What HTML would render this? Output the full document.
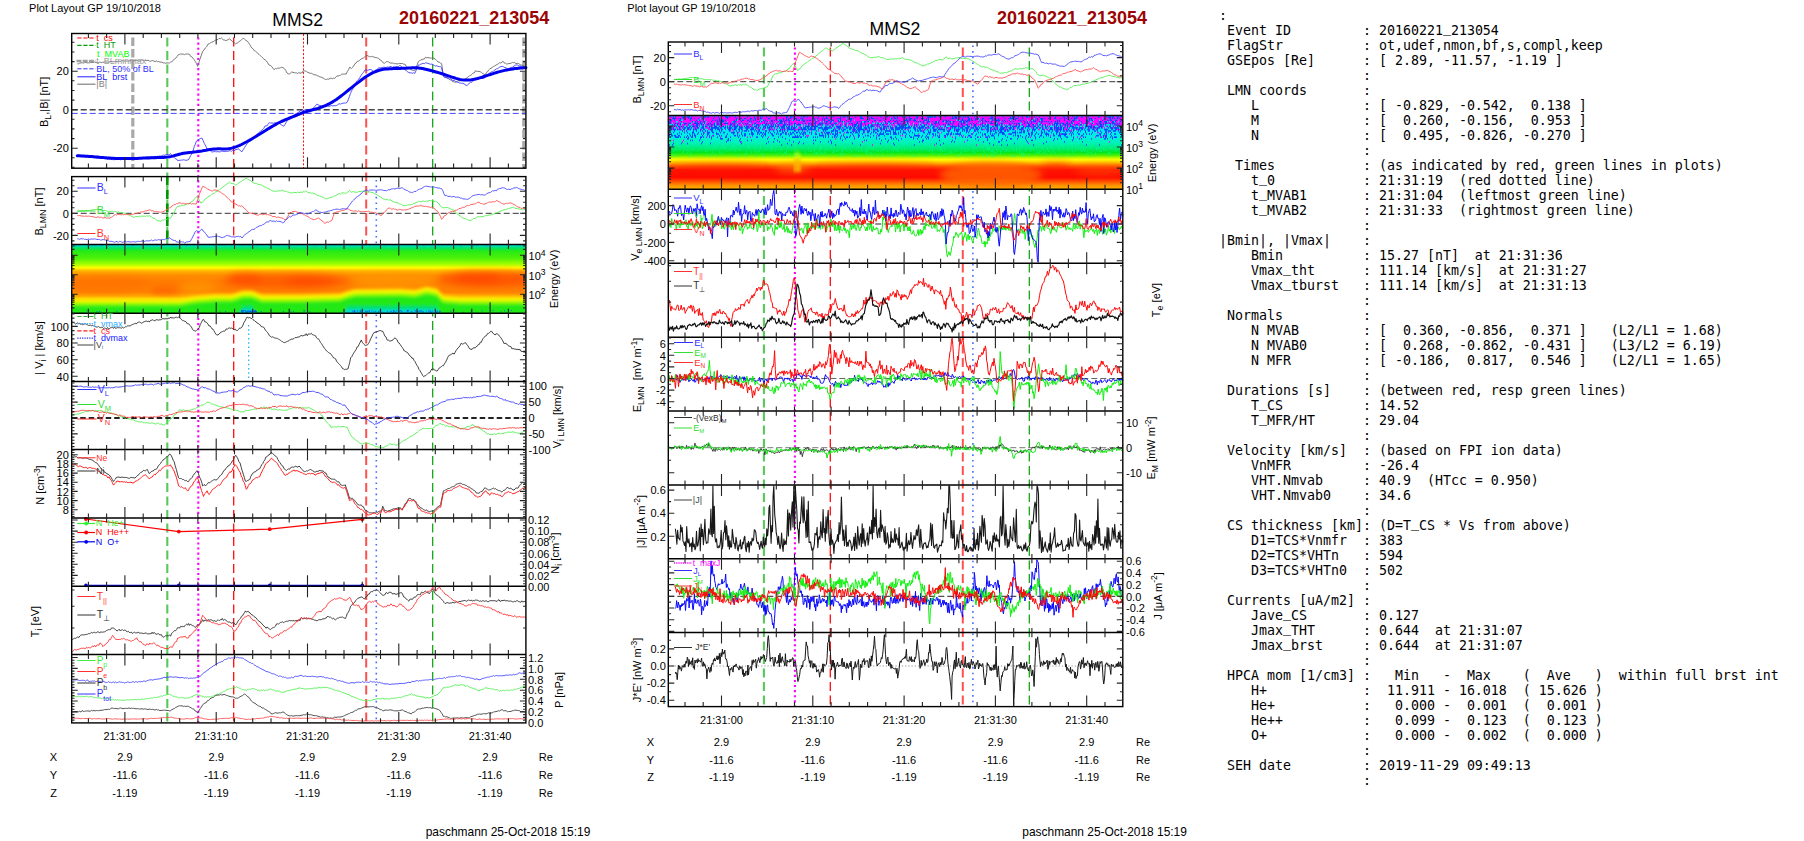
<!DOCTYPE html><html><head><meta charset="utf-8"><title>MMS2 20160221_213054</title>
<style>html,body{margin:0;padding:0;background:#fff;}body{width:1804px;height:841px;position:relative;overflow:hidden;}svg{position:absolute;left:0;top:0;font-family:"Liberation Sans",Arial,Helvetica,sans-serif;}pre{position:absolute;left:1219px;top:8px;margin:0;font-family:"DejaVu Sans Mono","Liberation Mono",monospace;font-size:13.29px;line-height:15px;color:#000;white-space:pre;}.u{position:relative;top:-3px;}</style></head><body>
<svg width="1804" height="841" viewBox="0 0 1804 841">
<defs>
<linearGradient id="gion" x1="0" y1="0" x2="0" y2="1"><stop offset="0.000" stop-color="#00dce0"/><stop offset="0.020" stop-color="#00e0c0"/><stop offset="0.050" stop-color="#00e464"/><stop offset="0.100" stop-color="#28ea14"/><stop offset="0.205" stop-color="#50f208"/><stop offset="0.285" stop-color="#a0ff00"/><stop offset="0.340" stop-color="#ffff00"/><stop offset="0.385" stop-color="#ffb400"/><stop offset="0.450" stop-color="#ff8c00"/><stop offset="0.540" stop-color="#ff7d00"/><stop offset="0.690" stop-color="#ff8200"/><stop offset="0.760" stop-color="#ffaa00"/><stop offset="0.805" stop-color="#fafa00"/><stop offset="0.850" stop-color="#82fa00"/><stop offset="0.905" stop-color="#1ee614"/><stop offset="0.955" stop-color="#0ae632"/><stop offset="0.985" stop-color="#00e65a"/><stop offset="1.000" stop-color="#00dcb4"/></linearGradient>
<linearGradient id="gele" x1="0" y1="0" x2="0" y2="1"><stop offset="0.000" stop-color="#00dcf5"/><stop offset="0.130" stop-color="#00e4f0"/><stop offset="0.220" stop-color="#00ecec"/><stop offset="0.300" stop-color="#00f0dc"/><stop offset="0.380" stop-color="#00f0b4"/><stop offset="0.450" stop-color="#00ec6e"/><stop offset="0.500" stop-color="#00e61e"/><stop offset="0.540" stop-color="#50f000"/><stop offset="0.575" stop-color="#c8fa00"/><stop offset="0.600" stop-color="#ffff00"/><stop offset="0.645" stop-color="#ffb400"/><stop offset="0.690" stop-color="#ff5000"/><stop offset="0.735" stop-color="#ff1400"/><stop offset="0.840" stop-color="#ff0a00"/><stop offset="0.895" stop-color="#ff5000"/><stop offset="0.940" stop-color="#ff8c00"/><stop offset="1.000" stop-color="#ffb400"/></linearGradient>
<radialGradient id="rb"><stop offset="0" stop-color="#ff3c00" stop-opacity="0.85"/><stop offset="0.6" stop-color="#ff4600" stop-opacity="0.45"/><stop offset="1" stop-color="#ff5000" stop-opacity="0"/></radialGradient>
<radialGradient id="ob"><stop offset="0" stop-color="#ffa000" stop-opacity="0.8"/><stop offset="1" stop-color="#ffa000" stop-opacity="0"/></radialGradient>
<radialGradient id="yb"><stop offset="0" stop-color="#c8ff00" stop-opacity="0.9"/><stop offset="1" stop-color="#c8ff00" stop-opacity="0"/></radialGradient>
<radialGradient id="gb"><stop offset="0" stop-color="#28e628" stop-opacity="0.9"/><stop offset="1" stop-color="#28e628" stop-opacity="0"/></radialGradient>
<radialGradient id="cb"><stop offset="0" stop-color="#00dcff" stop-opacity="0.9"/><stop offset="1" stop-color="#00dcff" stop-opacity="0"/></radialGradient>
<clipPath id="cpi"><rect x="71.7" y="244.4" width="454.2" height="68.9"/></clipPath>
<clipPath id="cpe"><rect x="668.3" y="115.5" width="454.5" height="73.8"/></clipPath>
<filter id="bl1" x="-5%" y="-50%" width="110%" height="200%"><feGaussianBlur stdDeviation="1.4"/></filter>
<filter id="bl3" x="-10%" y="-50%" width="120%" height="200%"><feGaussianBlur stdDeviation="3.5"/></filter>
</defs>
<line x1="167.3" y1="37.5" x2="167.3" y2="722.9" stroke="#58c858" stroke-width="2.1" stroke-dasharray="9 4.5" />
<line x1="198.3" y1="37.5" x2="198.3" y2="722.9" stroke="#ff00ff" stroke-width="2.1" stroke-dasharray="2.1 3.0" />
<line x1="233.7" y1="37.5" x2="233.7" y2="722.9" stroke="#ff0a0a" stroke-width="1.3" stroke-dasharray="9 4.5" />
<line x1="366.2" y1="37.5" x2="366.2" y2="722.9" stroke="#ff5050" stroke-width="2.0" stroke-dasharray="9 4.5" />
<line x1="432.7" y1="37.5" x2="432.7" y2="722.9" stroke="#00a000" stroke-width="1.2" stroke-dasharray="9 4.5" />
<line x1="376.3" y1="180.0" x2="376.3" y2="722.9" stroke="#4a6aff" stroke-width="1.6" stroke-dasharray="1.6 4" />
<line x1="167.3" y1="176.6" x2="167.3" y2="244.4" stroke="#009600" stroke-width="2.6" stroke-dasharray="9 4.5" />
<line x1="132.8" y1="37.5" x2="132.8" y2="168.2" stroke="#a8a8a8" stroke-width="3.2" stroke-dasharray="8.5 3" />
<line x1="523.8" y1="37.5" x2="523.8" y2="168.2" stroke="#a8a8a8" stroke-width="3.2" stroke-dasharray="8.5 3" />
<line x1="303.5" y1="34.0" x2="303.5" y2="168.2" stroke="#ff0000" stroke-width="0.9" stroke-dasharray="2.2 1.6" />
<line x1="248.7" y1="325.0" x2="248.7" y2="381.5" stroke="#00a8ff" stroke-width="1.1" stroke-dasharray="1.5 2.8" />
<rect x="71.7" y="244.4" width="454.2" height="68.9" fill="url(#gion)"/>
<g clip-path="url(#cpi)">
<g filter="url(#bl3)">
<ellipse cx="286.0" cy="281.0" rx="64.0" ry="7.5" fill="#ff4a00" opacity="0.60"/>
<ellipse cx="245.0" cy="278.5" rx="17.0" ry="6.0" fill="#ff3c00" opacity="0.50"/>
<ellipse cx="310.0" cy="281.5" rx="25.0" ry="6.0" fill="#ff3c00" opacity="0.50"/>
<ellipse cx="489.0" cy="279.0" rx="51.0" ry="8.0" fill="#ff4600" opacity="0.70"/>
<ellipse cx="477.5" cy="278.0" rx="22.5" ry="6.0" fill="#ff3c00" opacity="0.50"/>
<ellipse cx="165.0" cy="290.5" rx="15.0" ry="4.0" fill="#ff5000" opacity="0.60"/>
<ellipse cx="105.0" cy="284.0" rx="45.0" ry="9.0" fill="#ff6400" opacity="0.35"/>
<ellipse cx="394.0" cy="281.0" rx="42.0" ry="8.0" fill="#ffa000" opacity="0.55"/>
<ellipse cx="198.5" cy="287.0" rx="16.5" ry="7.0" fill="#ffa000" opacity="0.50"/>
</g>
<g filter="url(#bl1)">
<polygon points="60.0,297.8 180.0,297.8 195.0,295.3 215.0,293.8 232.0,293.8 243.0,290.3 252.0,290.3 262.0,294.3 300.0,294.3 340.0,293.3 347.0,290.8 355.0,288.8 400.0,288.3 415.0,289.3 427.0,286.3 437.0,288.3 443.0,294.8 460.0,296.3 540.0,296.3 540,330 60,330" fill="#ffc800"/>
<polygon points="60.0,299.8 180.0,299.8 195.0,297.3 215.0,295.8 232.0,295.8 243.0,292.3 252.0,292.3 262.0,296.3 300.0,296.3 340.0,295.3 347.0,292.8 355.0,290.8 400.0,290.3 415.0,291.3 427.0,288.3 437.0,290.3 443.0,296.8 460.0,298.3 540.0,298.3 540,330 60,330" fill="#f8f800"/>
<polygon points="60.0,302.6 180.0,302.6 195.0,300.1 215.0,298.6 232.0,298.6 243.0,295.1 252.0,295.1 262.0,299.1 300.0,299.1 340.0,298.1 347.0,295.6 355.0,293.6 400.0,293.1 415.0,294.1 427.0,291.1 437.0,293.1 443.0,299.6 460.0,301.1 540.0,301.1 540,330 60,330" fill="#8cfa00"/>
<polygon points="60.0,305.6 180.0,305.6 195.0,303.1 215.0,301.6 232.0,301.6 243.0,298.1 252.0,298.1 262.0,302.1 300.0,302.1 340.0,301.1 347.0,298.6 355.0,296.6 400.0,296.1 415.0,297.1 427.0,294.1 437.0,296.1 443.0,302.6 460.0,304.1 540.0,304.1 540,330 60,330" fill="#22e818"/>
<polygon points="60.0,325.0 180.0,325.0 195.0,325.0 215.0,325.0 232.0,325.0 243.0,305.8 252.0,305.8 262.0,325.0 300.0,325.0 340.0,325.0 347.0,305.8 355.0,305.8 400.0,305.8 415.0,305.8 427.0,305.8 437.0,305.8 443.0,325.0 460.0,325.0 540.0,325.0 540,330 60,330" fill="#00de6e"/>
<polygon points="60.0,325.0 180.0,325.0 195.0,325.0 215.0,325.0 232.0,325.0 243.0,309.6 252.0,309.6 262.0,325.0 300.0,325.0 340.0,325.0 347.0,309.6 355.0,309.6 400.0,309.6 415.0,309.6 427.0,309.6 437.0,309.6 443.0,325.0 460.0,325.0 540.0,325.0 540,330 60,330" fill="#00dcd8"/>
</g>
<path d="M245.2 311.6h1M240.9 311.9h1M248.8 311.3h1M354.2 311.5h1M248.7 311.3h1M250.2 311.2h1M282.9 311.6h1M420.2 311.4h1M254.0 311.4h1M242.6 310.9h1M387.0 311.3h1M247.3 312.2h1M439.4 311.0h1M254.2 311.4h1M252.2 312.2h1M429.5 311.0h1M255.8 312.0h1M393.6 311.8h1M398.1 311.1h1M96.5 311.6h1M393.3 311.5h1M241.8 310.6h1M368.7 310.6h1M293.1 311.4h1M407.4 310.8h1M352.1 311.1h1M254.6 311.0h1M365.0 311.2h1M421.0 310.8h1M251.8 310.5h1M367.4 311.5h1M438.9 312.1h1M247.5 311.4h1M371.2 310.9h1M366.1 312.1h1M255.1 311.0h1M361.4 311.2h1M392.7 312.3h1M415.4 311.5h1M369.0 311.4h1M252.2 310.7h1M481.6 310.8h1M303.3 310.9h1M249.7 311.3h1M245.2 310.7h1M116.3 311.3h1M432.1 311.1h1M393.0 310.6h1M260.7 311.5h1M241.2 310.7h1M414.5 310.6h1M435.7 312.0h1M380.5 312.1h1M390.5 311.7h1M396.1 310.6h1M353.6 310.9h1M500.5 312.0h1M254.7 310.9h1M242.9 310.9h1M462.8 312.3h1M255.9 311.4h1M359.9 310.6h1M397.8 311.8h1M439.5 311.4h1M366.5 311.3h1M437.3 311.7h1M407.2 310.5h1M470.6 312.0h1M428.3 311.2h1M251.1 311.8h1M399.2 311.9h1M380.2 311.9h1M252.4 311.6h1M406.7 311.1h1M219.7 312.0h1M450.4 311.0h1M253.0 310.8h1M430.4 312.1h1M242.6 311.3h1M250.0 311.5h1M241.1 311.0h1M422.8 311.9h1M426.1 310.9h1M357.0 311.1h1M290.5 311.8h1M410.8 311.5h1M247.5 310.6h1M510.6 310.5h1M246.2 312.0h1M361.9 310.7h1M251.3 312.0h1M401.4 311.7h1M412.1 312.1h1M431.1 312.2h1M356.9 310.8h1M354.6 311.9h1M241.1 310.7h1M406.8 311.0h1M390.6 311.4h1M365.4 311.8h1M373.4 311.4h1M106.1 311.3h1M380.0 311.9h1M400.0 310.7h1M309.4 311.8h1M394.8 312.1h1M408.1 310.8h1M393.4 310.6h1M492.5 310.5h1M244.0 310.6h1M251.5 312.3h1M401.2 311.2h1M418.7 311.4h1M249.3 311.3h1M375.1 311.4h1M436.5 312.2h1M429.6 311.1h1M225.1 311.6h1M246.3 311.9h1M378.1 311.8h1M359.8 311.4h1M254.6 311.9h1M99.2 311.5h1M378.3 311.7h1M86.4 310.8h1M255.8 311.7h1M436.8 310.9h1M422.4 311.6h1M254.7 311.2h1M242.1 312.2h1M417.3 311.6h1M353.9 310.6h1M244.8 312.3h1M504.1 310.9h1M254.6 310.9h1M419.6 310.7h1M303.9 310.9h1M353.0 312.0h1M359.5 312.1h1M178.1 311.5h1" stroke="#0050f0" stroke-width="1" fill="none" opacity="0.8"/>
<path d="M475.7 245.4h1M316.0 245.8h1M416.1 245.8h1M205.1 245.4h1M193.3 245.4h1M189.9 245.6h1M156.1 245.4h1M199.5 245.9h1M157.3 245.3h1M186.0 245.4h1M310.4 245.7h1M117.5 245.6h1M88.8 245.2h1M471.9 245.4h1M275.1 245.5h1M469.2 245.4h1M94.8 245.7h1M447.1 245.4h1M106.0 245.6h1M152.5 245.7h1M423.1 245.7h1M74.9 245.7h1M393.5 245.5h1M89.0 245.5h1M92.0 246.0h1M89.3 245.8h1M486.0 245.9h1M442.9 245.5h1M240.4 245.7h1M107.3 245.2h1M296.5 245.6h1M256.9 245.8h1M372.8 245.3h1M313.9 245.7h1M252.2 245.4h1M519.7 245.7h1M261.3 245.2h1M409.6 245.9h1M259.6 245.2h1M419.3 245.8h1M363.9 245.5h1M255.5 246.0h1M268.7 245.3h1M123.4 245.3h1M333.7 245.5h1M422.2 245.3h1M95.4 245.3h1M437.3 245.5h1M331.5 245.9h1M406.0 245.3h1M229.6 245.3h1M149.8 245.3h1M245.8 245.8h1M430.8 245.8h1M208.6 245.9h1M91.7 245.9h1M214.5 245.7h1M360.3 245.3h1M394.7 245.8h1M475.7 245.7h1M460.0 245.7h1M350.5 245.4h1M286.2 245.7h1M90.9 246.0h1M142.9 245.5h1M139.7 246.0h1M441.5 245.4h1M472.4 245.9h1M376.5 245.7h1M218.9 245.5h1M278.4 245.9h1M424.5 245.7h1M211.6 245.4h1M248.3 245.5h1M300.1 245.3h1M73.6 246.0h1M282.8 245.6h1M352.2 245.9h1M451.0 245.8h1M253.4 245.3h1M234.4 245.5h1M435.4 245.6h1M369.7 245.2h1M131.0 245.9h1M214.1 245.8h1M108.2 245.8h1M477.4 245.7h1M427.3 245.2h1M102.1 245.7h1M385.7 245.3h1M131.6 245.9h1M202.4 245.8h1M432.1 245.7h1M398.6 245.4h1M449.4 245.7h1M186.3 245.5h1M349.9 245.9h1M278.8 245.4h1M508.8 245.6h1M340.1 245.7h1M179.5 245.5h1M162.1 245.5h1M360.4 245.4h1M220.5 245.5h1M430.8 245.4h1M420.0 245.2h1M460.8 246.0h1M277.2 245.6h1M384.0 245.9h1M186.2 245.6h1M460.0 245.8h1M240.3 245.5h1M239.1 245.3h1M221.9 245.3h1M176.2 245.7h1M506.0 245.4h1M305.8 245.4h1M509.6 245.9h1M492.6 245.9h1M404.1 245.8h1M172.4 245.4h1M355.4 245.5h1M236.9 245.2h1M293.2 245.7h1M92.6 245.2h1M328.9 245.4h1M309.0 245.6h1M259.2 245.4h1M132.6 245.5h1M447.3 245.3h1M78.4 245.8h1M392.5 245.6h1M100.8 245.3h1M373.5 245.4h1M439.6 246.0h1M97.4 245.9h1M476.4 245.7h1M334.0 245.7h1M306.5 245.6h1M146.8 245.2h1M99.9 245.2h1M156.1 245.3h1M485.0 245.3h1M349.5 245.7h1M161.4 245.5h1M306.8 245.7h1M365.4 245.5h1M349.8 245.6h1M100.9 245.7h1M522.3 245.8h1M288.5 245.6h1M241.9 245.5h1M485.3 245.3h1M369.0 245.3h1M523.5 245.4h1M363.7 245.3h1M475.7 245.9h1M499.1 245.4h1M95.8 245.7h1M379.7 245.7h1M487.5 246.0h1M205.9 245.9h1M477.1 245.3h1M301.9 245.3h1M481.8 245.9h1M163.9 245.3h1M486.5 245.4h1M248.1 245.7h1M243.9 245.9h1M489.5 246.0h1M453.2 245.6h1M285.9 245.6h1M74.9 245.2h1M504.9 245.4h1M472.8 245.8h1M249.4 245.7h1M328.0 245.3h1M86.9 245.3h1M353.8 245.3h1M514.8 245.8h1M86.0 245.3h1M363.5 245.2h1M102.7 245.2h1M460.0 245.8h1M162.3 246.0h1M313.9 245.7h1M470.5 245.8h1M394.2 245.5h1M183.7 245.4h1M87.3 246.0h1M484.7 245.8h1M111.6 245.8h1M358.4 245.6h1M132.1 245.8h1M364.8 245.4h1M224.4 245.4h1M231.0 245.9h1M93.9 245.8h1M484.4 245.8h1M344.7 245.6h1" stroke="#00a0e8" stroke-width="1" fill="none" opacity="0.5"/>
</g>
<line x1="71.7" y1="109.7" x2="525.9" y2="109.7" stroke="#444" stroke-width="1.6" stroke-dasharray="6 3" />
<line x1="71.7" y1="113.4" x2="525.9" y2="113.4" stroke="#4848ff" stroke-width="1.0" stroke-dasharray="6 3" />
<line x1="71.7" y1="213.3" x2="525.9" y2="213.3" stroke="#333" stroke-width="1.0" stroke-dasharray="6 3" />
<line x1="71.7" y1="418.0" x2="525.9" y2="418.0" stroke="#222" stroke-width="1.8" stroke-dasharray="5.5 3" />
<path d="M77.3 63.8L78.5 63.8L79.7 63.2L81.0 62.9L82.2 62.7L83.4 63.1L84.6 62.6L85.9 62.4L87.1 62.9L88.3 62.8L89.5 62.9L90.8 62.4L92.0 62.6L93.2 62.5L94.4 62.0L95.7 62.6L96.9 62.5L98.0 63.2L99.2 62.3L100.4 62.2L101.6 62.6L102.8 62.2L104.0 62.3L105.2 61.8L106.4 62.0L107.6 62.2L108.7 62.0L109.9 61.8L111.1 61.3L112.3 61.8L113.5 61.6L114.7 61.7L115.9 61.5L117.1 61.8L118.3 61.3L119.4 61.3L120.6 61.4L121.8 60.8L123.0 60.9L124.2 60.8L125.4 61.7L126.6 60.9L127.8 61.1L128.9 61.0L130.1 60.6L131.3 60.1L132.5 61.0L133.7 60.5L134.9 60.8L136.1 60.1L137.3 60.4L138.5 60.9L139.6 61.0L140.8 60.0L142.0 59.9L143.2 60.4L144.4 60.6L145.6 60.4L146.8 60.6L148.0 60.2L149.2 60.9L150.3 61.3L151.5 60.8L152.7 60.6L153.9 61.0L155.1 61.7L156.3 60.9L157.5 61.7L158.7 61.5L159.9 62.0L161.0 62.1L162.2 62.4L163.4 63.0L164.6 62.8L165.8 63.3L167.0 62.9L168.2 62.8L169.4 63.1L170.6 62.0L171.8 61.7L173.1 60.6L174.4 58.9L175.7 58.3L176.9 56.7L178.2 54.8L179.5 54.3L180.7 54.0L182.0 54.1L183.3 54.1L184.6 54.6L185.8 54.1L187.1 54.0L188.4 54.0L189.5 54.3L190.6 56.4L191.7 56.6L192.8 58.1L194.0 59.5L195.3 61.5L196.5 63.6L197.7 66.3L198.9 62.4L200.2 58.5L201.4 55.1L202.7 51.3L204.0 50.0L205.3 48.0L206.7 46.7L208.0 44.1L209.3 43.7L210.6 42.8L211.8 42.1L213.1 41.8L214.4 40.8L215.6 40.2L216.9 39.7L218.0 39.4L219.1 38.3L220.3 38.8L221.4 37.8L222.5 38.9L223.6 40.2L224.7 40.0L225.8 40.6L227.0 40.2L228.2 39.5L229.4 38.9L230.6 39.6L231.9 41.2L233.1 42.1L234.4 42.7L235.6 43.8L236.8 43.2L237.9 42.6L239.1 41.6L240.2 40.9L241.4 39.8L242.5 38.8L243.7 38.2L244.9 39.6L246.0 40.5L247.2 41.1L248.4 42.5L249.6 44.4L250.8 46.5L252.0 48.1L253.2 49.0L254.4 50.8L255.6 51.2L256.7 52.2L257.9 53.6L259.1 54.4L260.3 55.7L261.5 56.6L262.7 57.8L264.0 59.3L265.2 59.9L266.5 61.0L267.7 62.9L269.0 65.0L270.2 65.4L271.5 66.2L272.7 68.0L274.0 69.7L275.3 68.5L276.5 68.8L277.8 68.0L279.1 68.3L280.3 67.8L281.6 67.3L282.9 67.6L284.2 68.5L285.6 70.2L286.9 72.9L288.2 73.7L289.4 74.2L290.6 72.8L291.8 71.9L293.0 72.4L294.2 72.7L295.3 72.9L296.5 72.9L297.7 73.5L298.8 72.5L300.0 73.3L301.1 72.8L302.1 72.9L303.2 70.9L304.3 70.9L305.5 71.0L306.6 71.6L307.8 72.4L309.0 72.7L310.2 73.5L311.4 73.2L312.6 73.9L313.8 74.6L315.0 74.9L316.1 74.9L317.3 75.9L318.4 75.7L319.6 77.1L320.8 77.0L321.9 77.4L323.1 78.0L324.2 78.7L325.4 79.5L326.6 79.3L327.7 79.1L328.8 79.2L330.0 78.5L331.1 78.1L332.3 78.8L333.4 78.2L334.6 78.5L335.8 77.1L337.0 75.8L338.1 76.2L339.3 75.5L340.5 75.3L341.7 74.2L342.8 74.1L343.9 74.2L345.1 73.9L346.2 74.1L347.4 71.4L348.5 69.8L349.7 67.2L351.5 68.5L352.6 67.4L353.7 65.9L354.9 63.7L356.0 63.1L357.2 61.4L358.4 61.1L359.7 60.3L360.9 59.2L362.1 58.4L363.3 58.1L364.6 57.0L365.8 56.0L366.9 55.4L368.1 55.9L369.3 56.8L370.4 56.6L371.6 56.4L372.7 56.7L373.9 57.0L375.1 57.5L376.2 57.6L377.4 58.0L378.6 58.3L379.8 59.9L380.9 60.3L382.1 61.3L383.3 63.0L384.5 63.4L386.3 61.5L387.5 61.7L388.7 61.9L389.9 62.9L391.0 63.1L392.2 63.1L393.4 63.2L394.6 63.7L395.8 63.6L397.0 64.0L398.3 63.7L399.7 63.4L401.0 63.6L402.3 63.4L403.6 64.2L404.9 64.1L406.2 66.3L407.4 66.9L408.7 67.5L410.0 68.6L411.3 70.0L412.4 70.3L413.6 70.5L414.8 70.5L416.0 67.5L417.2 64.8L418.4 61.5L419.6 60.6L420.8 60.0L422.0 59.5L423.1 59.1L424.3 59.1L425.5 57.2L426.7 57.8L427.9 57.6L429.1 57.7L430.3 58.1L431.5 58.1L432.7 57.6L434.0 58.4L435.3 59.1L436.7 60.5L438.0 62.0L439.2 62.1L440.4 63.0L441.6 63.6L443.4 76.0L444.5 76.9L445.7 77.2L446.9 77.6L448.1 78.2L449.3 79.6L450.5 79.9L451.7 80.6L452.9 81.7L454.1 81.8L455.2 82.4L456.4 81.7L457.6 81.0L458.8 80.7L460.0 81.0L461.2 79.9L462.4 79.8L463.6 79.7L464.8 79.5L465.9 78.5L467.1 77.7L468.3 76.6L469.5 75.8L470.7 75.4L471.9 74.3L473.1 73.0L474.3 72.9L475.4 70.7L476.6 71.3L477.8 71.4L479.0 71.3L480.3 71.8L481.5 72.4L482.8 73.6L484.0 74.1L485.3 75.1L486.4 72.4L487.5 71.9L488.6 70.0L489.7 69.0L491.0 68.2L492.2 67.5L493.5 66.4L494.7 66.0L496.0 65.0L497.2 64.5L498.5 63.6L499.7 62.7L500.9 63.0L502.2 61.8L503.3 61.5L504.4 63.2L505.5 63.1L506.7 64.1L507.8 63.8L508.9 63.5L510.1 63.5L511.2 63.1L512.4 62.4L513.5 62.7L514.7 62.6L515.9 63.6L517.2 63.3L518.4 63.5L519.7 64.3L520.9 65.2L522.2 65.1L523.4 65.7L524.7 66.6L525.9 66.9" fill="none" stroke="#6a6a6a" stroke-width="0.9" stroke-linejoin="round" />
<path d="M77.3 156.8L78.5 156.0L79.7 156.4L80.9 156.5L82.1 156.8L83.3 156.2L84.5 156.7L85.7 156.7L86.9 156.7L88.2 156.9L89.4 157.1L90.6 157.3L91.8 157.2L93.0 157.7L94.2 157.6L95.4 156.9L96.6 158.3L97.8 158.0L99.0 158.0L100.2 158.4L101.4 158.5L102.6 158.6L103.8 158.4L105.0 158.9L106.3 158.5L107.5 159.5L108.7 158.8L109.9 159.2L111.1 159.4L112.3 159.6L113.5 159.6L114.7 159.7L115.9 158.5L117.1 159.5L118.3 159.4L119.4 159.3L120.6 159.8L121.8 159.0L123.0 159.3L124.2 158.7L125.4 159.3L126.6 158.7L127.8 158.7L128.9 159.8L130.1 159.3L131.3 159.1L132.5 159.0L133.7 158.4L134.9 158.4L136.1 158.7L137.3 157.8L138.5 158.4L139.6 157.6L140.8 158.1L142.0 157.6L143.2 158.3L144.4 158.0L145.6 157.4L146.8 156.8L148.0 157.0L149.2 157.1L150.3 156.7L151.5 157.0L152.7 157.1L153.9 156.6L155.1 156.4L156.3 156.6L157.5 156.2L158.7 156.4L159.9 155.9L161.0 156.3L162.2 155.5L163.4 155.1L164.6 155.3L165.8 154.8L167.0 154.5L168.2 154.6L169.4 154.7L170.6 153.6L171.7 155.3L172.9 156.3L174.1 157.3L175.3 158.6L176.5 159.0L177.7 160.7L178.9 160.3L180.1 160.3L181.3 160.1L182.4 160.0L183.6 159.8L184.8 160.0L186.0 160.4L187.2 160.0L188.4 159.9L189.6 157.7L190.8 155.3L192.0 153.5L193.1 150.9L194.2 146.7L195.3 144.2L196.4 141.2L197.7 140.1L199.1 139.3L200.4 138.6L201.8 138.0L203.1 140.6L204.4 143.6L205.8 146.1L207.1 149.2L208.2 149.6L209.3 150.3L210.5 150.8L211.6 151.8L212.8 152.0L214.1 151.5L215.4 151.7L216.7 151.8L217.9 151.6L219.2 151.9L220.5 151.7L221.7 151.2L222.9 151.1L224.1 151.6L225.3 151.5L226.6 151.5L227.8 151.2L229.0 151.1L230.2 150.5L231.4 151.3L232.6 150.5L233.9 151.0L235.0 149.9L236.1 149.6L237.2 149.4L238.3 148.8L239.5 149.6L240.7 151.0L241.9 151.8L243.2 149.7L244.6 147.5L245.9 145.3L247.2 143.4L248.4 142.3L249.6 141.3L250.8 140.5L252.0 139.1L253.2 137.8L254.4 136.7L255.6 136.2L256.7 134.7L257.9 133.6L259.1 132.5L260.3 131.5L261.5 130.2L262.6 129.5L263.8 128.3L264.9 126.1L266.1 125.9L267.2 125.7L268.4 123.4L269.5 122.8L270.7 123.1L272.0 122.9L273.2 123.4L274.4 122.7L275.7 122.8L276.9 123.2L278.1 123.1L279.3 123.1L280.4 124.3L281.6 124.9L282.7 125.6L283.8 126.2L285.0 124.4L286.2 122.3L287.4 120.2L288.5 119.7L289.7 118.7L290.8 117.7L292.0 117.0L293.1 115.6L294.3 115.0L295.4 114.0L296.6 113.7L297.7 112.5L298.9 112.1L300.0 111.1L301.1 110.4L302.3 110.0L303.4 110.4L304.6 110.0L305.8 109.8L307.1 109.4L308.3 109.7L309.5 109.4L310.7 109.3L312.0 109.1L313.2 108.5L314.4 106.7L315.6 105.8L316.7 104.2L317.9 104.6L319.1 105.4L320.3 105.5L321.5 106.3L322.7 106.3L323.9 106.9L325.1 106.7L326.4 106.6L327.6 105.9L328.9 106.4L330.1 106.0L331.4 105.5L332.6 105.9L333.9 105.6L335.1 105.8L336.4 105.5L337.7 104.8L339.0 103.7L340.4 104.1L341.7 103.5L343.0 103.2L344.4 103.0L345.7 103.1L347.1 102.3L348.2 99.9L349.3 96.8L350.4 93.6L351.5 91.1L352.6 89.1L353.7 87.5L354.9 85.2L356.0 82.5L357.3 80.6L358.5 79.4L359.8 77.5L361.1 75.5L362.3 73.6L363.6 72.2L364.9 70.1L366.2 70.0L367.6 70.3L368.9 69.9L370.2 69.4L371.4 69.8L372.6 70.7L373.8 71.9L375.1 70.3L376.5 70.1L377.8 68.5L379.2 67.7L380.3 67.9L381.5 67.4L382.7 67.5L383.9 67.0L385.1 67.5L386.3 67.5L387.5 66.9L388.7 67.1L389.9 66.8L391.0 66.2L392.2 67.5L393.4 66.8L394.6 66.8L395.8 66.5L397.0 66.4L398.2 66.9L399.4 65.6L400.6 65.9L401.7 66.9L402.9 68.0L404.1 69.3L405.3 70.0L406.5 70.8L407.7 71.9L408.9 72.5L410.1 72.8L411.3 72.9L412.4 73.3L413.6 72.8L414.8 73.4L416.0 70.7L417.2 67.7L418.4 64.9L419.6 65.0L420.8 64.1L422.0 63.9L423.1 63.3L424.3 63.7L425.5 62.8L426.8 63.0L428.0 63.4L429.3 63.8L430.5 64.3L431.8 64.1L433.0 64.6L434.3 65.5L435.5 66.0L436.8 65.7L438.0 66.4L439.2 66.7L440.4 66.6L441.6 67.7L443.4 76.4L444.6 77.4L445.8 77.5L447.0 78.1L448.2 78.1L449.5 79.0L450.7 78.8L451.9 79.9L453.1 80.7L454.3 80.4L455.6 81.5L456.8 82.1L458.0 82.1L459.2 82.9L460.4 83.0L461.7 83.3L462.9 83.3L464.1 84.0L465.3 84.4L466.5 86.0L467.8 84.5L469.1 83.5L470.4 82.3L471.6 82.4L472.9 80.7L474.2 80.7L475.4 79.7L476.7 79.2L478.0 78.7L479.3 78.6L480.5 78.0L481.8 78.3L483.1 78.4L484.4 77.9L485.6 76.9L486.7 75.4L487.9 74.8L489.1 73.4L490.3 72.6L491.5 71.9L492.7 71.9L493.9 70.6L495.1 69.9L496.3 68.8L497.4 68.8L498.6 67.9L499.8 67.1L501.0 66.5L502.2 66.4L503.5 66.8L504.9 67.7L506.2 68.0L507.5 68.7L508.8 68.6L510.1 67.9L511.4 67.4L512.6 67.1L513.9 66.2L515.2 65.3L516.5 64.9L517.6 65.0L518.8 65.9L520.0 66.0L521.2 66.6L522.4 67.0L523.6 66.9L524.7 67.5L525.9 68.2" fill="none" stroke="#2a2aff" stroke-width="0.8" stroke-linejoin="round" />
<path d="M77.3 155.8L79.3 155.8L81.4 155.9L83.4 156.0L85.5 156.2L87.5 156.3L89.5 156.5L91.6 156.6L93.6 156.8L95.7 157.0L97.6 157.1L99.6 157.3L101.6 157.4L103.6 157.6L105.6 157.7L107.6 157.9L109.5 158.0L111.5 158.2L113.5 158.3L115.5 158.4L117.5 158.4L119.4 158.5L121.4 158.5L123.4 158.6L125.4 158.6L127.4 158.6L129.3 158.6L131.3 158.6L133.3 158.6L135.3 158.5L137.3 158.4L139.3 158.3L141.2 158.2L143.2 158.1L145.2 158.1L147.2 158.0L149.2 157.9L151.2 157.8L153.3 157.7L155.3 157.7L157.4 157.6L159.4 157.6L161.5 157.5L163.5 157.5L165.6 157.3L167.6 157.1L169.7 156.8L171.6 156.4L173.5 155.9L175.5 155.3L177.4 154.8L179.3 154.2L181.3 153.8L183.4 153.3L185.5 153.0L187.6 152.7L189.7 152.5L191.8 152.3L194.0 152.0L196.1 151.8L198.2 151.5L200.2 151.2L202.2 150.9L204.1 150.5L206.1 150.2L208.1 149.8L210.1 149.5L212.1 149.2L214.0 149.0L216.0 148.9L218.0 148.8L220.0 148.8L221.9 148.9L223.9 148.9L225.8 148.9L227.8 148.8L229.8 148.5L231.9 148.1L233.9 147.5L235.8 146.9L237.7 146.2L239.6 145.4L241.5 144.5L243.4 143.5L245.3 142.5L247.2 141.5L249.3 140.4L251.3 139.2L253.3 138.0L255.4 136.7L257.4 135.4L259.5 134.2L261.5 133.0L263.5 131.7L265.5 130.5L267.4 129.3L269.4 128.1L271.4 126.9L273.4 125.7L275.4 124.6L277.3 123.5L279.3 122.5L281.4 121.5L283.5 120.6L285.5 119.7L287.6 118.8L289.7 118.0L291.7 117.2L293.8 116.3L295.9 115.5L297.9 114.7L300.0 113.9L301.7 113.2L303.4 112.5L305.4 111.9L307.5 111.3L309.5 110.7L311.6 110.1L313.6 109.5L315.7 109.0L317.7 108.4L319.8 107.7L321.8 107.0L323.9 106.2L326.0 105.3L328.0 104.3L330.1 103.3L332.2 102.1L334.3 100.8L336.4 99.4L338.4 98.0L340.4 96.5L342.5 94.9L344.5 93.3L346.6 91.6L348.6 90.0L350.6 88.4L352.6 86.8L354.6 85.2L356.6 83.6L358.7 82.1L360.7 80.5L362.7 79.0L364.7 77.6L366.7 76.3L368.8 75.0L370.8 73.8L372.9 72.7L375.0 71.8L377.1 71.0L379.2 70.3L381.3 69.8L383.4 69.3L385.6 69.1L387.7 68.9L389.9 68.8L391.9 68.7L393.9 68.6L396.0 68.5L398.0 68.5L400.0 68.4L402.1 68.3L404.1 68.3L406.2 68.2L408.2 68.1L410.2 67.9L412.3 67.8L414.3 67.8L416.4 67.8L418.4 68.0L420.5 68.2L422.5 68.5L424.6 69.0L426.7 69.5L428.8 70.0L430.9 70.5L433.0 71.1L435.0 71.7L437.1 72.3L439.2 72.9L441.3 73.5L443.4 74.2L445.5 75.0L447.6 75.7L449.8 76.4L451.9 77.1L454.1 77.8L456.0 78.4L457.9 78.9L459.8 79.4L461.8 79.7L463.7 79.9L465.6 80.1L467.6 80.1L469.6 80.0L471.5 79.8L473.5 79.4L475.4 79.0L477.6 78.5L479.7 77.9L481.9 77.3L484.0 76.5L486.1 75.8L488.2 75.1L490.3 74.5L492.4 73.8L494.5 73.1L496.6 72.5L498.6 71.9L500.7 71.4L502.7 70.9L504.7 70.4L506.8 70.0L508.8 69.6L510.9 69.2L512.9 68.9L514.8 68.6L516.6 68.4L518.5 68.2L520.3 68.0L522.2 67.9L524.1 67.8L525.9 67.7" fill="none" stroke="#0000ee" stroke-width="3.0" stroke-linejoin="round" stroke-linecap="round"/>
<path d="M77.3 211.4L78.5 211.6L79.7 210.9L81.0 211.3L82.2 210.8L83.4 210.7L84.6 211.2L85.9 210.6L87.1 210.4L88.3 210.5L89.5 210.5L90.8 210.1L92.0 210.1L93.2 209.5L94.4 209.6L95.7 209.5L96.9 209.3L98.0 209.4L99.2 209.6L100.4 210.1L101.6 210.3L102.8 210.4L104.0 210.7L105.2 210.4L106.4 211.0L107.6 211.2L108.7 211.5L109.9 211.2L111.1 211.5L112.3 211.1L113.5 211.8L114.7 211.3L115.9 211.7L117.1 212.5L118.3 211.6L119.4 212.6L120.6 212.6L121.8 212.5L123.0 212.8L124.2 213.0L125.5 213.7L126.7 214.0L128.0 214.5L129.3 215.2L130.6 215.7L131.8 216.6L133.1 217.0L134.3 217.5L135.6 216.5L136.8 216.6L138.0 216.5L139.3 216.1L140.5 217.2L141.8 215.8L143.0 216.3L144.2 216.1L145.5 216.7L146.7 215.5L147.9 216.3L149.2 215.6L150.4 216.4L151.6 217.0L152.8 218.0L154.1 218.2L155.3 219.1L156.5 219.9L157.7 221.1L159.0 220.5L160.1 221.3L161.3 220.8L162.4 220.1L163.6 220.0L164.7 219.5L165.8 219.8L167.0 219.1L168.2 218.7L169.4 218.4L170.6 218.1L171.7 216.2L172.9 214.0L174.1 213.0L175.3 209.8L176.5 207.4L177.7 206.5L178.9 206.2L180.1 206.1L181.3 205.6L182.4 205.3L183.6 205.2L184.8 205.1L186.2 204.2L187.5 203.8L188.8 204.0L190.2 203.1L191.4 201.6L192.5 201.5L193.7 199.9L194.9 198.4L196.1 197.1L197.3 196.5L198.5 198.5L199.7 200.8L200.9 203.1L202.1 202.2L203.2 201.6L204.4 200.0L205.6 198.6L206.8 198.1L208.0 196.8L209.3 196.2L210.6 195.6L211.8 194.4L213.1 193.6L214.4 192.9L215.6 191.8L216.9 191.6L218.2 190.9L219.4 189.7L220.7 188.7L221.9 187.8L223.2 186.7L224.4 185.8L225.7 185.0L226.9 184.0L228.2 183.2L229.4 182.0L230.6 183.1L231.9 183.6L233.1 183.7L234.4 183.9L235.6 185.2L236.8 184.7L238.0 183.4L239.2 182.6L240.4 181.8L241.6 181.4L242.8 180.1L244.0 179.9L245.2 178.7L246.3 178.3L247.6 178.9L248.8 179.7L250.1 180.3L251.3 181.4L252.6 182.4L253.9 183.1L255.1 183.3L256.4 183.4L257.7 184.1L259.0 184.7L260.2 184.7L261.5 185.0L262.7 185.7L264.0 186.6L265.2 187.2L266.5 187.4L267.7 188.4L269.0 188.8L270.2 189.3L271.5 190.5L272.7 191.0L274.0 191.2L275.3 191.3L276.5 191.3L277.8 190.8L279.1 190.9L280.3 191.0L281.6 190.1L282.9 190.6L284.1 191.1L285.3 191.4L286.5 191.3L287.7 192.1L288.8 192.2L290.0 193.0L291.3 192.9L292.5 192.8L293.8 192.4L295.0 192.4L296.3 192.7L297.5 192.2L298.8 192.5L300.0 192.4L301.1 192.0L302.1 192.6L303.2 191.6L304.3 192.0L305.5 191.1L306.6 191.3L307.8 192.6L309.0 192.8L310.2 192.8L311.4 193.2L312.6 192.9L313.8 193.6L315.0 193.8L316.1 194.5L317.3 195.3L318.4 195.5L319.6 196.1L320.8 196.3L321.9 196.8L323.1 197.5L324.2 197.8L325.4 198.8L326.6 198.6L327.7 199.0L328.8 197.7L330.0 197.9L331.1 196.9L332.3 197.2L333.4 196.3L334.6 196.0L335.8 195.6L337.0 194.8L338.1 194.2L339.3 193.5L340.5 194.0L341.7 193.0L343.0 192.9L344.4 193.0L345.7 193.5L347.1 192.3L348.4 191.7L349.7 190.4L351.5 192.4L352.7 191.6L354.0 191.9L355.2 192.2L356.4 192.3L357.6 192.2L358.9 191.4L360.1 191.5L361.3 191.4L362.5 191.1L363.7 191.2L364.9 191.9L366.1 191.9L367.3 191.9L368.5 192.4L369.6 191.8L370.8 192.3L372.0 192.3L373.4 192.9L374.7 193.8L376.0 194.3L377.4 195.0L378.6 195.8L379.8 197.0L380.9 197.1L382.1 198.2L383.3 198.9L384.5 199.3L385.8 199.8L387.2 199.4L388.5 200.2L389.9 199.7L391.0 200.3L392.2 201.0L393.4 201.6L394.6 202.1L395.8 202.6L397.0 202.7L398.2 203.0L399.4 203.9L400.6 204.3L401.7 204.4L402.9 205.5L404.1 205.7L405.3 205.2L406.5 205.5L407.7 204.8L408.9 204.8L410.1 205.0L411.3 204.3L412.4 204.3L413.6 203.4L414.8 203.5L416.0 202.5L417.2 202.3L418.4 201.3L419.6 201.5L420.8 201.8L422.0 201.6L423.1 200.8L424.3 201.6L425.5 201.5L426.7 200.9L427.9 201.3L429.1 200.4L430.3 200.6L431.5 200.8L432.7 200.7L434.0 201.4L435.3 201.3L436.7 201.8L438.0 203.1L439.2 204.0L440.4 205.9L441.6 207.1L442.9 207.8L444.2 207.7L445.6 207.6L446.9 207.5L448.1 207.9L449.3 208.2L450.5 208.9L451.7 209.3L452.9 209.8L454.1 210.0L455.2 211.9L456.4 212.6L457.6 214.1L458.8 215.3L460.0 215.8L461.2 216.7L462.5 218.1L463.7 218.2L465.0 218.8L466.3 219.2L467.6 219.8L468.8 220.0L470.1 220.8L471.3 220.1L472.5 219.6L473.7 218.3L474.9 218.7L476.0 217.9L477.2 216.7L478.4 216.8L479.6 216.9L480.8 216.8L482.0 216.5L483.2 216.7L484.4 216.1L485.6 215.6L486.7 215.5L487.9 215.7L489.2 214.9L490.5 215.0L491.8 214.6L493.0 214.1L494.3 213.9L495.6 213.1L496.8 212.8L498.0 212.2L499.2 211.7L500.4 211.0L501.6 210.8L502.8 210.2L504.0 209.7L505.2 209.7L506.4 209.4L507.5 208.7L508.7 208.7L509.9 208.2L511.1 207.8L512.4 207.5L513.7 207.4L514.9 208.2L516.2 208.4L517.5 208.7L518.8 208.8L520.0 209.3L521.2 209.1L522.4 209.8L523.6 209.7L524.7 209.6L525.9 210.5" fill="none" stroke="#50f050" stroke-width="0.9" stroke-linejoin="round" />
<path d="M77.3 215.5L78.5 215.7L79.7 215.5L81.0 215.9L82.2 216.1L83.4 216.1L84.6 216.5L85.9 215.9L87.1 216.3L88.3 216.1L89.5 216.2L90.8 216.5L92.0 216.7L93.2 216.8L94.4 217.0L95.7 217.6L96.9 217.3L98.0 216.7L99.2 217.4L100.4 217.2L101.6 217.4L102.8 218.1L104.0 217.8L105.2 217.4L106.4 218.2L107.6 218.1L108.7 218.0L109.9 218.2L111.3 217.3L112.6 216.5L113.9 215.4L115.3 214.6L116.5 215.1L117.7 214.3L119.0 214.3L120.2 214.5L121.5 214.9L122.7 214.4L123.9 215.0L125.2 214.2L126.4 214.3L127.6 214.6L128.9 214.3L130.1 214.4L131.3 214.7L132.5 214.5L133.7 214.0L134.9 213.6L136.1 213.8L137.3 213.2L138.5 212.7L139.6 212.9L140.8 211.9L142.0 212.0L143.2 211.8L144.4 211.3L145.6 210.8L146.8 210.8L148.0 210.3L149.2 209.9L150.4 210.0L151.7 211.0L152.9 210.7L154.2 211.4L155.4 211.4L156.6 211.4L157.9 211.9L159.1 212.1L160.4 212.2L161.6 212.0L163.0 211.7L164.3 211.1L165.7 210.2L167.0 209.5L168.2 209.0L169.4 208.0L170.6 207.7L171.7 206.0L172.9 205.7L174.1 204.3L175.3 204.6L176.5 203.7L177.7 203.5L178.9 203.0L180.1 202.7L181.3 203.8L182.4 203.2L183.6 203.4L184.8 203.8L186.2 204.0L187.5 203.5L188.8 203.7L190.2 203.0L191.4 204.1L192.7 203.6L193.9 203.8L195.2 204.0L196.4 203.9L197.7 199.5L199.1 194.7L200.3 192.0L201.5 189.2L202.7 186.4L203.9 186.7L205.2 187.5L206.5 188.3L207.7 189.1L209.0 189.7L210.3 190.3L211.6 190.9L212.7 190.9L213.8 190.2L214.9 189.7L216.0 190.3L217.3 190.3L218.5 191.2L219.7 191.8L220.9 192.3L222.2 193.7L223.4 194.2L224.6 195.0L225.8 196.2L227.2 197.5L228.5 198.6L229.8 199.9L231.2 201.8L232.4 202.1L233.6 202.4L234.8 203.7L235.9 204.2L237.1 204.9L238.3 205.9L239.5 205.7L240.7 206.3L241.9 205.7L243.1 206.9L244.3 208.4L245.4 209.1L246.6 210.7L247.8 211.6L249.0 213.2L250.2 212.8L251.4 213.5L252.6 213.2L253.8 213.9L255.0 214.3L256.1 214.7L257.4 215.1L258.7 215.0L260.0 214.0L261.2 214.1L262.5 214.7L263.8 214.4L265.1 213.8L266.3 214.7L267.6 214.5L268.9 214.9L270.2 215.1L271.4 215.7L272.7 216.7L274.0 216.5L275.3 216.6L276.5 217.6L277.8 217.0L279.1 217.3L280.3 217.6L281.6 218.0L282.9 218.1L284.2 219.5L285.6 219.8L286.7 218.3L287.8 216.4L288.9 214.3L290.0 212.5L291.4 212.4L292.7 211.4L294.0 211.7L295.4 211.4L296.5 211.8L297.7 212.1L298.9 212.5L300.0 212.7L301.1 213.5L302.2 213.4L303.4 214.8L304.5 214.8L305.6 215.7L306.7 216.0L307.8 216.6L309.2 217.3L310.5 218.7L311.8 218.8L313.2 219.6L314.5 219.5L315.9 219.1L317.2 218.6L318.5 217.9L319.8 218.9L321.0 220.4L322.3 220.8L323.5 222.3L324.8 223.4L326.0 222.7L327.1 221.9L328.3 222.4L329.5 221.4L330.7 221.0L331.9 220.4L333.2 216.3L334.6 212.7L335.8 212.5L337.0 211.8L338.1 211.8L339.3 211.7L340.5 211.1L341.7 210.6L343.0 210.5L344.4 210.0L345.7 209.6L347.1 208.6L348.4 208.9L349.7 210.2L351.1 210.5L352.4 210.9L353.7 211.2L354.9 210.9L356.2 210.9L357.4 211.7L358.7 210.7L359.9 211.5L361.1 211.6L362.4 211.8L363.6 211.4L364.9 211.5L366.1 211.3L367.3 211.7L368.5 211.2L369.6 211.8L370.8 212.2L372.0 212.3L373.2 212.3L374.4 213.0L375.6 212.3L376.9 213.5L378.3 214.0L379.6 214.8L380.9 215.5L382.1 214.9L383.3 212.8L384.5 212.3L385.7 211.1L386.9 209.5L388.1 208.2L389.3 208.1L390.6 208.4L391.9 209.5L393.2 208.4L394.4 209.4L395.7 209.2L397.0 210.2L398.3 209.8L399.5 209.3L400.8 209.7L402.1 210.0L403.4 210.0L404.6 209.8L405.9 210.0L407.2 209.5L408.5 209.2L409.7 208.7L411.0 208.2L412.3 207.4L413.5 207.3L414.8 206.4L416.0 206.2L417.2 206.1L418.4 206.0L419.6 205.9L420.8 205.2L422.0 206.1L423.1 206.0L424.3 206.5L425.5 206.1L426.7 206.7L427.9 206.7L429.1 206.9L430.3 207.6L431.5 207.1L432.7 207.6L434.0 208.0L435.3 209.8L436.7 210.7L438.0 211.6L439.2 214.3L440.4 216.4L441.6 219.3L442.9 218.2L444.2 215.8L445.6 215.5L446.9 214.0L448.1 213.0L449.3 212.4L450.5 211.9L451.7 211.5L452.9 211.2L454.1 211.7L455.2 210.2L456.4 210.2L457.6 209.9L458.8 208.7L460.0 208.5L461.2 208.2L462.4 207.4L463.6 207.4L464.8 207.2L465.9 206.2L467.1 205.6L468.3 205.7L469.5 205.3L470.7 204.6L471.9 204.5L473.1 204.2L474.3 204.0L475.4 203.8L476.6 203.0L477.8 202.4L479.0 202.0L480.2 203.5L481.4 203.3L482.6 203.8L483.8 204.4L485.0 203.7L486.1 203.7L487.3 202.8L488.5 202.3L489.7 202.1L490.9 202.2L492.1 201.9L493.3 201.6L494.5 201.9L495.7 201.3L496.8 200.3L498.0 201.3L499.2 201.9L500.4 202.1L501.6 203.5L502.8 203.6L504.0 204.3L505.2 203.6L506.4 203.2L507.5 203.7L508.7 203.2L509.9 203.0L511.1 203.0L512.4 203.7L513.7 204.3L514.9 204.8L516.2 205.7L517.5 207.0L518.8 207.2L520.0 207.3L521.2 208.5L522.4 208.2L523.6 208.3L524.7 208.7L525.9 209.0" fill="none" stroke="#ff5050" stroke-width="0.9" stroke-linejoin="round" />
<path d="M77.3 238.8L78.5 238.8L79.7 239.4L81.0 238.5L82.2 239.1L83.4 238.5L84.6 239.5L85.9 239.2L87.1 239.6L88.3 239.0L89.5 239.3L90.8 239.1L92.0 239.0L93.2 239.2L94.4 238.8L95.7 239.1L96.9 239.5L98.2 239.4L99.5 239.4L100.8 240.3L102.0 239.7L103.3 239.6L104.6 239.9L105.9 240.0L107.1 240.3L108.4 240.6L109.7 241.5L110.9 241.2L112.2 241.5L113.5 241.9L114.7 242.3L115.9 241.6L117.1 241.5L118.3 242.5L119.4 241.3L120.6 241.6L121.8 242.0L123.0 242.5L124.2 241.5L125.4 241.1L126.6 242.0L127.8 241.7L128.9 241.7L130.1 242.0L131.3 241.9L132.5 241.9L133.7 241.6L134.9 242.0L136.1 242.0L137.3 241.5L138.5 241.3L139.6 241.6L140.8 241.4L142.0 240.9L143.2 241.0L144.4 241.4L145.6 241.0L146.8 240.8L148.0 240.9L149.2 240.8L150.3 240.7L151.5 239.9L152.7 240.9L153.9 240.3L155.1 239.8L156.3 240.3L157.5 239.9L158.7 239.7L159.9 239.9L161.1 240.1L162.3 239.4L163.5 239.6L164.8 239.6L166.0 238.5L167.2 238.5L168.4 238.7L169.7 237.8L170.8 238.7L172.0 239.7L173.1 240.1L174.3 240.5L175.4 240.3L176.5 242.1L177.7 242.0L178.9 242.2L180.1 242.2L181.3 241.7L182.4 241.9L183.6 242.1L184.8 243.2L186.2 242.0L187.5 241.9L188.8 241.6L190.2 241.5L191.4 239.3L192.7 237.1L193.9 234.5L195.2 231.8L196.4 230.7L197.7 231.2L199.1 231.9L200.4 230.3L201.8 229.0L203.0 230.9L204.3 231.8L205.5 233.5L206.8 235.0L208.0 237.0L209.2 237.4L210.4 237.0L211.6 237.0L212.8 236.7L213.9 236.7L215.1 236.4L216.3 236.6L217.5 236.1L218.7 236.6L219.9 236.7L221.1 237.5L222.3 237.6L223.6 237.2L224.9 236.7L226.3 235.6L227.6 235.4L228.9 236.1L230.1 236.0L231.4 236.8L232.6 236.9L233.9 236.9L235.0 237.2L236.1 236.6L237.2 236.6L238.3 236.2L239.5 236.8L240.7 236.4L241.9 238.0L243.1 236.8L244.3 235.3L245.4 234.2L246.6 233.5L247.8 232.7L249.0 231.6L250.3 231.0L251.5 229.7L252.8 229.3L254.0 229.4L255.3 228.5L256.5 227.3L257.8 226.9L259.0 226.1L260.2 225.6L261.5 225.6L262.6 224.6L263.8 224.3L264.9 223.4L266.1 222.3L267.2 221.9L268.4 222.2L269.5 220.6L270.7 220.6L271.8 221.3L273.0 221.1L274.1 221.1L275.3 221.7L276.4 220.7L277.5 221.5L278.8 221.3L280.0 221.4L281.3 221.9L282.5 222.7L283.8 222.6L284.9 220.7L286.0 219.6L287.1 219.1L288.2 217.6L289.4 216.5L290.6 217.1L291.8 215.8L293.0 215.1L294.1 215.0L295.3 214.9L296.5 214.6L297.7 214.0L298.8 213.1L300.0 212.6L301.1 212.6L302.2 213.2L303.4 213.2L304.5 213.7L305.6 213.4L306.7 213.9L307.8 214.0L309.0 213.3L310.1 212.7L311.3 212.2L312.4 211.5L313.6 211.5L314.7 210.7L315.9 209.7L317.1 210.8L318.4 211.3L319.6 212.2L320.8 212.2L322.1 212.7L323.3 212.3L324.6 212.2L325.8 212.0L327.1 211.6L328.3 211.1L329.6 211.0L330.8 210.6L332.1 210.3L333.3 209.6L334.6 209.6L335.8 209.2L337.1 209.1L338.3 209.3L339.6 209.7L340.8 209.3L342.1 208.8L343.3 208.7L344.6 208.9L345.8 208.9L347.1 208.7L348.4 206.5L349.7 204.8L351.1 202.9L352.4 201.1L353.7 199.9L354.9 199.0L356.2 197.3L357.4 196.6L358.7 196.0L359.9 194.5L361.1 193.9L362.4 192.2L363.6 191.5L364.9 190.6L366.1 190.1L367.3 190.2L368.5 191.1L369.6 190.1L370.8 190.0L372.0 190.0L373.2 190.1L374.4 190.0L375.6 190.3L376.8 190.3L378.0 190.0L379.2 190.0L380.3 189.8L381.5 189.8L382.7 190.1L383.9 190.6L385.1 190.5L386.3 190.8L387.5 190.4L388.7 189.6L389.9 189.9L391.1 189.0L392.4 188.8L393.6 188.7L394.9 189.0L396.1 188.5L397.3 188.2L398.6 188.4L399.8 188.5L401.1 187.9L402.3 187.8L403.6 188.9L404.9 189.6L406.2 190.3L407.4 190.5L408.7 191.5L410.0 192.2L411.3 192.3L412.4 192.7L413.6 191.9L414.8 191.3L416.0 191.5L417.2 190.3L418.4 189.5L419.6 189.2L420.8 188.8L422.0 188.3L423.1 187.5L424.3 186.7L425.5 186.2L426.8 186.3L428.0 186.4L429.3 186.8L430.5 186.8L431.8 187.1L433.0 187.0L434.3 187.1L435.5 187.5L436.8 187.6L438.0 188.2L439.2 187.9L440.4 188.5L441.6 188.7L442.8 190.7L443.9 193.7L445.1 195.9L446.4 195.3L447.7 196.3L449.0 196.5L450.2 196.1L451.5 197.0L452.8 196.7L454.1 196.4L455.3 197.2L456.5 197.2L457.8 197.1L459.0 197.2L460.3 198.2L461.5 198.1L462.8 198.8L464.0 199.0L465.3 199.0L466.5 199.3L467.8 199.3L469.1 198.6L470.4 197.6L471.6 196.6L472.9 195.7L474.2 195.2L475.4 195.1L476.7 194.8L478.0 194.6L479.3 194.4L480.5 194.9L481.8 194.6L483.1 194.9L484.4 195.2L485.6 194.7L486.7 193.8L487.9 193.1L489.1 192.7L490.3 192.5L491.5 191.5L492.7 190.6L493.9 191.1L495.1 190.3L496.3 190.9L497.4 189.3L498.6 189.0L499.8 188.5L501.0 188.3L502.2 187.7L503.5 187.8L504.9 188.1L506.2 189.1L507.5 189.5L508.8 189.1L510.1 189.7L511.4 188.9L512.6 188.7L513.9 187.9L515.2 187.9L516.5 187.4L517.6 187.9L518.8 188.6L520.0 189.0L521.2 189.4L522.4 189.7L523.6 189.7L524.7 190.4L525.9 191.2" fill="none" stroke="#4a4aff" stroke-width="0.9" stroke-linejoin="round" />
<path d="M71.6 323.1L72.6 322.1L73.6 322.7L74.6 323.2L75.6 324.0L76.6 323.4L77.7 322.8L78.7 323.8L79.7 323.2L80.7 324.5L81.7 323.9L82.7 324.9L83.7 324.2L84.7 323.9L85.7 323.8L86.7 324.5L87.7 325.0L88.7 325.5L89.7 325.3L90.7 325.1L91.7 325.8L92.7 325.2L93.7 326.2L94.7 325.9L95.7 327.1L96.7 327.0L97.6 327.0L98.6 326.5L99.6 327.4L100.6 327.6L101.6 327.3L102.6 327.5L103.6 328.6L104.6 328.0L105.6 328.4L106.6 328.8L107.6 327.5L108.5 328.9L109.5 328.5L110.5 327.8L111.5 327.6L112.5 327.5L113.5 328.4L114.5 326.8L115.5 328.4L116.5 328.0L117.5 327.6L118.4 327.7L119.4 327.7L120.4 327.8L121.4 328.2L122.4 327.4L123.4 328.0L124.4 327.6L125.4 326.7L126.4 326.8L127.4 325.9L128.4 325.9L129.3 325.8L130.3 326.1L131.3 324.9L132.3 324.5L133.3 324.2L134.3 323.8L135.3 323.1L136.3 324.1L137.3 322.6L138.3 322.3L139.3 321.9L140.2 322.3L141.2 323.2L142.2 323.1L143.2 322.1L144.2 321.7L145.2 321.4L146.2 320.9L147.2 321.6L148.2 321.1L149.2 322.0L150.1 320.8L151.1 320.4L152.1 319.9L153.1 319.8L154.1 320.8L155.1 320.6L156.1 319.8L157.1 319.6L158.1 320.3L159.1 319.8L160.1 319.9L161.0 319.6L162.0 319.0L163.0 318.4L164.0 319.0L165.0 318.8L166.0 318.7L167.0 318.8L168.0 318.7L168.9 317.9L169.9 318.3L170.9 317.0L171.8 318.2L172.8 317.7L173.8 318.1L174.7 318.0L175.7 317.0L176.6 317.3L177.6 317.7L178.6 316.9L179.6 318.0L180.7 318.5L181.7 319.8L182.7 320.5L183.8 320.8L184.8 321.3L185.9 321.6L187.1 323.7L188.2 323.7L189.3 324.3L190.3 325.8L191.4 327.0L192.5 329.2L193.6 330.6L194.6 330.7L195.5 331.1L196.4 330.5L197.3 329.6L198.2 329.1L199.3 327.4L200.4 324.3L201.5 322.3L202.7 319.7L203.7 319.5L204.8 321.9L205.9 322.0L206.9 322.7L208.0 324.1L209.0 326.0L210.0 325.9L211.0 327.2L212.0 328.9L213.0 329.2L213.9 330.7L214.9 332.5L215.9 334.1L216.9 335.2L218.0 334.7L219.1 334.2L220.1 332.8L221.2 332.2L222.3 331.6L223.3 331.1L224.2 331.3L225.2 330.7L226.2 328.8L227.2 329.5L228.2 328.3L229.2 327.8L230.2 328.4L231.2 327.9L232.2 328.4L233.3 328.8L234.3 329.9L235.3 329.1L236.4 330.6L237.4 330.5L238.5 329.5L239.7 327.9L240.8 328.2L241.9 327.2L243.0 325.0L244.0 322.4L245.1 320.9L246.2 318.5L247.2 317.0L248.1 317.8L249.0 317.9L249.9 317.4L250.9 318.3L252.0 318.7L253.0 319.7L254.1 320.3L255.1 321.4L256.1 321.7L257.2 323.2L258.2 323.4L259.2 324.3L260.2 324.9L261.2 326.5L262.3 326.9L263.3 326.9L264.3 328.1L265.3 330.1L266.3 331.2L267.4 332.3L268.4 333.8L269.4 335.7L270.4 336.2L271.4 337.3L272.5 336.8L273.5 337.3L274.5 337.9L275.5 338.1L276.5 338.3L277.5 338.4L278.6 339.2L279.6 339.7L280.6 340.4L281.6 341.4L282.6 341.7L283.7 342.5L284.7 342.6L285.7 342.2L286.7 341.7L287.7 341.3L288.8 340.9L289.8 339.7L290.8 339.6L291.8 339.0L292.8 339.1L293.9 338.6L294.9 337.6L295.9 337.7L296.9 337.5L298.0 336.9L299.0 337.1L300.0 336.3L301.0 335.4L302.1 335.9L303.1 335.9L304.2 335.0L305.2 335.5L306.2 333.7L307.3 335.7L308.3 333.9L309.3 334.1L310.4 334.0L311.4 333.3L312.4 334.7L313.4 334.9L314.5 335.4L315.5 335.7L316.5 337.8L317.5 338.7L318.5 338.8L319.5 340.5L320.6 342.7L321.6 343.7L322.6 345.5L323.6 347.0L324.6 348.4L325.7 349.8L326.7 351.1L327.6 351.7L328.6 352.6L329.6 353.2L330.6 353.6L331.6 355.1L332.6 356.4L333.6 358.0L334.6 358.3L335.6 358.8L336.5 361.1L337.5 362.5L338.5 363.3L339.5 364.4L340.5 365.6L341.4 366.6L342.4 368.4L343.4 368.6L344.4 369.8L345.3 369.2L346.2 369.4L347.1 369.1L348.0 368.9L348.8 365.7L349.7 362.6L350.6 357.9L351.7 356.8L352.8 354.6L353.8 352.9L354.9 351.2L356.0 349.8L357.0 347.1L358.1 346.7L359.2 344.2L360.3 342.1L361.3 340.0L362.2 342.3L363.1 343.2L364.0 344.4L364.9 345.2L365.8 345.5L366.7 345.0L367.6 344.8L368.5 343.5L369.5 341.7L370.6 338.9L371.7 337.0L372.7 334.7L373.8 332.7L374.9 332.3L375.9 332.0L377.0 331.6L378.1 331.3L379.2 330.7L380.0 330.6L380.9 330.7L381.8 331.2L382.7 331.2L383.8 333.6L385.0 336.4L386.1 337.1L387.2 340.2L388.1 339.8L389.0 340.7L389.9 341.2L390.9 340.8L392.0 340.5L393.1 339.8L394.1 338.4L395.2 337.9L396.2 339.1L397.2 339.8L398.2 342.6L399.2 343.0L400.2 344.5L401.2 346.1L402.1 347.2L403.1 348.7L404.1 350.8L405.1 350.9L406.1 352.0L407.1 352.4L408.1 353.2L409.1 355.1L410.1 356.0L411.1 356.6L412.0 358.4L413.0 358.1L414.0 360.4L415.0 361.6L416.0 363.6L416.9 365.5L417.9 366.4L418.9 369.3L419.8 370.4L420.8 372.1L421.8 373.8L422.8 375.7L423.7 376.7L424.8 375.8L425.8 375.6L426.8 374.5L427.8 373.5L428.8 372.9L429.9 372.6L430.9 370.5L431.8 369.0L432.7 369.1L433.5 368.9L434.4 370.0L435.3 370.1L436.2 371.0L437.2 371.1L438.3 369.4L439.3 367.9L440.3 367.4L441.3 366.7L442.3 365.7L443.4 365.8L444.4 363.8L445.5 362.2L446.6 360.1L447.6 357.7L448.7 355.6L449.8 355.1L450.8 354.7L451.9 353.9L453.0 353.0L454.1 354.2L455.1 352.5L456.1 350.5L457.1 349.1L458.1 347.9L459.1 347.0L460.2 345.4L461.2 343.2L462.3 344.1L463.4 344.0L464.5 342.9L465.6 342.7L466.7 344.6L467.8 345.5L468.9 347.8L469.9 349.0L471.0 349.2L472.0 349.5L473.1 348.0L474.1 347.7L475.2 347.9L476.2 346.6L477.2 346.3L478.3 344.5L479.3 344.4L480.3 342.2L481.3 342.3L482.3 339.9L483.3 338.2L484.4 337.1L485.4 335.9L486.4 335.7L487.5 333.5L488.5 333.4L489.6 332.6L490.6 331.4L491.7 331.2L492.8 333.2L493.9 333.9L495.1 335.0L496.0 333.7L496.8 333.9L497.7 334.1L498.8 335.1L499.8 336.6L500.9 337.8L501.9 339.4L502.9 341.0L504.0 343.6L505.0 343.1L506.0 343.6L507.0 344.1L507.9 345.4L508.9 346.0L509.9 346.4L510.9 346.5L511.9 348.9L512.9 348.6L513.9 348.6L514.9 349.3L516.0 349.1L517.0 349.6L518.0 349.1L519.0 350.0L520.0 349.3L521.0 351.3L522.0 351.3L523.0 351.7L524.0 352.2L524.9 352.0L525.9 353.1" fill="none" stroke="#303030" stroke-width="0.9" stroke-linejoin="round" />
<path d="M71.6 415.8L72.8 415.7L73.9 415.1L75.1 414.7L76.3 414.2L77.4 414.0L78.6 414.0L79.8 413.4L80.9 413.3L82.1 412.7L83.2 412.3L84.4 411.9L85.6 411.0L86.7 411.4L87.9 411.2L89.1 411.2L90.3 410.5L91.5 410.4L92.7 410.6L93.9 410.7L95.1 410.9L96.3 410.7L97.4 410.9L98.6 410.5L99.8 410.7L101.0 410.7L102.3 410.7L103.5 411.7L104.8 411.7L106.0 412.2L107.3 412.0L108.5 412.3L109.8 412.7L111.0 413.1L112.2 413.6L113.5 413.8L114.7 414.1L115.9 414.4L117.1 414.9L118.3 415.9L119.4 415.7L120.6 416.5L121.8 417.0L123.0 416.8L124.2 417.7L125.4 418.4L126.6 417.7L127.8 418.6L128.9 418.9L130.1 419.0L131.3 419.7L132.5 419.9L133.7 419.8L134.9 420.8L136.1 421.0L137.3 421.4L138.5 421.8L139.6 421.8L140.8 422.0L142.0 421.8L143.2 422.7L144.4 422.6L145.6 422.9L146.8 422.7L148.0 422.9L149.2 423.1L150.3 423.7L151.5 422.7L152.7 423.0L153.9 423.5L155.1 424.0L156.3 423.8L157.4 423.2L158.6 423.2L159.7 424.2L160.9 424.1L162.0 424.1L163.2 424.9L164.3 425.2L165.6 423.7L166.8 422.6L168.1 421.5L169.3 420.7L170.6 419.3L171.8 418.0L173.1 416.7L174.4 414.8L175.7 414.4L176.9 413.0L178.2 411.6L179.5 409.6L180.7 410.1L182.0 410.6L183.3 409.8L184.6 410.4L185.8 410.8L187.1 410.1L188.4 411.0L189.6 410.4L190.8 409.8L192.0 409.6L193.1 409.3L194.3 408.8L195.5 408.8L196.8 407.6L198.0 407.1L199.3 406.9L200.5 405.9L201.8 405.0L203.0 405.0L204.3 404.5L205.5 403.3L206.8 402.4L208.0 402.1L209.3 402.6L210.6 403.1L211.8 404.1L213.1 403.9L214.4 405.1L215.6 404.9L216.9 405.5L218.2 406.2L219.4 406.6L220.7 406.8L221.9 406.9L223.2 407.1L224.4 407.4L225.7 407.8L226.9 407.8L228.2 408.2L229.4 408.6L230.6 408.8L231.9 409.4L233.1 409.7L234.4 410.5L235.6 410.3L236.9 410.4L238.1 410.8L239.4 411.3L240.6 411.9L241.9 411.9L243.1 411.8L244.3 411.9L245.4 410.3L246.6 410.5L247.8 410.6L249.0 410.3L250.2 410.0L251.4 409.5L252.6 409.5L253.8 409.2L255.1 408.8L256.3 409.5L257.6 408.7L258.8 408.3L260.1 408.2L261.3 408.0L262.6 407.9L263.8 406.9L265.1 407.4L266.3 408.1L267.6 407.7L268.9 408.3L270.2 408.8L271.4 409.1L272.7 409.5L274.0 408.8L275.2 409.3L276.4 409.5L277.5 409.9L278.7 410.2L279.9 409.2L281.1 410.5L282.3 409.9L283.5 410.6L284.7 410.1L286.0 410.2L287.2 410.1L288.5 409.2L289.8 408.9L291.0 408.6L292.3 408.0L293.6 407.5L294.9 408.0L296.2 407.8L297.4 407.4L298.7 408.4L300.0 407.2L301.2 407.9L302.4 407.6L303.6 407.8L304.8 408.0L306.0 407.9L307.2 408.1L308.4 407.5L309.6 407.6L310.8 408.9L312.0 409.0L313.2 409.7L314.4 410.2L315.6 411.6L316.7 412.1L317.9 412.9L319.1 412.9L320.3 413.8L321.5 414.9L322.7 417.0L323.9 418.7L325.1 419.5L326.3 421.7L327.4 423.0L328.6 424.1L329.8 425.1L331.0 427.6L332.2 427.0L333.4 426.8L334.6 427.0L335.8 426.9L337.0 427.1L338.1 426.2L339.3 426.8L340.5 426.8L341.7 426.7L343.0 426.4L344.4 426.5L345.7 427.2L347.1 427.2L348.2 429.6L349.3 432.5L350.4 434.4L351.5 436.3L352.7 437.7L354.0 438.2L355.2 439.9L356.4 440.6L357.6 441.2L358.9 442.3L360.1 443.4L361.3 444.1L362.7 444.0L364.0 443.2L365.3 443.1L366.7 442.8L367.9 443.4L369.2 443.4L370.5 444.5L371.8 444.3L373.0 445.2L374.3 445.5L375.6 447.1L376.8 446.5L378.0 447.1L379.2 447.1L380.3 447.3L381.5 447.3L382.7 447.7L383.9 447.6L385.1 446.5L386.3 446.0L387.5 445.6L388.7 444.6L389.9 443.7L391.0 444.1L392.2 444.7L393.4 444.0L394.6 444.5L395.8 445.1L397.0 445.2L398.3 444.2L399.5 443.7L400.8 442.7L402.1 441.6L403.4 440.7L404.6 440.2L405.9 439.9L407.2 438.7L408.5 437.8L409.7 437.1L411.0 436.1L412.3 435.8L413.5 434.7L414.8 434.4L416.0 432.7L417.2 432.6L418.4 431.4L419.6 430.1L420.8 430.0L422.0 428.8L423.1 428.2L424.3 428.5L425.5 428.7L426.7 428.4L427.9 428.7L429.1 428.6L430.3 428.4L431.5 428.2L432.7 428.4L433.8 427.5L435.0 426.7L436.2 425.2L437.4 425.3L438.6 424.7L439.8 423.5L441.0 423.8L442.2 424.9L443.4 424.2L444.5 425.3L445.7 426.2L446.9 425.6L448.2 426.3L449.5 426.8L450.7 426.4L452.0 426.8L453.3 427.1L454.6 426.7L455.8 427.1L457.1 427.6L458.3 428.1L459.6 428.2L460.8 428.5L462.1 428.6L463.3 428.3L464.5 428.2L465.8 427.4L467.0 426.6L468.2 426.1L469.4 426.7L470.7 425.7L471.9 425.0L473.1 424.6L474.3 426.1L475.4 426.6L476.6 427.5L477.8 427.6L479.0 428.0L480.2 428.9L481.4 429.0L482.6 430.6L483.8 431.1L485.0 431.6L486.1 433.0L487.3 433.9L488.5 433.6L489.7 434.6L490.9 434.7L492.1 434.6L493.3 434.2L494.5 433.9L495.7 434.7L496.8 434.2L498.0 433.3L499.2 433.1L500.4 433.9L501.7 433.5L502.9 433.6L504.2 433.2L505.4 432.6L506.7 432.8L507.9 431.9L509.2 432.2L510.4 432.2L511.6 432.3L512.9 431.7L514.1 432.2L515.3 432.6L516.5 432.8L517.7 433.1L518.8 433.2L520.0 433.3L521.2 433.1L522.4 432.3L523.6 431.5L524.7 431.1L525.9 430.7" fill="none" stroke="#50f050" stroke-width="0.9" stroke-linejoin="round" />
<path d="M71.6 411.8L72.8 412.4L73.9 411.8L75.1 411.7L76.3 411.4L77.4 411.2L78.6 411.2L79.8 410.9L80.9 410.5L82.1 410.3L83.2 410.1L84.4 410.5L85.6 410.6L86.7 410.8L88.0 410.6L89.2 410.6L90.5 410.9L91.7 410.8L93.0 410.3L94.2 411.5L95.5 411.1L96.7 411.5L98.0 411.4L99.2 412.7L100.4 412.3L101.6 412.2L102.8 411.8L104.0 412.7L105.2 412.2L106.4 413.2L107.6 412.4L108.7 413.1L109.9 413.6L111.1 413.1L112.3 413.7L113.5 413.9L114.7 414.5L116.0 414.3L117.2 415.0L118.5 415.9L119.7 414.9L121.0 415.4L122.2 416.2L123.5 416.1L124.7 416.2L126.0 417.5L127.2 417.4L128.4 417.4L129.5 417.4L130.7 417.3L131.9 416.7L133.1 416.2L134.3 417.2L135.5 416.6L136.7 417.0L137.9 417.2L139.1 416.6L140.2 416.9L141.5 417.7L142.7 417.3L144.0 416.4L145.2 417.0L146.5 417.0L147.7 417.2L149.0 417.3L150.2 417.0L151.5 416.9L152.7 417.3L153.9 416.4L155.1 417.2L156.3 416.8L157.5 416.4L158.7 416.2L159.9 416.4L161.0 415.7L162.2 415.2L163.4 416.1L164.6 416.4L165.8 415.7L167.0 415.6L168.3 415.2L169.5 414.5L170.8 414.6L172.1 414.4L173.4 413.7L174.6 413.6L175.9 412.5L177.2 412.7L178.5 412.1L179.7 412.0L181.0 412.0L182.3 411.7L183.5 411.7L184.8 411.4L186.1 410.8L187.4 411.8L188.6 410.9L189.9 411.6L191.2 411.9L192.5 411.8L193.7 412.2L195.1 412.0L196.4 411.6L197.7 412.3L199.1 412.0L200.4 411.7L201.6 412.0L202.9 412.0L204.2 412.1L205.5 411.8L206.7 412.1L208.0 411.9L209.3 412.3L210.6 411.4L211.8 411.7L213.1 410.9L214.4 411.1L215.6 411.3L216.9 410.1L218.2 409.7L219.5 408.9L220.7 408.4L222.0 408.0L223.3 407.7L224.6 407.5L225.8 407.0L227.1 406.2L228.4 406.1L229.7 405.2L230.9 405.6L232.2 405.0L233.5 404.4L234.8 404.2L235.9 404.7L237.1 404.5L238.3 404.7L239.5 404.3L240.7 404.6L241.9 404.4L243.2 404.1L244.4 404.6L245.7 404.8L247.0 404.7L248.3 405.3L249.5 405.9L250.8 405.7L252.1 406.0L253.5 406.4L254.8 407.6L256.1 408.2L257.4 408.4L258.7 408.7L260.0 408.3L261.2 407.7L262.5 408.7L263.8 408.1L265.1 408.6L266.3 407.6L267.6 408.7L268.9 407.2L270.2 407.5L271.4 407.6L272.7 406.2L274.0 406.7L275.2 406.3L276.4 407.4L277.5 407.0L278.7 406.3L279.9 406.0L281.1 405.9L282.3 406.5L283.5 406.1L284.7 406.4L285.9 406.2L287.1 405.8L288.2 407.1L289.4 406.7L290.6 406.3L291.8 406.5L293.0 407.3L294.2 407.3L295.3 406.8L296.5 408.0L297.7 407.4L298.8 408.1L300.0 407.6L301.1 408.3L302.2 409.2L303.4 408.9L304.5 409.8L305.6 410.4L306.7 410.4L307.8 411.6L309.1 411.5L310.4 411.5L311.7 412.1L312.9 412.4L314.2 412.6L315.5 412.3L316.7 412.8L318.0 412.6L319.2 412.0L320.5 412.2L321.7 413.0L323.0 412.0L324.2 412.4L325.5 412.8L326.7 412.0L328.0 412.0L329.2 411.7L330.5 412.4L331.7 412.1L333.0 413.0L334.2 412.8L335.5 413.4L336.7 413.0L338.0 413.5L339.2 414.5L340.5 414.6L341.7 413.6L343.0 415.0L344.3 414.0L345.5 414.4L346.8 414.3L348.1 413.7L349.4 413.5L350.6 412.7L351.8 414.0L353.0 414.9L354.2 414.3L355.4 415.6L356.6 415.9L357.8 416.4L358.9 416.1L360.1 416.9L361.3 417.4L362.6 417.7L363.9 416.6L365.1 416.5L366.4 416.2L367.7 416.6L369.0 415.6L370.2 415.8L371.5 415.6L372.7 416.1L374.0 416.6L375.2 416.3L376.5 416.9L377.7 416.6L379.0 416.9L380.2 417.0L381.5 416.9L382.7 417.5L383.9 418.1L385.1 418.1L386.3 419.2L387.5 419.5L388.7 419.9L389.9 420.6L391.0 421.0L392.2 421.2L393.4 421.7L394.6 421.5L395.8 421.7L397.0 421.3L398.2 421.4L399.4 421.6L400.6 420.8L401.7 420.6L402.9 421.4L404.1 420.5L405.3 420.4L406.5 420.3L407.7 420.9L408.9 422.3L410.1 421.7L411.3 422.2L412.4 422.4L413.6 422.3L414.8 422.8L416.0 422.4L417.2 422.0L418.4 422.2L419.6 421.2L420.8 420.9L422.0 420.7L423.1 421.0L424.3 420.1L425.5 420.6L426.7 419.4L427.9 419.4L429.1 418.6L430.3 419.1L431.5 419.3L432.7 419.4L433.8 418.8L435.0 418.9L436.2 419.6L437.4 418.9L438.6 419.2L439.8 419.3L441.0 419.4L442.2 420.7L443.4 420.8L444.5 421.8L445.7 422.0L446.9 422.8L448.1 423.7L449.3 423.9L450.5 423.8L451.7 424.9L452.9 425.3L454.1 425.9L455.2 426.5L456.4 426.4L457.6 428.1L458.8 427.6L460.0 428.9L461.2 428.8L462.4 428.8L463.6 428.9L464.8 428.8L465.9 429.1L467.1 429.4L468.3 429.6L469.5 429.2L470.7 427.7L471.9 428.0L473.1 427.5L474.3 427.0L475.4 426.7L476.6 426.9L477.8 426.7L479.0 427.1L480.2 428.0L481.4 427.9L482.6 428.6L483.8 428.2L485.0 428.5L486.1 429.0L487.3 429.0L488.5 429.3L489.7 428.7L490.9 429.2L492.1 429.1L493.3 428.6L494.5 428.9L495.7 428.9L496.8 429.3L498.0 429.3L499.2 429.0L500.4 428.5L501.6 428.9L502.8 428.6L504.0 428.3L505.2 428.7L506.4 428.1L507.5 428.1L508.7 427.8L509.9 427.6L511.1 428.2L512.3 427.5L513.6 427.8L514.8 427.9L516.0 428.2L517.3 427.8L518.5 428.3L519.7 427.7L521.0 427.8L522.2 427.7L523.4 427.9L524.7 427.8L525.9 427.5" fill="none" stroke="#ff4040" stroke-width="0.9" stroke-linejoin="round" />
<path d="M71.6 385.3L72.8 385.8L73.9 386.2L75.1 386.4L76.3 386.4L77.4 386.2L78.6 386.4L79.8 386.3L80.9 386.1L82.1 386.4L83.2 387.0L84.4 386.9L85.6 386.8L86.7 386.7L87.9 387.1L89.1 387.0L90.3 387.2L91.5 387.4L92.7 386.6L93.9 387.4L95.1 387.0L96.3 387.2L97.4 387.2L98.6 388.0L99.8 387.9L101.0 387.9L102.2 387.6L103.4 387.4L104.6 387.8L105.8 387.9L107.0 387.7L108.1 387.9L109.3 387.5L110.5 388.0L111.7 387.6L112.9 387.9L114.1 387.3L115.3 387.1L116.5 386.8L117.7 387.2L118.8 387.2L120.0 386.9L121.2 386.9L122.4 386.6L123.6 386.4L124.8 386.3L126.0 385.8L127.2 385.9L128.4 386.1L129.5 386.0L130.7 386.2L131.9 385.9L133.1 385.7L134.3 385.5L135.5 384.7L136.7 385.3L137.9 384.9L139.1 385.2L140.2 384.8L141.4 384.7L142.6 384.6L143.8 384.6L145.0 384.1L146.2 384.1L147.4 384.9L148.6 384.6L149.8 384.3L150.9 384.2L152.1 384.2L153.3 385.2L154.5 384.3L155.7 384.1L156.9 383.9L158.1 383.3L159.3 383.9L160.6 384.2L161.8 384.0L163.1 383.7L164.3 383.4L165.6 383.1L166.8 383.4L168.1 383.2L169.3 382.8L170.6 383.6L171.8 382.9L173.1 383.0L174.4 382.5L175.7 383.8L176.9 383.3L178.2 383.4L179.5 383.5L180.7 383.7L182.0 384.3L183.3 385.1L184.6 385.2L185.8 386.1L187.1 386.9L188.4 387.2L189.7 387.9L190.9 388.3L192.2 388.9L193.5 388.9L194.8 389.4L196.0 389.4L197.3 390.2L198.6 389.1L200.0 388.4L201.3 387.2L202.7 386.8L204.0 388.0L205.3 387.5L206.7 388.4L208.0 389.0L209.3 389.1L210.6 389.8L211.8 390.3L213.1 391.2L214.4 391.4L215.6 392.9L216.9 393.0L218.2 392.9L219.5 393.1L220.7 392.8L222.0 392.2L223.3 392.2L224.6 392.0L225.8 391.9L227.0 391.9L228.2 390.8L229.4 390.7L230.6 390.9L231.8 390.9L233.0 390.4L234.1 390.9L235.2 391.6L236.3 391.9L237.4 392.0L238.7 391.1L240.0 389.9L241.2 389.6L242.5 388.7L243.8 387.5L245.1 387.1L246.3 386.0L247.6 386.0L248.8 385.6L250.1 386.4L251.3 385.9L252.6 386.2L253.8 386.5L255.0 386.5L256.1 387.0L257.3 387.2L258.5 387.5L259.7 388.0L260.9 388.0L262.1 388.7L263.3 388.8L264.5 389.0L265.7 390.1L266.8 390.5L268.0 391.3L269.2 391.1L270.4 392.5L271.6 392.3L272.8 393.4L274.0 395.1L275.2 394.6L276.4 394.9L277.5 394.6L278.7 394.7L279.9 395.3L281.1 395.7L282.3 395.8L283.5 395.8L284.7 396.0L285.9 395.9L287.1 396.2L288.2 395.5L289.4 395.1L290.6 394.9L291.8 394.4L293.0 394.2L294.2 394.6L295.3 394.8L296.5 394.5L297.7 393.9L298.8 394.7L300.0 394.2L300.7 393.8L301.9 393.0L303.0 392.4L304.2 392.7L305.3 392.4L306.5 391.9L307.7 391.7L308.8 391.6L310.0 391.3L311.1 391.5L312.3 391.2L313.4 391.3L314.6 391.6L315.7 392.3L316.9 392.5L318.0 392.3L319.2 393.0L320.3 393.8L321.6 394.1L322.8 394.4L324.1 395.9L325.3 396.9L326.6 396.9L327.8 396.9L329.1 397.8L330.3 399.5L331.5 399.6L332.8 400.6L334.0 401.1L335.3 401.5L336.5 402.5L337.8 402.6L339.0 403.3L340.3 403.7L341.5 404.2L342.8 405.4L344.0 404.9L345.3 405.4L346.6 407.9L348.0 409.0L349.3 411.2L350.6 412.6L351.8 413.8L353.0 414.1L354.2 414.9L355.4 415.1L356.6 415.8L357.8 415.8L358.9 417.0L360.1 417.2L361.3 417.4L362.5 417.7L363.7 417.8L364.9 418.2L366.1 419.6L367.3 419.5L368.6 420.3L369.8 421.4L371.0 422.0L372.2 422.5L373.5 423.9L374.7 424.6L375.8 423.7L376.9 424.0L378.0 422.6L379.2 423.2L380.3 421.5L381.5 421.3L382.7 420.4L383.9 419.6L385.1 419.2L386.3 418.0L387.5 417.8L388.7 417.5L389.9 418.1L391.0 417.3L392.2 417.4L393.4 417.0L394.6 417.2L395.8 416.3L397.0 416.2L398.3 416.5L399.5 417.0L400.8 417.0L402.1 417.6L403.4 417.9L404.6 418.3L405.9 418.4L407.2 417.9L408.5 416.6L409.7 415.8L411.0 415.0L412.3 414.2L413.5 413.3L414.8 413.0L416.0 412.6L417.2 411.7L418.4 412.0L419.6 411.5L420.8 411.1L422.0 411.0L423.1 411.2L424.3 410.5L425.5 409.6L426.7 409.8L427.9 408.9L429.1 409.1L430.3 407.9L431.5 407.5L432.7 406.9L433.9 406.1L435.2 405.5L436.5 404.9L437.7 404.9L439.0 403.6L440.3 403.0L441.6 402.2L442.8 401.9L444.1 401.5L445.4 401.5L446.7 399.8L447.9 400.1L449.2 399.6L450.5 399.8L451.7 399.1L452.9 399.5L454.1 399.3L455.2 398.6L456.4 398.8L457.6 398.3L458.8 398.5L460.0 398.3L461.2 398.3L462.4 398.0L463.6 397.3L464.8 397.8L465.9 397.5L467.1 397.8L468.3 397.6L469.5 397.9L470.7 397.3L471.9 398.1L473.1 397.2L474.4 397.2L475.6 397.2L476.9 396.4L478.1 396.7L479.4 396.4L480.6 396.4L481.9 395.9L483.1 395.4L484.4 395.1L485.6 395.3L486.9 395.8L488.1 395.8L489.4 396.2L490.6 396.6L491.9 396.2L493.1 396.3L494.4 396.7L495.6 396.8L496.8 396.2L498.0 397.2L499.2 397.9L500.4 398.5L501.6 398.7L502.8 399.1L504.0 400.5L505.2 399.3L506.4 401.0L507.5 400.7L508.7 401.1L509.9 401.6L511.1 402.0L512.3 402.0L513.5 402.2L514.7 403.0L515.9 403.7L517.1 403.5L518.2 404.6L519.5 403.7L520.8 404.4L522.1 404.4L523.4 404.7L524.6 404.1L525.9 404.7" fill="none" stroke="#4040ff" stroke-width="0.9" stroke-linejoin="round" />
<path d="M71.6 453.7L72.6 454.6L73.7 455.2L74.7 456.0L75.8 457.0L76.8 456.7L77.8 457.9L78.9 457.8L79.9 457.6L80.9 457.8L81.9 457.8L82.9 458.8L83.9 457.9L85.0 457.7L85.9 458.4L86.9 458.0L87.9 458.5L88.9 459.3L89.8 459.3L90.8 459.4L91.8 460.0L92.7 460.0L93.7 461.4L94.7 461.8L95.7 462.7L96.7 462.8L97.7 464.1L98.7 465.4L99.7 466.9L100.8 468.0L101.8 469.6L102.8 470.4L103.8 470.7L104.9 472.7L105.9 472.6L107.0 474.0L108.0 474.1L109.0 475.0L110.2 475.9L111.3 477.7L112.4 479.8L113.5 481.5L114.4 480.2L115.3 479.3L116.2 477.5L117.1 477.3L118.0 477.1L119.0 477.0L120.0 477.5L121.0 477.3L121.9 477.1L122.9 477.3L123.9 477.4L124.8 477.4L125.8 477.6L126.8 477.5L127.8 478.0L128.8 478.3L129.8 478.1L130.8 477.5L131.8 477.4L132.9 477.8L133.9 477.6L134.9 478.2L135.9 477.0L136.9 476.3L137.9 475.1L138.9 474.6L139.8 473.3L140.8 472.3L141.8 472.2L142.8 470.9L143.8 470.3L144.7 470.7L145.6 470.7L146.5 469.9L147.4 469.5L148.3 471.7L149.2 473.6L150.2 472.8L151.2 471.6L152.2 471.1L153.2 471.1L154.3 469.6L155.3 469.4L156.3 469.2L157.3 467.9L158.3 465.9L159.3 464.8L160.4 463.6L161.4 461.9L162.4 461.1L163.4 459.5L164.4 459.3L165.5 457.8L166.5 457.1L167.5 456.3L168.5 455.8L169.5 454.0L170.6 454.5L171.4 455.9L172.3 457.9L173.2 460.2L174.1 461.6L175.2 465.8L176.4 469.7L177.5 474.0L178.6 477.9L179.6 478.6L180.5 478.5L181.5 478.6L182.5 479.6L183.5 479.5L184.5 480.3L185.4 480.7L186.4 480.4L187.4 481.5L188.4 481.7L189.4 480.3L190.4 478.8L191.4 478.4L192.4 477.2L193.3 475.2L194.3 474.0L195.3 472.8L196.3 471.4L197.3 470.7L198.4 473.2L199.4 477.0L200.5 478.7L201.6 481.9L202.7 486.0L203.5 485.3L204.4 484.4L205.3 485.9L206.2 485.0L207.3 484.2L208.4 482.4L209.4 483.0L210.5 481.9L211.6 481.1L212.6 480.7L213.7 479.8L214.8 479.7L215.8 479.9L216.9 479.8L217.9 478.5L218.9 477.2L219.9 475.9L220.9 474.9L221.9 474.3L222.9 472.3L223.9 470.5L224.8 470.1L225.8 468.6L226.9 467.2L228.0 466.1L229.0 465.8L230.1 464.2L231.2 463.3L232.3 461.0L233.4 459.8L234.5 457.2L235.6 455.2L236.8 456.8L237.9 458.9L239.0 461.8L240.1 463.0L241.2 467.3L242.2 470.7L243.3 474.2L244.4 477.7L245.4 481.2L246.3 481.4L247.2 480.8L248.1 480.0L249.0 480.2L249.9 479.2L250.8 476.3L251.7 475.0L252.6 473.2L253.6 473.0L254.6 471.6L255.6 471.8L256.7 470.2L257.7 470.1L258.7 468.9L259.7 468.8L260.7 466.7L261.8 464.6L262.8 463.5L263.8 461.2L264.8 460.1L265.8 457.1L266.8 456.9L268.0 455.3L269.1 455.0L270.2 453.6L271.3 452.4L272.4 453.3L273.5 454.1L274.6 455.6L275.8 456.2L276.8 457.2L277.8 459.3L278.8 461.1L279.8 462.5L280.9 464.1L281.9 465.7L282.9 466.1L283.8 468.0L284.7 469.4L285.6 469.9L286.5 470.5L287.5 469.4L288.6 468.9L289.7 469.2L290.7 467.6L291.8 467.2L292.8 467.0L293.9 467.3L294.9 466.5L295.9 466.2L296.9 466.9L298.0 467.1L299.0 466.0L300.0 466.9L301.1 468.4L302.1 469.6L303.2 470.9L304.3 471.6L305.3 471.5L306.4 470.8L307.5 471.0L308.5 470.3L309.6 469.8L310.7 469.5L311.8 470.1L312.8 471.1L313.9 471.5L315.0 472.4L316.0 471.5L317.0 471.2L318.0 471.5L319.0 470.6L320.1 470.5L321.1 470.9L322.1 470.8L323.1 471.1L324.1 471.7L325.1 473.1L326.1 473.1L327.1 475.7L328.0 477.0L329.0 477.5L330.0 478.1L331.0 479.0L331.9 479.1L332.8 479.1L333.7 479.2L334.6 479.1L335.6 480.3L336.6 480.8L337.6 482.1L338.7 481.6L339.7 483.2L340.7 484.8L341.7 485.3L342.6 485.4L343.5 485.3L344.4 485.3L345.3 484.9L346.4 488.3L347.5 491.4L348.6 495.1L349.7 498.7L350.6 498.0L351.5 498.4L352.4 498.3L353.5 499.4L354.6 500.3L355.6 501.7L356.7 503.0L357.8 504.6L358.7 504.8L359.5 505.2L360.4 505.1L361.3 504.9L362.3 506.5L363.4 506.7L364.4 509.0L365.4 510.4L366.4 510.4L367.4 511.7L368.5 512.1L369.5 512.8L370.5 512.7L371.5 512.9L372.5 512.9L373.6 512.5L374.6 513.0L375.6 512.8L376.7 512.1L377.7 512.4L378.8 511.4L379.9 511.0L380.9 511.1L381.8 509.8L382.7 506.2L383.6 508.2L384.5 510.6L385.6 510.6L386.6 511.0L387.7 511.2L388.8 510.6L389.9 510.5L390.9 510.0L391.9 509.5L392.9 509.1L393.9 508.9L395.0 508.8L396.0 508.7L397.0 508.2L398.1 508.0L399.1 508.4L400.2 507.8L401.3 508.9L402.3 508.7L403.4 507.5L404.4 505.3L405.5 503.2L406.5 502.9L407.5 500.6L408.6 498.7L409.6 498.4L410.7 498.5L411.7 499.6L412.7 499.9L413.8 499.6L414.8 500.7L415.7 501.5L416.6 503.4L417.5 504.2L418.4 505.8L419.4 506.4L420.4 507.7L421.4 508.1L422.5 508.7L423.5 509.5L424.5 510.0L425.5 510.8L426.5 509.7L427.6 511.2L428.6 511.3L429.6 511.6L430.6 511.3L431.6 511.1L432.7 511.1L433.7 511.1L434.7 509.5L435.7 509.2L436.7 508.1L437.7 506.7L438.7 506.3L439.7 505.9L440.7 504.5L441.6 499.3L442.5 495.5L443.4 490.9L444.4 490.6L445.4 490.0L446.4 489.8L447.4 488.8L448.4 488.5L449.5 488.4L450.5 487.7L451.5 487.1L452.5 486.7L453.5 486.6L454.4 486.1L455.4 485.4L456.4 484.1L457.4 483.8L458.4 483.6L459.4 483.4L460.4 483.3L461.4 483.5L462.4 484.4L463.4 484.4L464.4 484.7L465.3 485.2L466.3 485.5L467.3 486.3L468.3 486.9L469.3 487.1L470.3 487.6L471.3 488.9L472.3 489.1L473.3 490.0L474.3 490.6L475.3 491.2L476.2 492.9L477.2 493.1L478.1 493.2L479.0 493.1L479.9 492.5L480.8 491.5L481.9 491.5L483.0 490.5L484.1 488.5L485.3 487.7L486.4 489.0L487.5 489.3L488.6 490.0L489.7 489.8L490.6 489.8L491.5 488.9L492.4 488.6L493.4 488.1L494.4 489.0L495.3 488.5L496.3 489.4L497.3 489.9L498.3 490.4L499.3 490.6L500.2 490.9L501.2 491.8L502.2 491.8L503.3 490.5L504.3 490.3L505.4 489.7L506.5 488.3L507.5 487.0L508.6 488.4L509.7 488.6L510.8 488.0L511.8 489.3L512.9 489.6L514.0 490.2L515.0 488.8L516.1 487.9L517.2 488.2L518.2 487.9L519.4 485.4L520.5 484.8L521.6 483.3L522.7 482.5L523.8 483.2L524.8 483.6L525.9 484.9" fill="none" stroke="#303030" stroke-width="0.9" stroke-linejoin="round" />
<path d="M71.6 463.2L72.6 464.3L73.7 465.0L74.7 464.7L75.8 464.7L76.8 465.7L77.8 466.3L78.8 466.7L79.8 465.8L80.8 466.0L81.8 467.0L82.8 467.1L83.8 467.7L84.8 467.6L85.8 467.3L86.7 467.4L87.7 468.8L88.7 467.6L89.7 467.6L90.7 467.5L91.7 468.2L92.7 468.4L93.7 468.3L94.7 468.6L95.7 468.9L96.7 470.0L97.7 471.0L98.7 471.5L99.7 471.5L100.8 473.5L101.8 473.5L102.8 474.9L103.8 474.6L104.9 475.6L105.9 475.5L107.0 476.3L108.0 478.0L109.0 476.7L110.2 479.2L111.3 480.2L112.4 482.7L113.5 485.1L114.4 483.9L115.3 483.2L116.2 482.2L117.1 480.8L118.0 481.6L119.0 481.0L120.0 482.3L121.0 481.3L121.9 481.9L122.9 481.7L123.9 482.2L124.8 481.6L125.8 482.4L126.8 482.0L127.8 482.7L128.8 482.5L129.9 482.4L131.0 482.1L132.0 482.9L133.1 482.9L134.1 482.8L135.1 481.3L136.2 481.1L137.2 480.5L138.2 479.9L139.2 479.2L140.2 478.6L141.3 477.4L142.4 476.3L143.5 475.7L144.5 475.3L145.6 474.8L146.5 475.7L147.4 476.8L148.3 477.8L149.2 478.9L150.2 477.9L151.2 477.4L152.2 477.1L153.2 475.4L154.3 474.4L155.3 474.9L156.3 473.3L157.3 472.8L158.3 471.8L159.3 470.0L160.4 470.7L161.4 469.5L162.4 467.9L163.4 467.3L164.4 466.7L165.5 466.0L166.5 466.0L167.5 465.9L168.5 465.9L169.5 465.4L170.6 464.9L171.4 466.9L172.3 467.3L173.2 469.5L174.1 471.0L175.2 474.2L176.4 477.3L177.5 481.5L178.6 485.8L179.6 486.4L180.5 487.3L181.5 486.6L182.5 487.5L183.5 488.2L184.5 488.3L185.4 487.7L186.4 489.6L187.4 490.7L188.4 490.6L189.4 488.2L190.4 487.0L191.4 485.8L192.4 485.3L193.3 483.0L194.3 481.3L195.3 480.4L196.3 478.2L197.3 477.6L198.3 479.7L199.4 483.1L200.4 486.9L201.5 490.5L202.5 493.4L203.5 496.5L204.4 494.2L205.3 493.4L206.2 492.1L207.1 490.8L208.0 493.1L208.9 494.5L210.0 493.5L211.1 491.7L212.2 490.0L213.4 488.8L214.4 488.2L215.4 487.7L216.4 486.4L217.4 485.9L218.4 484.7L219.5 485.3L220.5 484.6L221.5 482.6L222.5 481.1L223.5 479.5L224.6 478.9L225.6 477.6L226.6 477.2L227.6 475.1L228.7 473.5L229.8 471.7L231.0 472.3L232.1 470.6L233.0 468.0L233.9 467.0L234.8 464.5L235.6 465.0L236.8 466.4L237.9 468.6L239.0 470.7L240.1 472.2L241.1 475.7L242.2 477.7L243.2 481.2L244.3 482.6L245.3 485.7L246.3 489.3L247.4 488.1L248.4 485.4L249.5 483.8L250.5 483.5L251.5 482.1L252.6 479.9L253.6 479.4L254.6 478.8L255.6 477.9L256.7 477.5L257.7 477.7L258.7 476.8L259.7 476.8L260.7 473.9L261.8 472.0L262.8 469.7L263.8 468.2L264.8 465.7L265.8 463.6L266.8 462.8L268.0 462.0L269.1 460.7L270.2 459.8L271.3 458.2L272.3 458.8L273.4 460.2L274.4 461.0L275.5 461.7L276.5 462.5L277.5 463.6L278.5 465.7L279.6 467.3L280.6 468.4L281.6 470.7L282.6 471.6L283.6 473.2L284.6 475.0L285.6 475.5L286.6 474.1L287.7 474.4L288.7 472.9L289.7 472.9L290.8 471.6L291.8 471.0L292.8 471.0L293.9 469.8L294.9 471.2L295.9 470.7L296.9 470.7L298.0 471.0L299.0 471.7L300.0 471.8L301.1 472.8L302.1 472.5L303.2 473.8L304.3 473.9L305.3 474.6L306.4 474.5L307.5 473.6L308.5 473.7L309.6 473.3L310.7 473.9L311.8 473.3L312.8 473.6L313.9 473.9L315.0 475.2L316.0 474.6L317.0 473.8L318.0 473.6L319.0 473.3L320.1 473.0L321.1 472.5L322.1 472.2L323.1 472.8L324.1 474.2L325.1 476.3L326.1 476.9L327.1 477.8L328.0 478.8L329.0 480.0L330.0 481.2L331.0 481.8L331.9 482.3L332.8 482.5L333.7 482.2L334.6 482.3L335.6 483.0L336.6 483.7L337.6 485.3L338.7 484.7L339.7 486.4L340.7 487.0L341.7 487.7L342.6 487.9L343.5 488.2L344.4 487.6L345.3 487.4L346.4 490.5L347.5 494.1L348.6 497.9L349.7 500.7L350.6 500.0L351.5 499.7L352.4 499.5L353.5 500.8L354.6 503.3L355.6 504.4L356.7 505.6L357.8 507.7L358.7 507.5L359.7 508.9L360.7 509.6L361.7 509.3L362.6 510.0L363.6 511.0L364.6 512.6L365.5 513.5L366.5 513.1L367.5 514.9L368.5 514.9L369.5 514.7L370.5 514.4L371.5 514.2L372.5 513.3L373.6 513.4L374.6 513.0L375.6 513.5L376.7 514.3L377.7 514.6L378.8 513.2L379.9 512.6L380.9 513.1L381.8 510.2L382.7 508.9L383.6 510.5L384.5 512.1L385.6 512.7L386.6 512.5L387.7 511.4L388.8 511.8L389.9 511.8L390.9 511.5L391.9 511.1L392.9 510.4L393.9 510.3L395.0 509.5L396.0 508.9L397.0 509.6L398.1 509.2L399.1 509.4L400.2 508.7L401.3 509.5L402.3 510.1L403.4 507.5L404.4 507.0L405.5 504.7L406.5 503.4L407.5 501.5L408.6 500.1L409.6 500.7L410.7 500.2L411.7 501.3L412.7 500.4L413.8 500.6L414.8 501.5L415.7 502.4L416.6 504.4L417.5 506.7L418.4 508.5L419.4 507.9L420.4 509.6L421.4 511.0L422.5 511.4L423.5 511.4L424.5 512.0L425.5 512.8L426.5 512.6L427.6 513.1L428.6 513.2L429.6 513.3L430.6 514.0L431.6 513.5L432.7 513.0L433.7 513.2L434.7 511.3L435.7 510.7L436.7 509.9L437.7 508.8L438.7 507.6L439.7 507.0L440.7 507.2L441.6 501.5L442.5 497.2L443.4 493.3L444.4 492.8L445.4 492.4L446.4 492.1L447.4 490.4L448.4 490.5L449.5 490.6L450.5 490.4L451.5 490.2L452.5 489.4L453.5 488.6L454.4 488.2L455.4 487.6L456.4 487.3L457.4 487.0L458.4 486.0L459.4 485.3L460.4 485.7L461.4 487.0L462.4 487.5L463.4 487.7L464.4 488.1L465.3 488.4L466.3 488.5L467.3 489.2L468.3 488.8L469.3 490.1L470.3 490.7L471.3 492.3L472.3 492.6L473.3 493.7L474.3 494.8L475.3 496.1L476.2 496.0L477.2 496.9L478.1 497.4L479.0 496.3L479.9 496.8L480.8 496.1L481.9 495.0L483.0 492.9L484.1 492.7L485.3 490.8L486.4 491.3L487.5 493.3L488.6 493.4L489.7 495.3L490.6 493.6L491.5 493.0L492.4 492.9L493.4 493.9L494.4 493.5L495.3 494.1L496.3 494.5L497.3 494.2L498.3 495.0L499.3 495.1L500.2 495.1L501.2 496.4L502.2 496.7L503.3 495.5L504.3 494.2L505.4 492.8L506.5 493.0L507.5 491.9L508.6 491.5L509.7 492.6L510.8 492.3L511.8 493.3L512.9 493.8L514.0 493.5L515.0 493.1L516.1 492.7L517.2 491.8L518.2 491.8L519.4 490.7L520.5 489.9L521.6 489.1L522.7 488.3L523.8 488.7L524.8 486.8L525.9 488.2" fill="none" stroke="#ff2020" stroke-width="1.0" stroke-linejoin="round" />
<path d="M71.6 639.0L72.6 639.4L73.7 638.7L74.7 638.2L75.8 638.4L76.8 637.5L77.8 636.9L78.8 637.6L79.8 636.0L80.8 635.2L81.8 634.8L82.8 634.8L83.8 635.0L84.8 634.7L85.8 634.5L86.7 634.4L87.7 634.2L88.7 633.5L89.7 633.7L90.7 633.2L91.7 632.4L92.7 633.0L93.7 632.4L94.7 632.1L95.7 633.1L96.7 632.4L97.6 631.8L98.6 631.9L99.6 633.1L100.6 631.8L101.6 632.2L102.6 632.1L103.6 632.0L104.6 632.0L105.6 631.0L106.6 630.5L107.6 630.2L108.6 629.6L109.6 629.7L110.6 629.6L111.6 627.9L112.6 628.1L113.7 628.1L114.8 629.0L115.9 630.0L117.1 630.9L118.1 630.4L119.2 629.2L120.3 631.0L121.3 630.0L122.4 629.6L123.4 630.6L124.4 630.2L125.4 630.1L126.4 631.4L127.4 631.7L128.4 631.3L129.3 632.5L130.3 632.5L131.3 632.1L132.3 633.5L133.3 632.8L134.3 632.1L135.3 632.9L136.3 632.7L137.3 633.1L138.3 631.9L139.3 633.2L140.2 633.1L141.2 633.1L142.2 633.1L143.2 633.6L144.2 633.4L145.2 633.2L146.2 632.8L147.2 633.9L148.2 633.9L149.2 633.7L150.1 633.6L151.1 633.9L152.1 632.2L153.1 633.7L154.1 632.3L155.1 633.6L156.1 634.1L157.1 634.5L158.1 633.3L159.1 634.5L160.2 634.9L161.3 634.5L162.4 636.7L163.4 637.1L164.4 636.7L165.5 635.8L166.5 635.9L167.5 635.6L168.5 635.8L169.5 634.9L170.6 636.2L171.6 633.3L172.6 632.5L173.6 631.7L174.6 630.4L175.7 630.7L176.7 629.4L177.7 627.5L178.7 627.8L179.7 628.0L180.7 626.3L181.8 626.7L182.8 626.1L183.8 627.1L184.8 625.7L185.7 624.8L186.6 624.3L187.5 625.1L188.4 623.5L189.4 625.4L190.4 623.9L191.4 625.1L192.5 625.6L193.5 625.9L194.5 626.7L195.5 627.6L196.5 626.0L197.6 624.8L198.6 625.3L199.6 624.5L200.6 622.5L201.6 622.1L202.7 619.7L203.7 621.4L204.8 620.0L205.9 620.2L206.9 621.4L208.0 619.5L209.0 620.3L210.0 620.0L211.1 619.7L212.1 620.3L213.1 621.2L214.1 620.6L215.1 621.1L216.2 621.4L217.2 620.6L218.2 619.7L219.2 620.7L220.2 619.7L221.2 620.0L222.3 618.4L223.3 620.4L224.4 619.4L225.5 619.8L226.5 621.1L227.6 621.7L228.7 622.2L229.8 622.0L230.8 622.8L231.9 623.3L233.0 622.5L233.9 622.7L234.8 623.8L235.6 625.0L236.6 623.7L237.6 621.8L238.6 620.1L239.6 619.2L240.5 618.4L241.5 616.2L242.5 615.9L243.5 614.0L244.5 612.7L245.4 610.9L246.3 612.1L247.2 611.7L248.1 611.1L249.0 612.5L250.0 612.8L251.1 614.4L252.1 614.9L253.1 615.4L254.1 616.7L255.1 617.2L256.1 617.9L257.1 619.3L258.1 620.6L259.1 621.2L260.1 622.0L261.1 622.7L262.1 624.2L263.1 625.0L264.1 626.3L265.1 626.9L266.1 628.3L267.1 626.9L268.2 628.1L269.2 628.9L270.3 629.6L271.3 628.8L272.3 628.0L273.4 627.6L274.4 627.2L275.5 626.2L276.5 623.9L277.5 623.8L278.6 624.0L279.6 623.2L280.6 622.4L281.6 622.3L282.6 621.8L283.7 622.8L284.7 621.8L285.7 621.5L286.7 621.1L287.7 621.3L288.8 620.8L289.8 620.5L290.8 620.8L291.8 620.6L292.8 620.8L293.9 620.6L294.9 621.1L295.9 620.4L296.9 620.5L298.0 620.4L299.0 619.8L300.0 620.7L300.7 618.1L301.7 617.6L302.7 619.0L303.8 618.7L304.8 618.1L305.8 618.8L306.8 618.8L307.8 618.7L308.8 618.0L309.8 619.0L310.8 618.6L311.8 619.1L312.8 619.4L313.8 619.5L314.8 620.4L315.8 620.0L316.7 621.0L317.8 620.4L318.8 619.7L319.9 619.7L320.9 619.7L321.9 619.5L323.0 618.5L324.0 619.2L325.1 618.2L326.1 618.2L327.1 616.6L328.2 616.4L329.2 617.2L330.3 617.0L331.4 617.9L332.4 618.8L333.5 618.0L334.6 619.5L335.6 619.8L336.6 618.9L337.6 618.1L338.7 618.0L339.7 617.3L340.7 617.3L341.7 617.2L342.6 616.9L343.5 617.8L344.4 618.1L345.3 618.7L346.3 616.5L347.4 613.2L348.5 612.0L349.6 609.5L350.6 606.2L351.6 605.5L352.7 603.7L353.7 603.2L354.7 602.3L355.7 600.5L356.7 599.5L357.8 598.3L358.9 597.9L360.0 597.5L361.1 596.9L362.2 597.2L363.1 598.0L364.0 598.9L365.0 598.6L366.1 596.7L367.1 596.3L368.2 594.1L369.2 594.3L370.2 592.3L371.3 591.6L372.3 591.9L373.3 590.7L374.3 590.4L375.3 590.7L376.4 590.0L377.4 590.0L378.4 591.0L379.5 592.1L380.6 593.1L381.7 594.5L382.7 595.2L383.7 595.3L384.8 594.8L385.8 592.9L386.8 592.6L387.8 593.8L388.8 592.4L389.9 592.2L390.9 592.4L391.9 593.0L392.9 594.3L393.9 593.2L395.0 594.0L396.0 594.3L397.0 594.1L397.9 593.7L398.8 593.4L399.7 593.0L400.6 592.7L401.6 592.7L402.6 594.0L403.6 596.8L404.6 597.0L405.7 598.6L406.7 599.2L407.7 600.2L408.8 601.2L409.8 599.2L410.9 599.0L412.0 599.4L413.0 598.8L414.1 597.1L415.2 597.2L416.2 596.6L417.3 594.7L418.4 594.4L419.4 594.6L420.4 594.7L421.4 592.2L422.5 592.6L423.5 592.5L424.5 591.6L425.5 591.2L426.4 591.8L427.3 592.8L428.2 592.4L429.1 593.8L430.0 592.7L430.9 591.6L431.8 590.8L432.7 588.7L433.5 590.2L434.4 592.1L435.3 593.6L436.2 594.8L437.3 595.1L438.4 596.2L439.4 596.8L440.5 598.3L441.6 599.2L442.5 600.3L443.4 601.2L444.2 602.7L445.1 603.6L446.1 603.1L447.1 602.5L448.1 602.9L449.0 603.1L450.0 603.2L451.0 602.8L451.9 603.0L452.9 602.2L453.9 602.8L454.9 602.8L455.8 602.1L456.9 601.7L457.9 602.5L459.0 601.2L460.0 601.9L461.0 601.2L462.1 601.0L463.1 600.8L464.2 600.5L465.2 600.5L466.2 601.3L467.3 600.9L468.3 599.9L469.3 600.3L470.3 600.6L471.3 600.0L472.3 601.2L473.3 600.4L474.3 600.8L475.3 600.1L476.2 600.1L477.2 600.2L478.2 600.5L479.2 601.4L480.2 600.8L481.2 601.5L482.2 600.9L483.2 600.7L484.2 601.3L485.2 601.1L486.1 600.6L487.1 601.4L488.1 601.9L489.1 601.2L490.1 600.6L491.1 600.8L492.1 600.5L493.1 600.9L494.1 600.5L495.1 600.9L496.1 601.0L497.0 601.5L498.0 600.2L499.0 599.7L500.0 601.5L501.0 600.9L502.0 600.4L503.0 600.8L504.0 600.1L505.0 600.4L505.9 601.0L506.9 600.6L507.9 600.9L508.8 601.1L509.8 601.1L510.8 601.0L511.8 601.4L512.7 601.9L513.7 602.0L514.7 601.0L515.7 601.8L516.7 600.5L517.7 600.8L518.8 601.7L519.8 601.8L520.8 602.3L521.8 600.8L522.8 602.2L523.9 601.4L524.9 601.5L525.9 602.0" fill="none" stroke="#303030" stroke-width="0.9" stroke-linejoin="round" />
<path d="M71.6 651.3L72.6 651.7L73.7 650.2L74.7 649.4L75.8 650.0L76.8 649.9L77.8 649.4L78.8 649.3L79.8 648.8L80.8 648.4L81.8 648.2L82.8 648.3L83.8 648.1L84.8 648.6L85.8 648.3L86.7 647.2L87.7 648.0L88.7 647.4L89.7 647.8L90.7 647.8L91.7 647.1L92.7 645.7L93.7 646.8L94.7 645.4L95.7 646.8L96.7 645.2L97.8 644.9L98.9 645.3L99.9 643.0L101.0 643.4L101.9 644.6L102.8 646.7L103.9 645.5L104.9 645.1L106.0 643.6L107.1 642.8L108.1 641.9L109.3 639.4L110.4 639.6L111.5 637.4L112.6 635.4L113.7 636.8L114.8 638.5L115.9 639.4L117.1 639.4L118.1 639.6L119.2 639.4L120.3 639.6L121.3 638.7L122.4 639.0L123.4 638.3L124.4 638.7L125.4 639.6L126.4 639.9L127.4 639.7L128.4 640.3L129.3 640.3L130.3 640.8L131.3 641.3L132.4 640.6L133.5 640.4L134.5 639.4L135.6 639.0L136.7 637.7L137.7 640.0L138.7 640.7L139.7 641.8L140.8 641.5L141.8 643.1L142.8 644.0L143.8 644.2L144.8 645.3L145.8 645.3L146.8 643.7L147.8 644.3L148.8 644.7L149.8 643.0L150.7 643.8L151.7 643.9L152.7 643.8L153.7 642.7L154.8 643.5L155.8 644.7L156.8 645.8L157.8 645.1L158.8 646.0L159.9 646.4L160.9 647.7L161.9 647.0L162.9 647.8L163.9 648.1L165.0 648.5L166.0 648.4L167.0 648.5L168.1 648.7L169.1 648.0L170.2 646.9L171.3 646.9L172.3 647.4L173.4 645.2L174.5 643.2L175.5 641.7L176.6 641.5L177.7 638.0L178.8 637.9L179.8 637.5L180.9 636.8L182.0 637.2L183.0 636.7L184.1 636.8L185.2 636.2L186.2 637.9L187.3 638.0L188.4 638.0L189.4 635.5L190.4 635.7L191.4 634.0L192.5 633.3L193.5 632.0L194.5 630.7L195.5 630.5L196.4 628.7L197.3 627.9L198.2 625.5L199.1 624.5L200.0 623.1L200.9 620.3L201.8 617.6L202.7 615.3L203.8 616.5L204.9 617.9L206.0 619.4L207.1 620.3L208.2 621.0L209.3 621.5L210.5 621.6L211.6 622.6L212.6 622.8L213.6 622.7L214.6 623.2L215.6 623.7L216.7 623.7L217.7 623.9L218.7 625.0L219.8 624.3L220.8 624.4L221.9 623.4L223.0 623.3L224.1 623.0L225.1 623.2L226.1 624.1L227.1 624.2L228.1 624.9L229.1 626.1L230.2 626.4L231.2 626.8L232.1 627.6L233.0 629.6L233.9 631.5L234.8 630.7L235.7 630.7L236.7 628.7L237.7 627.6L238.7 626.0L239.7 623.3L240.7 623.2L241.7 620.4L242.7 619.0L243.7 617.8L244.7 617.1L245.8 616.9L246.9 616.2L247.9 615.5L249.0 615.7L250.0 616.2L251.1 618.4L252.1 618.9L253.1 620.5L254.1 620.2L255.1 620.8L256.1 621.7L257.1 623.7L258.1 624.4L259.1 626.3L260.1 626.5L261.1 627.6L262.1 629.5L263.1 630.3L264.1 631.9L265.1 633.1L266.1 633.6L267.1 633.6L268.1 634.5L269.1 636.9L270.2 636.4L271.2 637.4L272.2 638.1L273.3 637.5L274.3 636.8L275.4 636.1L276.5 635.6L277.5 634.3L278.6 635.6L279.6 634.0L280.6 632.7L281.6 633.1L282.6 632.5L283.7 630.8L284.7 630.6L285.7 631.0L286.7 629.9L287.7 629.2L288.8 628.8L289.8 627.6L290.8 626.9L291.8 627.2L292.8 625.3L293.9 624.4L294.9 623.7L295.9 622.4L296.9 620.8L298.0 621.4L299.0 619.4L300.0 619.3L300.7 618.1L301.7 617.5L302.6 618.8L303.6 618.1L304.6 617.8L305.6 618.3L306.5 617.3L307.5 618.7L308.5 618.3L309.5 618.6L310.4 618.4L311.4 619.3L312.5 617.8L313.5 616.8L314.6 615.7L315.7 613.7L316.7 612.2L317.8 612.1L318.9 611.4L320.0 611.3L321.0 611.8L322.1 610.8L323.1 609.0L324.1 608.5L325.2 607.6L326.2 606.9L327.2 604.5L328.2 603.1L329.2 602.4L330.3 601.5L331.4 601.0L332.4 599.9L333.5 599.6L334.6 598.5L335.6 599.2L336.6 598.8L337.6 598.8L338.7 598.2L339.7 597.7L340.7 598.3L341.7 598.2L342.8 599.4L343.9 599.9L345.1 600.0L346.2 600.5L347.1 599.3L348.0 599.0L348.8 598.4L349.7 597.3L350.6 598.6L351.5 601.5L352.4 602.0L353.3 605.0L354.4 605.1L355.4 605.6L356.5 604.8L357.6 605.9L358.7 605.2L359.5 607.2L360.4 608.1L361.3 610.0L362.3 609.0L363.4 608.6L364.4 607.5L365.4 605.6L366.4 604.5L367.4 603.0L368.5 601.8L369.5 601.3L370.5 602.0L371.5 602.3L372.5 601.4L373.6 601.9L374.6 601.0L375.6 600.9L376.6 602.1L377.6 603.7L378.6 603.9L379.7 605.4L380.7 605.7L381.7 606.2L382.7 606.7L383.7 607.1L384.8 606.4L385.8 607.0L386.8 606.4L387.8 604.9L388.8 605.8L389.9 605.3L390.9 603.8L391.9 605.0L392.9 605.9L393.9 605.2L395.0 605.9L396.0 606.8L397.0 606.9L397.9 606.1L398.8 605.3L399.7 603.7L400.6 604.4L401.6 604.5L402.6 606.3L403.6 606.1L404.6 607.6L405.7 608.5L406.7 609.3L407.7 610.5L408.6 610.1L409.5 610.1L410.4 609.4L411.3 609.0L412.3 607.7L413.3 606.8L414.3 604.6L415.3 603.4L416.4 601.7L417.4 599.2L418.4 598.3L419.4 597.4L420.4 596.3L421.4 595.8L422.5 594.3L423.5 594.4L424.5 593.1L425.5 593.1L426.6 592.4L427.7 591.2L428.7 591.3L429.8 591.1L430.9 590.4L431.8 588.8L432.7 586.6L433.5 588.1L434.4 589.9L435.3 590.9L436.4 590.8L437.6 588.2L438.7 588.0L439.8 587.3L440.9 589.4L441.9 590.4L443.0 591.4L444.1 592.7L445.1 594.2L446.1 594.6L447.1 595.0L448.1 596.1L449.1 596.5L450.1 597.6L451.1 598.7L452.1 599.1L453.1 600.3L454.1 600.9L455.1 600.8L456.1 601.2L457.2 602.6L458.2 602.7L459.3 603.5L460.3 603.4L461.3 603.9L462.4 604.4L463.4 604.5L464.5 605.8L465.5 606.0L466.5 606.1L467.6 605.0L468.6 604.9L469.6 604.8L470.6 604.9L471.6 604.0L472.6 603.6L473.7 603.5L474.7 603.7L475.6 603.9L476.6 603.8L477.6 605.4L478.6 605.2L479.6 605.3L480.6 605.9L481.6 605.7L482.6 605.9L483.6 606.1L484.6 607.3L485.6 606.7L486.5 607.6L487.5 607.2L488.5 607.1L489.5 607.8L490.5 608.0L491.5 608.2L492.5 609.9L493.6 609.7L494.6 609.8L495.7 611.1L496.7 611.0L497.7 612.3L498.8 611.4L499.8 613.2L500.9 612.7L501.9 613.4L502.9 614.4L504.0 614.2L505.0 614.1L505.9 614.9L506.9 615.1L507.9 614.6L508.8 616.1L509.8 615.3L510.8 615.6L511.8 616.0L512.7 616.3L513.7 616.9L514.7 615.5L515.7 616.6L516.7 617.2L517.7 616.9L518.8 616.8L519.8 616.4L520.8 617.2L521.8 616.9L522.8 617.3L523.9 616.8L524.9 617.2L525.9 617.4" fill="none" stroke="#ff3030" stroke-width="0.9" stroke-linejoin="round" />
<path d="M71.6 697.2L72.6 697.1L73.6 696.3L74.6 696.1L75.6 696.6L76.6 696.8L77.7 696.5L78.7 696.1L79.7 696.4L80.7 696.9L81.7 696.0L82.7 696.7L83.7 696.5L84.7 696.5L85.7 696.5L86.7 696.1L87.7 696.4L88.7 697.1L89.7 696.5L90.7 696.7L91.7 696.5L92.7 696.9L93.7 697.4L94.7 697.7L95.7 697.6L96.7 697.7L97.6 697.9L98.6 697.9L99.6 698.2L100.6 698.0L101.6 698.5L102.6 698.3L103.6 698.0L104.6 698.2L105.6 698.6L106.6 698.6L107.6 698.5L108.5 698.8L109.5 699.1L110.5 699.3L111.5 699.5L112.5 699.1L113.5 699.6L114.5 699.9L115.5 699.8L116.5 700.3L117.5 699.7L118.4 700.0L119.4 700.1L120.4 700.0L121.4 700.3L122.4 700.4L123.4 700.3L124.4 700.1L125.4 700.1L126.4 700.1L127.4 699.7L128.4 700.1L129.3 699.7L130.3 699.9L131.3 699.6L132.3 699.9L133.3 699.7L134.3 699.7L135.3 699.5L136.3 699.7L137.3 700.1L138.3 699.0L139.3 699.7L140.2 699.5L141.3 699.2L142.3 698.8L143.3 699.6L144.3 699.0L145.3 699.1L146.4 698.6L147.4 698.4L148.4 698.8L149.4 698.5L150.4 698.1L151.5 698.0L152.5 698.1L153.5 697.6L154.5 697.4L155.5 697.4L156.5 697.5L157.5 697.2L158.5 696.8L159.5 696.9L160.5 696.2L161.4 695.9L162.4 696.5L163.4 695.4L164.5 695.4L165.6 695.1L166.6 694.7L167.7 694.5L168.8 694.3L169.8 694.7L170.8 694.7L171.7 695.3L172.7 696.1L173.7 696.3L174.7 696.4L175.7 696.9L176.7 697.0L177.7 697.3L178.7 697.6L179.6 698.2L180.6 697.6L181.6 697.2L182.6 697.8L183.5 697.7L184.5 698.1L185.5 698.3L186.4 697.9L187.4 698.1L188.4 697.8L189.4 698.0L190.4 697.0L191.4 696.7L192.4 697.0L193.3 695.6L194.3 695.5L195.3 695.0L196.3 694.7L197.3 694.3L198.4 695.1L199.4 695.3L200.5 695.9L201.6 695.9L202.7 696.9L203.6 696.4L204.6 697.2L205.6 696.8L206.6 697.1L207.6 696.7L208.6 696.9L209.6 696.8L210.6 697.0L211.6 696.8L212.6 696.2L213.6 695.9L214.5 695.4L215.5 694.9L216.5 694.5L217.5 694.0L218.5 694.6L219.5 693.4L220.5 692.9L221.5 692.9L222.5 692.1L223.5 691.4L224.6 691.2L225.6 690.8L226.6 689.5L227.6 689.5L228.6 689.1L229.6 689.0L230.6 688.3L231.6 688.7L232.6 688.3L233.6 686.9L234.6 687.8L235.5 687.6L236.5 686.6L237.5 687.5L238.5 687.7L239.5 688.2L240.5 688.3L241.5 689.2L242.5 689.6L243.5 689.7L244.5 690.1L245.4 690.1L246.5 690.4L247.5 689.5L248.5 689.6L249.5 689.0L250.5 689.7L251.6 688.6L252.6 688.7L253.6 688.6L254.6 688.9L255.6 689.5L256.7 689.6L257.7 690.6L258.7 690.2L259.7 691.0L260.7 690.1L261.7 690.1L262.6 690.5L263.6 689.8L264.6 690.7L265.6 690.2L266.5 690.0L267.5 690.4L268.5 689.7L269.4 689.5L270.4 688.9L271.5 689.3L272.5 690.0L273.5 689.7L274.6 690.8L275.6 691.1L276.7 691.1L277.7 690.8L278.7 691.2L279.8 691.3L280.8 692.1L281.9 692.4L282.9 692.3L283.9 692.1L284.9 691.8L285.9 691.7L286.9 690.9L287.8 690.6L288.8 690.8L289.8 690.4L290.8 690.1L291.8 689.7L292.8 689.7L293.9 689.4L294.9 688.8L295.9 689.3L296.9 688.9L298.0 688.3L299.0 688.1L300.0 687.7L300.7 688.4L301.7 688.5L302.7 688.5L303.8 688.7L304.8 689.1L305.8 689.0L306.8 688.7L307.8 689.1L308.8 688.8L309.8 688.5L310.8 689.1L311.8 688.3L312.8 688.7L313.8 687.8L314.9 688.3L315.9 687.9L316.9 688.2L317.9 687.9L318.9 687.4L319.9 687.7L320.9 687.8L321.9 687.7L322.9 687.6L323.9 686.9L324.9 687.9L325.8 687.3L326.8 687.7L327.8 687.5L328.7 688.1L329.7 688.0L330.7 688.7L331.7 688.4L332.6 689.7L333.6 689.7L334.6 690.1L335.6 690.4L336.7 690.5L337.7 690.9L338.7 691.2L339.8 691.0L340.8 691.6L341.9 692.2L342.9 692.9L343.9 692.6L345.0 693.4L346.0 693.6L347.1 694.3L348.0 694.8L349.0 694.6L350.0 695.0L351.0 696.2L351.9 696.5L352.9 696.6L353.9 697.2L354.8 697.4L355.8 697.9L356.8 698.1L357.8 698.7L358.8 699.4L359.7 699.6L360.7 699.9L361.7 699.8L362.7 700.4L363.7 700.2L364.7 700.6L365.7 701.0L366.7 700.9L367.7 701.1L368.8 700.3L369.8 701.1L370.8 700.6L371.9 700.2L372.9 699.7L374.0 699.5L375.0 699.4L376.0 698.8L377.1 698.9L378.1 698.5L379.2 698.8L380.1 699.0L381.1 699.0L382.1 698.2L383.0 698.2L384.0 699.0L385.0 698.8L386.0 698.9L386.9 698.8L387.9 698.7L388.9 699.2L389.9 698.8L390.8 698.7L391.8 698.1L392.8 698.3L393.7 698.5L394.7 698.2L395.7 698.2L396.7 697.7L397.6 697.9L398.6 697.4L399.6 697.4L400.6 697.7L401.5 697.6L402.5 696.7L403.5 696.4L404.4 696.1L405.4 695.8L406.4 695.6L407.4 695.6L408.3 695.1L409.3 694.7L410.3 694.6L411.3 693.6L412.2 694.4L413.2 695.3L414.2 694.7L415.1 695.1L416.1 695.7L417.1 696.2L418.1 696.1L419.0 696.1L420.0 697.2L421.0 696.3L422.0 697.1L423.0 697.2L424.0 696.8L425.0 698.0L426.0 698.3L427.0 697.4L428.1 697.8L429.1 698.0L430.1 697.8L431.1 697.1L432.1 696.9L433.0 696.4L434.0 695.8L435.0 695.4L436.0 695.4L437.0 694.6L438.0 694.3L439.1 692.9L440.1 691.8L441.2 690.9L442.3 689.2L443.4 687.7L444.3 687.5L445.3 687.8L446.3 687.0L447.2 687.2L448.2 687.6L449.2 686.7L450.2 686.9L451.1 686.2L452.1 686.0L453.1 686.0L454.1 685.3L455.1 684.7L456.1 685.3L457.1 685.0L458.1 685.2L459.1 685.6L460.2 685.1L461.2 684.4L462.2 685.2L463.2 684.8L464.2 685.0L465.3 686.5L466.3 685.8L467.3 685.7L468.3 686.6L469.3 686.9L470.3 687.5L471.2 687.7L472.2 688.0L473.2 688.7L474.2 688.7L475.1 688.9L476.1 689.6L477.1 689.7L478.0 690.5L479.0 690.6L480.0 690.1L481.1 689.7L482.1 689.6L483.1 689.3L484.1 688.6L485.1 687.6L486.1 688.1L487.2 687.9L488.2 688.5L489.2 688.4L490.2 688.9L491.2 688.9L492.3 688.9L493.3 689.0L494.3 689.6L495.3 689.9L496.3 689.6L497.4 689.5L498.4 690.6L499.4 691.4L500.4 690.7L501.4 690.8L502.5 690.4L503.5 690.3L504.5 691.0L505.5 690.0L506.5 690.5L507.5 690.1L508.6 690.4L509.6 690.6L510.6 690.1L511.6 689.8L512.6 690.2L513.7 689.7L514.7 689.1L515.7 689.7L516.7 688.7L517.7 688.6L518.8 688.8L519.8 688.0L520.8 687.5L521.8 687.5L522.8 686.6L523.9 686.3L524.9 686.4L525.9 686.7" fill="none" stroke="#50f050" stroke-width="0.9" stroke-linejoin="round" />
<path d="M71.6 712.0L72.8 711.9L73.9 711.8L75.1 711.6L76.3 711.7L77.4 711.6L78.6 711.8L79.8 711.2L80.9 712.1L82.1 710.5L83.2 711.3L84.4 711.4L85.6 711.1L86.7 710.9L87.9 711.0L89.1 711.1L90.3 711.2L91.5 710.4L92.7 710.8L93.9 710.5L95.1 710.9L96.3 710.5L97.4 710.6L98.6 710.7L99.8 710.3L101.0 710.4L102.2 710.1L103.4 710.1L104.6 709.6L105.9 709.7L107.1 709.5L108.4 709.2L109.7 709.7L110.9 708.3L112.2 708.0L113.5 708.4L114.7 708.5L115.9 708.4L117.1 708.7L118.3 708.9L119.4 708.2L120.6 708.0L121.8 708.3L123.0 708.7L124.2 708.5L125.4 708.3L126.6 708.4L127.8 708.4L128.9 707.9L130.1 708.5L131.3 708.1L132.5 708.4L133.7 708.3L134.9 708.6L136.1 708.8L137.3 708.6L138.5 708.8L139.6 709.0L140.8 709.0L142.0 708.7L143.2 709.2L144.4 708.9L145.6 709.0L146.8 709.2L148.0 709.6L149.2 709.0L150.3 709.3L151.5 709.5L152.7 709.3L153.9 709.7L155.1 710.1L156.3 709.4L157.5 710.0L158.7 709.9L159.9 710.7L161.0 710.3L162.2 710.4L163.4 710.2L164.6 710.0L165.8 710.4L167.0 710.5L168.2 710.4L169.4 710.9L170.6 710.7L171.8 709.6L173.1 709.0L174.4 708.5L175.7 707.4L176.9 707.0L178.2 706.2L179.5 705.7L180.7 705.9L182.0 705.8L183.3 706.4L184.6 706.1L185.8 706.5L187.1 706.2L188.4 706.3L189.7 707.1L191.1 707.8L192.4 708.8L193.7 708.9L195.0 710.9L196.4 711.3L197.7 713.2L198.9 710.9L200.2 708.7L201.4 707.0L202.7 704.7L203.8 703.9L205.0 702.9L206.2 702.7L207.4 700.7L208.6 700.5L209.8 699.0L211.0 698.2L212.2 697.6L213.4 697.4L214.5 696.3L215.7 695.5L216.9 695.2L218.1 695.0L219.3 695.1L220.5 694.4L221.7 695.0L222.9 694.9L224.1 694.3L225.2 694.8L226.4 695.4L227.6 695.6L228.8 696.2L230.0 696.5L231.2 696.8L232.5 696.9L233.9 697.1L235.2 698.2L236.5 698.2L237.7 698.2L238.8 697.7L240.0 696.7L241.1 696.2L242.3 695.7L243.4 695.0L244.6 693.8L245.7 694.7L246.8 695.8L247.9 696.8L249.0 697.4L250.2 699.2L251.4 701.0L252.6 702.0L253.8 702.8L255.0 703.3L256.1 704.2L257.3 705.1L258.5 705.9L259.7 706.3L260.9 706.8L262.1 708.2L263.3 707.8L264.6 709.0L265.8 709.6L267.1 710.5L268.4 711.4L269.6 711.8L270.9 713.6L272.2 713.9L273.4 713.5L274.6 713.0L275.8 712.6L277.0 713.2L278.1 713.0L279.3 712.8L280.5 712.9L281.7 712.5L282.9 711.9L284.1 712.5L285.4 713.6L286.6 714.5L287.9 715.3L289.1 715.9L290.3 715.8L291.6 715.7L292.8 716.0L294.0 716.1L295.2 715.7L296.4 715.6L297.6 715.8L298.8 715.6L300.0 715.9L301.1 715.2L302.2 715.3L303.4 714.7L304.5 714.8L305.6 715.0L306.7 713.7L307.8 713.7L309.1 714.7L310.4 714.7L311.7 714.9L312.9 715.4L314.2 715.6L315.5 715.6L316.7 715.7L317.9 716.3L319.1 716.5L320.3 717.1L321.5 717.1L322.7 716.7L323.9 717.4L325.1 717.1L326.3 717.9L327.4 717.5L328.6 718.1L329.8 718.1L331.0 718.0L332.3 718.3L333.5 717.8L334.8 717.0L336.0 717.6L337.3 717.0L338.5 717.0L339.8 717.0L341.0 716.9L342.2 716.6L343.5 716.1L344.7 715.6L345.9 714.9L347.1 714.5L348.3 713.8L349.4 713.6L350.6 712.6L351.8 712.5L353.0 712.1L354.2 711.2L355.4 710.4L356.6 710.2L357.8 709.0L359.0 708.8L360.3 708.7L361.6 708.1L362.9 707.5L364.1 707.0L365.4 706.5L366.7 706.6L367.9 706.9L369.1 706.9L370.2 706.6L371.4 706.8L372.6 706.6L373.8 706.7L375.1 707.6L376.4 708.1L377.6 708.1L378.9 708.7L380.2 709.6L381.5 709.6L382.7 710.8L383.9 710.7L385.1 710.0L386.3 710.1L387.5 710.3L388.7 710.2L389.9 709.8L391.0 710.0L392.2 710.1L393.4 710.6L394.6 710.8L395.8 710.8L397.0 710.9L398.3 710.8L399.7 710.5L401.0 710.3L402.3 709.8L403.6 710.7L404.9 711.4L406.2 711.7L407.4 712.5L408.7 712.8L410.0 713.4L411.3 713.9L412.4 712.4L413.6 712.4L414.8 711.8L416.0 710.4L417.2 709.5L418.4 709.0L419.7 708.9L420.9 708.8L422.2 708.1L423.5 708.2L424.8 707.7L426.0 707.8L427.3 707.4L428.5 707.7L429.7 707.6L430.9 707.8L432.1 708.3L433.2 707.9L434.4 708.3L435.8 708.6L437.1 709.2L438.4 709.5L439.8 710.5L441.0 712.3L442.2 713.9L443.4 716.4L444.5 716.3L445.7 717.0L446.9 716.7L448.1 717.3L449.3 717.6L450.5 718.7L451.7 718.4L452.9 718.0L454.1 718.1L455.2 718.0L456.4 718.0L457.6 717.7L458.8 718.2L460.0 718.0L461.2 717.7L462.4 717.9L463.6 718.0L464.8 717.8L465.9 717.6L467.1 717.8L468.3 717.8L469.6 717.7L470.9 716.6L472.1 716.4L473.4 715.9L474.7 715.4L476.0 715.1L477.2 714.2L478.5 714.3L479.7 714.0L481.0 714.3L482.2 714.0L483.5 713.7L484.7 713.7L486.0 713.9L487.2 713.5L488.5 712.8L489.7 713.9L491.0 712.9L492.2 712.9L493.5 712.0L494.7 711.8L496.0 711.6L497.2 711.3L498.5 710.7L499.7 711.0L500.9 710.0L502.2 709.7L503.5 710.8L504.9 710.7L506.2 710.7L507.5 711.8L508.7 711.5L509.9 711.5L511.1 711.4L512.3 710.7L513.5 710.7L514.7 710.2L515.9 710.2L517.2 710.4L518.4 710.6L519.7 710.7L520.9 711.8L522.2 711.4L523.4 711.5L524.7 712.0L525.9 712.0" fill="none" stroke="#404040" stroke-width="0.9" stroke-linejoin="round" />
<path d="M71.6 718.0L72.8 718.4L74.0 718.1L75.2 718.4L76.4 718.1L77.6 718.5L78.8 718.3L80.0 718.7L81.2 718.6L82.4 718.4L83.6 718.4L84.8 718.6L86.0 718.5L87.2 718.4L88.4 718.7L89.6 718.1L90.8 718.6L92.1 719.1L93.3 718.8L94.5 718.4L95.7 718.9L96.9 718.8L98.0 718.6L99.2 718.6L100.4 718.8L101.6 719.0L102.8 718.8L104.0 719.2L105.2 718.7L106.4 719.0L107.6 718.5L108.7 718.5L109.9 718.9L111.1 718.9L112.3 719.3L113.5 718.8L114.7 719.0L115.9 718.7L117.1 719.0L118.3 719.1L119.4 718.9L120.6 719.2L121.8 719.3L123.0 719.1L124.2 719.0L125.4 719.0L126.6 719.2L127.8 718.9L128.9 719.3L130.1 719.0L131.3 719.1L132.5 718.9L133.7 718.9L134.9 718.9L136.1 719.1L137.3 719.0L138.5 719.0L139.6 719.1L140.8 718.7L142.0 719.1L143.2 718.7L144.4 718.7L145.6 718.7L146.8 719.0L148.0 719.1L149.2 718.6L150.3 718.4L151.5 718.3L152.7 718.5L153.9 718.5L155.1 718.4L156.3 718.3L157.5 718.5L158.7 718.1L159.9 718.1L161.0 717.9L162.2 717.7L163.4 717.3L164.6 717.7L165.8 717.5L167.0 717.4L168.2 717.3L169.4 717.4L170.6 717.3L171.7 717.1L172.9 717.6L174.1 718.0L175.3 718.2L176.5 718.3L177.7 718.5L178.9 718.4L180.1 719.0L181.3 719.0L182.4 719.1L183.6 719.1L184.8 719.0L186.0 718.7L187.2 718.5L188.4 718.8L189.6 718.8L190.8 718.8L192.0 718.9L193.2 718.5L194.5 718.2L195.7 717.5L196.9 717.7L198.2 717.3L199.4 718.0L200.6 718.0L201.9 718.0L203.1 718.5L204.3 718.9L205.6 718.9L206.8 719.0L208.0 719.7L209.3 719.4L210.5 719.4L211.7 719.4L213.0 719.2L214.2 719.3L215.5 719.1L216.7 719.1L218.0 719.1L219.2 718.8L220.5 718.5L221.7 718.6L223.0 718.3L224.2 718.5L225.4 718.2L226.7 718.3L227.9 718.5L229.1 718.3L230.4 717.9L231.6 717.7L232.8 717.8L234.1 718.0L235.3 717.9L236.5 717.4L237.7 718.0L238.9 718.1L240.1 718.4L241.3 718.7L242.5 718.5L243.7 719.0L244.9 719.1L246.0 719.5L247.2 719.4L248.4 719.1L249.6 719.3L250.8 719.3L252.0 719.0L253.2 718.9L254.4 718.9L255.6 718.7L256.7 718.5L257.9 718.4L259.1 718.7L260.3 718.2L261.5 718.2L262.7 718.2L263.9 718.0L265.1 717.3L266.3 717.3L267.4 717.0L268.6 717.0L269.8 716.4L271.0 716.3L272.2 716.4L273.4 716.7L274.6 716.6L275.8 717.1L277.0 717.5L278.1 717.2L279.3 717.9L280.5 717.8L281.7 717.6L282.9 718.2L284.1 718.2L285.3 718.5L286.6 718.1L287.8 718.6L289.0 718.2L290.2 718.3L291.5 718.2L292.7 718.3L293.9 718.4L295.1 718.2L296.3 718.1L297.6 718.3L298.8 718.1L300.0 718.3L301.1 718.4L302.2 718.2L303.4 718.3L304.5 718.2L305.6 718.2L306.7 718.4L307.8 718.4L309.0 718.3L310.2 717.9L311.4 717.9L312.6 718.4L313.8 718.5L315.0 718.5L316.2 718.1L317.3 718.3L318.5 718.1L319.7 718.3L320.9 718.2L322.1 718.0L323.3 718.3L324.5 718.2L325.7 718.6L326.9 718.6L328.0 718.1L329.2 718.7L330.4 718.5L331.6 718.7L332.8 718.9L334.0 718.8L335.2 719.8L336.4 719.4L337.6 719.2L338.7 719.7L339.9 719.2L341.1 720.0L342.3 719.9L343.5 720.0L344.7 720.2L345.9 720.2L347.1 720.3L348.3 720.0L349.4 720.4L350.6 720.3L351.8 720.5L353.0 720.4L354.2 720.6L355.4 720.5L356.6 720.4L357.8 720.6L358.9 721.0L360.1 720.8L361.3 720.9L362.5 720.8L363.7 721.1L364.9 720.7L366.1 720.4L367.3 720.7L368.5 720.8L369.6 721.1L370.8 720.7L372.0 720.8L373.2 721.0L374.4 721.0L375.6 720.8L376.8 721.1L378.0 720.8L379.2 720.9L380.3 720.7L381.5 720.4L382.7 720.6L383.9 720.6L385.1 720.5L386.3 721.1L387.5 720.3L388.7 720.7L389.9 720.9L391.0 720.7L392.2 720.6L393.4 720.3L394.6 720.3L395.8 720.6L397.0 720.7L398.2 720.2L399.4 720.4L400.6 720.3L401.7 720.5L402.9 720.2L404.1 720.5L405.3 720.3L406.5 720.4L407.7 720.2L408.9 720.6L410.1 720.3L411.3 720.5L412.4 720.3L413.6 720.5L414.8 720.4L416.0 720.8L417.2 720.2L418.4 720.5L419.6 720.2L420.8 720.4L422.0 720.0L423.1 720.6L424.3 719.9L425.5 720.5L426.7 720.0L427.9 720.3L429.1 720.4L430.3 720.2L431.5 720.4L432.7 720.3L433.8 720.1L435.0 720.2L436.2 720.2L437.4 719.9L438.6 719.7L439.8 719.5L441.0 719.4L442.2 719.5L443.4 719.3L444.5 719.1L445.7 719.1L446.9 718.8L448.1 719.0L449.3 719.1L450.5 719.0L451.7 719.0L452.9 719.2L454.1 719.1L455.2 719.1L456.4 718.4L457.6 718.9L458.8 718.7L460.0 718.7L461.2 718.9L462.4 718.9L463.6 718.4L464.8 719.1L465.9 718.9L467.1 718.7L468.3 718.5L469.5 718.5L470.7 719.1L471.9 718.7L473.1 718.9L474.3 718.9L475.4 719.0L476.6 719.5L477.8 719.5L479.0 718.9L480.2 719.0L481.4 719.6L482.6 719.3L483.8 719.2L485.0 719.3L486.1 719.6L487.3 719.4L488.5 719.3L489.7 720.0L490.9 719.4L492.1 719.0L493.3 719.3L494.5 718.9L495.7 718.9L496.8 718.9L498.0 718.7L499.2 719.0L500.4 718.9L501.6 718.8L502.8 719.0L504.0 719.0L505.2 718.7L506.4 719.0L507.6 719.0L508.9 718.6L510.1 718.9L511.3 718.5L512.5 718.5L513.7 718.7L514.9 718.9L516.2 719.2L517.4 718.8L518.6 719.0L519.8 718.5L521.0 718.8L522.3 719.0L523.5 718.6L524.7 718.8L525.9 718.8" fill="none" stroke="#ff5050" stroke-width="0.9" stroke-linejoin="round" />
<path d="M71.6 679.3L72.6 679.8L73.6 680.2L74.6 680.0L75.6 680.1L76.6 679.7L77.7 680.1L78.7 680.2L79.7 680.6L80.7 680.4L81.7 680.4L82.7 680.3L83.7 680.3L84.7 680.6L85.7 681.1L86.7 680.2L87.7 679.9L88.7 681.5L89.7 681.5L90.7 681.2L91.7 681.2L92.7 681.0L93.7 681.1L94.7 680.9L95.7 681.6L96.7 681.4L97.6 680.9L98.6 681.4L99.6 681.5L100.6 681.5L101.6 682.4L102.6 682.2L103.6 680.9L104.6 682.2L105.6 682.4L106.6 682.5L107.6 682.3L108.5 681.5L109.5 682.4L110.5 682.2L111.5 682.7L112.5 682.4L113.5 681.8L114.5 682.9L115.5 682.0L116.5 682.7L117.5 682.5L118.4 682.2L119.4 681.7L120.4 682.2L121.4 682.2L122.4 682.5L123.4 682.4L124.4 683.0L125.4 682.5L126.4 682.7L127.4 681.9L128.4 682.1L129.3 682.5L130.3 682.5L131.3 682.3L132.3 681.9L133.3 681.7L134.3 682.5L135.3 681.7L136.3 681.7L137.3 682.3L138.3 681.8L139.3 681.5L140.2 681.9L141.2 681.4L142.2 681.8L143.2 681.2L144.2 680.8L145.2 681.7L146.2 681.1L147.2 680.7L148.2 680.4L149.2 679.9L150.1 680.0L151.1 679.6L152.1 680.1L153.1 680.1L154.1 679.5L155.1 679.3L156.1 679.4L157.1 679.1L158.1 679.1L159.1 678.9L160.1 678.7L161.0 678.6L162.0 677.9L163.0 678.2L164.0 677.1L165.0 677.6L166.0 677.3L167.0 677.3L168.0 677.1L169.0 677.3L170.0 676.6L171.0 677.0L171.9 676.9L172.9 677.3L173.9 677.2L174.9 677.0L175.9 677.0L176.9 677.1L178.0 677.3L179.0 677.6L180.1 677.8L181.1 677.6L182.1 677.5L183.2 677.6L184.2 678.2L185.3 677.8L186.3 678.1L187.3 677.6L188.4 678.7L189.4 678.4L190.3 678.1L191.3 678.1L192.3 678.3L193.3 678.0L194.3 678.1L195.3 677.9L196.2 677.5L197.2 677.2L198.2 678.0L199.2 676.7L200.2 676.4L201.2 675.5L202.2 674.2L203.2 673.3L204.2 672.4L205.2 672.3L206.2 670.9L207.2 670.2L208.2 669.9L209.1 668.7L210.1 668.2L211.1 667.5L212.1 667.0L213.0 666.0L214.0 665.5L215.0 665.1L215.9 664.1L216.9 663.5L217.9 663.4L218.9 662.5L219.8 662.3L220.8 662.1L221.8 661.4L222.8 661.5L223.7 660.4L224.7 659.4L225.7 659.5L226.6 659.0L227.6 658.7L228.6 657.8L229.6 658.1L230.6 658.3L231.6 657.8L232.6 657.9L233.6 657.2L234.6 657.3L235.6 657.0L236.7 657.7L237.7 657.1L238.8 657.9L239.8 657.8L240.8 657.9L241.9 657.9L242.9 658.3L243.8 658.7L244.8 659.7L245.8 659.9L246.7 661.0L247.7 661.3L248.7 661.9L249.7 662.6L250.6 662.7L251.6 663.6L252.6 663.3L253.6 664.3L254.7 665.3L255.7 665.5L256.7 666.7L257.8 666.8L258.8 667.1L259.9 668.4L260.9 668.6L261.9 669.1L263.0 669.7L264.0 670.1L265.1 670.8L266.1 671.6L267.1 671.5L268.2 672.0L269.2 672.2L270.3 672.8L271.3 673.3L272.3 673.7L273.4 673.8L274.4 674.1L275.5 674.7L276.5 675.3L277.5 675.6L278.5 676.5L279.5 676.0L280.5 676.1L281.5 676.5L282.5 677.2L283.5 676.9L284.5 677.4L285.5 677.3L286.5 678.0L287.5 678.2L288.5 678.1L289.5 677.9L290.5 677.9L291.6 677.2L292.6 677.8L293.6 677.7L294.7 676.4L295.7 676.2L296.8 676.5L297.9 676.2L298.9 676.1L300.0 675.5L301.1 675.3L302.1 675.6L303.2 676.5L304.3 676.3L305.3 675.8L306.2 676.3L307.2 676.6L308.2 676.4L309.2 676.6L310.2 676.6L311.2 676.4L312.2 676.1L313.2 676.5L314.2 676.7L315.2 676.3L316.2 676.9L317.1 677.2L318.1 676.8L319.1 676.7L320.1 676.6L321.1 676.4L322.1 677.1L323.1 676.8L324.2 676.9L325.2 677.9L326.3 677.9L327.3 677.7L328.3 678.2L329.4 678.4L330.4 678.8L331.5 678.2L332.5 678.7L333.5 678.8L334.6 679.6L335.6 679.5L336.6 680.1L337.6 680.9L338.7 680.7L339.7 680.5L340.7 681.0L341.7 681.4L342.7 681.0L343.7 682.2L344.8 682.1L345.8 682.6L346.8 682.9L347.8 682.9L348.8 683.5L349.9 683.1L350.9 682.6L352.0 682.8L353.0 682.7L354.0 682.9L355.1 683.1L356.1 682.0L357.2 682.4L358.2 682.1L359.2 682.2L360.3 682.4L361.3 682.5L362.3 681.5L363.4 682.1L364.4 682.4L365.4 681.8L366.4 682.2L367.4 682.2L368.5 682.5L369.5 682.1L370.5 681.3L371.5 681.7L372.5 682.0L373.6 681.9L374.6 681.9L375.6 682.4L376.6 681.8L377.7 682.4L378.7 682.9L379.8 682.2L380.8 683.0L381.8 683.1L382.9 683.1L383.9 684.2L385.0 683.5L386.0 684.1L387.0 683.8L388.1 684.0L389.1 684.3L390.1 684.5L391.0 684.1L392.0 684.2L393.0 683.9L394.0 684.2L395.0 683.9L396.0 683.8L397.0 683.9L398.0 683.8L399.0 683.6L400.0 683.4L401.0 683.5L401.9 683.2L402.9 683.7L403.9 683.2L404.9 683.4L405.9 682.9L406.9 683.0L408.0 682.2L409.0 682.3L410.1 682.7L411.1 682.2L412.1 681.3L413.2 681.6L414.2 681.5L415.3 681.1L416.3 680.7L417.3 680.5L418.4 681.2L419.4 680.5L420.4 680.8L421.4 680.7L422.5 680.1L423.5 680.3L424.5 680.2L425.5 679.8L426.5 680.1L427.6 679.9L428.6 679.9L429.6 679.6L430.6 679.5L431.6 679.6L432.7 679.2L433.6 679.6L434.6 679.3L435.6 679.0L436.5 678.7L437.5 678.8L438.5 678.5L439.5 678.2L440.4 678.4L441.4 678.6L442.4 678.5L443.4 677.9L444.4 677.5L445.4 678.5L446.4 677.5L447.4 677.4L448.4 676.9L449.4 677.1L450.4 676.8L451.4 676.6L452.4 676.7L453.4 676.7L454.4 676.5L455.4 676.4L456.4 675.7L457.4 676.3L458.4 675.8L459.4 675.9L460.4 675.6L461.4 676.5L462.4 676.6L463.4 676.6L464.4 676.8L465.3 676.9L466.3 677.8L467.3 677.3L468.3 677.3L469.3 677.6L470.3 678.1L471.2 678.1L472.2 678.3L473.2 678.6L474.2 679.1L475.1 679.4L476.1 678.8L477.1 679.1L478.0 679.3L479.0 679.8L480.1 679.7L481.1 679.2L482.1 678.6L483.2 678.5L484.2 677.9L485.3 677.9L486.3 677.6L487.3 677.1L488.4 677.1L489.4 677.2L490.5 676.4L491.5 676.4L492.5 676.2L493.6 675.5L494.6 676.3L495.7 675.6L496.7 675.4L497.7 675.9L498.8 675.8L499.8 675.8L500.9 675.7L501.9 675.9L502.9 675.6L504.0 675.7L505.0 675.5L505.9 674.9L506.9 675.2L507.9 675.2L508.8 675.1L509.8 674.9L510.8 674.8L511.8 675.2L512.7 674.8L513.7 674.3L514.7 674.9L515.7 674.4L516.7 674.2L517.7 673.9L518.8 673.0L519.8 672.8L520.8 673.2L521.8 673.5L522.8 673.1L523.9 672.3L524.9 672.8L525.9 672.8" fill="none" stroke="#4848ff" stroke-width="0.9" stroke-linejoin="round" />
<path d="M85.9 519.0L178.8 531.6L269.7 529.2L362.3 519.3" fill="none" stroke="#ff0000" stroke-width="1.2" stroke-linejoin="round" />
<circle cx="85.9" cy="519.0" r="1.9" fill="#ff0000"/>
<circle cx="178.8" cy="531.6" r="1.9" fill="#ff0000"/>
<circle cx="269.7" cy="529.2" r="1.9" fill="#ff0000"/>
<circle cx="362.3" cy="519.3" r="1.9" fill="#ff0000"/>
<path d="M85.9 586.0L362.3 586.0" fill="none" stroke="#00d000" stroke-width="1.0" stroke-linejoin="round" />
<path d="M85.9 585.4L178.8 585.4L269.7 585.4L362.3 585.4" fill="none" stroke="#0000e0" stroke-width="1.4" stroke-linejoin="round" />
<circle cx="85.9" cy="585.4" r="1.8" fill="#0000e0"/>
<circle cx="178.8" cy="585.4" r="1.8" fill="#0000e0"/>
<circle cx="269.7" cy="585.4" r="1.8" fill="#0000e0"/>
<circle cx="362.3" cy="585.4" r="1.8" fill="#0000e0"/>
<rect x="71.7" y="33.5" width="454.2" height="134.7" fill="none" stroke="#000" stroke-width="1.4"/>
<rect x="71.7" y="176.6" width="454.2" height="546.3" fill="none" stroke="#000" stroke-width="1.4"/>
<line x1="71.7" y1="244.4" x2="525.9" y2="244.4" stroke="#000" stroke-width="1.5" />
<line x1="71.7" y1="313.3" x2="525.9" y2="313.3" stroke="#000" stroke-width="1.5" />
<line x1="71.7" y1="381.5" x2="525.9" y2="381.5" stroke="#000" stroke-width="1.5" />
<line x1="71.7" y1="449.6" x2="525.9" y2="449.6" stroke="#000" stroke-width="1.5" />
<line x1="71.7" y1="518.0" x2="525.9" y2="518.0" stroke="#000" stroke-width="1.5" />
<line x1="71.7" y1="586.3" x2="525.9" y2="586.3" stroke="#000" stroke-width="1.5" />
<line x1="71.7" y1="654.5" x2="525.9" y2="654.5" stroke="#000" stroke-width="1.5" />
<path d="M88.4 33.5v4.6M88.4 168.2v-4.6M106.6 33.5v4.6M106.6 168.2v-4.6M124.9 33.5v11.0M124.9 168.2v-11.0M143.2 33.5v4.6M143.2 168.2v-4.6M161.4 33.5v4.6M161.4 168.2v-4.6M179.7 33.5v4.6M179.7 168.2v-4.6M197.9 33.5v4.6M197.9 168.2v-4.6M216.2 33.5v11.0M216.2 168.2v-11.0M234.5 33.5v4.6M234.5 168.2v-4.6M252.7 33.5v4.6M252.7 168.2v-4.6M271.0 33.5v4.6M271.0 168.2v-4.6M289.2 33.5v4.6M289.2 168.2v-4.6M307.5 33.5v11.0M307.5 168.2v-11.0M325.8 33.5v4.6M325.8 168.2v-4.6M344.0 33.5v4.6M344.0 168.2v-4.6M362.3 33.5v4.6M362.3 168.2v-4.6M380.5 33.5v4.6M380.5 168.2v-4.6M398.8 33.5v11.0M398.8 168.2v-11.0M417.1 33.5v4.6M417.1 168.2v-4.6M435.3 33.5v4.6M435.3 168.2v-4.6M453.6 33.5v4.6M453.6 168.2v-4.6M471.8 33.5v4.6M471.8 168.2v-4.6M490.1 33.5v11.0M490.1 168.2v-11.0M508.4 33.5v4.6M508.4 168.2v-4.6" stroke="#242424" stroke-width="1.1" fill="none"/>
<path d="M88.4 176.6v4.6M88.4 244.4v-4.6M106.6 176.6v4.6M106.6 244.4v-4.6M124.9 176.6v11.0M124.9 244.4v-11.0M143.2 176.6v4.6M143.2 244.4v-4.6M161.4 176.6v4.6M161.4 244.4v-4.6M179.7 176.6v4.6M179.7 244.4v-4.6M197.9 176.6v4.6M197.9 244.4v-4.6M216.2 176.6v11.0M216.2 244.4v-11.0M234.5 176.6v4.6M234.5 244.4v-4.6M252.7 176.6v4.6M252.7 244.4v-4.6M271.0 176.6v4.6M271.0 244.4v-4.6M289.2 176.6v4.6M289.2 244.4v-4.6M307.5 176.6v11.0M307.5 244.4v-11.0M325.8 176.6v4.6M325.8 244.4v-4.6M344.0 176.6v4.6M344.0 244.4v-4.6M362.3 176.6v4.6M362.3 244.4v-4.6M380.5 176.6v4.6M380.5 244.4v-4.6M398.8 176.6v11.0M398.8 244.4v-11.0M417.1 176.6v4.6M417.1 244.4v-4.6M435.3 176.6v4.6M435.3 244.4v-4.6M453.6 176.6v4.6M453.6 244.4v-4.6M471.8 176.6v4.6M471.8 244.4v-4.6M490.1 176.6v11.0M490.1 244.4v-11.0M508.4 176.6v4.6M508.4 244.4v-4.6" stroke="#242424" stroke-width="1.1" fill="none"/>
<path d="M88.4 244.4v4.6M88.4 313.3v-4.6M106.6 244.4v4.6M106.6 313.3v-4.6M124.9 244.4v11.0M124.9 313.3v-11.0M143.2 244.4v4.6M143.2 313.3v-4.6M161.4 244.4v4.6M161.4 313.3v-4.6M179.7 244.4v4.6M179.7 313.3v-4.6M197.9 244.4v4.6M197.9 313.3v-4.6M216.2 244.4v11.0M216.2 313.3v-11.0M234.5 244.4v4.6M234.5 313.3v-4.6M252.7 244.4v4.6M252.7 313.3v-4.6M271.0 244.4v4.6M271.0 313.3v-4.6M289.2 244.4v4.6M289.2 313.3v-4.6M307.5 244.4v11.0M307.5 313.3v-11.0M325.8 244.4v4.6M325.8 313.3v-4.6M344.0 244.4v4.6M344.0 313.3v-4.6M362.3 244.4v4.6M362.3 313.3v-4.6M380.5 244.4v4.6M380.5 313.3v-4.6M398.8 244.4v11.0M398.8 313.3v-11.0M417.1 244.4v4.6M417.1 313.3v-4.6M435.3 244.4v4.6M435.3 313.3v-4.6M453.6 244.4v4.6M453.6 313.3v-4.6M471.8 244.4v4.6M471.8 313.3v-4.6M490.1 244.4v11.0M490.1 313.3v-11.0M508.4 244.4v4.6M508.4 313.3v-4.6" stroke="#242424" stroke-width="1.1" fill="none"/>
<path d="M88.4 313.3v4.6M88.4 381.5v-4.6M106.6 313.3v4.6M106.6 381.5v-4.6M124.9 313.3v11.0M124.9 381.5v-11.0M143.2 313.3v4.6M143.2 381.5v-4.6M161.4 313.3v4.6M161.4 381.5v-4.6M179.7 313.3v4.6M179.7 381.5v-4.6M197.9 313.3v4.6M197.9 381.5v-4.6M216.2 313.3v11.0M216.2 381.5v-11.0M234.5 313.3v4.6M234.5 381.5v-4.6M252.7 313.3v4.6M252.7 381.5v-4.6M271.0 313.3v4.6M271.0 381.5v-4.6M289.2 313.3v4.6M289.2 381.5v-4.6M307.5 313.3v11.0M307.5 381.5v-11.0M325.8 313.3v4.6M325.8 381.5v-4.6M344.0 313.3v4.6M344.0 381.5v-4.6M362.3 313.3v4.6M362.3 381.5v-4.6M380.5 313.3v4.6M380.5 381.5v-4.6M398.8 313.3v11.0M398.8 381.5v-11.0M417.1 313.3v4.6M417.1 381.5v-4.6M435.3 313.3v4.6M435.3 381.5v-4.6M453.6 313.3v4.6M453.6 381.5v-4.6M471.8 313.3v4.6M471.8 381.5v-4.6M490.1 313.3v11.0M490.1 381.5v-11.0M508.4 313.3v4.6M508.4 381.5v-4.6" stroke="#242424" stroke-width="1.1" fill="none"/>
<path d="M88.4 381.5v4.6M88.4 449.6v-4.6M106.6 381.5v4.6M106.6 449.6v-4.6M124.9 381.5v11.0M124.9 449.6v-11.0M143.2 381.5v4.6M143.2 449.6v-4.6M161.4 381.5v4.6M161.4 449.6v-4.6M179.7 381.5v4.6M179.7 449.6v-4.6M197.9 381.5v4.6M197.9 449.6v-4.6M216.2 381.5v11.0M216.2 449.6v-11.0M234.5 381.5v4.6M234.5 449.6v-4.6M252.7 381.5v4.6M252.7 449.6v-4.6M271.0 381.5v4.6M271.0 449.6v-4.6M289.2 381.5v4.6M289.2 449.6v-4.6M307.5 381.5v11.0M307.5 449.6v-11.0M325.8 381.5v4.6M325.8 449.6v-4.6M344.0 381.5v4.6M344.0 449.6v-4.6M362.3 381.5v4.6M362.3 449.6v-4.6M380.5 381.5v4.6M380.5 449.6v-4.6M398.8 381.5v11.0M398.8 449.6v-11.0M417.1 381.5v4.6M417.1 449.6v-4.6M435.3 381.5v4.6M435.3 449.6v-4.6M453.6 381.5v4.6M453.6 449.6v-4.6M471.8 381.5v4.6M471.8 449.6v-4.6M490.1 381.5v11.0M490.1 449.6v-11.0M508.4 381.5v4.6M508.4 449.6v-4.6" stroke="#242424" stroke-width="1.1" fill="none"/>
<path d="M88.4 449.6v4.6M88.4 518.0v-4.6M106.6 449.6v4.6M106.6 518.0v-4.6M124.9 449.6v11.0M124.9 518.0v-11.0M143.2 449.6v4.6M143.2 518.0v-4.6M161.4 449.6v4.6M161.4 518.0v-4.6M179.7 449.6v4.6M179.7 518.0v-4.6M197.9 449.6v4.6M197.9 518.0v-4.6M216.2 449.6v11.0M216.2 518.0v-11.0M234.5 449.6v4.6M234.5 518.0v-4.6M252.7 449.6v4.6M252.7 518.0v-4.6M271.0 449.6v4.6M271.0 518.0v-4.6M289.2 449.6v4.6M289.2 518.0v-4.6M307.5 449.6v11.0M307.5 518.0v-11.0M325.8 449.6v4.6M325.8 518.0v-4.6M344.0 449.6v4.6M344.0 518.0v-4.6M362.3 449.6v4.6M362.3 518.0v-4.6M380.5 449.6v4.6M380.5 518.0v-4.6M398.8 449.6v11.0M398.8 518.0v-11.0M417.1 449.6v4.6M417.1 518.0v-4.6M435.3 449.6v4.6M435.3 518.0v-4.6M453.6 449.6v4.6M453.6 518.0v-4.6M471.8 449.6v4.6M471.8 518.0v-4.6M490.1 449.6v11.0M490.1 518.0v-11.0M508.4 449.6v4.6M508.4 518.0v-4.6" stroke="#242424" stroke-width="1.1" fill="none"/>
<path d="M88.4 518.0v4.6M88.4 586.3v-4.6M106.6 518.0v4.6M106.6 586.3v-4.6M124.9 518.0v11.0M124.9 586.3v-11.0M143.2 518.0v4.6M143.2 586.3v-4.6M161.4 518.0v4.6M161.4 586.3v-4.6M179.7 518.0v4.6M179.7 586.3v-4.6M197.9 518.0v4.6M197.9 586.3v-4.6M216.2 518.0v11.0M216.2 586.3v-11.0M234.5 518.0v4.6M234.5 586.3v-4.6M252.7 518.0v4.6M252.7 586.3v-4.6M271.0 518.0v4.6M271.0 586.3v-4.6M289.2 518.0v4.6M289.2 586.3v-4.6M307.5 518.0v11.0M307.5 586.3v-11.0M325.8 518.0v4.6M325.8 586.3v-4.6M344.0 518.0v4.6M344.0 586.3v-4.6M362.3 518.0v4.6M362.3 586.3v-4.6M380.5 518.0v4.6M380.5 586.3v-4.6M398.8 518.0v11.0M398.8 586.3v-11.0M417.1 518.0v4.6M417.1 586.3v-4.6M435.3 518.0v4.6M435.3 586.3v-4.6M453.6 518.0v4.6M453.6 586.3v-4.6M471.8 518.0v4.6M471.8 586.3v-4.6M490.1 518.0v11.0M490.1 586.3v-11.0M508.4 518.0v4.6M508.4 586.3v-4.6" stroke="#242424" stroke-width="1.1" fill="none"/>
<path d="M88.4 586.3v4.6M88.4 654.5v-4.6M106.6 586.3v4.6M106.6 654.5v-4.6M124.9 586.3v11.0M124.9 654.5v-11.0M143.2 586.3v4.6M143.2 654.5v-4.6M161.4 586.3v4.6M161.4 654.5v-4.6M179.7 586.3v4.6M179.7 654.5v-4.6M197.9 586.3v4.6M197.9 654.5v-4.6M216.2 586.3v11.0M216.2 654.5v-11.0M234.5 586.3v4.6M234.5 654.5v-4.6M252.7 586.3v4.6M252.7 654.5v-4.6M271.0 586.3v4.6M271.0 654.5v-4.6M289.2 586.3v4.6M289.2 654.5v-4.6M307.5 586.3v11.0M307.5 654.5v-11.0M325.8 586.3v4.6M325.8 654.5v-4.6M344.0 586.3v4.6M344.0 654.5v-4.6M362.3 586.3v4.6M362.3 654.5v-4.6M380.5 586.3v4.6M380.5 654.5v-4.6M398.8 586.3v11.0M398.8 654.5v-11.0M417.1 586.3v4.6M417.1 654.5v-4.6M435.3 586.3v4.6M435.3 654.5v-4.6M453.6 586.3v4.6M453.6 654.5v-4.6M471.8 586.3v4.6M471.8 654.5v-4.6M490.1 586.3v11.0M490.1 654.5v-11.0M508.4 586.3v4.6M508.4 654.5v-4.6" stroke="#242424" stroke-width="1.1" fill="none"/>
<path d="M88.4 654.5v4.6M88.4 722.9v-4.6M106.6 654.5v4.6M106.6 722.9v-4.6M124.9 654.5v11.0M124.9 722.9v-11.0M143.2 654.5v4.6M143.2 722.9v-4.6M161.4 654.5v4.6M161.4 722.9v-4.6M179.7 654.5v4.6M179.7 722.9v-4.6M197.9 654.5v4.6M197.9 722.9v-4.6M216.2 654.5v11.0M216.2 722.9v-11.0M234.5 654.5v4.6M234.5 722.9v-4.6M252.7 654.5v4.6M252.7 722.9v-4.6M271.0 654.5v4.6M271.0 722.9v-4.6M289.2 654.5v4.6M289.2 722.9v-4.6M307.5 654.5v11.0M307.5 722.9v-11.0M325.8 654.5v4.6M325.8 722.9v-4.6M344.0 654.5v4.6M344.0 722.9v-4.6M362.3 654.5v4.6M362.3 722.9v-4.6M380.5 654.5v4.6M380.5 722.9v-4.6M398.8 654.5v11.0M398.8 722.9v-11.0M417.1 654.5v4.6M417.1 722.9v-4.6M435.3 654.5v4.6M435.3 722.9v-4.6M453.6 654.5v4.6M453.6 722.9v-4.6M471.8 654.5v4.6M471.8 722.9v-4.6M490.1 654.5v11.0M490.1 722.9v-11.0M508.4 654.5v4.6M508.4 722.9v-4.6" stroke="#242424" stroke-width="1.1" fill="none"/>
<path d="M71.7 148.2h6.0M525.9 148.2h-6.0M71.7 109.7h6.0M525.9 109.7h-6.0M71.7 71.2h6.0M525.9 71.2h-6.0M71.7 167.4h2.8M525.9 167.4h-2.8M71.7 157.8h2.8M525.9 157.8h-2.8M71.7 138.6h2.8M525.9 138.6h-2.8M71.7 128.9h2.8M525.9 128.9h-2.8M71.7 119.3h2.8M525.9 119.3h-2.8M71.7 100.1h2.8M525.9 100.1h-2.8M71.7 90.5h2.8M525.9 90.5h-2.8M71.7 80.8h2.8M525.9 80.8h-2.8M71.7 61.6h2.8M525.9 61.6h-2.8M71.7 52.0h2.8M525.9 52.0h-2.8M71.7 42.3h2.8M525.9 42.3h-2.8" stroke="#242424" stroke-width="1.1" fill="none"/>
<path d="M71.7 235.4h6.0M525.9 235.4h-6.0M71.7 213.3h6.0M525.9 213.3h-6.0M71.7 191.2h6.0M525.9 191.2h-6.0M71.7 240.9h2.8M525.9 240.9h-2.8M71.7 229.9h2.8M525.9 229.9h-2.8M71.7 224.4h2.8M525.9 224.4h-2.8M71.7 218.8h2.8M525.9 218.8h-2.8M71.7 207.8h2.8M525.9 207.8h-2.8M71.7 202.2h2.8M525.9 202.2h-2.8M71.7 196.7h2.8M525.9 196.7h-2.8M71.7 185.7h2.8M525.9 185.7h-2.8M71.7 180.2h2.8M525.9 180.2h-2.8" stroke="#242424" stroke-width="1.1" fill="none"/>
<path d="M71.7 294.3h6.0M525.9 294.3h-6.0M71.7 274.8h6.0M525.9 274.8h-6.0M71.7 255.3h6.0M525.9 255.3h-6.0M71.7 307.9h2.8M525.9 307.9h-2.8M71.7 304.5h2.8M525.9 304.5h-2.8M71.7 302.1h2.8M525.9 302.1h-2.8M71.7 300.2h2.8M525.9 300.2h-2.8M71.7 298.6h2.8M525.9 298.6h-2.8M71.7 297.3h2.8M525.9 297.3h-2.8M71.7 296.2h2.8M525.9 296.2h-2.8M71.7 295.2h2.8M525.9 295.2h-2.8M71.7 288.4h2.8M525.9 288.4h-2.8M71.7 285.0h2.8M525.9 285.0h-2.8M71.7 282.6h2.8M525.9 282.6h-2.8M71.7 280.7h2.8M525.9 280.7h-2.8M71.7 279.1h2.8M525.9 279.1h-2.8M71.7 277.8h2.8M525.9 277.8h-2.8M71.7 276.7h2.8M525.9 276.7h-2.8M71.7 275.7h2.8M525.9 275.7h-2.8M71.7 268.9h2.8M525.9 268.9h-2.8M71.7 265.5h2.8M525.9 265.5h-2.8M71.7 263.1h2.8M525.9 263.1h-2.8M71.7 261.2h2.8M525.9 261.2h-2.8M71.7 259.6h2.8M525.9 259.6h-2.8M71.7 258.3h2.8M525.9 258.3h-2.8M71.7 257.2h2.8M525.9 257.2h-2.8M71.7 256.2h2.8M525.9 256.2h-2.8M71.7 249.4h2.8M525.9 249.4h-2.8M71.7 246.0h2.8M525.9 246.0h-2.8" stroke="#242424" stroke-width="1.1" fill="none"/>
<path d="M71.7 376.3h6.0M525.9 376.3h-6.0M71.7 359.7h6.0M525.9 359.7h-6.0M71.7 343.0h6.0M525.9 343.0h-6.0M71.7 326.4h6.0M525.9 326.4h-6.0M71.7 380.5h2.8M525.9 380.5h-2.8M71.7 372.2h2.8M525.9 372.2h-2.8M71.7 368.0h2.8M525.9 368.0h-2.8M71.7 363.9h2.8M525.9 363.9h-2.8M71.7 355.5h2.8M525.9 355.5h-2.8M71.7 351.4h2.8M525.9 351.4h-2.8M71.7 347.2h2.8M525.9 347.2h-2.8M71.7 338.9h2.8M525.9 338.9h-2.8M71.7 334.7h2.8M525.9 334.7h-2.8M71.7 330.6h2.8M525.9 330.6h-2.8M71.7 322.2h2.8M525.9 322.2h-2.8M71.7 318.1h2.8M525.9 318.1h-2.8M71.7 313.9h2.8M525.9 313.9h-2.8" stroke="#242424" stroke-width="1.1" fill="none"/>
<path d="M71.7 433.9h6.0M525.9 433.9h-6.0M71.7 418.0h6.0M525.9 418.0h-6.0M71.7 402.1h6.0M525.9 402.1h-6.0M71.7 386.2h6.0M525.9 386.2h-6.0M71.7 446.6h2.8M525.9 446.6h-2.8M71.7 443.4h2.8M525.9 443.4h-2.8M71.7 440.3h2.8M525.9 440.3h-2.8M71.7 437.1h2.8M525.9 437.1h-2.8M71.7 430.7h2.8M525.9 430.7h-2.8M71.7 427.5h2.8M525.9 427.5h-2.8M71.7 424.4h2.8M525.9 424.4h-2.8M71.7 421.2h2.8M525.9 421.2h-2.8M71.7 414.8h2.8M525.9 414.8h-2.8M71.7 411.6h2.8M525.9 411.6h-2.8M71.7 408.5h2.8M525.9 408.5h-2.8M71.7 405.3h2.8M525.9 405.3h-2.8M71.7 398.9h2.8M525.9 398.9h-2.8M71.7 395.7h2.8M525.9 395.7h-2.8M71.7 392.6h2.8M525.9 392.6h-2.8M71.7 389.4h2.8M525.9 389.4h-2.8M71.7 383.0h2.8M525.9 383.0h-2.8" stroke="#242424" stroke-width="1.1" fill="none"/>
<path d="M71.7 509.7h6.0M525.9 509.7h-6.0M71.7 500.6h6.0M525.9 500.6h-6.0M71.7 491.4h6.0M525.9 491.4h-6.0M71.7 482.2h6.0M525.9 482.2h-6.0M71.7 473.1h6.0M525.9 473.1h-6.0M71.7 463.9h6.0M525.9 463.9h-6.0M71.7 454.8h6.0M525.9 454.8h-6.0M71.7 516.6h2.8M525.9 516.6h-2.8M71.7 514.3h2.8M525.9 514.3h-2.8M71.7 512.0h2.8M525.9 512.0h-2.8M71.7 507.4h2.8M525.9 507.4h-2.8M71.7 505.1h2.8M525.9 505.1h-2.8M71.7 502.8h2.8M525.9 502.8h-2.8M71.7 498.3h2.8M525.9 498.3h-2.8M71.7 496.0h2.8M525.9 496.0h-2.8M71.7 493.7h2.8M525.9 493.7h-2.8M71.7 489.1h2.8M525.9 489.1h-2.8M71.7 486.8h2.8M525.9 486.8h-2.8M71.7 484.5h2.8M525.9 484.5h-2.8M71.7 480.0h2.8M525.9 480.0h-2.8M71.7 477.7h2.8M525.9 477.7h-2.8M71.7 475.4h2.8M525.9 475.4h-2.8M71.7 470.8h2.8M525.9 470.8h-2.8M71.7 468.5h2.8M525.9 468.5h-2.8M71.7 466.2h2.8M525.9 466.2h-2.8M71.7 461.7h2.8M525.9 461.7h-2.8M71.7 459.4h2.8M525.9 459.4h-2.8M71.7 457.1h2.8M525.9 457.1h-2.8M71.7 452.5h2.8M525.9 452.5h-2.8M71.7 450.2h2.8M525.9 450.2h-2.8" stroke="#242424" stroke-width="1.1" fill="none"/>
<path d="M71.7 575.4h6.0M525.9 575.4h-6.0M71.7 564.3h6.0M525.9 564.3h-6.0M71.7 553.3h6.0M525.9 553.3h-6.0M71.7 542.2h6.0M525.9 542.2h-6.0M71.7 531.1h6.0M525.9 531.1h-6.0M71.7 520.0h6.0M525.9 520.0h-6.0M71.7 583.7h2.8M525.9 583.7h-2.8M71.7 581.0h2.8M525.9 581.0h-2.8M71.7 578.2h2.8M525.9 578.2h-2.8M71.7 572.6h2.8M525.9 572.6h-2.8M71.7 569.9h2.8M525.9 569.9h-2.8M71.7 567.1h2.8M525.9 567.1h-2.8M71.7 561.6h2.8M525.9 561.6h-2.8M71.7 558.8h2.8M525.9 558.8h-2.8M71.7 556.0h2.8M525.9 556.0h-2.8M71.7 550.5h2.8M525.9 550.5h-2.8M71.7 547.7h2.8M525.9 547.7h-2.8M71.7 545.0h2.8M525.9 545.0h-2.8M71.7 539.4h2.8M525.9 539.4h-2.8M71.7 536.6h2.8M525.9 536.6h-2.8M71.7 533.9h2.8M525.9 533.9h-2.8M71.7 528.3h2.8M525.9 528.3h-2.8M71.7 525.6h2.8M525.9 525.6h-2.8M71.7 522.8h2.8M525.9 522.8h-2.8" stroke="#242424" stroke-width="1.1" fill="none"/>
<path d="M71.7 590.0h2.8M525.9 590.0h-2.8M71.7 606.2h2.8M525.9 606.2h-2.8M71.7 628.0h2.8M525.9 628.0h-2.8" stroke="#242424" stroke-width="1.1" fill="none"/>
<path d="M71.7 711.9h6.0M525.9 711.9h-6.0M71.7 701.0h6.0M525.9 701.0h-6.0M71.7 690.2h6.0M525.9 690.2h-6.0M71.7 679.3h6.0M525.9 679.3h-6.0M71.7 668.4h6.0M525.9 668.4h-6.0M71.7 657.5h6.0M525.9 657.5h-6.0M71.7 720.1h2.8M525.9 720.1h-2.8M71.7 717.4h2.8M525.9 717.4h-2.8M71.7 714.6h2.8M525.9 714.6h-2.8M71.7 709.2h2.8M525.9 709.2h-2.8M71.7 706.5h2.8M525.9 706.5h-2.8M71.7 703.8h2.8M525.9 703.8h-2.8M71.7 698.3h2.8M525.9 698.3h-2.8M71.7 695.6h2.8M525.9 695.6h-2.8M71.7 692.9h2.8M525.9 692.9h-2.8M71.7 687.4h2.8M525.9 687.4h-2.8M71.7 684.7h2.8M525.9 684.7h-2.8M71.7 682.0h2.8M525.9 682.0h-2.8M71.7 676.6h2.8M525.9 676.6h-2.8M71.7 673.8h2.8M525.9 673.8h-2.8M71.7 671.1h2.8M525.9 671.1h-2.8M71.7 665.7h2.8M525.9 665.7h-2.8M71.7 663.0h2.8M525.9 663.0h-2.8M71.7 660.2h2.8M525.9 660.2h-2.8" stroke="#242424" stroke-width="1.1" fill="none"/>
<text x="29.1" y="12.0" font-size="11" text-anchor="start" fill="#000" font-weight="normal" >Plot Layout GP 19/10/2018</text>
<text x="297.7" y="26.0" font-size="17.6" text-anchor="middle" fill="#000" font-weight="normal" >MMS2</text>
<text x="474.2" y="24.0" font-size="18.0" text-anchor="middle" fill="#9c0404" font-weight="bold" >20160221_213054</text>
<text x="68.8" y="75.4" font-size="11.0" text-anchor="end" fill="#000" font-weight="normal" >20</text>
<text x="68.8" y="113.9" font-size="11.0" text-anchor="end" fill="#000" font-weight="normal" >0</text>
<text x="68.8" y="152.4" font-size="11.0" text-anchor="end" fill="#000" font-weight="normal" >-20</text>
<text x="68.8" y="195.4" font-size="11.0" text-anchor="end" fill="#000" font-weight="normal" >20</text>
<text x="68.8" y="217.5" font-size="11.0" text-anchor="end" fill="#000" font-weight="normal" >0</text>
<text x="68.8" y="239.6" font-size="11.0" text-anchor="end" fill="#000" font-weight="normal" >-20</text>
<text x="68.8" y="330.6" font-size="11.0" text-anchor="end" fill="#000" font-weight="normal" >100</text>
<text x="68.8" y="347.2" font-size="11.0" text-anchor="end" fill="#000" font-weight="normal" >80</text>
<text x="68.8" y="363.9" font-size="11.0" text-anchor="end" fill="#000" font-weight="normal" >60</text>
<text x="68.8" y="380.5" font-size="11.0" text-anchor="end" fill="#000" font-weight="normal" >40</text>
<text x="68.8" y="459.0" font-size="11.0" text-anchor="end" fill="#000" font-weight="normal" >20</text>
<text x="68.8" y="468.1" font-size="11.0" text-anchor="end" fill="#000" font-weight="normal" >18</text>
<text x="68.8" y="477.3" font-size="11.0" text-anchor="end" fill="#000" font-weight="normal" >16</text>
<text x="68.8" y="486.4" font-size="11.0" text-anchor="end" fill="#000" font-weight="normal" >14</text>
<text x="68.8" y="495.6" font-size="11.0" text-anchor="end" fill="#000" font-weight="normal" >12</text>
<text x="68.8" y="504.8" font-size="11.0" text-anchor="end" fill="#000" font-weight="normal" >10</text>
<text x="68.8" y="513.9" font-size="11.0" text-anchor="end" fill="#000" font-weight="normal" >8</text>
<text x="528.6" y="260.1" font-size="11.0" text-anchor="start" fill="#000" font-weight="normal" >10<tspan dy="-4.6" font-size="8.6">4</tspan><tspan dy="4.6" font-size="1">&#8203;</tspan></text>
<text x="528.6" y="279.6" font-size="11.0" text-anchor="start" fill="#000" font-weight="normal" >10<tspan dy="-4.6" font-size="8.6">3</tspan><tspan dy="4.6" font-size="1">&#8203;</tspan></text>
<text x="528.6" y="299.0" font-size="11.0" text-anchor="start" fill="#000" font-weight="normal" >10<tspan dy="-4.6" font-size="8.6">2</tspan><tspan dy="4.6" font-size="1">&#8203;</tspan></text>
<text x="528.6" y="390.4" font-size="11.0" text-anchor="start" fill="#000" font-weight="normal" >100</text>
<text x="528.6" y="406.3" font-size="11.0" text-anchor="start" fill="#000" font-weight="normal" >50</text>
<text x="528.6" y="422.2" font-size="11.0" text-anchor="start" fill="#000" font-weight="normal" >0</text>
<text x="528.6" y="438.1" font-size="11.0" text-anchor="start" fill="#000" font-weight="normal" >-50</text>
<text x="528.6" y="454.0" font-size="11.0" text-anchor="start" fill="#000" font-weight="normal" >-100</text>
<text x="528.0" y="524.2" font-size="11.0" text-anchor="start" fill="#000" font-weight="normal" >0.12</text>
<text x="528.0" y="535.3" font-size="11.0" text-anchor="start" fill="#000" font-weight="normal" >0.10</text>
<text x="528.0" y="546.4" font-size="11.0" text-anchor="start" fill="#000" font-weight="normal" >0.08</text>
<text x="528.0" y="557.5" font-size="11.0" text-anchor="start" fill="#000" font-weight="normal" >0.06</text>
<text x="528.0" y="568.5" font-size="11.0" text-anchor="start" fill="#000" font-weight="normal" >0.04</text>
<text x="528.0" y="579.6" font-size="11.0" text-anchor="start" fill="#000" font-weight="normal" >0.02</text>
<text x="528.0" y="590.7" font-size="11.0" text-anchor="start" fill="#000" font-weight="normal" >0.00</text>
<text x="528.0" y="661.7" font-size="11.0" text-anchor="start" fill="#000" font-weight="normal" >1.2</text>
<text x="528.0" y="672.6" font-size="11.0" text-anchor="start" fill="#000" font-weight="normal" >1.0</text>
<text x="528.0" y="683.5" font-size="11.0" text-anchor="start" fill="#000" font-weight="normal" >0.8</text>
<text x="528.0" y="694.4" font-size="11.0" text-anchor="start" fill="#000" font-weight="normal" >0.6</text>
<text x="528.0" y="705.2" font-size="11.0" text-anchor="start" fill="#000" font-weight="normal" >0.4</text>
<text x="528.0" y="716.1" font-size="11.0" text-anchor="start" fill="#000" font-weight="normal" >0.2</text>
<text x="528.0" y="727.0" font-size="11.0" text-anchor="start" fill="#000" font-weight="normal" >0.0</text>
<text x="0.0" y="0.0" font-size="11" text-anchor="middle" fill="#000" font-weight="normal" transform="translate(47.5 101.8) rotate(-90)" >B<tspan dy="3.2" font-size="8.8">L</tspan><tspan dy="-3.2" font-size="1">&#8203;</tspan>,|B| [nT]</text>
<text x="0.0" y="0.0" font-size="11" text-anchor="middle" fill="#000" font-weight="normal" transform="translate(43.0 211.5) rotate(-90)" >B<tspan dy="3.2" font-size="8.8">LMN</tspan><tspan dy="-3.2" font-size="1">&#8203;</tspan> [nT]</text>
<text x="0.0" y="0.0" font-size="11" text-anchor="middle" fill="#000" font-weight="normal" transform="translate(43.0 348.0) rotate(-90)" >| V<tspan dy="3.2" font-size="8.8">i</tspan><tspan dy="-3.2" font-size="1">&#8203;</tspan> | [km/s]</text>
<text x="0.0" y="0.0" font-size="11" text-anchor="middle" fill="#000" font-weight="normal" transform="translate(44.0 485.0) rotate(-90)" >N [cm<tspan dy="-4.5" font-size="8.5">-3</tspan><tspan dy="4.5" font-size="1">&#8203;</tspan>]</text>
<text x="0.0" y="0.0" font-size="11" text-anchor="middle" fill="#000" font-weight="normal" transform="translate(38.5 621.5) rotate(-90)" >T<tspan dy="3.2" font-size="8.8">i</tspan><tspan dy="-3.2" font-size="1">&#8203;</tspan> [eV]</text>
<text x="0.0" y="0.0" font-size="11" text-anchor="middle" fill="#000" font-weight="normal" transform="translate(558.0 279.0) rotate(-90)" >Energy (eV)</text>
<text x="0.0" y="0.0" font-size="11" text-anchor="middle" fill="#000" font-weight="normal" transform="translate(561.0 417.0) rotate(-90)" >V<tspan dy="3.2" font-size="8.8">i LMN</tspan><tspan dy="-3.2" font-size="1">&#8203;</tspan> [km/s]</text>
<text x="0.0" y="0.0" font-size="11" text-anchor="middle" fill="#000" font-weight="normal" transform="translate(559.0 553.0) rotate(-90)" >N<tspan dy="3.2" font-size="8.8">i</tspan><tspan dy="-3.2" font-size="1">&#8203;</tspan> [cm<tspan dy="-4.5" font-size="8.5">-3</tspan><tspan dy="4.5" font-size="1">&#8203;</tspan>]</text>
<text x="0.0" y="0.0" font-size="11" text-anchor="middle" fill="#000" font-weight="normal" transform="translate(562.5 690.0) rotate(-90)" >P [nPa]</text>
<text x="124.9" y="739.8" font-size="11.0" text-anchor="middle" fill="#000" font-weight="normal" >21:31:00</text>
<text x="124.9" y="760.9" font-size="11.0" text-anchor="middle" fill="#000" font-weight="normal" >2.9</text>
<text x="124.9" y="778.7" font-size="11.0" text-anchor="middle" fill="#000" font-weight="normal" >-11.6</text>
<text x="124.9" y="796.9" font-size="11.0" text-anchor="middle" fill="#000" font-weight="normal" >-1.19</text>
<text x="216.2" y="739.8" font-size="11.0" text-anchor="middle" fill="#000" font-weight="normal" >21:31:10</text>
<text x="216.2" y="760.9" font-size="11.0" text-anchor="middle" fill="#000" font-weight="normal" >2.9</text>
<text x="216.2" y="778.7" font-size="11.0" text-anchor="middle" fill="#000" font-weight="normal" >-11.6</text>
<text x="216.2" y="796.9" font-size="11.0" text-anchor="middle" fill="#000" font-weight="normal" >-1.19</text>
<text x="307.5" y="739.8" font-size="11.0" text-anchor="middle" fill="#000" font-weight="normal" >21:31:20</text>
<text x="307.5" y="760.9" font-size="11.0" text-anchor="middle" fill="#000" font-weight="normal" >2.9</text>
<text x="307.5" y="778.7" font-size="11.0" text-anchor="middle" fill="#000" font-weight="normal" >-11.6</text>
<text x="307.5" y="796.9" font-size="11.0" text-anchor="middle" fill="#000" font-weight="normal" >-1.19</text>
<text x="398.8" y="739.8" font-size="11.0" text-anchor="middle" fill="#000" font-weight="normal" >21:31:30</text>
<text x="398.8" y="760.9" font-size="11.0" text-anchor="middle" fill="#000" font-weight="normal" >2.9</text>
<text x="398.8" y="778.7" font-size="11.0" text-anchor="middle" fill="#000" font-weight="normal" >-11.6</text>
<text x="398.8" y="796.9" font-size="11.0" text-anchor="middle" fill="#000" font-weight="normal" >-1.19</text>
<text x="490.1" y="739.8" font-size="11.0" text-anchor="middle" fill="#000" font-weight="normal" >21:31:40</text>
<text x="490.1" y="760.9" font-size="11.0" text-anchor="middle" fill="#000" font-weight="normal" >2.9</text>
<text x="490.1" y="778.7" font-size="11.0" text-anchor="middle" fill="#000" font-weight="normal" >-11.6</text>
<text x="490.1" y="796.9" font-size="11.0" text-anchor="middle" fill="#000" font-weight="normal" >-1.19</text>
<text x="53.5" y="760.9" font-size="11.0" text-anchor="middle" fill="#000" font-weight="normal" >X</text>
<text x="538.7" y="760.9" font-size="11.0" text-anchor="start" fill="#000" font-weight="normal" >Re</text>
<text x="53.5" y="778.8" font-size="11.0" text-anchor="middle" fill="#000" font-weight="normal" >Y</text>
<text x="538.7" y="778.8" font-size="11.0" text-anchor="start" fill="#000" font-weight="normal" >Re</text>
<text x="53.5" y="796.9" font-size="11.0" text-anchor="middle" fill="#000" font-weight="normal" >Z</text>
<text x="538.7" y="796.9" font-size="11.0" text-anchor="start" fill="#000" font-weight="normal" >Re</text>
<text x="425.7" y="836.2" font-size="11.95" text-anchor="start" fill="#000" font-weight="normal" >paschmann 25-Oct-2018 15:19</text>
<line x1="77.3" y1="38.0" x2="95.5" y2="38.0" stroke="#ff0000" stroke-width="1.2" stroke-dasharray="4.2 1.8" />
<text x="96.3" y="40.9" font-size="9.0" text-anchor="start" fill="#ff0000" font-weight="normal" >t&#160;&#160;cs</text>
<line x1="77.3" y1="45.4" x2="95.5" y2="45.4" stroke="#00a000" stroke-width="1.2" stroke-dasharray="4.2 1.8" />
<text x="96.3" y="48.3" font-size="9.0" text-anchor="start" fill="#00a000" font-weight="normal" >t&#160;&#160;HT</text>
<text x="97.1" y="56.5" font-size="9.0" text-anchor="start" fill="#00ff00" font-weight="normal" >t&#160;&#160;MVAB</text>
<line x1="76.5" y1="61.0" x2="95.5" y2="61.0" stroke="#a0a0a0" stroke-width="2.6" stroke-dasharray="5 1.2" />
<text x="96.3" y="63.9" font-size="9.0" text-anchor="start" fill="#a0a0a0" font-weight="normal" >t&#160;&#160;BLminmax</text>
<line x1="77.3" y1="68.8" x2="95.5" y2="68.8" stroke="#3030ff" stroke-width="1.0" stroke-dasharray="4.2 1.8" />
<text x="96.3" y="71.7" font-size="9.0" text-anchor="start" fill="#3030ff" font-weight="normal" >BL, 50% of BL</text>
<line x1="77.3" y1="76.8" x2="95.5" y2="76.8" stroke="#2020ff" stroke-width="1.0" />
<text x="96.3" y="79.7" font-size="9.0" text-anchor="start" fill="#2020ff" font-weight="normal" >BL&#160;&#160;brst</text>
<line x1="77.3" y1="84.2" x2="95.5" y2="84.2" stroke="#808080" stroke-width="1.2" />
<text x="96.3" y="87.1" font-size="9.0" text-anchor="start" fill="#808080" font-weight="normal" >|B|</text>
<line x1="77.3" y1="188.0" x2="95.5" y2="188.0" stroke="#3030ff" stroke-width="1.0" />
<text x="96.7" y="191.2" font-size="10.5" text-anchor="start" fill="#3030ff" font-weight="normal" >B<tspan dy="3" font-size="7.5">L</tspan><tspan dy="-3" font-size="1">&#8203;</tspan></text>
<line x1="77.3" y1="211.0" x2="95.5" y2="211.0" stroke="#30e030" stroke-width="1.0" />
<text x="96.7" y="214.2" font-size="10.5" text-anchor="start" fill="#30e030" font-weight="normal" >B<tspan dy="3" font-size="7.5">M</tspan><tspan dy="-3" font-size="1">&#8203;</tspan></text>
<line x1="77.3" y1="233.5" x2="95.5" y2="233.5" stroke="#ff3030" stroke-width="1.0" />
<text x="96.7" y="236.7" font-size="10.5" text-anchor="start" fill="#ff3030" font-weight="normal" >B<tspan dy="3" font-size="7.5">N</tspan><tspan dy="-3" font-size="1">&#8203;</tspan></text>
<line x1="77.3" y1="316.5" x2="93.5" y2="316.5" stroke="#30b030" stroke-width="1.2" stroke-dasharray="4.2 1.8" />
<text x="93.6" y="319.4" font-size="9.0" text-anchor="start" fill="#30b030" font-weight="normal" >t&#160;&#160;HT</text>
<line x1="77.3" y1="323.6" x2="93.5" y2="323.6" stroke="#30a8ff" stroke-width="1.2" stroke-dasharray="1.2 1.2" />
<text x="93.6" y="326.5" font-size="9.0" text-anchor="start" fill="#30a8ff" font-weight="normal" >t&#160;&#160;vmax</text>
<line x1="77.3" y1="330.9" x2="93.5" y2="330.9" stroke="#ff2020" stroke-width="1.2" stroke-dasharray="4.2 1.8" />
<text x="93.6" y="333.8" font-size="9.0" text-anchor="start" fill="#ff2020" font-weight="normal" >t&#160;&#160;cs</text>
<line x1="77.3" y1="338.2" x2="93.5" y2="338.2" stroke="#2020ff" stroke-width="1.2" stroke-dasharray="1.2 1.2" />
<text x="93.6" y="341.1" font-size="9.0" text-anchor="start" fill="#2020ff" font-weight="normal" >t&#160;&#160;dvmax</text>
<line x1="77.3" y1="345.0" x2="93.5" y2="345.0" stroke="#404040" stroke-width="1.0" />
<text x="93.6" y="347.9" font-size="9.0" text-anchor="start" fill="#404040" font-weight="normal" >|V<tspan dy="1.5" font-size="5">i</tspan><tspan dy="-1.5" font-size="1">&#8203;</tspan></text>
<line x1="77.3" y1="389.5" x2="96.5" y2="389.5" stroke="#3030ff" stroke-width="1.0" />
<text x="97.7" y="392.7" font-size="10.5" text-anchor="start" fill="#3030ff" font-weight="normal" >V<tspan dy="3" font-size="7.5">L</tspan><tspan dy="-3" font-size="1">&#8203;</tspan></text>
<line x1="77.3" y1="404.5" x2="96.5" y2="404.5" stroke="#30e030" stroke-width="1.0" />
<text x="97.7" y="407.7" font-size="10.5" text-anchor="start" fill="#30e030" font-weight="normal" >V<tspan dy="3" font-size="7.5">M</tspan><tspan dy="-3" font-size="1">&#8203;</tspan></text>
<line x1="77.3" y1="419.0" x2="96.5" y2="419.0" stroke="#ff3030" stroke-width="1.0" />
<text x="97.7" y="422.2" font-size="10.5" text-anchor="start" fill="#ff3030" font-weight="normal" >V<tspan dy="3" font-size="7.5">N</tspan><tspan dy="-3" font-size="1">&#8203;</tspan></text>
<line x1="77.3" y1="457.8" x2="95.5" y2="457.8" stroke="#ff3030" stroke-width="1.0" />
<text x="96.3" y="460.7" font-size="8.5" text-anchor="start" fill="#ff3030" font-weight="normal" >Ne</text>
<line x1="77.3" y1="471.0" x2="95.5" y2="471.0" stroke="#303030" stroke-width="1.0" />
<text x="96.3" y="473.9" font-size="8.5" text-anchor="start" fill="#303030" font-weight="normal" >Ni</text>
<line x1="77.3" y1="523.5" x2="95.0" y2="523.5" stroke="#30f030" stroke-width="1.2" />
<circle cx="86.2" cy="523.5" r="1.9" fill="#30f030"/>
<text x="95.8" y="526.4" font-size="9" text-anchor="start" fill="#30f030" font-weight="normal" >N&#160;&#160;He+</text>
<line x1="77.3" y1="532.5" x2="95.0" y2="532.5" stroke="#ff0000" stroke-width="1.2" />
<circle cx="86.2" cy="532.5" r="1.9" fill="#ff0000"/>
<text x="95.8" y="535.4" font-size="9" text-anchor="start" fill="#ff0000" font-weight="normal" >N&#160;&#160;He++</text>
<line x1="77.3" y1="541.8" x2="95.0" y2="541.8" stroke="#0000f0" stroke-width="1.2" />
<circle cx="86.2" cy="541.8" r="1.9" fill="#0000f0"/>
<text x="95.8" y="544.7" font-size="9" text-anchor="start" fill="#0000f0" font-weight="normal" >N&#160;&#160;O+</text>
<line x1="77.3" y1="596.5" x2="95.5" y2="596.5" stroke="#ff3030" stroke-width="1.0" />
<text x="96.7" y="599.7" font-size="10.5" text-anchor="start" fill="#ff3030" font-weight="normal" >T<tspan dy="3" font-size="7.5">||</tspan><tspan dy="-3" font-size="1">&#8203;</tspan></text>
<line x1="77.3" y1="615.0" x2="95.5" y2="615.0" stroke="#303030" stroke-width="1.0" />
<text x="96.7" y="618.2" font-size="10.5" text-anchor="start" fill="#303030" font-weight="normal" >T<tspan dy="3" font-size="7.5">&#8869;</tspan><tspan dy="-3" font-size="1">&#8203;</tspan></text>
<line x1="77.3" y1="660.5" x2="95.5" y2="660.5" stroke="#40f040" stroke-width="1.0" />
<text x="96.7" y="663.7" font-size="10" text-anchor="start" fill="#40f040" font-weight="normal" >P<tspan dy="3.5" font-size="7">p</tspan><tspan dy="-3.5" font-size="1">&#8203;</tspan></text>
<line x1="77.3" y1="671.5" x2="95.5" y2="671.5" stroke="#ff3030" stroke-width="1.0" />
<text x="96.7" y="674.7" font-size="10" text-anchor="start" fill="#ff3030" font-weight="normal" >P<tspan dy="3.5" font-size="7">e</tspan><tspan dy="-3.5" font-size="1">&#8203;</tspan></text>
<line x1="77.3" y1="683.0" x2="95.5" y2="683.0" stroke="#303030" stroke-width="1.0" />
<text x="96.7" y="686.2" font-size="10" text-anchor="start" fill="#303030" font-weight="normal" >P<tspan dy="3.5" font-size="7">b</tspan><tspan dy="-3.5" font-size="1">&#8203;</tspan></text>
<line x1="77.3" y1="694.0" x2="95.5" y2="694.0" stroke="#3030ff" stroke-width="1.0" />
<text x="96.7" y="697.2" font-size="10" text-anchor="start" fill="#3030ff" font-weight="normal" >P<tspan dy="3.5" font-size="7">tot</tspan><tspan dy="-3.5" font-size="1">&#8203;</tspan></text>
<line x1="763.9" y1="47.5" x2="763.9" y2="706.6" stroke="#58c858" stroke-width="2.1" stroke-dasharray="9 4.5" />
<line x1="794.9" y1="47.5" x2="794.9" y2="706.6" stroke="#ff00ff" stroke-width="2.1" stroke-dasharray="2.1 3.0" />
<line x1="830.3" y1="47.5" x2="830.3" y2="706.6" stroke="#ff0a0a" stroke-width="1.3" stroke-dasharray="9 4.5" />
<line x1="962.8" y1="47.5" x2="962.8" y2="706.6" stroke="#ff5050" stroke-width="2.0" stroke-dasharray="9 4.5" />
<line x1="1029.3" y1="47.5" x2="1029.3" y2="706.6" stroke="#00a000" stroke-width="1.2" stroke-dasharray="9 4.5" />
<line x1="972.9" y1="45.5" x2="972.9" y2="706.6" stroke="#4a6aff" stroke-width="1.6" stroke-dasharray="1.6 4" />
<rect x="668.3" y="115.5" width="454.5" height="73.8" fill="url(#gele)"/>
<g clip-path="url(#cpe)">
<g filter="url(#bl3)">
<ellipse cx="991.0" cy="175.0" rx="51.0" ry="13.0" fill="#ff6e00" opacity="0.75"/>
<ellipse cx="792.5" cy="168.0" rx="17.5" ry="5.0" fill="#ff9600" opacity="0.45"/>
<ellipse cx="1100.0" cy="170.0" rx="25.0" ry="6.0" fill="#ff6400" opacity="0.35"/>
<ellipse cx="720.0" cy="166.0" rx="50.0" ry="3.0" fill="#ff1e00" opacity="0.50"/>
<ellipse cx="875.0" cy="166.0" rx="60.0" ry="3.0" fill="#ff1e00" opacity="0.50"/>
<ellipse cx="1056.0" cy="165.5" rx="16.0" ry="3.0" fill="#ff1e00" opacity="0.60"/>
</g>
<g filter="url(#bl1)">
<rect x="793.5" y="159" width="7.5" height="13" fill="#ffb400" opacity="0.85"/>
<rect x="794" y="153.5" width="6.5" height="6" fill="#d2fa00" opacity="0.9"/>
<rect x="795" y="149.5" width="4" height="4" fill="#46ee14" opacity="0.7"/>
</g>
</g>
<path d="M669.5 139.6v1.6M669.5 150.4v1.6M669.5 155.1v1.6M670.5 138.0v7.8M670.5 151.9v1.6M671.5 138.0v3.1M672.5 153.5v1.6M673.5 150.4v1.6M673.5 155.1v1.6M674.5 144.2v1.6M674.5 153.5v1.6M675.5 147.3v1.6M675.5 155.1v1.6M676.5 139.6v1.6M676.5 142.7v1.6M677.5 138.0v1.6M677.5 142.7v3.1M678.5 138.0v1.6M678.5 145.8v1.6M678.5 155.1v1.6M679.5 141.1v1.6M679.5 145.8v1.6M680.5 138.0v3.1M680.5 147.3v1.6M681.5 138.0v1.6M681.5 141.1v1.6M681.5 144.2v1.6M682.5 138.0v1.6M682.5 151.9v1.6M683.5 141.1v1.6M683.5 150.4v1.6M684.5 141.1v1.6M684.5 148.8v1.6M684.5 153.5v1.6M686.5 148.8v1.6M687.5 145.8v1.6M687.5 148.8v1.6M687.5 151.9v1.6M688.5 139.6v3.1M688.5 145.8v1.6M688.5 150.4v1.6M688.5 155.1v1.6M689.5 139.6v1.6M689.5 155.1v1.6M690.5 142.7v1.6M690.5 148.8v1.6M690.5 151.9v3.1M691.5 138.0v1.6M692.5 138.0v1.6M692.5 148.8v1.6M693.5 138.0v1.6M693.5 144.2v1.6M695.5 141.1v3.1M695.5 155.1v1.6M696.5 138.0v1.6M697.5 138.0v3.1M697.5 144.2v1.6M697.5 150.4v1.6M698.5 141.1v1.6M698.5 148.8v1.6M700.5 147.3v1.6M701.5 139.6v3.1M701.5 148.8v1.6M703.5 138.0v1.6M704.5 144.2v1.6M704.5 147.3v1.6M704.5 155.1v1.6M705.5 141.1v1.6M705.5 144.2v1.6M705.5 150.4v1.6M706.5 139.6v3.1M706.5 144.2v1.6M706.5 147.3v3.1M706.5 153.5v1.6M707.5 145.8v1.6M707.5 150.4v1.6M708.5 138.0v1.6M708.5 145.8v1.6M708.5 155.1v1.6M709.5 147.3v1.6M710.5 148.8v1.6M710.5 155.1v1.6M711.5 139.6v1.6M711.5 153.5v1.6M712.5 138.0v1.6M712.5 147.3v1.6M712.5 150.4v3.1M713.5 145.8v1.6M713.5 148.8v1.6M714.5 145.8v3.1M714.5 153.5v1.6M715.5 142.7v4.7M715.5 153.5v1.6M716.5 147.3v1.6M717.5 138.0v1.6M717.5 142.7v4.7M717.5 148.8v1.6M717.5 155.1v1.6M719.5 138.0v1.6M719.5 141.1v1.6M719.5 150.4v3.1M720.5 139.6v1.6M720.5 147.3v1.6M720.5 151.9v1.6M721.5 153.5v1.6M722.5 144.2v4.7M723.5 144.2v1.6M723.5 151.9v1.6M724.5 141.1v1.6M724.5 145.8v3.1M725.5 138.0v1.6M725.5 147.3v1.6M725.5 155.1v1.6M726.5 138.0v1.6M726.5 150.4v1.6M727.5 141.1v4.7M729.5 138.0v1.6M729.5 148.8v1.6M731.5 142.7v1.6M731.5 147.3v3.1M732.5 145.8v1.6M733.5 144.2v4.7M733.5 155.1v1.6M734.5 138.0v1.6M734.5 148.8v1.6M735.5 139.6v1.6M735.5 145.8v1.6M735.5 150.4v1.6M735.5 153.5v1.6M736.5 139.6v1.6M736.5 142.7v1.6M737.5 138.0v3.1M737.5 147.3v1.6M737.5 155.1v1.6M738.5 138.0v3.1M738.5 148.8v1.6M738.5 155.1v1.6M739.5 142.7v1.6M739.5 148.8v1.6M739.5 153.5v3.1M740.5 145.8v1.6M740.5 148.8v1.6M741.5 139.6v1.6M742.5 139.6v3.1M742.5 144.2v1.6M743.5 144.2v1.6M744.5 141.1v1.6M744.5 153.5v1.6M745.5 139.6v1.6M745.5 153.5v1.6M746.5 138.0v1.6M746.5 141.1v1.6M746.5 150.4v3.1M747.5 145.8v1.6M747.5 153.5v3.1M748.5 139.6v1.6M748.5 144.2v4.7M749.5 145.8v3.1M750.5 138.0v1.6M750.5 150.4v1.6M751.5 142.7v1.6M751.5 151.9v1.6M752.5 139.6v3.1M753.5 139.6v1.6M754.5 150.4v1.6M755.5 145.8v3.1M755.5 151.9v1.6M755.5 155.1v1.6M756.5 139.6v4.7M756.5 150.4v1.6M756.5 155.1v1.6M758.5 142.7v1.6M758.5 147.3v1.6M758.5 150.4v3.1M759.5 141.1v3.1M759.5 150.4v1.6M760.5 141.1v7.8M761.5 153.5v1.6M762.5 139.6v3.1M762.5 153.5v3.1M763.5 138.0v1.6M763.5 142.7v1.6M763.5 153.5v1.6M764.5 138.0v1.6M764.5 142.7v1.6M764.5 145.8v1.6M764.5 148.8v1.6M765.5 155.1v1.6M766.5 144.2v1.6M766.5 147.3v3.1M767.5 144.2v3.1M768.5 139.6v1.6M768.5 145.8v1.6M769.5 147.3v1.6M769.5 153.5v1.6M770.5 141.1v1.6M770.5 147.3v1.6M771.5 144.2v4.7M771.5 150.4v1.6M772.5 142.7v1.6M772.5 147.3v3.1M772.5 155.1v1.6M773.5 139.6v1.6M773.5 145.8v1.6M774.5 141.1v4.7M774.5 148.8v1.6M775.5 142.7v1.6M775.5 145.8v1.6M775.5 150.4v1.6M776.5 138.0v1.6M776.5 145.8v1.6M776.5 153.5v1.6M777.5 138.0v1.6M777.5 155.1v1.6M778.5 138.0v1.6M778.5 141.1v1.6M778.5 151.9v1.6M779.5 138.0v3.1M779.5 142.7v4.7M780.5 142.7v1.6M780.5 148.8v1.6M780.5 151.9v1.6M780.5 155.1v1.6M781.5 138.0v1.6M781.5 142.7v1.6M781.5 145.8v1.6M781.5 148.8v1.6M783.5 138.0v1.6M783.5 153.5v1.6M784.5 139.6v3.1M784.5 151.9v1.6M784.5 155.1v1.6M785.5 141.1v1.6M785.5 151.9v3.1M786.5 138.0v1.6M786.5 150.4v3.1M787.5 139.6v1.6M787.5 147.3v1.6M787.5 153.5v1.6M788.5 145.8v3.1M789.5 144.2v1.6M790.5 138.0v1.6M790.5 142.7v1.6M790.5 153.5v1.6M791.5 141.1v1.6M791.5 148.8v1.6M791.5 155.1v1.6M792.5 141.1v1.6M792.5 145.8v1.6M793.5 147.3v1.6M793.5 153.5v1.6M794.5 139.6v7.8M794.5 150.4v1.6M794.5 155.1v1.6M795.5 138.0v1.6M795.5 144.2v4.7M795.5 155.1v1.6M796.5 145.8v1.6M796.5 148.8v1.6M796.5 151.9v1.6M797.5 138.0v1.6M797.5 155.1v1.6M798.5 139.6v1.6M798.5 144.2v1.6M799.5 142.7v1.6M799.5 153.5v1.6M800.5 145.8v1.6M802.5 147.3v1.6M803.5 139.6v1.6M803.5 145.8v1.6M804.5 153.5v1.6M805.5 150.4v4.7M807.5 144.2v1.6M808.5 147.3v1.6M808.5 150.4v1.6M808.5 155.1v1.6M809.5 145.8v3.1M810.5 141.1v4.7M810.5 150.4v1.6M810.5 153.5v1.6M811.5 139.6v1.6M811.5 150.4v1.6M812.5 144.2v1.6M813.5 144.2v1.6M813.5 151.9v1.6M814.5 147.3v4.7M814.5 153.5v3.1M815.5 142.7v1.6M815.5 145.8v1.6M815.5 151.9v1.6M816.5 141.1v1.6M816.5 144.2v3.1M816.5 151.9v3.1M817.5 139.6v1.6M817.5 151.9v3.1M818.5 138.0v1.6M818.5 141.1v1.6M819.5 144.2v1.6M819.5 147.3v4.7M819.5 155.1v1.6M820.5 139.6v1.6M820.5 147.3v3.1M820.5 151.9v3.1M821.5 138.0v1.6M821.5 142.7v1.6M821.5 145.8v3.1M822.5 141.1v1.6M822.5 147.3v1.6M822.5 151.9v1.6M823.5 138.0v1.6M823.5 141.1v3.1M823.5 153.5v1.6M824.5 142.7v1.6M824.5 150.4v3.1M825.5 139.6v6.2M825.5 148.8v1.6M825.5 151.9v1.6M825.5 155.1v1.6M826.5 147.3v3.1M826.5 153.5v1.6M827.5 142.7v3.1M828.5 145.8v1.6M828.5 148.8v1.6M829.5 138.0v1.6M830.5 138.0v1.6M830.5 147.3v1.6M831.5 139.6v1.6M831.5 145.8v3.1M831.5 155.1v1.6M832.5 142.7v1.6M832.5 151.9v1.6M833.5 138.0v3.1M833.5 144.2v1.6M833.5 147.3v1.6M833.5 150.4v3.1M834.5 145.8v1.6M834.5 150.4v1.6M835.5 142.7v1.6M836.5 150.4v1.6M836.5 153.5v1.6M837.5 139.6v1.6M837.5 144.2v1.6M837.5 150.4v1.6M837.5 155.1v1.6M838.5 138.0v1.6M838.5 148.8v1.6M839.5 142.7v3.1M839.5 147.3v1.6M839.5 155.1v1.6M840.5 153.5v1.6M841.5 139.6v3.1M841.5 144.2v1.6M841.5 147.3v1.6M841.5 151.9v3.1M842.5 148.8v3.1M842.5 153.5v1.6M843.5 138.0v1.6M843.5 141.1v1.6M843.5 145.8v1.6M843.5 148.8v1.6M843.5 153.5v3.1M844.5 141.1v1.6M844.5 147.3v1.6M844.5 153.5v1.6M845.5 141.1v3.1M845.5 147.3v1.6M846.5 141.1v1.6M846.5 150.4v1.6M847.5 139.6v3.1M848.5 142.7v1.6M848.5 145.8v1.6M849.5 138.0v1.6M849.5 148.8v1.6M849.5 151.9v1.6M850.5 142.7v3.1M851.5 138.0v4.7M851.5 144.2v1.6M851.5 150.4v1.6M852.5 139.6v1.6M852.5 145.8v1.6M852.5 155.1v1.6M853.5 142.7v1.6M854.5 141.1v1.6M854.5 153.5v3.1M856.5 148.8v1.6M857.5 139.6v1.6M857.5 147.3v1.6M857.5 155.1v1.6M858.5 138.0v1.6M858.5 141.1v3.1M858.5 145.8v1.6M858.5 150.4v1.6M858.5 155.1v1.6M860.5 150.4v1.6M860.5 155.1v1.6M861.5 148.8v1.6M862.5 142.7v3.1M862.5 150.4v1.6M864.5 150.4v1.6M865.5 139.6v1.6M865.5 148.8v1.6M865.5 151.9v1.6M866.5 138.0v1.6M866.5 147.3v1.6M866.5 150.4v3.1M867.5 139.6v1.6M867.5 148.8v3.1M867.5 153.5v1.6M868.5 145.8v1.6M868.5 148.8v1.6M869.5 141.1v1.6M869.5 145.8v1.6M869.5 151.9v4.7M871.5 139.6v1.6M871.5 142.7v1.6M871.5 145.8v1.6M871.5 151.9v3.1M873.5 142.7v1.6M873.5 147.3v3.1M873.5 155.1v1.6M874.5 139.6v1.6M874.5 144.2v3.1M874.5 151.9v1.6M874.5 155.1v1.6M875.5 145.8v1.6M875.5 155.1v1.6M876.5 148.8v1.6M877.5 139.6v1.6M877.5 145.8v1.6M877.5 153.5v1.6M878.5 142.7v1.6M878.5 150.4v1.6M879.5 139.6v1.6M879.5 144.2v1.6M879.5 155.1v1.6M880.5 139.6v1.6M880.5 145.8v1.6M880.5 150.4v1.6M881.5 155.1v1.6M882.5 139.6v1.6M882.5 145.8v1.6M882.5 148.8v1.6M882.5 151.9v1.6M883.5 139.6v1.6M883.5 155.1v1.6M884.5 139.6v1.6M884.5 147.3v1.6M885.5 142.7v1.6M885.5 155.1v1.6M886.5 141.1v1.6M886.5 145.8v1.6M887.5 139.6v1.6M887.5 150.4v1.6M888.5 155.1v1.6M889.5 139.6v3.1M889.5 145.8v1.6M889.5 155.1v1.6M890.5 148.8v1.6M890.5 155.1v1.6M891.5 151.9v1.6M892.5 141.1v1.6M892.5 144.2v1.6M893.5 144.2v1.6M893.5 148.8v3.1M893.5 153.5v1.6M894.5 138.0v1.6M894.5 141.1v1.6M894.5 145.8v3.1M894.5 155.1v1.6M895.5 138.0v3.1M895.5 145.8v1.6M895.5 148.8v1.6M896.5 139.6v1.6M896.5 144.2v1.6M896.5 148.8v1.6M897.5 139.6v3.1M897.5 145.8v6.2M898.5 150.4v1.6M899.5 145.8v3.1M899.5 153.5v1.6M901.5 142.7v1.6M901.5 145.8v1.6M901.5 148.8v1.6M901.5 151.9v1.6M902.5 141.1v1.6M903.5 138.0v1.6M903.5 142.7v3.1M903.5 155.1v1.6M904.5 142.7v1.6M904.5 147.3v3.1M905.5 141.1v1.6M906.5 142.7v1.6M906.5 155.1v1.6M908.5 153.5v1.6M909.5 139.6v3.1M909.5 145.8v1.6M909.5 155.1v1.6M910.5 138.0v3.1M910.5 148.8v3.1M911.5 138.0v1.6M912.5 138.0v1.6M912.5 147.3v1.6M912.5 153.5v3.1M913.5 141.1v3.1M915.5 138.0v1.6M915.5 141.1v1.6M915.5 145.8v1.6M915.5 155.1v1.6M916.5 139.6v1.6M916.5 142.7v1.6M916.5 155.1v1.6M917.5 141.1v1.6M917.5 144.2v3.1M917.5 148.8v1.6M919.5 142.7v3.1M919.5 153.5v1.6M920.5 148.8v1.6M921.5 138.0v1.6M922.5 145.8v1.6M922.5 153.5v1.6M923.5 141.1v1.6M923.5 147.3v1.6M923.5 155.1v1.6M924.5 139.6v1.6M924.5 144.2v1.6M925.5 155.1v1.6M926.5 144.2v1.6M926.5 148.8v1.6M926.5 155.1v1.6M927.5 138.0v1.6M929.5 145.8v1.6M929.5 148.8v3.1M931.5 141.1v1.6M931.5 144.2v1.6M931.5 148.8v1.6M931.5 151.9v1.6M932.5 145.8v6.2M932.5 153.5v1.6M933.5 144.2v3.1M934.5 151.9v1.6M935.5 138.0v1.6M936.5 141.1v1.6M936.5 155.1v1.6M937.5 138.0v1.6M937.5 147.3v3.1M938.5 144.2v1.6M938.5 153.5v1.6M939.5 145.8v1.6M939.5 148.8v1.6M939.5 153.5v1.6M940.5 141.1v3.1M940.5 148.8v3.1M941.5 147.3v3.1M941.5 151.9v1.6M941.5 155.1v1.6M942.5 139.6v1.6M942.5 145.8v1.6M942.5 150.4v1.6M943.5 138.0v1.6M943.5 144.2v3.1M944.5 138.0v3.1M944.5 147.3v3.1M944.5 153.5v1.6M945.5 141.1v1.6M945.5 150.4v1.6M945.5 153.5v1.6M947.5 153.5v1.6M948.5 141.1v1.6M948.5 151.9v1.6M949.5 145.8v1.6M949.5 150.4v1.6M950.5 139.6v1.6M950.5 151.9v1.6M951.5 138.0v1.6M951.5 142.7v1.6M951.5 145.8v1.6M951.5 150.4v3.1M952.5 138.0v1.6M953.5 139.6v1.6M953.5 151.9v1.6M954.5 142.7v1.6M954.5 150.4v1.6M955.5 141.1v1.6M955.5 155.1v1.6M956.5 139.6v3.1M956.5 144.2v1.6M956.5 148.8v3.1M956.5 155.1v1.6M957.5 139.6v1.6M957.5 145.8v1.6M958.5 138.0v1.6M958.5 148.8v1.6M958.5 153.5v3.1M959.5 139.6v1.6M960.5 139.6v4.7M960.5 151.9v1.6M961.5 138.0v1.6M961.5 145.8v3.1M961.5 150.4v4.7M962.5 139.6v1.6M963.5 147.3v1.6M964.5 142.7v1.6M964.5 150.4v1.6M964.5 155.1v1.6M965.5 138.0v1.6M965.5 141.1v1.6M965.5 148.8v3.1M965.5 153.5v1.6M966.5 142.7v1.6M966.5 147.3v1.6M966.5 155.1v1.6M967.5 150.4v1.6M968.5 141.1v1.6M968.5 144.2v1.6M968.5 148.8v1.6M968.5 153.5v1.6M971.5 153.5v1.6M972.5 145.8v1.6M972.5 150.4v1.6M973.5 139.6v1.6M973.5 147.3v1.6M973.5 150.4v3.1M974.5 141.1v1.6M974.5 145.8v3.1M974.5 153.5v1.6M975.5 151.9v1.6M977.5 139.6v1.6M977.5 142.7v1.6M977.5 150.4v1.6M978.5 141.1v3.1M978.5 145.8v1.6M979.5 141.1v1.6M982.5 145.8v1.6M982.5 153.5v1.6M983.5 138.0v1.6M983.5 144.2v1.6M983.5 147.3v1.6M983.5 150.4v1.6M983.5 153.5v3.1M984.5 141.1v4.7M984.5 150.4v3.1M985.5 138.0v1.6M985.5 142.7v1.6M986.5 142.7v4.7M986.5 153.5v3.1M987.5 142.7v1.6M987.5 147.3v3.1M987.5 155.1v1.6M988.5 138.0v1.6M988.5 144.2v1.6M988.5 148.8v1.6M989.5 147.3v3.1M990.5 150.4v3.1M990.5 155.1v1.6M991.5 145.8v1.6M991.5 150.4v1.6M991.5 153.5v1.6M992.5 141.1v3.1M992.5 148.8v4.7M992.5 155.1v1.6M993.5 150.4v1.6M993.5 153.5v3.1M994.5 142.7v1.6M994.5 145.8v1.6M994.5 151.9v1.6M994.5 155.1v1.6M995.5 138.0v1.6M995.5 145.8v1.6M995.5 151.9v1.6M996.5 142.7v1.6M996.5 148.8v1.6M996.5 151.9v1.6M997.5 147.3v1.6M997.5 150.4v1.6M998.5 148.8v1.6M998.5 153.5v1.6M999.5 138.0v1.6M999.5 145.8v1.6M1000.5 145.8v1.6M1000.5 150.4v4.7M1001.5 150.4v1.6M1002.5 147.3v1.6M1003.5 139.6v1.6M1003.5 147.3v3.1M1003.5 153.5v1.6M1004.5 141.1v1.6M1005.5 142.7v1.6M1005.5 150.4v1.6M1006.5 148.8v3.1M1007.5 148.8v1.6M1008.5 138.0v1.6M1008.5 142.7v3.1M1008.5 150.4v1.6M1009.5 139.6v3.1M1009.5 144.2v1.6M1010.5 139.6v1.6M1010.5 142.7v1.6M1010.5 147.3v1.6M1010.5 150.4v1.6M1011.5 139.6v1.6M1011.5 155.1v1.6M1012.5 142.7v1.6M1012.5 147.3v3.1M1012.5 155.1v1.6M1013.5 150.4v1.6M1013.5 155.1v1.6M1014.5 141.1v1.6M1014.5 144.2v1.6M1014.5 148.8v1.6M1015.5 139.6v1.6M1015.5 155.1v1.6M1016.5 147.3v4.7M1017.5 151.9v1.6M1018.5 138.0v1.6M1019.5 142.7v1.6M1019.5 147.3v6.2M1020.5 141.1v4.7M1020.5 147.3v1.6M1021.5 139.6v3.1M1021.5 144.2v4.7M1021.5 150.4v4.7M1022.5 138.0v3.1M1022.5 145.8v1.6M1022.5 153.5v3.1M1023.5 138.0v1.6M1023.5 151.9v4.7M1024.5 141.1v1.6M1024.5 153.5v3.1M1025.5 147.3v4.7M1026.5 145.8v1.6M1027.5 139.6v1.6M1028.5 138.0v1.6M1028.5 144.2v1.6M1028.5 153.5v3.1M1029.5 138.0v1.6M1029.5 147.3v3.1M1029.5 153.5v1.6M1030.5 150.4v1.6M1031.5 145.8v4.7M1032.5 141.1v1.6M1033.5 139.6v1.6M1033.5 148.8v1.6M1035.5 139.6v1.6M1035.5 153.5v1.6M1036.5 139.6v3.1M1036.5 145.8v3.1M1036.5 151.9v1.6M1037.5 144.2v3.1M1037.5 150.4v3.1M1038.5 142.7v1.6M1038.5 145.8v1.6M1038.5 151.9v1.6M1039.5 144.2v1.6M1039.5 150.4v3.1M1040.5 142.7v1.6M1040.5 150.4v1.6M1040.5 153.5v1.6M1041.5 139.6v1.6M1041.5 145.8v3.1M1042.5 138.0v4.7M1042.5 144.2v1.6M1042.5 147.3v1.6M1042.5 151.9v1.6M1043.5 138.0v3.1M1043.5 148.8v1.6M1044.5 145.8v1.6M1044.5 151.9v3.1M1045.5 138.0v3.1M1045.5 150.4v3.1M1046.5 144.2v1.6M1047.5 147.3v3.1M1047.5 153.5v1.6M1048.5 138.0v1.6M1048.5 150.4v1.6M1049.5 150.4v1.6M1050.5 138.0v1.6M1050.5 144.2v3.1M1050.5 151.9v1.6M1051.5 145.8v3.1M1051.5 153.5v1.6M1052.5 142.7v3.1M1052.5 150.4v1.6M1053.5 147.3v1.6M1053.5 150.4v3.1M1055.5 138.0v1.6M1055.5 144.2v1.6M1055.5 151.9v3.1M1056.5 142.7v3.1M1056.5 155.1v1.6M1057.5 141.1v1.6M1058.5 147.3v3.1M1059.5 138.0v4.7M1059.5 145.8v1.6M1059.5 150.4v3.1M1060.5 138.0v1.6M1060.5 144.2v1.6M1060.5 155.1v1.6M1061.5 139.6v1.6M1061.5 144.2v3.1M1062.5 144.2v3.1M1062.5 151.9v1.6M1062.5 155.1v1.6M1063.5 144.2v1.6M1063.5 147.3v1.6M1064.5 144.2v1.6M1065.5 153.5v1.6M1067.5 144.2v1.6M1067.5 147.3v1.6M1067.5 151.9v1.6M1067.5 155.1v1.6M1068.5 148.8v3.1M1068.5 153.5v1.6M1069.5 138.0v1.6M1069.5 153.5v1.6M1070.5 142.7v3.1M1070.5 147.3v1.6M1070.5 155.1v1.6M1071.5 138.0v3.1M1071.5 142.7v1.6M1072.5 142.7v1.6M1072.5 145.8v3.1M1072.5 150.4v3.1M1074.5 138.0v1.6M1074.5 142.7v1.6M1074.5 155.1v1.6M1075.5 148.8v3.1M1075.5 153.5v1.6M1076.5 144.2v4.7M1077.5 138.0v1.6M1078.5 139.6v1.6M1078.5 145.8v1.6M1078.5 148.8v1.6M1079.5 139.6v1.6M1080.5 139.6v1.6M1080.5 147.3v3.1M1081.5 141.1v3.1M1081.5 150.4v1.6M1081.5 153.5v1.6M1082.5 139.6v1.6M1082.5 150.4v1.6M1083.5 141.1v3.1M1083.5 147.3v3.1M1084.5 142.7v1.6M1084.5 150.4v1.6M1085.5 148.8v1.6M1085.5 153.5v1.6M1086.5 139.6v1.6M1086.5 145.8v1.6M1086.5 153.5v1.6M1087.5 142.7v3.1M1087.5 150.4v3.1M1088.5 141.1v1.6M1088.5 144.2v1.6M1088.5 151.9v1.6M1089.5 142.7v1.6M1089.5 145.8v1.6M1089.5 155.1v1.6M1090.5 147.3v1.6M1090.5 151.9v1.6M1090.5 155.1v1.6M1091.5 142.7v3.1M1091.5 147.3v1.6M1091.5 151.9v1.6M1092.5 139.6v1.6M1092.5 144.2v1.6M1092.5 150.4v1.6M1093.5 141.1v3.1M1093.5 153.5v1.6M1094.5 138.0v1.6M1094.5 155.1v1.6M1095.5 139.6v1.6M1095.5 151.9v3.1M1096.5 139.6v1.6M1096.5 147.3v3.1M1097.5 147.3v1.6M1099.5 147.3v1.6M1099.5 150.4v1.6M1100.5 150.4v1.6M1101.5 141.1v3.1M1101.5 147.3v1.6M1101.5 150.4v1.6M1102.5 144.2v1.6M1103.5 144.2v1.6M1103.5 147.3v3.1M1104.5 141.1v1.6M1104.5 148.8v1.6M1105.5 142.7v4.7M1106.5 139.6v1.6M1106.5 153.5v1.6M1107.5 144.2v1.6M1107.5 148.8v1.6M1108.5 138.0v1.6M1108.5 151.9v3.1M1109.5 138.0v1.6M1109.5 142.7v1.6M1109.5 151.9v1.6M1109.5 155.1v1.6M1110.5 141.1v1.6M1110.5 147.3v3.1M1110.5 151.9v1.6M1111.5 147.3v1.6M1112.5 141.1v1.6M1112.5 147.3v1.6M1113.5 155.1v1.6M1114.5 141.1v1.6M1114.5 144.2v1.6M1115.5 148.8v1.6M1116.5 145.8v1.6M1116.5 150.4v1.6M1118.5 138.0v1.6M1118.5 153.5v1.6M1119.5 147.3v1.6M1120.5 139.6v1.6M1120.5 144.2v3.1M1120.5 150.4v3.1M1121.5 148.8v1.6M1121.5 151.9v1.6M1122.5 144.2v3.1M1122.5 148.8v3.1" stroke="#00ffa0" stroke-width="1.00" fill="none" opacity="0.45"/>
<path d="M669.5 121.0v3.1M669.5 127.1v1.6M669.5 130.2v1.6M669.5 134.9v1.6M669.5 144.2v1.6M670.5 116.3v1.6M670.5 119.4v4.7M670.5 125.6v3.1M670.5 136.4v1.6M671.5 119.4v1.6M671.5 125.6v4.7M671.5 133.3v3.1M672.5 117.8v1.6M672.5 124.0v1.6M672.5 134.9v1.6M672.5 144.2v1.6M673.5 116.3v3.1M673.5 127.1v3.1M673.5 131.8v1.6M673.5 142.7v1.6M674.5 117.8v3.1M674.5 124.0v3.1M674.5 128.7v3.1M674.5 134.9v1.6M675.5 116.3v3.1M675.5 122.5v1.6M675.5 128.7v1.6M675.5 134.9v3.1M676.5 125.6v1.6M676.5 136.4v1.6M677.5 122.5v3.1M677.5 128.7v1.6M677.5 133.3v1.6M677.5 136.4v1.6M678.5 117.8v1.6M678.5 122.5v1.6M678.5 125.6v1.6M678.5 134.9v3.1M679.5 119.4v1.6M679.5 125.6v4.7M679.5 131.8v1.6M679.5 134.9v1.6M680.5 117.8v3.1M680.5 122.5v3.1M680.5 128.7v1.6M680.5 136.4v1.6M681.5 121.0v1.6M681.5 125.6v1.6M681.5 133.3v1.6M681.5 142.7v1.6M682.5 116.3v1.6M682.5 127.1v1.6M682.5 130.2v1.6M683.5 116.3v3.1M683.5 125.6v1.6M683.5 128.7v1.6M684.5 122.5v3.1M684.5 127.1v3.1M684.5 131.8v1.6M684.5 136.4v1.6M685.5 116.3v1.6M685.5 122.5v1.6M685.5 127.1v1.6M686.5 122.5v1.6M686.5 125.6v1.6M686.5 130.2v1.6M686.5 136.4v1.6M687.5 116.3v1.6M687.5 127.1v3.1M687.5 131.8v1.6M687.5 134.9v1.6M687.5 138.0v1.6M687.5 142.7v1.6M688.5 116.3v3.1M688.5 124.0v1.6M688.5 127.1v3.1M688.5 136.4v3.1M689.5 116.3v1.6M689.5 122.5v1.6M689.5 125.6v3.1M689.5 133.3v1.6M690.5 117.8v3.1M690.5 122.5v1.6M690.5 125.6v1.6M690.5 128.7v1.6M690.5 134.9v1.6M690.5 139.6v1.6M691.5 116.3v3.1M691.5 127.1v1.6M691.5 136.4v1.6M692.5 121.0v1.6M692.5 125.6v1.6M692.5 131.8v6.2M692.5 139.6v1.6M693.5 124.0v3.1M693.5 128.7v4.7M694.5 117.8v1.6M694.5 122.5v1.6M694.5 125.6v1.6M694.5 133.3v3.1M695.5 121.0v3.1M695.5 127.1v3.1M695.5 134.9v3.1M696.5 119.4v1.6M696.5 122.5v4.7M696.5 128.7v3.1M697.5 121.0v7.8M697.5 133.3v1.6M698.5 117.8v1.6M698.5 122.5v1.6M698.5 127.1v1.6M698.5 131.8v1.6M699.5 119.4v1.6M699.5 124.0v1.6M699.5 139.6v1.6M700.5 121.0v3.1M700.5 128.7v3.1M700.5 136.4v3.1M701.5 116.3v1.6M701.5 122.5v3.1M701.5 127.1v1.6M701.5 133.3v1.6M701.5 136.4v1.6M701.5 142.7v1.6M702.5 117.8v1.6M702.5 125.6v3.1M702.5 130.2v1.6M702.5 134.9v1.6M702.5 141.1v1.6M703.5 119.4v3.1M703.5 124.0v6.2M703.5 131.8v3.1M703.5 136.4v1.6M704.5 116.3v1.6M704.5 121.0v3.1M704.5 128.7v1.6M705.5 116.3v1.6M705.5 125.6v1.6M705.5 130.2v1.6M706.5 125.6v1.6M707.5 116.3v1.6M707.5 124.0v1.6M707.5 130.2v6.2M708.5 116.3v1.6M708.5 122.5v3.1M708.5 131.8v3.1M709.5 125.6v3.1M709.5 131.8v1.6M709.5 134.9v3.1M710.5 122.5v1.6M710.5 128.7v1.6M710.5 142.7v1.6M711.5 121.0v1.6M711.5 124.0v7.8M711.5 136.4v3.1M712.5 119.4v1.6M712.5 124.0v1.6M712.5 127.1v6.2M713.5 117.8v1.6M713.5 127.1v1.6M713.5 131.8v1.6M713.5 134.9v1.6M714.5 116.3v1.6M714.5 122.5v6.2M715.5 119.4v1.6M715.5 125.6v4.7M716.5 125.6v3.1M716.5 131.8v3.1M717.5 119.4v6.2M717.5 127.1v3.1M717.5 133.3v1.6M717.5 136.4v1.6M718.5 116.3v1.6M718.5 122.5v3.1M718.5 127.1v3.1M718.5 133.3v1.6M719.5 117.8v4.7M719.5 125.6v1.6M719.5 128.7v3.1M719.5 134.9v1.6M720.5 119.4v6.2M720.5 127.1v1.6M720.5 131.8v1.6M720.5 138.0v1.6M721.5 117.8v1.6M721.5 127.1v4.7M721.5 134.9v1.6M721.5 138.0v1.6M722.5 119.4v3.1M722.5 125.6v1.6M722.5 128.7v1.6M722.5 138.0v1.6M723.5 119.4v3.1M723.5 125.6v1.6M723.5 131.8v1.6M724.5 122.5v1.6M724.5 127.1v1.6M724.5 131.8v1.6M725.5 116.3v1.6M725.5 119.4v1.6M725.5 122.5v1.6M725.5 125.6v3.1M725.5 136.4v1.6M726.5 116.3v1.6M726.5 122.5v1.6M726.5 134.9v3.1M726.5 141.1v1.6M727.5 116.3v3.1M727.5 122.5v1.6M727.5 125.6v3.1M727.5 133.3v1.6M727.5 139.6v1.6M728.5 128.7v1.6M728.5 138.0v3.1M729.5 116.3v1.6M729.5 125.6v6.2M730.5 122.5v7.8M730.5 136.4v1.6M730.5 139.6v1.6M731.5 124.0v1.6M731.5 127.1v1.6M731.5 131.8v1.6M732.5 122.5v1.6M732.5 125.6v1.6M732.5 128.7v1.6M732.5 131.8v1.6M733.5 121.0v1.6M733.5 124.0v1.6M733.5 131.8v3.1M734.5 119.4v10.8M734.5 131.8v1.6M734.5 134.9v1.6M735.5 116.3v1.6M735.5 121.0v1.6M735.5 125.6v4.7M735.5 134.9v1.6M736.5 117.8v3.1M736.5 125.6v3.1M736.5 130.2v1.6M737.5 124.0v3.1M737.5 131.8v4.7M738.5 128.7v1.6M738.5 136.4v1.6M739.5 117.8v1.6M739.5 122.5v1.6M739.5 125.6v6.2M739.5 134.9v1.6M739.5 139.6v1.6M740.5 119.4v1.6M740.5 127.1v1.6M740.5 138.0v1.6M740.5 141.1v1.6M741.5 117.8v1.6M741.5 121.0v1.6M741.5 125.6v4.7M741.5 131.8v3.1M741.5 142.7v1.6M742.5 119.4v1.6M742.5 122.5v1.6M742.5 127.1v1.6M742.5 130.2v1.6M742.5 134.9v1.6M743.5 119.4v1.6M744.5 117.8v1.6M744.5 125.6v1.6M744.5 130.2v1.6M744.5 133.3v3.1M745.5 117.8v1.6M745.5 122.5v1.6M745.5 127.1v1.6M745.5 130.2v1.6M745.5 133.3v3.1M746.5 124.0v7.8M747.5 116.3v1.6M747.5 119.4v1.6M747.5 122.5v1.6M747.5 125.6v4.7M747.5 139.6v1.6M748.5 119.4v1.6M748.5 125.6v3.1M748.5 130.2v1.6M749.5 121.0v1.6M749.5 124.0v1.6M749.5 133.3v1.6M750.5 117.8v3.1M750.5 125.6v1.6M750.5 128.7v1.6M751.5 117.8v1.6M751.5 121.0v1.6M751.5 127.1v7.8M751.5 139.6v1.6M752.5 124.0v1.6M752.5 127.1v3.1M752.5 131.8v4.7M753.5 119.4v1.6M753.5 127.1v3.1M753.5 133.3v1.6M754.5 116.3v3.1M754.5 122.5v1.6M754.5 125.6v1.6M754.5 130.2v1.6M755.5 117.8v3.1M755.5 122.5v1.6M755.5 125.6v1.6M755.5 128.7v1.6M756.5 124.0v4.7M756.5 130.2v1.6M756.5 136.4v1.6M757.5 121.0v1.6M757.5 124.0v1.6M757.5 131.8v3.1M757.5 136.4v1.6M758.5 124.0v4.7M758.5 130.2v3.1M759.5 121.0v1.6M759.5 128.7v3.1M759.5 133.3v1.6M760.5 116.3v3.1M760.5 127.1v1.6M760.5 131.8v1.6M761.5 117.8v1.6M761.5 121.0v1.6M761.5 131.8v1.6M761.5 134.9v1.6M762.5 116.3v1.6M762.5 124.0v1.6M762.5 128.7v1.6M762.5 133.3v1.6M762.5 136.4v1.6M763.5 119.4v1.6M763.5 125.6v3.1M763.5 131.8v1.6M763.5 134.9v1.6M764.5 121.0v3.1M764.5 125.6v1.6M764.5 133.3v1.6M765.5 119.4v1.6M765.5 124.0v4.7M765.5 130.2v6.2M766.5 116.3v1.6M766.5 122.5v3.1M766.5 130.2v1.6M766.5 142.7v1.6M767.5 121.0v1.6M767.5 125.6v3.1M767.5 138.0v1.6M768.5 117.8v1.6M768.5 124.0v1.6M768.5 127.1v1.6M768.5 131.8v1.6M768.5 141.1v1.6M769.5 117.8v1.6M769.5 125.6v6.2M770.5 116.3v1.6M770.5 122.5v1.6M770.5 125.6v1.6M770.5 128.7v1.6M770.5 131.8v1.6M771.5 119.4v3.1M771.5 124.0v4.7M771.5 133.3v1.6M772.5 119.4v4.7M772.5 125.6v1.6M772.5 128.7v1.6M772.5 133.3v3.1M773.5 124.0v3.1M773.5 130.2v1.6M773.5 134.9v1.6M773.5 141.1v1.6M774.5 119.4v1.6M774.5 127.1v1.6M774.5 131.8v1.6M774.5 138.0v1.6M775.5 124.0v3.1M776.5 116.3v1.6M776.5 119.4v1.6M776.5 122.5v1.6M776.5 128.7v1.6M776.5 133.3v1.6M777.5 125.6v1.6M777.5 130.2v3.1M777.5 139.6v1.6M778.5 121.0v1.6M778.5 124.0v3.1M778.5 133.3v1.6M778.5 136.4v1.6M779.5 119.4v1.6M779.5 122.5v1.6M779.5 127.1v1.6M779.5 130.2v1.6M779.5 141.1v1.6M780.5 119.4v4.7M780.5 128.7v3.1M780.5 133.3v3.1M781.5 119.4v4.7M781.5 125.6v3.1M781.5 133.3v1.6M781.5 144.2v1.6M782.5 121.0v1.6M782.5 125.6v7.8M782.5 136.4v1.6M783.5 117.8v3.1M783.5 124.0v4.7M783.5 131.8v1.6M784.5 121.0v10.8M785.5 119.4v1.6M785.5 124.0v1.6M785.5 131.8v3.1M785.5 138.0v1.6M786.5 116.3v4.7M786.5 125.6v1.6M786.5 133.3v1.6M787.5 116.3v1.6M787.5 124.0v1.6M787.5 127.1v4.7M787.5 142.7v1.6M788.5 117.8v3.1M788.5 125.6v4.7M788.5 133.3v1.6M789.5 119.4v10.8M789.5 134.9v1.6M789.5 139.6v1.6M790.5 116.3v3.1M790.5 128.7v1.6M790.5 131.8v3.1M791.5 116.3v1.6M791.5 122.5v1.6M791.5 125.6v4.7M791.5 133.3v1.6M791.5 144.2v1.6M792.5 125.6v1.6M792.5 128.7v1.6M792.5 131.8v1.6M792.5 136.4v1.6M793.5 116.3v1.6M793.5 119.4v1.6M793.5 127.1v3.1M793.5 131.8v1.6M793.5 136.4v1.6M793.5 141.1v1.6M794.5 122.5v9.3M794.5 133.3v1.6M794.5 136.4v1.6M795.5 117.8v1.6M795.5 122.5v1.6M795.5 127.1v1.6M795.5 130.2v1.6M795.5 134.9v3.1M796.5 117.8v3.1M796.5 125.6v1.6M796.5 131.8v1.6M796.5 136.4v1.6M797.5 124.0v1.6M797.5 131.8v1.6M797.5 134.9v3.1M798.5 119.4v1.6M798.5 122.5v3.1M798.5 128.7v3.1M798.5 136.4v1.6M798.5 142.7v1.6M799.5 119.4v1.6M799.5 124.0v1.6M799.5 128.7v1.6M799.5 131.8v1.6M799.5 134.9v1.6M799.5 141.1v1.6M800.5 117.8v1.6M800.5 124.0v1.6M800.5 127.1v1.6M800.5 133.3v1.6M800.5 136.4v1.6M801.5 116.3v1.6M801.5 127.1v3.1M801.5 131.8v1.6M801.5 136.4v1.6M802.5 117.8v3.1M802.5 122.5v1.6M802.5 128.7v3.1M802.5 133.3v1.6M803.5 116.3v1.6M803.5 119.4v3.1M803.5 127.1v3.1M803.5 131.8v4.7M803.5 142.7v1.6M804.5 116.3v1.6M804.5 119.4v3.1M804.5 127.1v3.1M804.5 131.8v1.6M805.5 122.5v1.6M805.5 125.6v4.7M805.5 131.8v3.1M805.5 136.4v1.6M806.5 125.6v1.6M806.5 128.7v1.6M807.5 116.3v1.6M807.5 119.4v1.6M807.5 125.6v3.1M807.5 130.2v1.6M807.5 136.4v1.6M808.5 122.5v7.8M809.5 119.4v1.6M809.5 122.5v1.6M809.5 125.6v1.6M809.5 128.7v1.6M809.5 131.8v1.6M810.5 119.4v1.6M810.5 127.1v3.1M811.5 122.5v7.8M811.5 131.8v3.1M812.5 119.4v1.6M812.5 125.6v1.6M812.5 128.7v1.6M813.5 116.3v3.1M813.5 125.6v1.6M813.5 128.7v1.6M813.5 136.4v1.6M813.5 139.6v1.6M813.5 142.7v1.6M814.5 117.8v3.1M814.5 122.5v1.6M814.5 125.6v4.7M815.5 121.0v9.3M815.5 133.3v1.6M815.5 136.4v1.6M815.5 139.6v1.6M816.5 121.0v1.6M816.5 125.6v1.6M816.5 130.2v1.6M816.5 133.3v1.6M817.5 117.8v1.6M817.5 125.6v1.6M817.5 136.4v1.6M818.5 116.3v1.6M818.5 119.4v1.6M818.5 124.0v1.6M818.5 127.1v1.6M819.5 122.5v3.1M819.5 127.1v1.6M819.5 133.3v3.1M820.5 122.5v3.1M820.5 127.1v1.6M820.5 134.9v1.6M820.5 141.1v1.6M821.5 122.5v1.6M821.5 127.1v1.6M821.5 131.8v1.6M821.5 134.9v1.6M822.5 117.8v3.1M822.5 122.5v3.1M822.5 127.1v3.1M822.5 133.3v3.1M823.5 116.3v1.6M823.5 128.7v3.1M823.5 134.9v3.1M824.5 117.8v4.7M824.5 127.1v3.1M824.5 131.8v1.6M825.5 122.5v1.6M825.5 125.6v6.2M825.5 133.3v4.7M826.5 116.3v3.1M826.5 121.0v3.1M826.5 125.6v4.7M826.5 131.8v1.6M827.5 117.8v1.6M827.5 121.0v1.6M827.5 124.0v1.6M827.5 127.1v3.1M827.5 131.8v3.1M828.5 119.4v1.6M828.5 127.1v1.6M828.5 131.8v6.2M828.5 141.1v1.6M829.5 119.4v1.6M829.5 122.5v1.6M829.5 125.6v3.1M829.5 131.8v1.6M830.5 121.0v3.1M830.5 125.6v1.6M830.5 139.6v1.6M831.5 116.3v6.2M831.5 124.0v1.6M831.5 127.1v1.6M831.5 130.2v3.1M831.5 141.1v3.1M832.5 119.4v1.6M832.5 124.0v3.1M832.5 130.2v1.6M832.5 133.3v1.6M832.5 136.4v1.6M833.5 116.3v1.6M833.5 119.4v1.6M833.5 124.0v1.6M833.5 128.7v3.1M833.5 133.3v1.6M834.5 122.5v1.6M834.5 127.1v1.6M834.5 134.9v3.1M835.5 122.5v1.6M835.5 128.7v7.8M835.5 144.2v1.6M836.5 122.5v1.6M836.5 125.6v1.6M836.5 130.2v1.6M836.5 133.3v1.6M836.5 136.4v1.6M837.5 117.8v1.6M837.5 125.6v3.1M837.5 130.2v6.2M838.5 119.4v3.1M838.5 125.6v3.1M839.5 117.8v1.6M839.5 121.0v1.6M839.5 125.6v4.7M840.5 116.3v6.2M840.5 124.0v4.7M840.5 131.8v1.6M840.5 136.4v3.1M841.5 128.7v1.6M841.5 134.9v1.6M842.5 121.0v1.6M842.5 127.1v1.6M842.5 130.2v1.6M842.5 139.6v1.6M843.5 116.3v1.6M843.5 128.7v3.1M843.5 134.9v1.6M844.5 116.3v1.6M844.5 121.0v1.6M844.5 125.6v1.6M844.5 128.7v1.6M844.5 136.4v1.6M845.5 124.0v3.1M845.5 128.7v1.6M845.5 138.0v1.6M846.5 119.4v1.6M846.5 122.5v1.6M846.5 127.1v1.6M846.5 131.8v1.6M846.5 136.4v1.6M847.5 116.3v1.6M847.5 127.1v1.6M847.5 130.2v3.1M847.5 136.4v1.6M848.5 121.0v1.6M848.5 125.6v1.6M848.5 131.8v1.6M849.5 116.3v3.1M849.5 122.5v1.6M849.5 127.1v3.1M849.5 136.4v1.6M850.5 117.8v4.7M850.5 125.6v4.7M850.5 131.8v1.6M850.5 134.9v1.6M851.5 117.8v3.1M851.5 122.5v1.6M851.5 127.1v1.6M851.5 131.8v1.6M852.5 122.5v4.7M852.5 130.2v1.6M852.5 133.3v1.6M852.5 142.7v1.6M853.5 117.8v1.6M853.5 127.1v6.2M853.5 134.9v1.6M854.5 124.0v7.8M854.5 138.0v1.6M855.5 116.3v1.6M855.5 124.0v3.1M855.5 128.7v1.6M855.5 131.8v1.6M856.5 122.5v3.1M856.5 127.1v1.6M856.5 130.2v3.1M857.5 121.0v3.1M857.5 125.6v1.6M857.5 128.7v1.6M857.5 131.8v1.6M858.5 124.0v7.8M858.5 133.3v4.7M859.5 121.0v1.6M859.5 127.1v6.2M859.5 134.9v1.6M860.5 116.3v3.1M860.5 122.5v7.8M860.5 144.2v1.6M861.5 116.3v3.1M861.5 121.0v9.3M862.5 117.8v1.6M862.5 128.7v1.6M862.5 133.3v1.6M863.5 117.8v1.6M863.5 128.7v4.7M863.5 136.4v1.6M864.5 121.0v3.1M864.5 127.1v1.6M864.5 130.2v1.6M864.5 139.6v1.6M865.5 121.0v1.6M865.5 124.0v6.2M865.5 134.9v1.6M866.5 119.4v1.6M866.5 127.1v3.1M866.5 139.6v1.6M867.5 121.0v1.6M867.5 125.6v1.6M867.5 130.2v3.1M867.5 134.9v1.6M868.5 116.3v1.6M868.5 121.0v1.6M868.5 124.0v4.7M868.5 130.2v3.1M868.5 134.9v1.6M869.5 117.8v3.1M869.5 127.1v4.7M870.5 125.6v1.6M870.5 133.3v1.6M870.5 136.4v1.6M871.5 116.3v3.1M871.5 124.0v4.7M871.5 131.8v1.6M872.5 117.8v1.6M872.5 121.0v1.6M872.5 124.0v3.1M873.5 117.8v1.6M873.5 125.6v1.6M873.5 128.7v4.7M873.5 134.9v1.6M874.5 119.4v1.6M874.5 130.2v1.6M875.5 119.4v1.6M875.5 124.0v1.6M875.5 128.7v1.6M875.5 131.8v1.6M876.5 117.8v1.6M876.5 128.7v1.6M876.5 136.4v3.1M877.5 122.5v4.7M877.5 128.7v3.1M877.5 133.3v1.6M878.5 122.5v3.1M878.5 130.2v1.6M878.5 134.9v1.6M879.5 119.4v1.6M879.5 125.6v1.6M879.5 133.3v3.1M879.5 138.0v1.6M880.5 116.3v1.6M880.5 119.4v1.6M880.5 124.0v1.6M880.5 127.1v3.1M880.5 131.8v3.1M880.5 142.7v1.6M881.5 122.5v1.6M881.5 127.1v4.7M881.5 133.3v1.6M881.5 139.6v1.6M882.5 124.0v1.6M882.5 133.3v1.6M883.5 117.8v1.6M883.5 124.0v6.2M883.5 131.8v3.1M884.5 119.4v1.6M884.5 125.6v4.7M884.5 134.9v1.6M885.5 121.0v3.1M885.5 125.6v1.6M885.5 130.2v3.1M885.5 138.0v1.6M886.5 124.0v1.6M886.5 127.1v4.7M886.5 133.3v1.6M887.5 116.3v1.6M887.5 122.5v1.6M887.5 125.6v1.6M887.5 130.2v1.6M887.5 133.3v1.6M887.5 141.1v1.6M888.5 121.0v1.6M888.5 125.6v1.6M888.5 130.2v1.6M888.5 133.3v1.6M888.5 139.6v1.6M889.5 121.0v1.6M889.5 130.2v1.6M890.5 119.4v1.6M890.5 122.5v1.6M890.5 125.6v3.1M890.5 130.2v4.7M890.5 136.4v1.6M891.5 117.8v1.6M891.5 127.1v3.1M891.5 136.4v3.1M892.5 127.1v3.1M893.5 116.3v1.6M893.5 119.4v1.6M893.5 122.5v1.6M893.5 128.7v6.2M893.5 138.0v1.6M893.5 142.7v1.6M894.5 116.3v3.1M894.5 121.0v1.6M894.5 131.8v3.1M894.5 144.2v1.6M895.5 117.8v1.6M895.5 121.0v1.6M895.5 125.6v9.3M895.5 136.4v1.6M896.5 119.4v1.6M896.5 125.6v4.7M896.5 133.3v1.6M896.5 138.0v1.6M897.5 116.3v3.1M897.5 121.0v3.1M897.5 127.1v3.1M898.5 122.5v3.1M898.5 127.1v3.1M898.5 131.8v3.1M898.5 139.6v1.6M899.5 119.4v1.6M899.5 124.0v6.2M900.5 122.5v1.6M900.5 125.6v3.1M900.5 130.2v3.1M901.5 121.0v1.6M901.5 124.0v6.2M901.5 138.0v1.6M902.5 116.3v1.6M902.5 121.0v1.6M902.5 124.0v6.2M902.5 133.3v1.6M903.5 122.5v1.6M903.5 125.6v3.1M903.5 130.2v3.1M904.5 119.4v3.1M904.5 127.1v1.6M904.5 131.8v1.6M905.5 116.3v1.6M905.5 119.4v1.6M905.5 124.0v6.2M905.5 131.8v1.6M905.5 134.9v3.1M906.5 117.8v3.1M906.5 124.0v1.6M906.5 127.1v1.6M906.5 133.3v1.6M907.5 119.4v4.7M907.5 127.1v1.6M908.5 121.0v1.6M908.5 125.6v3.1M908.5 130.2v1.6M909.5 116.3v4.7M909.5 125.6v3.1M909.5 131.8v1.6M909.5 134.9v1.6M910.5 117.8v3.1M910.5 127.1v1.6M910.5 130.2v1.6M910.5 136.4v1.6M911.5 117.8v1.6M911.5 125.6v1.6M911.5 136.4v1.6M912.5 131.8v1.6M913.5 119.4v1.6M913.5 127.1v1.6M913.5 136.4v3.1M914.5 117.8v4.7M914.5 124.0v6.2M914.5 133.3v3.1M914.5 144.2v1.6M915.5 119.4v1.6M915.5 127.1v4.7M915.5 134.9v1.6M916.5 116.3v1.6M916.5 121.0v1.6M916.5 124.0v3.1M916.5 134.9v1.6M917.5 116.3v3.1M917.5 128.7v3.1M917.5 134.9v1.6M917.5 138.0v1.6M918.5 121.0v1.6M918.5 127.1v1.6M918.5 130.2v1.6M918.5 134.9v3.1M919.5 125.6v4.7M919.5 134.9v1.6M919.5 141.1v1.6M920.5 121.0v1.6M920.5 124.0v1.6M920.5 127.1v4.7M921.5 117.8v1.6M921.5 125.6v3.1M921.5 130.2v1.6M921.5 136.4v1.6M922.5 125.6v3.1M922.5 134.9v1.6M922.5 139.6v3.1M923.5 117.8v1.6M923.5 121.0v3.1M923.5 125.6v3.1M923.5 130.2v3.1M923.5 139.6v1.6M924.5 119.4v1.6M924.5 124.0v3.1M924.5 128.7v1.6M924.5 131.8v1.6M925.5 119.4v1.6M925.5 127.1v1.6M925.5 136.4v1.6M926.5 117.8v3.1M926.5 124.0v1.6M926.5 127.1v1.6M926.5 134.9v1.6M926.5 138.0v1.6M927.5 116.3v1.6M927.5 121.0v3.1M927.5 128.7v1.6M927.5 133.3v1.6M927.5 136.4v1.6M928.5 116.3v6.2M928.5 125.6v3.1M928.5 130.2v3.1M928.5 136.4v3.1M929.5 116.3v1.6M929.5 121.0v1.6M929.5 131.8v3.1M930.5 116.3v1.6M930.5 125.6v1.6M930.5 128.7v4.7M931.5 116.3v1.6M931.5 124.0v1.6M932.5 116.3v1.6M932.5 121.0v1.6M932.5 124.0v1.6M932.5 127.1v1.6M932.5 133.3v1.6M933.5 125.6v6.2M933.5 133.3v3.1M934.5 116.3v1.6M934.5 122.5v1.6M934.5 125.6v1.6M934.5 128.7v3.1M935.5 116.3v1.6M935.5 121.0v4.7M935.5 128.7v3.1M935.5 133.3v3.1M936.5 121.0v3.1M936.5 125.6v1.6M936.5 128.7v1.6M936.5 142.7v1.6M937.5 127.1v1.6M937.5 130.2v3.1M937.5 134.9v1.6M938.5 121.0v3.1M938.5 128.7v1.6M938.5 131.8v1.6M938.5 136.4v1.6M939.5 116.3v1.6M939.5 119.4v1.6M939.5 124.0v1.6M939.5 127.1v3.1M939.5 134.9v3.1M939.5 139.6v1.6M940.5 125.6v1.6M940.5 128.7v1.6M940.5 144.2v1.6M941.5 127.1v3.1M942.5 121.0v1.6M942.5 128.7v1.6M943.5 119.4v3.1M943.5 124.0v1.6M943.5 128.7v3.1M943.5 142.7v1.6M944.5 128.7v3.1M944.5 134.9v1.6M945.5 116.3v1.6M945.5 119.4v1.6M945.5 124.0v3.1M945.5 134.9v3.1M946.5 119.4v4.7M946.5 127.1v1.6M946.5 133.3v1.6M947.5 121.0v1.6M947.5 127.1v1.6M947.5 130.2v1.6M947.5 133.3v3.1M948.5 119.4v1.6M948.5 122.5v3.1M948.5 130.2v4.7M949.5 121.0v1.6M949.5 124.0v1.6M949.5 128.7v3.1M950.5 117.8v1.6M950.5 121.0v3.1M950.5 125.6v4.7M950.5 133.3v1.6M951.5 125.6v1.6M951.5 131.8v3.1M951.5 141.1v1.6M952.5 116.3v3.1M952.5 124.0v4.7M952.5 139.6v1.6M953.5 117.8v1.6M953.5 121.0v3.1M953.5 125.6v1.6M953.5 133.3v1.6M954.5 116.3v1.6M954.5 121.0v1.6M954.5 125.6v6.2M954.5 141.1v1.6M955.5 116.3v3.1M955.5 125.6v3.1M955.5 133.3v1.6M955.5 136.4v3.1M956.5 116.3v3.1M956.5 125.6v1.6M956.5 128.7v3.1M956.5 133.3v1.6M957.5 128.7v6.2M958.5 119.4v1.6M958.5 122.5v9.3M958.5 133.3v1.6M959.5 116.3v1.6M959.5 121.0v1.6M959.5 125.6v1.6M959.5 128.7v1.6M959.5 133.3v1.6M960.5 116.3v1.6M960.5 121.0v1.6M960.5 127.1v1.6M960.5 131.8v3.1M961.5 119.4v6.2M961.5 127.1v1.6M961.5 134.9v1.6M962.5 117.8v3.1M962.5 124.0v7.8M962.5 136.4v1.6M963.5 116.3v1.6M963.5 119.4v4.7M963.5 125.6v1.6M963.5 128.7v1.6M964.5 121.0v3.1M964.5 125.6v1.6M964.5 128.7v3.1M965.5 116.3v1.6M965.5 119.4v1.6M965.5 127.1v1.6M965.5 136.4v1.6M966.5 121.0v1.6M966.5 124.0v1.6M966.5 127.1v6.2M967.5 116.3v1.6M967.5 119.4v3.1M967.5 124.0v7.8M967.5 139.6v1.6M968.5 116.3v4.7M968.5 125.6v3.1M968.5 131.8v1.6M968.5 134.9v1.6M969.5 117.8v4.7M969.5 125.6v1.6M969.5 130.2v1.6M969.5 134.9v1.6M970.5 122.5v1.6M970.5 128.7v1.6M970.5 136.4v1.6M971.5 117.8v3.1M971.5 124.0v1.6M971.5 127.1v1.6M971.5 133.3v1.6M971.5 136.4v1.6M972.5 119.4v1.6M972.5 127.1v1.6M972.5 133.3v1.6M973.5 122.5v1.6M973.5 127.1v1.6M974.5 116.3v1.6M974.5 124.0v3.1M974.5 128.7v3.1M975.5 117.8v3.1M975.5 124.0v4.7M975.5 130.2v1.6M975.5 134.9v1.6M975.5 138.0v1.6M976.5 122.5v1.6M976.5 127.1v3.1M976.5 133.3v1.6M977.5 117.8v1.6M977.5 127.1v4.7M977.5 136.4v1.6M978.5 117.8v1.6M978.5 121.0v1.6M978.5 125.6v1.6M978.5 128.7v1.6M978.5 131.8v1.6M978.5 139.6v1.6M979.5 127.1v1.6M980.5 124.0v1.6M980.5 131.8v1.6M980.5 136.4v1.6M981.5 119.4v1.6M981.5 127.1v3.1M982.5 117.8v9.3M982.5 128.7v1.6M982.5 133.3v3.1M983.5 117.8v1.6M983.5 125.6v1.6M983.5 141.1v1.6M984.5 125.6v1.6M984.5 133.3v1.6M985.5 119.4v3.1M985.5 124.0v1.6M985.5 127.1v1.6M985.5 133.3v3.1M986.5 121.0v1.6M986.5 125.6v1.6M986.5 128.7v1.6M986.5 136.4v1.6M987.5 124.0v9.3M987.5 136.4v4.7M988.5 117.8v1.6M988.5 121.0v1.6M988.5 124.0v7.8M988.5 134.9v1.6M989.5 136.4v1.6M989.5 142.7v1.6M990.5 117.8v1.6M990.5 122.5v1.6M990.5 127.1v7.8M991.5 116.3v3.1M991.5 121.0v3.1M991.5 127.1v1.6M991.5 130.2v1.6M991.5 134.9v1.6M992.5 116.3v4.7M992.5 122.5v1.6M992.5 125.6v1.6M992.5 128.7v1.6M992.5 133.3v3.1M993.5 125.6v1.6M993.5 130.2v1.6M993.5 134.9v1.6M993.5 144.2v1.6M994.5 117.8v3.1M994.5 122.5v1.6M994.5 127.1v3.1M994.5 133.3v1.6M994.5 136.4v3.1M995.5 121.0v1.6M995.5 128.7v4.7M996.5 119.4v3.1M996.5 124.0v3.1M996.5 131.8v1.6M997.5 119.4v1.6M997.5 122.5v7.8M998.5 117.8v4.7M998.5 130.2v1.6M998.5 133.3v3.1M998.5 141.1v1.6M999.5 119.4v1.6M999.5 124.0v1.6M999.5 128.7v1.6M999.5 131.8v1.6M999.5 141.1v1.6M1000.5 127.1v6.2M1001.5 122.5v10.8M1001.5 139.6v1.6M1001.5 144.2v1.6M1002.5 119.4v1.6M1002.5 122.5v1.6M1002.5 125.6v4.7M1002.5 131.8v3.1M1002.5 138.0v1.6M1003.5 116.3v1.6M1003.5 121.0v1.6M1003.5 127.1v3.1M1003.5 131.8v3.1M1004.5 119.4v1.6M1004.5 127.1v1.6M1004.5 130.2v1.6M1004.5 133.3v1.6M1005.5 117.8v1.6M1005.5 121.0v1.6M1005.5 125.6v1.6M1005.5 128.7v3.1M1005.5 134.9v1.6M1006.5 125.6v3.1M1006.5 139.6v1.6M1007.5 121.0v1.6M1007.5 125.6v1.6M1007.5 128.7v3.1M1007.5 136.4v1.6M1007.5 144.2v1.6M1008.5 117.8v1.6M1008.5 130.2v1.6M1009.5 119.4v1.6M1009.5 122.5v3.1M1009.5 127.1v3.1M1009.5 133.3v1.6M1010.5 116.3v3.1M1010.5 121.0v1.6M1010.5 124.0v6.2M1010.5 133.3v1.6M1010.5 138.0v1.6M1011.5 117.8v1.6M1011.5 127.1v1.6M1011.5 133.3v1.6M1011.5 138.0v1.6M1012.5 116.3v3.1M1012.5 122.5v1.6M1012.5 125.6v1.6M1012.5 128.7v1.6M1012.5 131.8v1.6M1013.5 116.3v1.6M1013.5 121.0v1.6M1013.5 125.6v4.7M1013.5 131.8v1.6M1013.5 134.9v1.6M1014.5 116.3v1.6M1014.5 122.5v1.6M1014.5 125.6v1.6M1014.5 131.8v1.6M1014.5 142.7v1.6M1015.5 117.8v3.1M1015.5 125.6v1.6M1015.5 130.2v6.2M1016.5 117.8v1.6M1016.5 122.5v4.7M1017.5 117.8v1.6M1017.5 127.1v1.6M1017.5 131.8v1.6M1017.5 134.9v1.6M1017.5 138.0v1.6M1018.5 116.3v1.6M1018.5 119.4v1.6M1018.5 122.5v1.6M1018.5 125.6v3.1M1018.5 134.9v3.1M1019.5 122.5v4.7M1019.5 128.7v1.6M1019.5 131.8v1.6M1020.5 119.4v1.6M1020.5 128.7v1.6M1020.5 131.8v1.6M1020.5 134.9v1.6M1021.5 121.0v1.6M1021.5 127.1v6.2M1022.5 116.3v3.1M1022.5 124.0v1.6M1022.5 127.1v3.1M1022.5 136.4v1.6M1023.5 119.4v1.6M1023.5 125.6v3.1M1023.5 130.2v3.1M1024.5 121.0v3.1M1024.5 130.2v3.1M1025.5 127.1v1.6M1025.5 136.4v3.1M1026.5 116.3v1.6M1026.5 125.6v1.6M1026.5 134.9v1.6M1026.5 139.6v1.6M1027.5 116.3v1.6M1027.5 121.0v3.1M1027.5 125.6v1.6M1027.5 128.7v3.1M1027.5 141.1v1.6M1028.5 122.5v6.2M1028.5 131.8v3.1M1028.5 136.4v1.6M1029.5 116.3v1.6M1029.5 124.0v3.1M1029.5 128.7v1.6M1029.5 133.3v3.1M1030.5 119.4v1.6M1030.5 125.6v1.6M1031.5 121.0v3.1M1031.5 131.8v4.7M1031.5 139.6v1.6M1032.5 124.0v1.6M1032.5 128.7v6.2M1032.5 139.6v1.6M1033.5 119.4v3.1M1033.5 124.0v6.2M1033.5 144.2v1.6M1034.5 116.3v1.6M1034.5 121.0v1.6M1034.5 125.6v1.6M1034.5 128.7v3.1M1034.5 134.9v1.6M1035.5 119.4v3.1M1035.5 125.6v1.6M1035.5 128.7v1.6M1035.5 133.3v1.6M1035.5 136.4v3.1M1036.5 122.5v1.6M1036.5 127.1v1.6M1036.5 131.8v1.6M1037.5 117.8v3.1M1037.5 124.0v1.6M1037.5 127.1v1.6M1038.5 125.6v1.6M1038.5 133.3v1.6M1039.5 116.3v1.6M1039.5 121.0v1.6M1039.5 124.0v1.6M1039.5 127.1v1.6M1039.5 136.4v1.6M1040.5 117.8v1.6M1040.5 124.0v1.6M1040.5 127.1v1.6M1040.5 134.9v1.6M1041.5 117.8v6.2M1041.5 130.2v6.2M1042.5 117.8v4.7M1042.5 124.0v6.2M1042.5 131.8v1.6M1043.5 128.7v1.6M1043.5 136.4v1.6M1043.5 142.7v1.6M1044.5 117.8v1.6M1044.5 121.0v1.6M1044.5 130.2v3.1M1045.5 124.0v4.7M1045.5 133.3v1.6M1046.5 121.0v1.6M1046.5 127.1v1.6M1046.5 131.8v4.7M1046.5 141.1v1.6M1047.5 125.6v1.6M1047.5 128.7v1.6M1047.5 133.3v1.6M1048.5 117.8v1.6M1048.5 121.0v1.6M1048.5 130.2v1.6M1048.5 133.3v3.1M1049.5 116.3v1.6M1049.5 122.5v1.6M1049.5 125.6v1.6M1049.5 130.2v1.6M1050.5 127.1v3.1M1050.5 136.4v1.6M1051.5 121.0v1.6M1051.5 127.1v3.1M1051.5 131.8v1.6M1052.5 124.0v1.6M1052.5 128.7v3.1M1053.5 133.3v3.1M1053.5 139.6v1.6M1054.5 117.8v1.6M1054.5 122.5v7.8M1054.5 134.9v1.6M1054.5 138.0v1.6M1055.5 116.3v3.1M1055.5 121.0v3.1M1055.5 127.1v1.6M1055.5 130.2v1.6M1056.5 122.5v12.4M1057.5 119.4v6.2M1057.5 127.1v6.2M1057.5 138.0v1.6M1058.5 122.5v1.6M1058.5 125.6v4.7M1058.5 134.9v1.6M1059.5 119.4v3.1M1059.5 128.7v1.6M1059.5 131.8v4.7M1060.5 117.8v1.6M1060.5 122.5v9.3M1060.5 134.9v3.1M1061.5 125.6v4.7M1061.5 133.3v1.6M1061.5 138.0v1.6M1062.5 122.5v1.6M1062.5 133.3v1.6M1063.5 116.3v1.6M1063.5 122.5v3.1M1063.5 127.1v4.7M1063.5 133.3v1.6M1064.5 116.3v4.7M1064.5 124.0v1.6M1064.5 127.1v1.6M1064.5 130.2v1.6M1064.5 133.3v3.1M1064.5 141.1v1.6M1065.5 124.0v3.1M1065.5 131.8v4.7M1066.5 117.8v1.6M1066.5 122.5v1.6M1066.5 128.7v3.1M1066.5 133.3v1.6M1066.5 136.4v1.6M1067.5 116.3v1.6M1067.5 121.0v7.8M1067.5 130.2v1.6M1067.5 136.4v1.6M1068.5 117.8v1.6M1068.5 124.0v1.6M1068.5 128.7v1.6M1069.5 119.4v1.6M1069.5 122.5v1.6M1069.5 127.1v1.6M1069.5 130.2v1.6M1070.5 124.0v3.1M1070.5 131.8v1.6M1071.5 117.8v1.6M1071.5 121.0v3.1M1071.5 125.6v1.6M1071.5 130.2v1.6M1071.5 133.3v3.1M1072.5 116.3v1.6M1072.5 119.4v1.6M1072.5 122.5v1.6M1072.5 125.6v3.1M1072.5 131.8v1.6M1072.5 139.6v1.6M1073.5 119.4v3.1M1073.5 125.6v6.2M1073.5 133.3v1.6M1073.5 136.4v3.1M1074.5 116.3v4.7M1074.5 124.0v1.6M1074.5 127.1v1.6M1075.5 117.8v1.6M1075.5 127.1v1.6M1076.5 116.3v3.1M1076.5 124.0v1.6M1076.5 127.1v3.1M1077.5 116.3v1.6M1077.5 124.0v1.6M1077.5 127.1v1.6M1077.5 131.8v1.6M1078.5 122.5v1.6M1078.5 128.7v3.1M1078.5 133.3v1.6M1079.5 119.4v1.6M1079.5 127.1v3.1M1079.5 133.3v1.6M1079.5 138.0v1.6M1080.5 124.0v1.6M1080.5 127.1v1.6M1080.5 130.2v1.6M1081.5 116.3v1.6M1081.5 121.0v1.6M1081.5 124.0v1.6M1081.5 127.1v3.1M1081.5 134.9v1.6M1081.5 138.0v1.6M1082.5 116.3v1.6M1082.5 127.1v3.1M1082.5 134.9v1.6M1082.5 141.1v1.6M1083.5 133.3v1.6M1083.5 136.4v1.6M1084.5 128.7v1.6M1085.5 122.5v1.6M1085.5 125.6v3.1M1085.5 130.2v3.1M1085.5 136.4v1.6M1086.5 119.4v1.6M1086.5 125.6v1.6M1086.5 133.3v1.6M1086.5 144.2v1.6M1087.5 119.4v4.7M1087.5 125.6v1.6M1087.5 128.7v1.6M1088.5 116.3v1.6M1088.5 121.0v1.6M1088.5 125.6v6.2M1089.5 117.8v3.1M1089.5 125.6v1.6M1089.5 128.7v3.1M1089.5 133.3v1.6M1090.5 117.8v1.6M1090.5 125.6v3.1M1091.5 117.8v3.1M1091.5 124.0v4.7M1091.5 133.3v1.6M1091.5 138.0v1.6M1092.5 119.4v1.6M1092.5 122.5v1.6M1092.5 128.7v1.6M1092.5 131.8v1.6M1093.5 125.6v4.7M1094.5 125.6v3.1M1094.5 130.2v1.6M1095.5 117.8v1.6M1095.5 127.1v1.6M1095.5 130.2v1.6M1096.5 122.5v1.6M1096.5 128.7v1.6M1096.5 134.9v1.6M1097.5 124.0v1.6M1097.5 127.1v4.7M1097.5 134.9v1.6M1098.5 116.3v1.6M1098.5 124.0v1.6M1098.5 127.1v1.6M1098.5 134.9v1.6M1099.5 116.3v1.6M1099.5 121.0v3.1M1099.5 125.6v3.1M1099.5 133.3v1.6M1099.5 144.2v1.6M1100.5 121.0v6.2M1100.5 130.2v1.6M1100.5 133.3v3.1M1101.5 121.0v1.6M1101.5 124.0v4.7M1101.5 131.8v1.6M1101.5 136.4v1.6M1102.5 119.4v1.6M1102.5 125.6v1.6M1103.5 122.5v3.1M1103.5 134.9v3.1M1104.5 117.8v1.6M1104.5 121.0v1.6M1104.5 128.7v1.6M1104.5 133.3v1.6M1104.5 138.0v1.6M1105.5 121.0v4.7M1105.5 128.7v4.7M1105.5 134.9v4.7M1106.5 116.3v1.6M1106.5 121.0v3.1M1106.5 128.7v9.3M1107.5 119.4v1.6M1107.5 125.6v1.6M1107.5 128.7v1.6M1107.5 138.0v1.6M1108.5 116.3v1.6M1108.5 119.4v1.6M1108.5 127.1v1.6M1108.5 130.2v1.6M1109.5 116.3v3.1M1109.5 122.5v1.6M1109.5 125.6v1.6M1109.5 130.2v1.6M1110.5 116.3v4.7M1110.5 122.5v6.2M1110.5 130.2v1.6M1110.5 133.3v1.6M1110.5 136.4v1.6M1111.5 119.4v1.6M1111.5 127.1v3.1M1111.5 131.8v1.6M1111.5 134.9v1.6M1112.5 116.3v3.1M1112.5 121.0v3.1M1112.5 127.1v3.1M1112.5 136.4v3.1M1113.5 116.3v1.6M1113.5 121.0v3.1M1113.5 125.6v1.6M1113.5 130.2v1.6M1114.5 117.8v1.6M1114.5 122.5v3.1M1114.5 127.1v1.6M1114.5 130.2v1.6M1114.5 133.3v1.6M1114.5 136.4v1.6M1115.5 119.4v3.1M1115.5 124.0v1.6M1115.5 127.1v4.7M1115.5 133.3v1.6M1115.5 136.4v1.6M1116.5 119.4v1.6M1116.5 124.0v1.6M1116.5 127.1v3.1M1116.5 136.4v1.6M1117.5 116.3v3.1M1117.5 122.5v1.6M1117.5 127.1v1.6M1118.5 116.3v1.6M1118.5 124.0v1.6M1118.5 127.1v4.7M1119.5 117.8v1.6M1119.5 122.5v1.6M1119.5 125.6v1.6M1119.5 131.8v1.6M1120.5 116.3v1.6M1120.5 121.0v1.6M1120.5 125.6v6.2M1121.5 119.4v1.6M1121.5 125.6v3.1M1121.5 131.8v1.6M1121.5 134.9v1.6M1121.5 144.2v1.6M1122.5 119.4v1.6M1122.5 125.6v6.2" stroke="#0040ff" stroke-width="1.00" fill="none" opacity="0.95"/>
<path d="M669.5 116.3v4.7M669.5 125.6v1.6M669.5 128.7v1.6M669.5 133.3v1.6M670.5 117.8v1.6M671.5 116.3v3.1M671.5 121.0v3.1M672.5 116.3v1.6M672.5 119.4v3.1M672.5 125.6v4.7M673.5 119.4v4.7M673.5 139.6v1.6M674.5 116.3v1.6M674.5 121.0v3.1M675.5 119.4v3.1M675.5 124.0v3.1M676.5 116.3v4.7M676.5 122.5v1.6M676.5 127.1v1.6M677.5 116.3v4.7M677.5 127.1v1.6M678.5 116.3v1.6M678.5 119.4v3.1M678.5 124.0v1.6M678.5 128.7v1.6M679.5 116.3v3.1M679.5 121.0v4.7M680.5 116.3v1.6M680.5 121.0v1.6M680.5 125.6v3.1M681.5 116.3v3.1M681.5 128.7v1.6M682.5 117.8v1.6M682.5 121.0v1.6M682.5 124.0v3.1M682.5 141.1v1.6M683.5 119.4v6.2M683.5 127.1v1.6M683.5 139.6v1.6M684.5 116.3v6.2M684.5 130.2v1.6M685.5 117.8v4.7M685.5 124.0v1.6M686.5 116.3v6.2M686.5 124.0v1.6M687.5 117.8v9.3M688.5 119.4v4.7M689.5 117.8v4.7M689.5 128.7v1.6M690.5 116.3v1.6M690.5 121.0v1.6M691.5 119.4v3.1M691.5 124.0v1.6M692.5 116.3v4.7M692.5 122.5v3.1M693.5 116.3v4.7M693.5 122.5v1.6M693.5 127.1v1.6M694.5 116.3v1.6M694.5 119.4v3.1M694.5 124.0v1.6M694.5 127.1v3.1M695.5 116.3v4.7M695.5 124.0v3.1M696.5 116.3v3.1M696.5 121.0v1.6M696.5 127.1v1.6M697.5 116.3v4.7M698.5 116.3v1.6M698.5 121.0v1.6M698.5 124.0v1.6M699.5 116.3v3.1M699.5 121.0v3.1M699.5 125.6v1.6M700.5 116.3v1.6M700.5 119.4v1.6M701.5 117.8v4.7M701.5 128.7v1.6M702.5 116.3v1.6M702.5 119.4v6.2M703.5 116.3v3.1M704.5 117.8v1.6M704.5 131.8v1.6M705.5 117.8v4.7M705.5 124.0v1.6M705.5 127.1v1.6M706.5 116.3v4.7M706.5 122.5v3.1M706.5 127.1v1.6M706.5 136.4v1.6M707.5 117.8v6.2M707.5 125.6v3.1M708.5 117.8v4.7M708.5 127.1v3.1M709.5 116.3v9.3M709.5 128.7v1.6M710.5 116.3v6.2M710.5 124.0v3.1M711.5 116.3v4.7M711.5 122.5v1.6M712.5 116.3v3.1M712.5 121.0v3.1M712.5 125.6v1.6M712.5 134.9v1.6M713.5 116.3v1.6M713.5 119.4v6.2M714.5 117.8v4.7M715.5 116.3v3.1M715.5 121.0v1.6M716.5 116.3v9.3M717.5 116.3v3.1M718.5 117.8v4.7M719.5 116.3v1.6M719.5 122.5v3.1M720.5 116.3v3.1M720.5 125.6v1.6M720.5 136.4v1.6M721.5 116.3v1.6M721.5 119.4v7.8M722.5 116.3v3.1M722.5 122.5v3.1M723.5 116.3v3.1M723.5 122.5v3.1M724.5 116.3v6.2M724.5 124.0v1.6M725.5 117.8v1.6M725.5 121.0v1.6M725.5 124.0v1.6M725.5 128.7v1.6M726.5 117.8v4.7M727.5 119.4v1.6M727.5 124.0v1.6M728.5 116.3v9.3M728.5 127.1v1.6M729.5 117.8v7.8M730.5 116.3v6.2M730.5 130.2v1.6M731.5 116.3v7.8M732.5 116.3v4.7M732.5 124.0v1.6M733.5 116.3v4.7M733.5 122.5v1.6M733.5 125.6v1.6M733.5 128.7v3.1M734.5 116.3v3.1M735.5 117.8v3.1M735.5 122.5v3.1M736.5 116.3v1.6M736.5 121.0v3.1M737.5 116.3v3.1M737.5 121.0v1.6M738.5 116.3v9.3M738.5 131.8v1.6M739.5 116.3v1.6M739.5 119.4v3.1M739.5 124.0v1.6M740.5 116.3v3.1M740.5 121.0v6.2M741.5 116.3v1.6M741.5 119.4v1.6M741.5 124.0v1.6M741.5 141.1v1.6M742.5 116.3v3.1M742.5 121.0v1.6M742.5 125.6v1.6M742.5 128.7v1.6M743.5 116.3v3.1M743.5 121.0v4.7M744.5 116.3v1.6M744.5 119.4v6.2M745.5 116.3v1.6M745.5 119.4v3.1M745.5 124.0v1.6M746.5 116.3v7.8M747.5 117.8v1.6M747.5 121.0v1.6M747.5 124.0v1.6M747.5 136.4v1.6M748.5 116.3v3.1M748.5 121.0v4.7M749.5 116.3v4.7M749.5 125.6v3.1M750.5 116.3v1.6M750.5 121.0v1.6M750.5 124.0v1.6M750.5 136.4v1.6M751.5 116.3v1.6M751.5 119.4v1.6M751.5 122.5v4.7M752.5 116.3v7.8M752.5 125.6v1.6M753.5 116.3v3.1M753.5 121.0v3.1M754.5 119.4v3.1M754.5 124.0v1.6M755.5 116.3v1.6M755.5 121.0v1.6M755.5 127.1v1.6M756.5 116.3v7.8M757.5 116.3v4.7M757.5 122.5v1.6M757.5 127.1v3.1M758.5 116.3v7.8M758.5 128.7v1.6M759.5 116.3v4.7M759.5 122.5v4.7M760.5 119.4v1.6M760.5 122.5v3.1M761.5 116.3v1.6M761.5 122.5v1.6M762.5 117.8v1.6M762.5 121.0v3.1M763.5 116.3v3.1M763.5 121.0v3.1M763.5 128.7v1.6M764.5 116.3v4.7M764.5 127.1v3.1M765.5 116.3v3.1M765.5 121.0v3.1M766.5 117.8v4.7M767.5 116.3v4.7M767.5 122.5v3.1M768.5 116.3v1.6M768.5 119.4v1.6M768.5 122.5v1.6M768.5 128.7v1.6M768.5 136.4v1.6M769.5 116.3v1.6M769.5 119.4v4.7M770.5 117.8v4.7M770.5 124.0v1.6M770.5 127.1v1.6M771.5 116.3v3.1M771.5 122.5v1.6M771.5 128.7v1.6M772.5 116.3v3.1M772.5 124.0v1.6M772.5 127.1v1.6M773.5 116.3v7.8M773.5 128.7v1.6M774.5 116.3v3.1M774.5 121.0v3.1M774.5 128.7v1.6M775.5 116.3v6.2M776.5 117.8v1.6M776.5 121.0v1.6M776.5 125.6v1.6M777.5 116.3v9.3M777.5 127.1v1.6M778.5 116.3v3.1M779.5 116.3v3.1M779.5 121.0v1.6M779.5 124.0v1.6M780.5 116.3v3.1M780.5 124.0v3.1M781.5 116.3v3.1M781.5 124.0v1.6M781.5 128.7v1.6M782.5 116.3v4.7M782.5 122.5v3.1M783.5 116.3v1.6M783.5 121.0v1.6M783.5 128.7v1.6M784.5 116.3v4.7M785.5 116.3v3.1M785.5 121.0v3.1M785.5 128.7v1.6M786.5 121.0v4.7M786.5 127.1v1.6M786.5 131.8v1.6M787.5 117.8v4.7M788.5 116.3v1.6M788.5 121.0v4.7M789.5 116.3v3.1M790.5 119.4v6.2M791.5 117.8v4.7M791.5 124.0v1.6M792.5 116.3v3.1M792.5 121.0v4.7M792.5 127.1v1.6M793.5 117.8v1.6M793.5 121.0v3.1M794.5 116.3v6.2M795.5 116.3v1.6M795.5 119.4v3.1M795.5 128.7v1.6M796.5 116.3v1.6M796.5 121.0v4.7M796.5 128.7v1.6M797.5 116.3v7.8M797.5 128.7v1.6M798.5 116.3v3.1M798.5 121.0v1.6M798.5 127.1v1.6M799.5 116.3v3.1M799.5 121.0v3.1M799.5 125.6v3.1M800.5 116.3v1.6M800.5 121.0v3.1M800.5 125.6v1.6M800.5 128.7v1.6M801.5 117.8v6.2M802.5 116.3v1.6M802.5 121.0v1.6M803.5 117.8v1.6M803.5 122.5v4.7M804.5 117.8v1.6M804.5 122.5v1.6M804.5 130.2v1.6M805.5 116.3v6.2M805.5 124.0v1.6M806.5 116.3v9.3M806.5 134.9v1.6M807.5 117.8v1.6M807.5 121.0v3.1M807.5 134.9v1.6M808.5 116.3v6.2M808.5 134.9v1.6M809.5 116.3v3.1M809.5 121.0v1.6M809.5 124.0v1.6M810.5 116.3v3.1M810.5 121.0v4.7M811.5 116.3v6.2M811.5 130.2v1.6M812.5 116.3v3.1M812.5 121.0v4.7M812.5 127.1v1.6M813.5 119.4v6.2M814.5 116.3v1.6M814.5 121.0v1.6M814.5 124.0v1.6M815.5 116.3v4.7M815.5 131.8v1.6M816.5 116.3v3.1M816.5 122.5v1.6M817.5 116.3v1.6M817.5 119.4v6.2M818.5 117.8v1.6M818.5 121.0v3.1M818.5 128.7v3.1M819.5 116.3v6.2M820.5 116.3v4.7M821.5 116.3v6.2M821.5 124.0v3.1M822.5 116.3v1.6M822.5 121.0v1.6M822.5 131.8v1.6M823.5 117.8v3.1M823.5 122.5v1.6M824.5 116.3v1.6M824.5 122.5v1.6M825.5 116.3v6.2M825.5 124.0v1.6M826.5 119.4v1.6M826.5 124.0v1.6M827.5 116.3v1.6M827.5 119.4v1.6M827.5 122.5v1.6M828.5 116.3v3.1M828.5 121.0v4.7M829.5 116.3v3.1M829.5 121.0v1.6M830.5 116.3v4.7M830.5 124.0v1.6M830.5 127.1v1.6M830.5 133.3v1.6M831.5 122.5v1.6M832.5 116.3v3.1M832.5 122.5v1.6M833.5 117.8v1.6M833.5 121.0v3.1M833.5 125.6v1.6M834.5 116.3v6.2M834.5 128.7v1.6M835.5 116.3v6.2M835.5 124.0v1.6M835.5 138.0v1.6M836.5 116.3v6.2M836.5 124.0v1.6M836.5 127.1v1.6M837.5 116.3v1.6M837.5 119.4v3.1M837.5 124.0v1.6M838.5 116.3v3.1M838.5 122.5v3.1M838.5 128.7v1.6M839.5 116.3v1.6M839.5 122.5v1.6M839.5 131.8v1.6M840.5 122.5v1.6M841.5 116.3v10.8M842.5 116.3v4.7M842.5 122.5v3.1M843.5 117.8v3.1M843.5 127.1v1.6M843.5 133.3v1.6M844.5 117.8v3.1M844.5 122.5v3.1M844.5 131.8v1.6M845.5 116.3v7.8M846.5 116.3v1.6M846.5 121.0v1.6M846.5 124.0v3.1M847.5 117.8v4.7M848.5 116.3v4.7M848.5 122.5v3.1M849.5 119.4v3.1M849.5 124.0v1.6M850.5 116.3v1.6M850.5 122.5v3.1M851.5 116.3v1.6M851.5 121.0v1.6M851.5 124.0v1.6M852.5 116.3v6.2M852.5 128.7v1.6M853.5 116.3v1.6M853.5 119.4v7.8M854.5 116.3v3.1M854.5 121.0v3.1M854.5 136.4v1.6M855.5 117.8v6.2M855.5 130.2v1.6M856.5 116.3v6.2M857.5 116.3v4.7M857.5 127.1v1.6M858.5 116.3v7.8M859.5 116.3v4.7M859.5 122.5v4.7M860.5 119.4v3.1M861.5 119.4v1.6M862.5 116.3v1.6M862.5 119.4v1.6M862.5 122.5v3.1M862.5 141.1v1.6M863.5 116.3v1.6M863.5 119.4v1.6M863.5 122.5v4.7M864.5 116.3v4.7M864.5 124.0v1.6M864.5 128.7v1.6M864.5 131.8v1.6M865.5 116.3v4.7M865.5 122.5v1.6M866.5 116.3v3.1M866.5 121.0v4.7M867.5 116.3v4.7M867.5 122.5v3.1M867.5 128.7v1.6M868.5 117.8v3.1M868.5 122.5v1.6M869.5 116.3v1.6M869.5 122.5v1.6M870.5 116.3v7.8M871.5 119.4v4.7M871.5 128.7v1.6M872.5 116.3v1.6M872.5 119.4v1.6M872.5 144.2v1.6M873.5 116.3v1.6M873.5 119.4v3.1M873.5 124.0v1.6M874.5 116.3v3.1M874.5 121.0v1.6M874.5 124.0v3.1M874.5 128.7v1.6M875.5 116.3v3.1M875.5 121.0v3.1M875.5 127.1v1.6M876.5 116.3v1.6M876.5 119.4v3.1M876.5 124.0v3.1M876.5 131.8v1.6M876.5 134.9v1.6M877.5 116.3v4.7M877.5 127.1v1.6M878.5 116.3v6.2M878.5 125.6v1.6M879.5 116.3v3.1M879.5 121.0v1.6M879.5 124.0v1.6M879.5 127.1v1.6M880.5 117.8v1.6M880.5 121.0v1.6M881.5 116.3v6.2M881.5 125.6v1.6M882.5 116.3v6.2M882.5 128.7v1.6M883.5 116.3v1.6M883.5 119.4v1.6M883.5 122.5v1.6M884.5 116.3v3.1M884.5 121.0v1.6M884.5 124.0v1.6M885.5 116.3v4.7M885.5 124.0v1.6M885.5 127.1v1.6M886.5 116.3v7.8M886.5 125.6v1.6M887.5 117.8v4.7M887.5 124.0v1.6M888.5 116.3v4.7M888.5 127.1v1.6M889.5 116.3v4.7M889.5 124.0v1.6M889.5 128.7v1.6M890.5 116.3v1.6M890.5 121.0v1.6M891.5 116.3v1.6M891.5 119.4v6.2M892.5 116.3v6.2M892.5 124.0v3.1M893.5 117.8v1.6M893.5 121.0v1.6M893.5 124.0v1.6M893.5 127.1v1.6M894.5 119.4v1.6M894.5 122.5v4.7M895.5 116.3v1.6M895.5 119.4v1.6M895.5 122.5v1.6M896.5 116.3v3.1M896.5 121.0v3.1M897.5 119.4v1.6M897.5 124.0v1.6M898.5 116.3v6.2M899.5 116.3v3.1M899.5 121.0v3.1M900.5 116.3v6.2M900.5 124.0v1.6M900.5 134.9v1.6M901.5 116.3v4.7M901.5 122.5v1.6M902.5 117.8v3.1M902.5 122.5v1.6M902.5 134.9v1.6M903.5 116.3v6.2M903.5 124.0v1.6M904.5 116.3v3.1M904.5 122.5v1.6M904.5 128.7v1.6M905.5 117.8v1.6M905.5 121.0v3.1M906.5 116.3v1.6M906.5 121.0v1.6M907.5 116.3v3.1M907.5 128.7v1.6M908.5 116.3v4.7M908.5 122.5v3.1M908.5 128.7v1.6M909.5 121.0v1.6M910.5 116.3v1.6M910.5 121.0v4.7M911.5 116.3v1.6M911.5 119.4v6.2M912.5 116.3v9.3M913.5 116.3v3.1M913.5 121.0v1.6M913.5 125.6v1.6M914.5 116.3v1.6M914.5 122.5v1.6M915.5 116.3v3.1M915.5 121.0v4.7M916.5 117.8v3.1M916.5 122.5v1.6M917.5 119.4v9.3M918.5 116.3v3.1M918.5 122.5v3.1M918.5 133.3v1.6M919.5 116.3v6.2M920.5 116.3v4.7M921.5 116.3v1.6M921.5 119.4v6.2M922.5 116.3v7.8M922.5 128.7v3.1M923.5 116.3v1.6M923.5 119.4v1.6M924.5 116.3v3.1M924.5 121.0v3.1M925.5 116.3v3.1M925.5 122.5v3.1M925.5 128.7v1.6M926.5 116.3v1.6M926.5 121.0v3.1M927.5 117.8v3.1M927.5 125.6v3.1M928.5 122.5v3.1M929.5 117.8v1.6M929.5 122.5v3.1M929.5 127.1v1.6M930.5 117.8v4.7M931.5 117.8v6.2M932.5 117.8v3.1M932.5 122.5v1.6M932.5 136.4v1.6M933.5 116.3v9.3M934.5 117.8v4.7M934.5 124.0v1.6M934.5 127.1v1.6M934.5 144.2v1.6M935.5 117.8v3.1M935.5 125.6v1.6M936.5 116.3v4.7M936.5 124.0v1.6M937.5 116.3v4.7M937.5 122.5v4.7M938.5 116.3v4.7M938.5 124.0v4.7M939.5 117.8v1.6M939.5 121.0v3.1M939.5 133.3v1.6M940.5 116.3v9.3M940.5 127.1v1.6M941.5 116.3v9.3M941.5 131.8v1.6M942.5 116.3v4.7M942.5 122.5v3.1M942.5 127.1v1.6M943.5 116.3v3.1M943.5 122.5v1.6M944.5 116.3v4.7M944.5 122.5v6.2M944.5 136.4v1.6M945.5 117.8v1.6M945.5 121.0v3.1M946.5 116.3v3.1M946.5 128.7v1.6M947.5 116.3v4.7M947.5 122.5v3.1M948.5 116.3v3.1M948.5 121.0v1.6M948.5 127.1v3.1M949.5 116.3v4.7M949.5 122.5v1.6M949.5 127.1v1.6M950.5 116.3v1.6M950.5 119.4v1.6M950.5 124.0v1.6M950.5 134.9v1.6M951.5 116.3v4.7M951.5 122.5v3.1M951.5 127.1v1.6M952.5 119.4v4.7M952.5 136.4v1.6M953.5 116.3v1.6M953.5 119.4v1.6M953.5 124.0v1.6M954.5 117.8v3.1M954.5 122.5v3.1M955.5 119.4v6.2M955.5 128.7v1.6M956.5 121.0v4.7M957.5 116.3v10.8M958.5 116.3v3.1M958.5 121.0v1.6M959.5 117.8v1.6M959.5 122.5v3.1M959.5 134.9v1.6M960.5 117.8v3.1M960.5 122.5v4.7M961.5 116.3v3.1M961.5 125.6v1.6M962.5 116.3v1.6M962.5 122.5v1.6M963.5 117.8v1.6M963.5 124.0v1.6M963.5 134.9v1.6M964.5 116.3v4.7M964.5 124.0v1.6M964.5 141.1v1.6M965.5 117.8v1.6M965.5 121.0v4.7M966.5 116.3v4.7M967.5 117.8v1.6M967.5 122.5v1.6M967.5 136.4v1.6M968.5 121.0v4.7M969.5 116.3v1.6M969.5 122.5v3.1M969.5 128.7v1.6M970.5 116.3v6.2M970.5 127.1v1.6M970.5 134.9v1.6M971.5 116.3v1.6M971.5 121.0v3.1M971.5 125.6v1.6M972.5 116.3v3.1M972.5 121.0v4.7M973.5 116.3v6.2M973.5 124.0v3.1M973.5 131.8v1.6M974.5 117.8v6.2M975.5 116.3v1.6M975.5 121.0v3.1M975.5 128.7v1.6M976.5 116.3v6.2M976.5 124.0v3.1M976.5 144.2v1.6M977.5 116.3v1.6M977.5 119.4v6.2M978.5 116.3v1.6M978.5 122.5v3.1M978.5 136.4v1.6M979.5 116.3v1.6M979.5 119.4v3.1M979.5 124.0v1.6M980.5 116.3v7.8M980.5 125.6v1.6M981.5 116.3v3.1M981.5 122.5v3.1M982.5 116.3v1.6M983.5 116.3v1.6M983.5 119.4v4.7M983.5 128.7v1.6M984.5 116.3v9.3M984.5 128.7v1.6M985.5 116.3v3.1M985.5 122.5v1.6M985.5 136.4v1.6M986.5 116.3v4.7M987.5 116.3v7.8M988.5 116.3v1.6M988.5 119.4v1.6M988.5 122.5v1.6M989.5 116.3v7.8M990.5 116.3v1.6M990.5 121.0v1.6M990.5 124.0v1.6M991.5 119.4v1.6M991.5 124.0v1.6M991.5 128.7v1.6M992.5 121.0v1.6M992.5 124.0v1.6M993.5 116.3v9.3M993.5 127.1v3.1M994.5 116.3v1.6M994.5 121.0v1.6M994.5 124.0v1.6M995.5 116.3v4.7M995.5 122.5v1.6M995.5 127.1v1.6M996.5 116.3v3.1M996.5 127.1v3.1M997.5 116.3v3.1M997.5 121.0v1.6M998.5 116.3v1.6M998.5 122.5v3.1M999.5 116.3v3.1M999.5 121.0v3.1M1000.5 116.3v4.7M1000.5 122.5v1.6M1000.5 125.6v1.6M1001.5 116.3v6.2M1002.5 116.3v3.1M1002.5 121.0v1.6M1002.5 124.0v1.6M1003.5 117.8v3.1M1003.5 122.5v1.6M1004.5 116.3v3.1M1004.5 121.0v4.7M1004.5 128.7v1.6M1005.5 116.3v1.6M1005.5 119.4v1.6M1005.5 122.5v1.6M1005.5 127.1v1.6M1006.5 116.3v9.3M1006.5 128.7v1.6M1007.5 116.3v4.7M1007.5 122.5v1.6M1008.5 116.3v1.6M1008.5 119.4v6.2M1008.5 127.1v1.6M1008.5 133.3v1.6M1009.5 116.3v3.1M1009.5 121.0v1.6M1010.5 122.5v1.6M1011.5 116.3v1.6M1011.5 119.4v6.2M1012.5 119.4v3.1M1013.5 117.8v3.1M1013.5 122.5v3.1M1014.5 117.8v4.7M1014.5 124.0v1.6M1014.5 127.1v3.1M1015.5 116.3v1.6M1015.5 121.0v4.7M1015.5 127.1v1.6M1016.5 116.3v1.6M1016.5 119.4v3.1M1017.5 116.3v1.6M1017.5 119.4v6.2M1017.5 128.7v1.6M1018.5 117.8v1.6M1018.5 121.0v1.6M1018.5 124.0v1.6M1019.5 116.3v6.2M1020.5 116.3v3.1M1020.5 121.0v1.6M1021.5 116.3v4.7M1021.5 124.0v1.6M1022.5 119.4v4.7M1023.5 116.3v3.1M1023.5 121.0v4.7M1023.5 128.7v1.6M1024.5 116.3v4.7M1024.5 124.0v3.1M1025.5 116.3v10.8M1026.5 117.8v7.8M1027.5 117.8v1.6M1028.5 116.3v4.7M1028.5 130.2v1.6M1028.5 142.7v1.6M1029.5 117.8v6.2M1030.5 116.3v3.1M1030.5 121.0v4.7M1030.5 136.4v1.6M1031.5 116.3v4.7M1031.5 124.0v4.7M1032.5 116.3v3.1M1032.5 121.0v3.1M1032.5 125.6v3.1M1033.5 116.3v3.1M1033.5 122.5v1.6M1034.5 119.4v1.6M1034.5 122.5v1.6M1035.5 116.3v3.1M1035.5 122.5v3.1M1036.5 116.3v6.2M1036.5 124.0v1.6M1037.5 116.3v1.6M1037.5 121.0v3.1M1037.5 125.6v1.6M1038.5 116.3v6.2M1038.5 128.7v1.6M1039.5 117.8v3.1M1039.5 128.7v1.6M1040.5 116.3v1.6M1040.5 121.0v3.1M1041.5 116.3v1.6M1041.5 125.6v1.6M1042.5 116.3v1.6M1042.5 122.5v1.6M1043.5 116.3v9.3M1043.5 127.1v1.6M1044.5 116.3v1.6M1044.5 119.4v1.6M1044.5 122.5v3.1M1044.5 128.7v1.6M1045.5 116.3v7.8M1046.5 116.3v4.7M1046.5 122.5v1.6M1046.5 125.6v1.6M1046.5 128.7v1.6M1047.5 116.3v9.3M1048.5 116.3v1.6M1048.5 119.4v1.6M1048.5 122.5v3.1M1048.5 127.1v1.6M1049.5 117.8v4.7M1049.5 124.0v1.6M1049.5 128.7v1.6M1050.5 116.3v9.3M1050.5 134.9v1.6M1051.5 116.3v4.7M1051.5 122.5v1.6M1052.5 116.3v7.8M1052.5 127.1v1.6M1053.5 116.3v6.2M1053.5 124.0v1.6M1054.5 116.3v1.6M1054.5 119.4v3.1M1055.5 119.4v1.6M1055.5 125.6v1.6M1055.5 128.7v1.6M1056.5 116.3v6.2M1057.5 116.3v3.1M1058.5 116.3v6.2M1058.5 130.2v1.6M1059.5 116.3v3.1M1059.5 122.5v3.1M1059.5 127.1v1.6M1060.5 116.3v1.6M1060.5 119.4v3.1M1060.5 133.3v1.6M1061.5 116.3v7.8M1062.5 116.3v6.2M1062.5 124.0v3.1M1063.5 117.8v4.7M1064.5 121.0v3.1M1064.5 125.6v1.6M1064.5 128.7v1.6M1065.5 116.3v7.8M1065.5 127.1v3.1M1066.5 116.3v1.6M1066.5 119.4v3.1M1066.5 124.0v1.6M1066.5 127.1v1.6M1067.5 117.8v3.1M1067.5 128.7v1.6M1068.5 116.3v1.6M1068.5 119.4v4.7M1068.5 125.6v1.6M1069.5 116.3v3.1M1069.5 121.0v1.6M1069.5 124.0v3.1M1069.5 133.3v1.6M1070.5 116.3v7.8M1070.5 130.2v1.6M1071.5 116.3v1.6M1071.5 119.4v1.6M1071.5 128.7v1.6M1072.5 117.8v1.6M1072.5 121.0v1.6M1072.5 124.0v1.6M1073.5 116.3v3.1M1073.5 124.0v1.6M1074.5 121.0v3.1M1074.5 128.7v1.6M1075.5 116.3v1.6M1075.5 119.4v7.8M1076.5 119.4v4.7M1077.5 117.8v1.6M1077.5 121.0v3.1M1077.5 128.7v1.6M1077.5 136.4v1.6M1078.5 116.3v6.2M1078.5 124.0v1.6M1079.5 116.3v3.1M1079.5 121.0v6.2M1080.5 116.3v6.2M1080.5 136.4v1.6M1081.5 117.8v3.1M1081.5 122.5v1.6M1082.5 117.8v6.2M1082.5 125.6v1.6M1083.5 116.3v9.3M1083.5 127.1v1.6M1084.5 116.3v7.8M1085.5 116.3v6.2M1086.5 116.3v3.1M1086.5 121.0v4.7M1087.5 116.3v3.1M1087.5 124.0v1.6M1088.5 117.8v3.1M1088.5 122.5v1.6M1089.5 116.3v1.6M1089.5 121.0v4.7M1089.5 127.1v1.6M1090.5 116.3v1.6M1090.5 119.4v1.6M1090.5 122.5v3.1M1091.5 116.3v1.6M1091.5 122.5v1.6M1092.5 116.3v3.1M1092.5 121.0v1.6M1092.5 124.0v4.7M1093.5 116.3v3.1M1093.5 121.0v1.6M1093.5 124.0v1.6M1094.5 116.3v9.3M1094.5 128.7v1.6M1095.5 116.3v1.6M1095.5 119.4v6.2M1095.5 136.4v1.6M1096.5 116.3v6.2M1096.5 124.0v1.6M1096.5 127.1v1.6M1097.5 116.3v7.8M1097.5 131.8v1.6M1098.5 117.8v6.2M1098.5 125.6v1.6M1098.5 131.8v1.6M1099.5 117.8v1.6M1099.5 124.0v1.6M1100.5 116.3v4.7M1100.5 136.4v1.6M1101.5 116.3v4.7M1101.5 122.5v1.6M1102.5 116.3v1.6M1102.5 121.0v4.7M1102.5 127.1v1.6M1103.5 116.3v6.2M1103.5 125.6v1.6M1104.5 116.3v1.6M1104.5 119.4v1.6M1104.5 122.5v1.6M1104.5 127.1v1.6M1104.5 134.9v1.6M1105.5 116.3v4.7M1106.5 117.8v3.1M1106.5 125.6v1.6M1107.5 116.3v3.1M1107.5 122.5v1.6M1108.5 117.8v1.6M1108.5 121.0v3.1M1108.5 131.8v1.6M1109.5 119.4v1.6M1109.5 141.1v1.6M1110.5 121.0v1.6M1111.5 116.3v3.1M1111.5 121.0v3.1M1112.5 119.4v1.6M1112.5 124.0v1.6M1113.5 117.8v3.1M1113.5 127.1v1.6M1114.5 116.3v1.6M1114.5 119.4v1.6M1115.5 116.3v3.1M1115.5 122.5v1.6M1115.5 125.6v1.6M1116.5 116.3v3.1M1116.5 121.0v3.1M1117.5 119.4v3.1M1117.5 124.0v3.1M1117.5 128.7v1.6M1118.5 117.8v3.1M1118.5 122.5v1.6M1119.5 116.3v1.6M1119.5 119.4v3.1M1119.5 124.0v1.6M1119.5 128.7v1.6M1120.5 117.8v3.1M1120.5 122.5v3.1M1121.5 116.3v3.1M1121.5 121.0v4.7M1122.5 116.3v3.1M1122.5 121.0v1.6" stroke="#ff00ff" stroke-width="1.00" fill="none" opacity="1.00"/>
<line x1="668.3" y1="81.7" x2="1122.8" y2="81.7" stroke="#333" stroke-width="1.0" stroke-dasharray="6 3" />
<line x1="668.3" y1="224.0" x2="1122.8" y2="224.0" stroke="#222" stroke-width="1.0" stroke-dasharray="6 3" />
<line x1="668.3" y1="378.5" x2="1122.8" y2="378.5" stroke="#666" stroke-width="1.0" stroke-dasharray="6 3" />
<line x1="668.3" y1="447.7" x2="1122.8" y2="447.7" stroke="#777" stroke-width="1.0" stroke-dasharray="6 3" />
<line x1="668.3" y1="596.3" x2="1122.8" y2="596.3" stroke="#222" stroke-width="1.0" stroke-dasharray="6 3" />
<line x1="668.3" y1="666.0" x2="1122.8" y2="666.0" stroke="#888" stroke-width="0.9" stroke-dasharray="1.2 2" />
<path d="M673.9 79.6L675.1 79.8L676.3 79.1L677.6 79.5L678.8 79.0L680.0 78.9L681.2 79.4L682.5 78.7L683.7 78.5L684.9 78.6L686.1 78.6L687.4 78.2L688.6 78.2L689.8 77.6L691.0 77.7L692.3 77.5L693.5 77.4L694.6 77.5L695.8 77.7L697.0 78.3L698.2 78.4L699.4 78.6L700.6 78.9L701.8 78.6L703.0 79.1L704.2 79.4L705.3 79.7L706.5 79.4L707.7 79.7L708.9 79.4L710.1 80.0L711.3 79.6L712.5 80.0L713.7 80.8L714.9 79.9L716.0 81.0L717.2 80.9L718.4 80.8L719.6 81.2L720.8 81.3L722.1 82.2L723.3 82.5L724.6 83.1L725.9 83.7L727.2 84.3L728.4 85.3L729.7 85.8L730.9 86.2L732.2 85.2L733.4 85.3L734.6 85.2L735.9 84.8L737.1 85.9L738.4 84.5L739.6 85.0L740.8 84.8L742.1 85.3L743.3 84.1L744.5 84.9L745.8 84.2L747.0 85.1L748.2 85.7L749.4 86.8L750.7 87.0L751.9 88.1L753.1 88.9L754.3 90.1L755.6 89.6L756.7 90.4L757.9 89.9L759.0 89.1L760.2 89.0L761.3 88.5L762.4 88.8L763.6 88.0L764.8 87.6L766.0 87.2L767.2 86.9L768.3 84.8L769.5 82.5L770.7 81.3L771.9 78.0L773.1 75.4L774.3 74.3L775.5 74.0L776.7 73.8L777.9 73.3L779.0 73.0L780.2 72.8L781.4 72.7L782.8 71.8L784.1 71.3L785.4 71.5L786.8 70.6L788.0 69.0L789.1 68.8L790.3 67.1L791.5 65.5L792.7 64.1L793.9 63.4L795.1 65.6L796.3 68.1L797.5 70.6L798.7 69.7L799.8 68.9L801.0 67.2L802.2 65.7L803.4 65.1L804.6 63.7L805.9 63.1L807.2 62.3L808.4 61.1L809.7 60.3L811.0 59.5L812.2 58.3L813.5 58.0L814.8 57.3L816.0 55.9L817.3 54.8L818.5 53.8L819.8 52.7L821.0 51.7L822.3 50.9L823.5 49.8L824.8 48.9L826.0 47.6L827.2 48.8L828.5 49.3L829.7 49.5L831.0 49.7L832.2 51.0L833.4 50.5L834.6 49.1L835.8 48.3L837.0 47.4L838.2 46.9L839.4 45.5L840.6 45.3L841.8 44.0L842.9 43.5L844.2 44.2L845.4 45.1L846.7 45.7L847.9 46.9L849.2 48.0L850.5 48.7L851.7 49.0L853.0 49.1L854.3 49.9L855.6 50.5L856.8 50.5L858.1 50.9L859.3 51.6L860.6 52.6L861.8 53.2L863.1 53.5L864.3 54.5L865.6 54.9L866.8 55.5L868.1 56.8L869.3 57.4L870.6 57.6L871.9 57.7L873.1 57.7L874.4 57.2L875.7 57.2L876.9 57.3L878.2 56.4L879.5 56.9L880.7 57.5L881.9 57.8L883.1 57.7L884.3 58.6L885.4 58.7L886.6 59.5L887.9 59.5L889.1 59.3L890.4 58.9L891.6 58.9L892.9 59.3L894.1 58.7L895.4 59.0L896.6 58.9L897.7 58.5L898.7 59.0L899.8 58.1L900.9 58.5L902.1 57.5L903.2 57.8L904.4 59.1L905.6 59.3L906.8 59.3L908.0 59.7L909.2 59.5L910.4 60.2L911.6 60.4L912.7 61.2L913.9 62.0L915.0 62.3L916.2 62.9L917.4 63.1L918.5 63.8L919.7 64.4L920.8 64.8L922.0 65.8L923.2 65.7L924.3 66.1L925.4 64.7L926.6 64.9L927.7 63.9L928.9 64.1L930.0 63.2L931.2 62.8L932.4 62.4L933.6 61.5L934.7 60.9L935.9 60.1L937.1 60.6L938.3 59.6L939.6 59.5L941.0 59.6L942.3 60.1L943.7 58.9L945.0 58.2L946.3 56.7L948.1 58.9L949.3 58.1L950.6 58.4L951.8 58.7L953.0 58.8L954.2 58.7L955.5 57.8L956.7 58.0L957.9 57.8L959.1 57.5L960.3 57.6L961.5 58.4L962.7 58.3L963.9 58.3L965.1 58.8L966.2 58.3L967.4 58.8L968.6 58.8L970.0 59.5L971.3 60.4L972.6 61.0L974.0 61.8L975.2 62.6L976.4 63.9L977.5 64.0L978.7 65.2L979.9 65.9L981.1 66.5L982.4 67.0L983.8 66.6L985.1 67.4L986.5 66.9L987.6 67.5L988.8 68.3L990.0 69.0L991.2 69.5L992.4 70.0L993.6 70.2L994.8 70.5L996.0 71.5L997.2 71.9L998.3 72.0L999.5 73.1L1000.7 73.4L1001.9 72.9L1003.1 73.2L1004.3 72.5L1005.5 72.5L1006.7 72.7L1007.9 71.9L1009.0 71.9L1010.2 70.9L1011.4 71.0L1012.6 70.0L1013.8 69.7L1015.0 68.6L1016.2 68.9L1017.4 69.2L1018.6 68.9L1019.7 68.2L1020.9 68.9L1022.1 68.8L1023.3 68.2L1024.5 68.6L1025.7 67.7L1026.9 67.8L1028.1 68.0L1029.3 67.9L1030.6 68.7L1031.9 68.7L1033.3 69.2L1034.6 70.6L1035.8 71.6L1037.0 73.7L1038.2 74.9L1039.5 75.6L1040.8 75.6L1042.2 75.5L1043.5 75.3L1044.7 75.8L1045.9 76.2L1047.1 76.9L1048.3 77.3L1049.5 77.9L1050.7 78.1L1051.8 80.1L1053.0 80.9L1054.2 82.5L1055.4 83.8L1056.6 84.5L1057.8 85.5L1059.1 86.9L1060.3 87.0L1061.6 87.7L1062.9 88.2L1064.2 88.8L1065.4 89.0L1066.7 89.9L1067.9 89.1L1069.1 88.6L1070.3 87.3L1071.5 87.6L1072.6 86.8L1073.8 85.5L1075.0 85.6L1076.2 85.6L1077.4 85.6L1078.6 85.1L1079.8 85.3L1081.0 84.7L1082.2 84.2L1083.3 84.1L1084.5 84.3L1085.8 83.5L1087.1 83.5L1088.4 83.1L1089.6 82.6L1090.9 82.3L1092.2 81.5L1093.4 81.1L1094.6 80.5L1095.8 80.0L1097.0 79.2L1098.2 79.0L1099.4 78.4L1100.6 77.8L1101.8 77.8L1103.0 77.4L1104.1 76.7L1105.3 76.7L1106.5 76.1L1107.7 75.6L1109.0 75.4L1110.3 75.3L1111.5 76.2L1112.8 76.3L1114.1 76.6L1115.4 76.8L1116.6 77.3L1117.8 77.2L1119.0 77.9L1120.2 77.8L1121.3 77.7L1122.5 78.7" fill="none" stroke="#50f050" stroke-width="0.9" stroke-linejoin="round" />
<path d="M673.9 84.1L675.1 84.3L676.3 84.1L677.6 84.5L678.8 84.8L680.0 84.7L681.2 85.2L682.5 84.5L683.7 84.9L684.9 84.8L686.1 84.9L687.4 85.2L688.6 85.4L689.8 85.5L691.0 85.7L692.3 86.3L693.5 86.0L694.6 85.4L695.8 86.1L697.0 86.0L698.2 86.2L699.4 86.9L700.6 86.6L701.8 86.2L703.0 87.0L704.2 87.0L705.3 86.9L706.5 87.1L707.9 86.1L709.2 85.2L710.5 84.0L711.9 83.1L713.1 83.6L714.3 82.9L715.6 82.9L716.8 83.0L718.1 83.4L719.3 82.9L720.5 83.5L721.8 82.7L723.0 82.8L724.2 83.1L725.5 82.8L726.7 82.9L727.9 83.2L729.1 83.0L730.3 82.5L731.5 82.0L732.7 82.2L733.9 81.6L735.1 81.1L736.2 81.2L737.4 80.2L738.6 80.2L739.8 80.1L741.0 79.5L742.2 79.0L743.4 79.0L744.6 78.4L745.8 78.1L747.0 78.2L748.3 79.1L749.5 78.8L750.8 79.6L752.0 79.6L753.2 79.7L754.5 80.2L755.7 80.3L757.0 80.5L758.2 80.3L759.6 79.9L760.9 79.3L762.3 78.3L763.6 77.6L764.8 77.0L766.0 75.9L767.2 75.6L768.3 73.8L769.5 73.4L770.7 72.0L771.9 72.2L773.1 71.2L774.3 71.0L775.5 70.5L776.7 70.2L777.9 71.3L779.0 70.7L780.2 70.9L781.4 71.4L782.8 71.5L784.1 71.1L785.4 71.2L786.8 70.5L788.0 71.6L789.3 71.2L790.5 71.3L791.8 71.5L793.0 71.5L794.3 66.6L795.7 61.4L796.9 58.4L798.1 55.4L799.3 52.3L800.5 52.7L801.8 53.6L803.1 54.4L804.3 55.3L805.6 55.9L806.9 56.6L808.2 57.3L809.3 57.3L810.4 56.5L811.5 56.0L812.6 56.5L813.9 56.6L815.1 57.5L816.3 58.2L817.5 58.8L818.8 60.3L820.0 60.9L821.2 61.8L822.4 63.0L823.8 64.4L825.1 65.7L826.4 67.1L827.8 69.1L829.0 69.5L830.2 69.8L831.4 71.2L832.5 71.8L833.7 72.6L834.9 73.6L836.1 73.4L837.3 74.0L838.5 73.4L839.7 74.7L840.9 76.3L842.0 77.1L843.2 78.9L844.4 79.8L845.6 81.5L846.8 81.2L848.0 81.9L849.2 81.6L850.4 82.3L851.6 82.8L852.7 83.2L854.0 83.6L855.3 83.5L856.6 82.5L857.8 82.6L859.1 83.2L860.4 82.9L861.7 82.3L862.9 83.2L864.2 83.0L865.5 83.4L866.8 83.7L868.0 84.3L869.3 85.4L870.6 85.2L871.9 85.3L873.1 86.3L874.4 85.7L875.7 86.1L876.9 86.3L878.2 86.8L879.5 86.9L880.8 88.4L882.2 88.8L883.3 87.2L884.4 85.1L885.5 82.8L886.6 80.9L888.0 80.7L889.3 79.7L890.6 80.0L892.0 79.6L893.1 80.0L894.3 80.3L895.5 80.9L896.6 81.0L897.7 82.0L898.8 81.9L900.0 83.3L901.1 83.3L902.2 84.4L903.3 84.7L904.4 85.3L905.8 86.1L907.1 87.6L908.4 87.7L909.8 88.6L911.1 88.5L912.5 88.0L913.8 87.5L915.1 86.7L916.4 87.9L917.6 89.4L918.9 89.9L920.1 91.5L921.4 92.6L922.6 92.0L923.7 91.1L924.9 91.5L926.1 90.5L927.3 90.1L928.5 89.4L929.8 85.0L931.2 81.1L932.4 80.8L933.6 80.1L934.7 80.0L935.9 79.9L937.1 79.3L938.3 78.8L939.6 78.6L941.0 78.1L942.3 77.6L943.7 76.6L945.0 76.9L946.3 78.3L947.7 78.6L949.0 79.1L950.3 79.4L951.5 79.1L952.8 79.1L954.0 79.9L955.3 78.9L956.5 79.7L957.7 79.8L959.0 80.0L960.2 79.6L961.5 79.7L962.7 79.5L963.9 80.0L965.1 79.5L966.2 80.1L967.4 80.5L968.6 80.6L969.8 80.7L971.0 81.3L972.2 80.7L973.5 81.9L974.9 82.5L976.2 83.3L977.5 84.1L978.7 83.4L979.9 81.2L981.1 80.6L982.3 79.3L983.5 77.5L984.7 76.1L985.9 76.1L987.2 76.4L988.5 77.5L989.8 76.4L991.0 77.4L992.3 77.2L993.6 78.2L994.9 77.8L996.1 77.4L997.4 77.7L998.7 78.0L1000.0 78.1L1001.2 77.9L1002.5 78.1L1003.8 77.5L1005.1 77.3L1006.3 76.6L1007.6 76.1L1008.9 75.3L1010.1 75.1L1011.4 74.2L1012.6 73.9L1013.8 73.9L1015.0 73.8L1016.2 73.6L1017.4 73.0L1018.6 73.8L1019.7 73.8L1020.9 74.2L1022.1 73.9L1023.3 74.5L1024.5 74.5L1025.7 74.7L1026.9 75.4L1028.1 74.9L1029.3 75.5L1030.6 76.0L1031.9 77.9L1033.3 78.9L1034.6 79.9L1035.8 82.8L1037.0 85.1L1038.2 88.2L1039.5 87.0L1040.8 84.5L1042.2 84.1L1043.5 82.4L1044.7 81.4L1045.9 80.7L1047.1 80.2L1048.3 79.8L1049.5 79.5L1050.7 79.9L1051.8 78.3L1053.0 78.4L1054.2 78.0L1055.4 76.8L1056.6 76.4L1057.8 76.2L1059.0 75.2L1060.2 75.3L1061.4 75.0L1062.5 74.0L1063.7 73.4L1064.9 73.4L1066.1 73.0L1067.3 72.3L1068.5 72.1L1069.7 71.8L1070.9 71.5L1072.0 71.3L1073.2 70.5L1074.4 69.9L1075.6 69.4L1076.8 70.9L1078.0 70.8L1079.2 71.3L1080.4 71.9L1081.6 71.2L1082.7 71.2L1083.9 70.2L1085.1 69.8L1086.3 69.5L1087.5 69.6L1088.7 69.2L1089.9 68.9L1091.1 69.2L1092.3 68.6L1093.4 67.6L1094.6 68.6L1095.8 69.3L1097.0 69.5L1098.2 71.0L1099.4 71.1L1100.6 71.9L1101.8 71.1L1103.0 70.8L1104.1 71.2L1105.3 70.7L1106.5 70.4L1107.7 70.4L1109.0 71.2L1110.3 71.9L1111.5 72.5L1112.8 73.4L1114.1 74.8L1115.4 75.0L1116.6 75.2L1117.8 76.4L1119.0 76.1L1120.2 76.3L1121.3 76.8L1122.5 77.0" fill="none" stroke="#ff5050" stroke-width="0.9" stroke-linejoin="round" />
<path d="M673.9 109.6L675.1 109.6L676.3 110.1L677.6 109.2L678.8 109.9L680.0 109.3L681.2 110.3L682.5 110.0L683.7 110.3L684.9 109.8L686.1 110.0L687.4 109.8L688.6 109.7L689.8 110.0L691.0 109.6L692.3 109.8L693.5 110.2L694.8 110.2L696.1 110.1L697.4 111.0L698.6 110.5L699.9 110.4L701.2 110.8L702.5 110.8L703.7 111.1L705.0 111.4L706.3 112.4L707.5 112.1L708.8 112.4L710.1 112.9L711.3 113.3L712.5 112.6L713.7 112.5L714.9 113.4L716.0 112.3L717.2 112.6L718.4 112.9L719.6 113.4L720.8 112.5L722.0 112.1L723.2 113.0L724.4 112.7L725.5 112.7L726.7 113.0L727.9 112.9L729.1 112.9L730.3 112.6L731.5 113.0L732.7 113.0L733.9 112.5L735.1 112.2L736.2 112.5L737.4 112.4L738.6 111.8L739.8 111.9L741.0 112.3L742.2 111.9L743.4 111.7L744.6 111.8L745.8 111.7L746.9 111.5L748.1 110.8L749.3 111.8L750.5 111.1L751.7 110.7L752.9 111.1L754.1 110.7L755.3 110.5L756.5 110.6L757.7 110.8L758.9 110.1L760.1 110.3L761.4 110.3L762.6 109.2L763.8 109.1L765.0 109.4L766.3 108.4L767.4 109.4L768.6 110.5L769.7 110.9L770.9 111.4L772.0 111.2L773.1 113.0L774.3 113.0L775.5 113.2L776.7 113.3L777.9 112.7L779.0 112.9L780.2 113.1L781.4 114.2L782.8 113.0L784.1 112.9L785.4 112.5L786.8 112.4L788.0 110.1L789.3 107.7L790.5 104.9L791.8 102.0L793.0 100.6L794.3 101.2L795.7 101.9L797.0 100.3L798.4 98.9L799.6 100.8L800.9 101.9L802.1 103.7L803.4 105.4L804.6 107.5L805.8 108.0L807.0 107.5L808.2 107.5L809.4 107.2L810.5 107.2L811.7 106.9L812.9 107.1L814.1 106.6L815.3 107.1L816.5 107.3L817.7 108.1L818.9 108.2L820.2 107.7L821.5 107.2L822.9 106.0L824.2 105.8L825.5 106.5L826.7 106.5L828.0 107.3L829.2 107.4L830.5 107.5L831.6 107.7L832.7 107.2L833.8 107.1L834.9 106.7L836.1 107.3L837.3 107.0L838.5 108.6L839.7 107.3L840.9 105.7L842.0 104.5L843.2 103.7L844.4 102.8L845.6 101.7L846.9 101.0L848.1 99.6L849.4 99.2L850.6 99.2L851.9 98.2L853.1 97.0L854.4 96.5L855.6 95.7L856.8 95.1L858.1 95.1L859.2 94.0L860.4 93.7L861.5 92.7L862.7 91.5L863.8 91.1L865.0 91.3L866.1 89.7L867.3 89.7L868.4 90.4L869.6 90.2L870.7 90.2L871.9 90.8L873.0 89.9L874.1 90.6L875.4 90.4L876.6 90.6L877.9 91.1L879.1 91.9L880.4 91.8L881.5 89.8L882.6 88.6L883.7 87.9L884.8 86.3L886.0 85.2L887.2 85.8L888.4 84.4L889.6 83.7L890.7 83.5L891.9 83.4L893.1 83.1L894.3 82.4L895.4 81.5L896.6 81.0L897.7 80.9L898.8 81.6L900.0 81.6L901.1 82.1L902.2 81.9L903.3 82.3L904.4 82.4L905.6 81.7L906.7 81.1L907.9 80.5L909.0 79.8L910.2 79.7L911.3 78.9L912.5 77.8L913.7 79.0L915.0 79.5L916.2 80.4L917.4 80.5L918.7 81.1L919.9 80.6L921.2 80.5L922.4 80.3L923.7 79.8L924.9 79.3L926.2 79.2L927.4 78.7L928.7 78.4L929.9 77.7L931.2 77.7L932.4 77.2L933.7 77.1L934.9 77.3L936.2 77.8L937.4 77.3L938.7 76.8L939.9 76.6L941.2 76.9L942.4 76.8L943.7 76.7L945.0 74.3L946.3 72.5L947.7 70.4L949.0 68.4L950.3 67.1L951.5 66.1L952.8 64.4L954.0 63.5L955.3 62.8L956.5 61.2L957.7 60.5L959.0 58.8L960.2 57.9L961.5 57.0L962.7 56.5L963.9 56.5L965.1 57.4L966.2 56.4L967.4 56.3L968.6 56.3L969.8 56.4L971.0 56.3L972.2 56.6L973.4 56.6L974.6 56.3L975.8 56.3L976.9 56.1L978.1 56.1L979.3 56.4L980.5 56.9L981.7 56.8L982.9 57.1L984.1 56.7L985.3 55.9L986.5 56.1L987.7 55.2L989.0 55.0L990.2 54.9L991.5 55.2L992.7 54.7L993.9 54.3L995.2 54.5L996.4 54.6L997.7 54.0L998.9 53.8L1000.2 55.0L1001.5 55.8L1002.8 56.6L1004.0 56.8L1005.3 57.9L1006.6 58.7L1007.9 58.8L1009.0 59.2L1010.2 58.4L1011.4 57.7L1012.6 57.9L1013.8 56.7L1015.0 55.8L1016.2 55.4L1017.4 55.0L1018.6 54.4L1019.7 53.6L1020.9 52.7L1022.1 52.2L1023.4 52.3L1024.6 52.4L1025.9 52.8L1027.1 52.8L1028.4 53.2L1029.6 53.1L1030.9 53.2L1032.1 53.6L1033.4 53.7L1034.6 54.3L1035.8 54.0L1037.0 54.6L1038.2 54.9L1039.4 57.1L1040.5 60.3L1041.7 62.7L1043.0 62.2L1044.3 63.1L1045.6 63.4L1046.8 63.0L1048.1 63.9L1049.4 63.6L1050.7 63.3L1051.9 64.1L1053.1 64.1L1054.4 64.1L1055.6 64.2L1056.9 65.2L1058.1 65.2L1059.4 65.9L1060.6 66.1L1061.9 66.1L1063.1 66.4L1064.4 66.4L1065.7 65.6L1067.0 64.5L1068.2 63.5L1069.5 62.5L1070.8 61.9L1072.0 61.8L1073.3 61.5L1074.6 61.3L1075.9 61.1L1077.1 61.6L1078.4 61.3L1079.7 61.7L1081.0 61.9L1082.2 61.4L1083.3 60.5L1084.5 59.7L1085.7 59.2L1086.9 59.0L1088.1 57.9L1089.3 57.0L1090.5 57.4L1091.7 56.6L1092.9 57.2L1094.0 55.5L1095.2 55.2L1096.4 54.7L1097.6 54.5L1098.8 53.8L1100.1 54.0L1101.5 54.3L1102.8 55.3L1104.1 55.7L1105.4 55.4L1106.7 55.9L1108.0 55.1L1109.2 54.9L1110.5 54.1L1111.8 54.0L1113.1 53.5L1114.2 54.0L1115.4 54.7L1116.6 55.2L1117.8 55.6L1119.0 56.0L1120.2 56.0L1121.3 56.7L1122.5 57.5" fill="none" stroke="#4a4aff" stroke-width="0.9" stroke-linejoin="round" />
<path d="M668.6 224.8L669.4 226.3L670.2 224.0L670.9 227.6L671.7 218.5L672.5 223.3L673.3 222.6L674.1 223.1L674.8 223.8L675.6 224.5L676.3 230.1L677.1 221.3L677.8 222.5L678.5 223.9L679.3 226.6L680.0 227.9L680.8 220.8L681.5 225.0L682.3 224.3L683.0 224.8L683.7 224.5L684.5 222.4L685.2 224.3L686.0 219.8L686.7 226.4L687.5 226.4L688.2 229.2L688.9 221.9L689.7 222.0L690.4 225.2L691.2 225.6L691.9 224.7L692.7 221.6L693.4 224.7L694.1 225.2L694.9 228.1L695.6 225.2L696.4 226.0L697.1 222.6L697.9 227.5L698.6 228.9L699.4 226.5L700.1 223.0L700.8 221.0L701.6 218.1L702.3 228.9L703.1 226.8L703.8 222.6L704.6 225.7L705.3 223.5L706.0 225.0L706.8 221.6L707.5 224.5L708.3 226.7L709.0 226.7L709.8 225.6L710.5 224.5L711.2 221.6L712.0 214.3L712.7 224.0L713.5 227.2L714.2 220.8L715.0 221.7L715.7 226.4L716.4 222.8L717.2 223.8L717.9 218.6L718.7 219.1L719.4 221.9L720.2 221.1L720.9 219.7L721.6 228.8L722.4 227.6L723.1 225.9L723.9 228.6L724.6 229.3L725.4 223.1L726.1 224.8L726.8 226.2L727.6 226.9L728.3 224.7L729.1 225.3L729.8 227.3L730.6 221.1L731.3 229.7L732.0 227.4L732.8 225.7L733.5 229.9L734.3 224.2L735.0 227.4L735.8 222.7L736.5 226.0L737.2 223.6L738.0 224.3L738.7 224.7L739.5 230.0L740.2 230.7L741.0 228.2L741.7 223.0L742.4 233.9L743.2 230.8L743.9 228.7L744.7 226.2L745.4 226.3L746.2 224.2L746.9 226.4L747.6 229.3L748.4 227.4L749.1 228.2L749.9 222.7L750.6 224.1L751.4 228.3L752.1 228.9L752.8 227.8L753.6 229.7L754.3 223.3L755.1 223.6L755.8 221.6L756.6 226.2L757.3 231.7L758.0 228.9L758.8 210.9L759.5 224.9L760.3 227.8L761.0 224.7L761.8 225.3L762.5 225.4L763.2 222.6L764.0 225.0L764.7 223.8L765.5 224.7L766.2 223.7L767.0 225.5L767.7 230.7L768.4 226.8L769.2 229.1L769.9 228.5L770.7 224.7L771.4 225.5L772.2 227.5L772.9 232.2L773.6 232.1L774.4 235.3L775.1 224.4L775.9 229.5L776.6 227.0L777.4 229.4L778.1 226.3L778.8 220.9L779.6 227.8L780.3 227.5L781.1 221.7L781.8 227.4L782.6 229.4L783.3 229.2L784.1 223.4L784.8 232.2L785.5 229.7L786.3 229.8L787.0 226.1L787.8 232.5L788.5 228.5L789.3 233.0L790.0 230.7L790.7 232.4L791.5 234.0L792.2 230.4L793.0 225.9L793.7 221.3L794.5 219.5L795.2 214.1L795.8 210.4L796.4 215.0L797.2 216.7L798.0 223.5L798.8 226.8L799.5 230.0L800.3 230.4L801.0 228.4L801.8 228.2L802.5 231.9L803.3 233.4L804.0 228.2L804.8 227.2L805.6 223.1L806.3 227.4L807.1 234.1L807.8 222.8L808.6 226.0L809.3 230.9L810.1 227.0L810.8 226.6L811.5 229.0L812.3 226.4L813.0 228.1L813.8 223.1L814.5 229.5L815.3 228.4L816.0 227.9L816.7 221.2L817.5 219.1L818.2 228.3L819.0 227.1L819.7 228.0L820.5 229.3L821.2 224.9L821.9 223.5L822.7 228.6L823.4 225.7L824.2 225.3L824.9 224.9L825.7 227.1L826.4 231.7L827.1 228.1L827.9 226.7L828.6 222.9L829.4 226.9L830.1 227.2L830.9 219.1L831.6 223.0L832.3 226.7L833.1 222.5L833.8 223.9L834.6 230.8L835.3 224.4L836.0 230.0L836.7 231.0L837.5 225.3L838.2 230.0L838.9 225.0L839.6 233.1L840.3 225.9L841.0 229.8L841.7 230.2L842.4 230.8L843.2 229.4L844.0 226.9L844.7 230.7L845.5 228.4L846.3 233.2L847.0 230.1L847.8 229.9L848.6 232.7L849.3 237.9L850.1 227.6L850.9 224.3L851.6 229.9L852.4 226.5L853.1 225.1L853.9 228.5L854.6 223.8L855.4 227.6L856.1 230.5L856.9 227.3L857.6 223.9L858.3 225.1L859.1 229.3L859.8 230.9L860.6 227.1L861.3 227.8L862.1 223.4L862.8 223.5L863.6 225.8L864.3 226.8L865.0 228.2L865.8 231.0L866.5 227.3L867.3 230.7L868.0 222.9L868.8 225.0L869.5 229.4L870.2 227.4L871.0 220.1L871.7 231.3L872.5 231.7L873.2 225.9L874.0 230.1L874.8 229.2L875.5 229.5L876.3 227.5L877.0 229.1L877.8 228.3L878.5 234.1L879.3 233.2L880.0 234.2L880.8 229.3L881.5 232.1L882.2 227.4L882.9 217.0L883.6 220.1L884.4 210.0L885.2 217.6L886.1 228.2L886.9 230.1L887.6 229.5L888.3 232.6L889.0 229.0L889.8 227.6L890.5 226.3L891.2 225.6L891.9 227.0L892.7 224.1L893.4 223.2L894.1 224.5L894.8 224.7L895.6 232.1L896.3 225.3L897.0 223.2L897.8 228.7L898.6 225.9L899.4 222.1L900.1 232.1L900.9 225.8L901.7 225.8L902.5 224.0L903.3 224.5L904.0 231.1L904.8 224.3L905.6 226.8L906.3 225.2L907.0 225.2L907.8 230.8L908.5 226.9L909.2 231.0L910.0 226.3L910.7 232.3L911.4 233.9L912.2 234.0L912.9 231.8L913.6 230.3L914.4 235.2L915.1 235.5L915.8 236.3L916.6 234.5L917.3 233.8L918.1 229.5L918.8 235.5L919.6 231.3L920.4 229.2L921.1 234.7L921.9 230.4L922.7 233.3L923.4 228.2L924.2 225.7L925.0 229.8L925.8 222.3L926.6 226.0L927.3 224.3L928.1 225.0L928.9 226.4L929.8 213.8L930.5 215.4L931.2 225.4L932.0 228.6L932.7 227.9L933.5 227.0L934.2 223.3L935.0 228.4L935.8 222.1L936.5 222.9L937.3 231.6L938.0 230.3L938.8 230.1L939.5 231.5L940.3 228.8L941.0 228.4L941.8 226.9L942.6 226.8L943.3 232.5L944.1 229.3L944.7 233.2L945.4 239.0L946.1 246.8L946.7 253.3L947.4 256.9L948.2 254.4L948.9 251.6L949.6 254.6L950.3 255.5L951.0 252.1L951.6 247.4L952.3 245.6L953.0 242.6L953.7 236.4L954.5 237.7L955.3 235.5L956.0 232.3L956.8 234.6L957.6 234.2L958.3 237.4L959.1 234.7L959.9 233.4L960.6 234.3L961.4 231.8L962.1 234.5L962.9 240.2L963.7 236.9L964.4 237.1L965.2 232.1L966.0 235.5L966.7 241.3L967.5 236.3L968.3 234.1L969.0 239.9L969.8 235.9L970.6 236.1L971.3 237.9L972.1 240.7L972.8 243.2L973.6 238.7L974.4 235.9L975.1 236.5L975.9 236.4L976.7 238.5L977.4 232.7L978.2 228.4L979.0 230.6L979.7 235.7L980.5 235.4L981.3 238.9L982.0 243.4L982.8 243.2L983.5 244.1L984.3 241.2L985.1 247.2L985.8 241.6L986.6 243.8L987.4 243.8L988.1 233.4L988.9 240.9L989.7 236.2L990.4 236.5L991.1 232.5L991.9 233.9L992.6 228.0L993.3 230.7L994.0 231.3L994.7 228.7L995.4 229.0L996.1 230.3L996.8 229.8L997.6 231.0L998.3 231.6L999.1 225.7L999.8 226.5L1000.6 231.5L1001.3 228.9L1002.1 227.4L1002.8 230.0L1003.6 226.5L1004.3 229.5L1005.1 226.5L1005.8 230.3L1006.6 227.9L1007.3 228.8L1008.1 226.5L1008.8 230.3L1009.6 229.5L1010.3 231.1L1011.1 227.3L1011.8 227.3L1012.5 226.7L1013.2 224.0L1013.8 221.3L1014.5 213.5L1015.2 217.4L1015.8 218.1L1016.5 228.0L1017.2 232.6L1017.9 229.2L1018.6 229.0L1019.4 231.8L1020.1 232.1L1020.8 233.2L1021.6 228.9L1022.3 229.7L1023.0 233.6L1023.8 230.8L1024.5 230.8L1025.2 239.4L1026.0 232.7L1026.7 230.0L1027.5 230.3L1028.2 233.8L1028.9 234.9L1029.7 232.2L1030.4 230.7L1031.2 235.2L1031.9 237.2L1032.7 235.4L1033.5 242.6L1034.2 244.9L1035.0 247.5L1035.7 243.2L1036.4 243.3L1037.1 238.6L1037.9 230.4L1038.6 231.1L1039.3 229.9L1040.1 226.9L1040.8 226.3L1041.5 231.3L1042.3 226.8L1043.0 226.2L1043.8 229.9L1044.5 230.8L1045.3 225.0L1046.0 223.9L1046.7 226.4L1047.5 228.4L1048.2 228.1L1049.0 228.8L1049.7 229.0L1050.5 233.8L1051.2 232.7L1051.9 226.1L1052.7 229.5L1053.4 229.6L1054.2 227.0L1054.9 230.2L1055.7 229.8L1056.4 232.3L1057.1 229.1L1057.9 226.2L1058.6 225.2L1059.4 226.3L1060.1 227.7L1060.9 227.8L1061.6 227.9L1062.3 226.0L1063.1 222.5L1063.8 226.6L1064.6 226.4L1065.3 226.1L1066.1 230.2L1066.8 228.1L1067.5 225.5L1068.3 228.3L1069.0 229.4L1069.8 227.7L1070.5 229.7L1071.3 228.5L1072.0 229.4L1072.7 231.3L1073.5 222.9L1074.2 228.2L1075.0 229.3L1075.7 223.9L1076.5 227.1L1077.2 228.6L1077.9 228.4L1078.7 222.8L1079.4 220.8L1080.2 229.2L1080.9 223.7L1081.7 226.0L1082.4 225.4L1083.1 230.9L1083.9 237.7L1084.6 228.9L1085.4 231.9L1086.1 231.7L1086.9 230.5L1087.6 229.8L1088.3 232.4L1089.1 230.9L1089.8 229.9L1090.6 229.9L1091.3 226.2L1092.1 230.1L1092.8 231.5L1093.6 229.2L1094.3 233.7L1095.0 230.4L1095.8 231.1L1096.5 228.6L1097.3 235.5L1098.0 230.8L1098.8 229.6L1099.5 233.5L1100.2 228.9L1101.0 230.7L1101.7 224.9L1102.5 234.4L1103.2 229.5L1104.0 229.0L1104.8 231.9L1105.5 228.7L1106.3 235.2L1107.0 233.5L1107.8 231.0L1108.5 225.2L1109.3 231.2L1110.1 229.0L1110.8 232.9L1111.6 226.9L1112.3 228.2L1113.1 232.0L1113.8 230.9L1114.6 233.5L1115.3 227.1L1116.1 227.6L1116.9 227.8L1117.6 228.4L1118.4 226.9L1119.1 229.6L1119.9 229.2L1120.6 227.7L1121.4 226.1L1122.2 228.6L1122.9 227.2" fill="none" stroke="#10f010" stroke-width="1.0" stroke-linejoin="round" />
<path d="M668.6 216.9L669.3 211.4L670.1 212.6L670.9 213.4L671.6 213.6L672.4 209.8L673.1 204.6L673.9 206.2L674.7 210.7L675.4 209.8L676.2 209.9L676.9 212.8L677.7 216.2L678.4 208.0L679.2 208.6L680.0 205.4L680.7 207.6L681.5 215.6L682.2 213.9L683.0 214.8L683.7 220.0L684.5 210.8L685.2 205.2L686.0 209.4L686.7 212.2L687.5 208.1L688.2 208.2L688.9 214.3L689.7 207.7L690.4 205.8L691.2 207.4L691.9 212.8L692.7 214.0L693.4 208.6L694.1 211.7L694.9 208.6L695.6 208.4L696.4 217.5L697.1 203.8L697.9 208.7L698.6 209.8L699.4 209.1L700.1 213.8L700.8 208.4L701.6 205.6L702.3 210.7L703.0 206.7L703.7 214.5L704.4 216.0L705.1 209.2L705.9 220.9L706.6 218.3L707.3 221.5L708.0 224.8L708.7 230.1L709.4 226.7L710.1 228.0L710.9 233.3L711.6 233.6L712.3 238.7L713.0 226.7L713.7 227.7L714.5 225.7L715.3 223.8L716.1 222.4L716.8 224.7L717.6 219.3L718.4 216.3L719.2 220.2L719.9 221.8L720.7 224.6L721.4 217.4L722.2 220.0L723.0 219.4L723.7 221.2L724.5 220.9L725.3 222.9L726.0 219.4L726.8 217.7L727.6 236.8L728.3 218.2L729.0 224.3L729.8 223.2L730.5 215.6L731.2 215.0L731.9 215.9L732.6 217.2L733.3 210.1L734.0 214.9L734.7 211.1L735.5 210.6L736.2 207.1L737.0 211.6L737.8 212.3L738.5 202.1L739.3 210.9L740.0 215.4L740.8 208.9L741.6 221.5L742.3 214.4L743.1 214.2L743.9 212.4L744.6 205.6L745.4 214.2L746.2 210.5L746.9 210.5L747.7 219.8L748.5 212.1L749.2 212.2L750.0 211.2L750.7 221.3L751.5 220.7L752.3 212.6L753.0 214.6L753.8 214.7L754.6 216.3L755.3 213.7L756.1 209.4L756.9 215.5L757.6 211.0L758.4 209.2L759.1 211.3L759.9 210.6L760.7 213.0L761.4 211.7L762.2 209.2L763.0 209.2L763.7 210.3L764.5 214.3L765.3 207.6L766.0 215.0L766.8 211.3L767.6 204.7L768.3 210.4L769.0 209.0L769.8 208.7L770.5 199.0L771.3 204.9L772.0 205.6L772.9 194.7L773.8 190.3L774.4 196.3L775.0 213.6L775.8 214.9L776.5 209.4L777.3 213.3L778.0 216.2L778.7 213.1L779.5 211.3L780.2 213.5L781.0 211.7L781.7 220.8L782.4 213.4L783.2 214.4L783.9 215.6L784.6 214.6L785.4 216.0L786.1 212.0L786.9 212.3L787.6 212.2L788.4 208.5L789.1 207.2L789.8 209.6L790.6 213.9L791.3 211.3L792.1 212.4L792.8 215.8L793.6 216.0L794.3 210.4L795.0 226.3L795.7 236.5L796.4 234.0L797.2 227.7L797.9 218.5L798.8 208.9L799.7 204.4L800.4 208.1L801.1 214.4L801.9 206.0L802.6 213.0L803.4 213.6L804.1 208.4L804.9 208.9L805.6 211.0L806.3 208.7L807.1 213.7L807.8 215.5L808.6 211.1L809.3 214.6L810.1 212.1L810.8 220.7L811.5 216.2L812.3 209.4L813.0 215.4L813.8 214.5L814.5 221.1L815.3 213.3L816.0 220.3L816.7 219.0L817.5 217.6L818.2 214.5L819.0 216.4L819.8 227.3L820.5 211.9L821.3 216.9L822.1 211.2L822.8 217.2L823.6 215.5L824.4 216.0L825.1 213.4L825.9 215.4L826.7 218.2L827.4 213.4L828.2 212.5L828.9 209.1L829.6 217.2L830.3 216.7L831.0 216.5L831.8 210.9L832.5 218.7L833.2 212.9L833.9 217.4L834.6 214.5L835.3 215.9L836.0 215.3L836.7 210.8L837.5 209.4L838.2 209.1L838.9 214.7L839.6 208.0L840.3 203.0L841.0 206.4L841.7 202.4L842.4 203.8L843.2 205.2L844.0 206.1L844.7 201.6L845.5 204.7L846.3 202.2L847.0 204.1L847.8 206.9L848.6 207.8L849.3 207.4L850.1 210.3L850.9 211.1L851.6 211.2L852.4 208.6L853.1 212.9L853.9 210.0L854.6 216.2L855.4 210.4L856.1 214.3L856.9 211.1L857.6 218.2L858.3 217.5L859.1 215.0L859.8 207.5L860.6 215.8L861.3 199.5L862.1 213.6L862.8 211.7L863.6 213.9L864.3 209.1L865.0 214.0L865.8 211.2L866.5 217.2L867.3 220.0L868.0 211.7L868.8 204.1L869.5 211.9L870.2 211.6L871.0 217.1L871.7 219.5L872.5 211.4L873.2 206.9L874.0 213.2L874.7 214.7L875.4 200.2L876.2 213.4L876.9 211.9L877.7 211.2L878.4 216.8L879.2 215.1L879.9 216.9L880.6 215.7L881.4 215.2L882.1 214.4L882.9 210.0L883.6 215.3L884.4 215.4L885.1 211.6L885.9 220.9L886.6 213.7L887.3 207.0L888.1 215.6L888.8 218.3L889.6 214.7L890.3 218.8L891.1 207.9L891.8 216.1L892.6 214.5L893.3 217.4L894.0 213.0L894.8 216.4L895.5 210.4L896.3 210.3L897.0 216.4L897.7 216.5L898.5 212.3L899.2 213.5L900.0 214.6L900.8 204.2L901.5 207.7L902.3 213.5L903.0 209.8L903.8 210.9L904.6 216.5L905.3 213.9L906.1 220.1L906.9 212.8L907.6 207.0L908.4 210.7L909.2 217.3L909.9 210.2L910.7 216.9L911.5 215.9L912.2 211.2L913.0 207.5L913.7 218.6L914.5 212.1L915.2 209.5L916.0 208.5L916.7 216.0L917.5 213.4L918.2 215.6L918.9 213.9L919.7 212.2L920.4 215.3L921.2 208.8L921.9 215.0L922.7 211.8L923.4 211.7L924.1 217.2L924.9 214.8L925.6 214.2L926.4 212.1L927.1 215.9L927.9 215.0L928.6 216.8L929.4 214.7L930.1 214.5L930.8 219.8L931.6 211.7L932.3 211.7L933.0 213.6L933.8 217.4L934.5 219.4L935.3 213.5L936.0 221.2L936.7 217.5L937.5 212.4L938.2 219.7L938.9 218.4L939.7 217.5L940.4 211.2L941.1 216.5L941.9 208.6L942.6 215.5L943.3 209.7L944.1 215.5L944.7 217.9L945.4 223.4L946.1 244.1L946.7 237.8L947.4 232.6L948.1 232.7L948.7 230.3L949.4 220.1L950.1 225.1L950.7 213.9L951.4 216.2L952.1 210.2L952.8 212.2L953.4 217.9L954.1 218.0L954.8 219.1L955.5 221.3L956.3 215.6L957.1 214.3L957.8 211.7L958.6 210.1L959.3 205.7L960.1 207.9L960.8 205.5L961.5 207.0L962.2 210.8L963.0 208.9L963.7 197.5L964.3 213.7L965.0 210.3L965.7 217.4L966.4 224.6L967.1 227.5L967.8 224.9L968.5 224.2L969.3 233.5L970.0 233.0L970.7 229.3L971.5 224.8L972.2 228.8L972.9 231.0L973.6 230.1L974.4 226.0L975.1 237.2L975.9 231.9L976.7 214.7L977.4 218.8L978.2 214.8L979.0 217.8L979.7 217.4L980.5 216.9L981.2 216.8L982.0 220.9L982.7 223.8L983.4 227.4L984.2 222.1L984.9 231.7L985.7 229.6L986.5 234.2L987.2 230.2L988.0 237.9L988.8 231.4L989.5 236.0L990.3 223.2L991.0 229.0L991.8 225.2L992.5 222.6L993.2 221.2L994.0 217.0L994.8 222.1L995.5 231.2L996.3 232.4L997.0 227.1L997.8 231.2L998.6 241.3L999.3 246.2L1000.1 237.0L1000.8 228.0L1001.5 226.9L1002.2 224.4L1002.9 212.6L1003.6 217.3L1004.4 210.8L1005.1 219.8L1005.9 206.0L1006.6 211.6L1007.4 219.9L1008.1 215.4L1008.8 216.3L1009.6 216.5L1010.3 216.6L1011.1 213.7L1011.8 214.8L1012.5 228.3L1013.2 233.2L1013.8 251.9L1014.5 254.5L1015.2 248.0L1015.8 243.3L1016.5 228.8L1017.2 214.0L1017.9 214.2L1018.6 216.0L1019.3 213.5L1020.0 210.4L1020.7 208.9L1021.5 215.2L1022.2 210.1L1022.9 212.7L1023.6 207.5L1024.3 209.4L1025.0 211.6L1025.6 214.7L1026.3 212.9L1027.0 217.6L1027.6 228.2L1028.3 240.7L1029.0 228.4L1029.7 230.3L1030.4 229.4L1031.2 234.0L1031.9 236.2L1032.7 239.2L1033.5 239.2L1034.2 239.9L1035.0 240.8L1035.8 241.6L1036.6 245.6L1037.4 259.7L1038.2 262.3L1038.8 232.6L1039.5 217.6L1040.2 219.9L1040.9 210.4L1041.6 216.7L1042.4 217.8L1043.1 211.9L1043.8 213.0L1044.6 214.8L1045.3 214.4L1046.0 208.9L1046.8 216.5L1047.5 212.5L1048.2 211.8L1048.9 216.4L1049.6 205.4L1050.3 210.8L1051.1 206.6L1051.8 210.1L1052.5 219.7L1053.2 209.1L1053.9 211.4L1054.6 209.2L1055.4 210.5L1056.1 206.8L1056.9 211.6L1057.7 210.1L1058.4 213.7L1059.2 207.2L1060.0 218.1L1060.7 209.4L1061.5 213.8L1062.3 215.0L1063.0 217.2L1063.8 212.7L1064.6 217.2L1065.3 215.2L1066.1 208.6L1066.8 210.3L1067.5 214.8L1068.3 212.8L1069.0 212.6L1069.8 216.4L1070.5 219.1L1071.3 221.0L1072.0 220.2L1072.7 211.2L1073.5 220.6L1074.2 214.1L1075.0 218.6L1075.7 209.7L1076.5 218.8L1077.2 222.5L1077.9 217.7L1078.7 212.6L1079.4 215.3L1080.2 207.3L1080.9 212.0L1081.7 214.1L1082.4 208.1L1083.1 212.5L1083.9 210.8L1084.6 212.4L1085.4 212.0L1086.1 202.6L1086.9 217.6L1087.6 223.7L1088.3 213.7L1089.1 210.5L1089.8 208.8L1090.6 216.0L1091.3 220.0L1092.1 216.7L1092.8 218.3L1093.5 213.8L1094.3 221.8L1095.0 221.1L1095.7 219.8L1096.5 215.4L1097.2 214.6L1097.9 218.4L1098.7 218.3L1099.4 224.6L1100.1 218.3L1100.9 231.5L1101.6 222.4L1102.3 217.4L1103.1 214.4L1103.8 233.6L1104.5 217.7L1105.3 218.5L1106.0 222.6L1106.7 227.2L1107.5 222.6L1108.2 222.3L1109.0 221.5L1109.7 223.9L1110.4 225.4L1111.2 229.9L1111.9 223.3L1112.6 223.8L1113.4 232.0L1114.1 229.9L1114.8 222.2L1115.6 230.0L1116.3 221.7L1117.0 232.5L1117.9 224.5L1118.8 215.5L1119.6 208.0L1120.5 219.8L1121.3 213.6L1122.1 211.9L1122.9 215.7" fill="none" stroke="#0808ff" stroke-width="1.0" stroke-linejoin="round" />
<path d="M668.6 226.9L669.3 220.7L670.1 221.1L670.8 221.7L671.6 223.5L672.4 224.7L673.1 223.6L673.9 222.9L674.6 219.7L675.4 222.6L676.1 223.3L676.9 220.3L677.6 224.6L678.4 222.5L679.1 220.3L679.9 221.6L680.6 219.8L681.4 223.3L682.1 222.0L682.9 221.9L683.6 223.3L684.4 221.6L685.1 224.3L685.9 223.2L686.6 221.9L687.4 224.4L688.1 223.2L688.9 220.4L689.7 223.4L690.4 219.9L691.2 218.7L691.9 221.6L692.7 225.4L693.4 227.3L694.2 226.3L694.9 223.4L695.7 224.6L696.4 218.7L697.2 223.1L697.9 221.4L698.7 223.4L699.4 223.9L700.2 227.5L700.9 221.4L701.7 222.2L702.4 223.2L703.2 223.4L703.9 225.5L704.7 221.3L705.4 226.9L706.2 222.9L706.9 221.9L707.6 224.4L708.4 225.8L709.1 228.8L709.8 227.7L710.5 233.8L711.2 231.6L711.9 228.9L712.6 225.1L713.3 222.4L714.1 221.9L714.8 220.8L715.6 223.8L716.3 220.5L717.1 225.2L717.8 223.7L718.6 225.7L719.3 222.2L720.1 223.3L720.8 222.1L721.6 220.8L722.3 221.8L723.1 226.9L723.8 224.5L724.6 221.4L725.3 221.8L726.1 222.1L726.8 221.6L727.6 227.7L728.3 220.1L729.1 224.8L729.8 223.0L730.6 224.6L731.3 222.7L732.0 226.7L732.8 222.0L733.5 223.2L734.3 223.8L735.0 221.7L735.8 229.6L736.5 222.5L737.2 222.5L738.0 224.5L738.7 225.4L739.5 224.4L740.2 222.5L741.0 223.4L741.7 225.1L742.4 227.1L743.2 225.2L743.9 222.8L744.7 219.6L745.4 223.0L746.2 223.6L746.9 220.1L747.6 223.0L748.4 223.1L749.1 221.0L749.9 223.2L750.6 223.7L751.4 220.9L752.1 222.3L752.8 218.1L753.6 227.8L754.3 221.8L755.1 223.8L755.8 218.9L756.6 221.9L757.3 219.3L758.0 221.9L758.8 222.8L759.5 223.6L760.3 220.2L761.0 221.3L761.8 225.0L762.5 223.5L763.2 220.2L764.0 221.0L764.7 220.9L765.5 225.0L766.2 221.8L767.0 223.0L767.7 220.2L768.4 223.6L769.2 222.0L769.9 220.8L770.7 218.6L771.4 220.7L772.2 220.7L772.9 220.1L773.6 220.7L774.4 222.5L775.1 222.9L775.9 220.7L776.6 218.0L777.4 217.6L778.1 224.8L778.8 218.0L779.6 220.4L780.3 220.7L781.1 220.1L781.8 221.0L782.6 219.8L783.4 220.3L784.1 220.3L784.9 224.1L785.6 224.0L786.4 222.9L787.2 219.4L787.9 221.2L788.7 222.9L789.5 221.0L790.2 220.5L791.0 223.9L791.8 223.5L792.5 224.7L793.2 222.7L793.9 219.6L794.7 217.1L795.4 212.3L796.1 211.1L796.8 218.5L797.5 223.3L798.2 220.8L798.9 228.9L799.7 235.0L800.4 236.1L801.1 237.7L801.8 237.7L802.5 241.3L803.2 243.2L804.0 239.4L804.7 238.0L805.5 235.5L806.3 236.0L807.0 235.9L807.8 229.8L808.6 233.1L809.3 228.0L810.1 231.2L810.9 230.3L811.6 222.2L812.4 226.6L813.2 225.6L813.9 226.4L814.7 225.8L815.4 229.5L816.1 219.5L816.9 221.1L817.6 225.7L818.3 226.2L819.1 223.6L819.8 224.3L820.6 223.9L821.3 221.8L822.0 225.6L822.8 224.9L823.5 221.5L824.2 225.3L825.0 225.5L825.7 232.3L826.5 225.6L827.2 220.9L827.9 223.1L828.7 220.1L829.4 225.8L830.2 222.3L830.9 222.5L831.6 225.3L832.4 221.3L833.1 221.0L833.8 220.4L834.6 224.7L835.3 221.3L836.1 223.7L836.8 222.5L837.5 223.4L838.3 225.6L839.0 221.1L839.8 222.4L840.5 223.5L841.3 224.5L842.0 222.3L842.7 224.6L843.5 223.9L844.2 226.9L845.0 220.0L845.7 223.3L846.5 222.1L847.2 222.0L847.9 220.4L848.7 222.5L849.4 221.6L850.2 222.3L850.9 221.1L851.7 223.5L852.4 223.3L853.1 224.2L853.9 223.6L854.6 221.9L855.4 219.8L856.1 223.8L856.9 219.3L857.6 221.5L858.3 224.1L859.1 221.5L859.8 218.3L860.6 221.5L861.3 221.5L862.1 225.1L862.8 220.0L863.6 224.0L864.3 217.3L865.0 223.7L865.8 220.2L866.5 219.2L867.3 220.2L868.0 220.7L868.8 221.7L869.5 222.1L870.2 221.0L871.0 223.8L871.7 221.5L872.4 222.5L873.2 223.7L873.9 219.0L874.7 218.3L875.4 219.6L876.1 221.4L876.9 216.9L877.6 216.8L878.3 211.8L879.1 219.0L879.8 215.2L880.5 217.7L881.3 216.3L882.0 213.7L882.7 215.4L883.5 214.6L884.2 216.2L884.9 218.1L885.6 217.0L886.3 221.1L887.0 229.5L887.8 223.5L888.6 216.1L889.3 220.0L890.1 220.1L890.9 224.8L891.6 224.7L892.4 221.7L893.2 224.2L893.9 219.3L894.7 223.1L895.5 218.5L896.2 224.6L897.0 221.5L897.8 222.1L898.6 223.3L899.4 223.2L900.1 220.5L900.9 223.0L901.7 221.1L902.5 222.2L903.3 223.9L904.0 221.3L904.8 221.6L905.6 224.6L906.3 226.4L907.1 221.8L907.8 220.0L908.6 220.8L909.3 216.4L910.1 218.6L910.8 223.6L911.6 222.8L912.3 218.2L913.1 224.0L913.8 222.2L914.6 218.1L915.3 219.0L916.1 215.0L916.8 220.0L917.6 218.5L918.3 217.3L919.1 219.2L919.8 216.7L920.6 216.2L921.3 219.8L922.0 217.7L922.8 222.4L923.5 219.2L924.2 216.3L925.0 218.5L925.7 219.8L926.4 221.8L927.2 222.3L927.9 221.9L928.6 219.9L929.4 222.8L930.1 224.5L930.8 222.0L931.6 221.5L932.3 223.9L933.0 222.6L933.8 222.2L934.5 225.2L935.3 222.9L936.0 221.4L936.7 222.6L937.5 222.9L938.2 224.3L938.9 221.3L939.7 224.1L940.4 224.3L941.1 226.8L941.9 226.0L942.6 224.1L943.3 224.2L944.1 224.3L944.8 222.6L945.6 225.0L946.3 222.7L947.1 224.4L947.8 221.2L948.6 223.4L949.3 225.2L950.1 226.6L950.8 225.1L951.6 223.1L952.3 223.0L953.1 223.5L953.8 214.8L954.6 222.8L955.3 224.6L956.1 221.6L956.8 222.0L957.6 222.7L958.3 223.7L959.0 217.2L959.8 218.0L960.5 212.1L961.2 216.6L961.9 212.5L962.8 216.4L963.7 226.5L964.4 223.0L965.2 223.7L966.0 222.3L966.7 224.8L967.5 223.4L968.3 223.1L969.0 222.9L969.8 224.5L970.6 219.8L971.3 223.2L972.1 224.5L972.8 221.2L973.6 221.9L974.4 219.6L975.1 220.9L975.9 219.7L976.7 218.7L977.4 219.4L978.2 218.1L979.0 220.1L979.7 219.4L980.5 219.5L981.3 222.6L982.0 223.4L982.8 226.8L983.5 227.2L984.3 228.5L985.1 228.7L985.8 228.1L986.6 233.2L987.3 225.3L988.0 228.6L988.8 225.9L989.5 229.7L990.3 225.8L991.0 224.3L991.8 225.5L992.5 226.4L993.2 228.2L994.0 224.4L994.8 222.8L995.5 222.1L996.3 217.9L997.0 213.8L997.8 212.7L998.6 212.2L999.3 208.3L1000.2 217.5L1001.1 228.7L1001.9 225.9L1002.7 226.8L1003.4 227.0L1004.2 225.2L1004.9 228.0L1005.7 225.8L1006.5 228.0L1007.2 226.6L1008.0 228.3L1008.8 223.9L1009.5 228.1L1010.3 228.5L1011.1 227.4L1011.8 230.1L1012.7 235.4L1013.6 240.7L1014.3 240.0L1015.0 237.8L1015.7 237.1L1016.5 233.1L1017.2 232.1L1017.9 230.3L1018.6 235.7L1019.4 232.4L1020.1 230.7L1020.8 225.3L1021.6 227.2L1022.3 226.9L1023.0 229.2L1023.8 226.8L1024.5 231.5L1025.2 229.0L1026.0 230.4L1026.7 226.9L1027.5 224.4L1028.2 227.1L1028.9 229.0L1029.7 225.5L1030.4 224.6L1031.2 221.6L1031.9 222.0L1032.7 220.6L1033.5 219.3L1034.2 214.4L1035.0 213.7L1035.7 211.2L1036.4 212.6L1037.1 212.8L1037.9 212.1L1038.6 214.1L1039.3 212.4L1040.0 218.0L1040.7 220.9L1041.4 222.5L1042.1 215.6L1042.9 225.6L1043.6 226.3L1044.4 227.2L1045.1 224.0L1045.9 224.3L1046.6 222.3L1047.4 220.1L1048.1 226.5L1048.9 226.6L1049.6 222.2L1050.4 224.4L1051.1 224.1L1051.9 226.3L1052.6 229.1L1053.4 226.6L1054.1 225.9L1054.8 221.1L1055.6 225.6L1056.3 222.0L1057.1 223.9L1057.8 226.1L1058.6 222.2L1059.3 224.4L1060.1 225.9L1060.8 224.8L1061.6 225.5L1062.3 222.4L1063.1 227.4L1063.8 226.0L1064.6 223.5L1065.3 227.3L1066.1 222.3L1066.8 224.2L1067.6 223.2L1068.3 222.8L1069.1 221.9L1069.8 222.6L1070.6 218.2L1071.4 218.2L1072.1 213.1L1072.9 217.9L1073.6 214.6L1074.4 215.9L1075.1 214.0L1075.9 216.1L1076.6 217.1L1077.4 219.5L1078.1 223.8L1078.8 224.0L1079.6 225.6L1080.3 225.2L1081.1 225.6L1081.8 226.2L1082.5 225.7L1083.3 228.7L1084.0 228.0L1084.7 228.6L1085.5 225.3L1086.2 218.6L1087.0 228.3L1087.7 228.7L1088.4 229.5L1089.2 226.7L1089.9 226.8L1090.6 225.3L1091.4 228.4L1092.1 223.6L1092.9 226.3L1093.6 226.8L1094.3 224.2L1095.1 225.7L1095.8 228.6L1096.6 225.3L1097.3 228.0L1098.0 224.9L1098.8 228.5L1099.5 229.2L1100.2 227.7L1101.0 231.0L1101.7 227.5L1102.5 223.0L1103.2 222.0L1104.0 227.5L1104.7 222.1L1105.4 225.1L1106.2 224.6L1106.9 223.9L1107.7 227.3L1108.4 222.5L1109.2 221.9L1109.9 221.4L1110.6 219.2L1111.4 221.3L1112.1 223.0L1112.9 222.4L1113.6 220.8L1114.4 223.0L1115.1 219.8L1115.8 222.5L1116.6 222.2L1117.3 222.3L1118.1 219.6L1118.8 217.0L1119.6 221.3L1120.5 219.5L1121.3 223.4L1122.1 220.5L1122.9 220.1" fill="none" stroke="#ff0808" stroke-width="1.0" stroke-linejoin="round" />
<path d="M668.6 302.2L669.4 300.1L670.2 306.9L670.9 310.9L671.7 306.2L672.5 308.5L673.3 309.1L674.1 308.7L674.8 309.2L675.6 310.2L676.4 307.6L677.2 305.2L678.0 305.1L678.8 310.4L679.6 310.2L680.4 309.5L681.2 305.1L682.0 309.7L682.8 309.7L683.6 307.5L684.4 307.6L685.2 313.3L686.0 311.3L686.8 309.9L687.6 308.5L688.4 306.7L689.3 306.5L690.1 308.4L690.9 304.9L691.6 306.8L692.4 311.3L693.2 305.8L693.9 307.5L694.7 313.5L695.5 311.2L696.2 311.4L697.0 310.0L697.8 309.4L698.5 315.5L699.3 308.3L700.1 315.2L700.8 313.7L701.6 315.3L702.4 312.5L703.2 320.0L704.0 320.8L704.8 321.5L705.6 323.1L706.4 320.7L707.2 325.2L708.0 327.2L708.8 327.4L709.6 322.4L710.5 324.7L711.4 321.1L712.3 314.5L713.2 313.0L714.0 315.5L714.8 312.7L715.7 315.6L716.5 311.7L717.3 311.3L718.1 313.4L719.0 311.0L719.8 309.3L720.6 313.5L721.4 312.8L722.3 314.1L723.1 311.0L723.9 311.9L724.8 313.9L725.5 313.2L726.3 315.2L727.1 317.5L727.8 316.9L728.6 320.4L729.3 318.2L730.1 323.7L730.9 326.4L731.6 320.4L732.4 316.5L733.2 312.2L733.9 311.3L734.7 311.4L735.5 308.6L736.3 310.6L737.0 309.3L737.8 310.0L738.6 307.3L739.4 308.9L740.2 309.4L741.0 304.1L741.8 305.2L742.6 304.5L743.4 304.2L744.2 306.4L745.0 302.9L745.8 301.4L746.6 300.1L747.3 299.4L748.1 301.8L748.9 303.5L749.7 301.4L750.5 298.2L751.3 298.1L752.0 295.2L752.8 297.8L753.5 294.5L754.3 295.9L755.1 292.8L755.8 292.1L756.6 288.2L757.4 290.6L758.1 288.1L758.9 287.2L759.7 288.0L760.4 290.4L761.2 287.0L761.9 289.1L762.7 285.3L763.4 280.1L764.1 280.8L764.9 284.7L765.8 283.6L766.7 284.1L767.6 284.6L768.4 287.4L769.2 291.5L769.9 293.4L770.7 297.7L771.4 301.9L772.2 302.7L772.9 308.0L773.7 307.4L774.4 308.0L775.2 307.8L776.0 308.8L776.7 308.7L777.5 314.3L778.3 310.8L779.0 312.0L779.8 309.8L780.6 311.8L781.4 312.5L782.2 314.9L783.0 315.3L783.8 311.0L784.6 315.6L785.4 312.2L786.2 312.5L786.9 307.9L787.7 307.5L788.4 303.8L789.2 299.2L790.0 301.0L790.7 297.2L791.6 291.4L792.5 285.9L793.4 280.2L794.3 277.9L795.2 282.3L796.1 295.1L797.0 300.0L797.9 310.2L798.8 312.9L799.7 318.1L800.5 316.6L801.4 312.3L802.3 309.7L803.2 309.7L804.1 316.9L805.0 322.2L805.8 317.8L806.5 319.5L807.3 314.7L808.1 311.3L808.8 310.0L809.6 309.9L810.4 308.9L811.2 307.8L812.1 311.9L813.0 312.1L813.9 313.0L814.8 312.1L815.7 314.9L816.6 311.9L817.5 312.4L818.2 316.3L819.0 315.9L819.8 314.0L820.5 315.1L821.3 317.1L822.1 313.2L822.8 319.7L823.6 316.0L824.4 318.0L825.1 314.2L825.9 314.1L826.7 315.5L827.4 314.3L828.2 315.7L829.0 310.0L829.8 308.5L830.6 311.5L831.4 308.4L832.1 303.8L832.9 304.0L833.7 304.6L834.5 301.6L835.3 298.5L836.1 302.9L836.8 305.1L837.6 308.1L838.4 309.2L839.1 310.0L839.9 308.2L840.7 308.8L841.6 308.5L842.4 311.0L843.3 311.0L844.2 304.8L845.0 310.9L845.8 312.8L846.5 315.4L847.3 315.1L848.1 316.8L848.8 316.6L849.6 316.8L850.4 316.6L851.2 316.3L852.0 313.6L852.8 315.2L853.5 316.9L854.3 313.8L855.1 316.4L855.9 311.7L856.7 313.8L857.5 310.5L858.3 313.3L859.1 311.7L859.9 311.3L860.7 310.1L861.5 308.6L862.3 308.9L863.1 306.2L863.8 300.0L864.6 304.2L865.4 303.9L866.1 297.3L866.9 303.2L867.7 299.7L868.4 300.9L869.2 297.2L870.0 298.7L870.8 297.3L871.6 299.1L872.4 297.0L873.2 301.2L874.0 300.5L874.7 300.6L875.5 301.0L876.3 301.2L877.1 303.3L877.9 303.3L878.7 303.1L879.5 306.6L880.3 301.9L881.1 303.4L881.9 301.8L882.7 304.1L883.5 304.5L884.2 300.2L885.0 303.5L885.8 297.7L886.5 299.7L887.3 299.2L888.0 296.1L888.8 300.5L889.6 297.3L890.3 293.5L891.1 296.2L891.9 295.4L892.6 292.8L893.4 291.5L894.2 294.3L894.9 297.2L895.6 293.3L896.3 297.3L897.0 289.8L897.8 290.8L898.7 295.2L899.5 294.6L900.3 296.6L901.1 300.1L901.9 294.4L902.7 297.6L903.4 296.9L904.2 294.5L905.0 296.9L905.8 295.2L906.6 297.2L907.4 299.3L908.2 297.1L909.0 295.7L909.8 292.4L910.6 289.7L911.4 293.6L912.2 288.0L913.0 287.5L913.7 287.4L914.6 284.6L915.4 285.6L916.2 284.2L917.0 284.7L917.8 285.4L918.6 280.6L919.4 283.2L920.2 281.6L921.0 281.9L921.9 282.7L922.7 284.7L923.5 278.2L924.2 286.7L925.0 282.9L925.8 283.1L926.6 284.1L927.4 286.8L928.2 287.5L929.0 284.4L929.8 285.5L930.6 291.1L931.3 289.3L932.1 286.0L932.9 289.8L933.6 290.1L934.4 294.1L935.1 289.8L935.9 290.1L936.7 290.3L937.4 291.8L938.2 291.9L939.0 292.1L939.7 294.2L940.5 290.3L941.3 295.8L942.0 294.8L942.8 298.2L943.6 300.6L944.3 304.4L945.1 300.8L945.8 309.3L946.6 298.5L947.3 299.7L948.1 297.3L948.8 295.2L949.6 295.8L950.3 287.1L951.0 290.6L951.8 297.2L952.5 301.2L953.3 297.8L954.0 301.2L954.8 306.1L955.6 307.4L956.3 304.4L957.1 308.7L957.9 309.2L958.7 309.3L959.5 312.7L960.3 312.8L961.1 313.2L961.9 321.8L962.7 316.1L963.4 315.2L964.2 321.0L964.9 316.5L965.7 316.4L966.5 312.1L967.2 314.1L968.0 319.6L968.8 314.3L969.6 314.6L970.4 314.4L971.2 314.7L972.0 317.6L972.8 309.8L973.6 309.2L974.4 315.2L975.1 311.9L975.9 310.4L976.7 310.1L977.4 305.7L978.2 305.8L979.0 305.0L979.7 304.3L980.6 306.2L981.5 307.8L982.4 313.2L983.3 318.7L984.1 317.3L984.9 319.5L985.7 313.9L986.5 316.2L987.3 313.3L988.0 313.6L988.8 315.2L989.6 313.3L990.4 309.0L991.3 309.4L992.2 310.4L993.1 307.6L994.0 308.8L994.8 310.0L995.6 307.1L996.4 309.6L997.2 313.0L998.0 311.0L998.7 308.8L999.5 313.6L1000.3 311.4L1001.1 311.5L1001.9 311.9L1002.7 311.6L1003.5 307.9L1004.3 308.8L1005.1 308.3L1005.9 307.8L1006.7 305.0L1007.5 302.6L1008.3 303.3L1009.0 304.9L1009.8 305.6L1010.5 308.0L1011.3 307.9L1012.1 305.4L1012.8 310.4L1013.6 312.1L1014.4 307.3L1015.1 312.7L1015.9 313.6L1016.7 313.2L1017.4 314.0L1018.2 311.8L1019.0 315.0L1019.8 315.2L1020.6 312.7L1021.4 316.1L1022.2 317.2L1023.0 315.1L1023.8 319.8L1024.6 316.9L1025.4 317.0L1026.2 318.1L1027.1 317.6L1027.9 317.5L1028.8 318.3L1029.7 317.7L1030.4 316.5L1031.2 317.7L1031.9 318.6L1032.7 312.9L1033.5 307.1L1034.2 311.8L1035.0 306.2L1035.9 305.0L1036.8 305.6L1037.7 303.5L1038.6 301.7L1039.5 295.8L1040.4 291.1L1041.2 289.1L1042.1 285.2L1042.9 283.5L1043.7 282.5L1044.4 280.6L1045.2 276.8L1046.0 276.9L1046.7 274.5L1047.5 271.2L1048.2 275.4L1049.0 273.1L1049.8 268.8L1050.5 268.0L1051.3 268.1L1052.1 266.8L1052.8 265.2L1053.6 266.2L1054.4 270.2L1055.1 267.5L1055.9 267.5L1056.7 272.2L1057.4 270.0L1058.2 270.4L1058.9 271.1L1059.7 274.0L1060.4 275.0L1061.2 276.6L1061.9 278.1L1062.6 280.4L1063.4 280.7L1064.1 284.7L1064.9 288.9L1065.6 293.0L1066.4 295.7L1067.1 299.6L1067.9 301.0L1068.7 301.6L1069.5 302.8L1070.3 308.3L1071.1 306.1L1071.9 306.5L1072.6 310.1L1073.4 310.7L1074.2 309.5L1075.0 313.4L1075.9 304.8L1076.7 310.0L1077.5 309.0L1078.3 308.9L1079.1 306.8L1079.9 301.5L1080.7 302.3L1081.5 305.3L1082.3 300.9L1083.1 305.7L1083.9 307.0L1084.7 301.1L1085.4 305.9L1086.2 306.8L1087.0 310.4L1087.7 304.9L1088.5 307.6L1089.3 307.9L1090.0 303.4L1090.8 303.4L1091.6 305.8L1092.3 303.9L1093.1 301.7L1093.8 300.8L1094.6 303.4L1095.4 303.2L1096.2 306.5L1097.0 306.0L1097.8 310.4L1098.6 307.2L1099.4 307.6L1100.2 310.3L1101.0 311.8L1101.8 308.5L1102.6 309.4L1103.4 309.1L1104.2 308.8L1105.0 311.2L1105.8 312.3L1106.7 310.6L1107.5 310.1L1108.3 310.3L1109.1 316.0L1109.9 313.4L1110.7 313.1L1111.5 310.6L1112.3 310.0L1113.1 310.4L1113.9 309.7L1114.8 307.3L1115.6 309.7L1116.4 308.0L1117.2 308.9L1118.0 309.4L1118.8 308.3L1119.6 307.0L1120.5 312.4L1121.3 312.0L1122.1 310.9L1122.9 312.4" fill="none" stroke="#ff0808" stroke-width="1.0" stroke-linejoin="round" />
<path d="M668.6 325.7L669.4 330.2L670.2 328.4L671.0 327.1L671.8 329.2L672.6 326.3L673.4 331.1L674.2 328.6L675.0 327.6L675.8 328.8L676.6 325.9L677.4 328.3L678.2 329.0L679.0 328.9L679.8 328.2L680.6 325.8L681.4 327.8L682.2 325.3L682.9 327.6L683.7 326.3L684.6 325.9L685.4 327.9L686.2 329.5L687.0 328.6L687.8 325.6L688.6 325.4L689.4 324.4L690.2 324.7L691.0 325.5L691.9 325.8L692.7 324.3L693.5 324.9L694.3 323.2L695.1 324.0L695.9 326.7L696.7 326.7L697.5 325.4L698.3 324.8L699.1 324.9L700.0 323.6L700.8 322.9L701.6 325.3L702.4 322.9L703.2 324.9L704.0 322.6L704.8 324.1L705.6 326.4L706.4 324.9L707.3 323.8L708.1 324.2L708.9 321.6L709.7 325.0L710.5 322.5L711.3 322.3L712.1 322.2L712.9 323.2L713.7 321.9L714.5 321.9L715.4 323.3L716.2 322.7L717.0 324.0L717.8 323.3L718.6 323.7L719.4 320.2L720.2 322.1L721.0 322.9L721.8 323.5L722.7 322.0L723.5 323.5L724.3 324.3L725.1 321.6L725.9 321.9L726.7 322.1L727.5 323.7L728.3 322.0L729.1 323.5L729.9 322.7L730.8 321.9L731.6 320.7L732.4 326.4L733.2 324.9L734.0 324.5L734.8 320.7L735.6 324.1L736.4 322.3L737.2 320.9L738.1 322.0L738.9 322.2L739.7 325.2L740.5 323.2L741.3 323.0L742.1 323.8L742.9 323.9L743.7 321.6L744.5 325.0L745.3 323.8L746.2 325.0L747.0 326.3L747.7 323.9L748.5 328.0L749.3 324.7L750.1 325.2L750.9 322.9L751.7 328.3L752.5 326.5L753.3 326.3L754.1 326.4L754.9 328.1L755.8 328.9L756.6 328.4L757.4 327.1L758.2 326.6L759.1 325.0L759.9 326.8L760.7 328.4L761.5 327.3L762.3 330.6L763.2 329.3L764.0 327.6L764.7 327.6L765.5 326.0L766.2 323.4L767.0 322.8L767.7 320.0L768.4 320.5L769.3 321.3L770.2 318.0L771.1 320.0L772.0 316.2L772.8 318.5L773.5 319.2L774.2 318.7L775.0 319.0L775.7 322.3L776.5 323.8L777.3 322.6L778.1 322.3L778.8 318.4L779.6 321.4L780.4 323.5L781.2 323.6L782.0 322.5L782.8 320.8L783.6 323.0L784.4 321.8L785.2 323.7L786.0 325.0L786.8 322.1L787.6 323.4L788.4 324.6L789.2 325.1L789.9 325.1L790.7 326.6L791.6 323.3L792.5 317.9L793.4 315.2L794.3 313.5L795.2 302.2L796.1 294.6L797.0 284.1L797.9 284.9L798.8 288.0L799.7 293.6L800.5 295.4L801.4 303.9L802.2 305.0L803.0 307.8L803.7 310.0L804.5 314.7L805.3 314.0L806.0 321.0L806.8 322.2L807.6 321.8L808.4 319.3L809.3 325.0L810.1 322.8L810.9 321.9L811.7 321.6L812.5 322.8L813.4 320.7L814.2 321.8L815.0 322.3L815.8 320.2L816.7 320.2L817.5 322.7L818.3 319.6L819.0 319.5L819.8 321.2L820.6 323.3L821.4 322.7L822.2 318.7L822.9 322.8L823.7 317.8L824.5 318.9L825.3 319.9L826.1 320.5L826.8 320.1L827.6 319.6L828.4 316.1L829.2 316.3L830.0 318.4L830.9 318.0L831.8 316.1L832.6 314.1L833.5 314.3L834.3 315.9L835.2 311.1L836.0 317.6L836.8 318.9L837.6 318.1L838.4 316.9L839.2 318.5L840.0 319.2L840.8 322.6L841.6 320.9L842.4 322.2L843.3 322.7L844.1 321.8L844.9 321.0L845.7 319.8L846.6 321.5L847.4 323.8L848.2 324.1L849.0 320.5L849.9 322.9L850.7 323.8L851.5 325.1L852.3 323.7L853.1 324.0L854.0 323.9L854.8 323.8L855.6 322.6L856.4 320.8L857.2 320.9L858.0 320.8L858.8 319.1L859.6 319.1L860.4 318.4L861.3 315.8L862.1 319.9L862.8 315.0L863.6 313.9L864.4 313.2L865.1 308.7L865.9 304.8L866.6 303.6L867.4 300.2L868.3 299.7L869.2 300.0L870.1 296.7L871.0 289.7L871.9 296.3L872.8 305.3L873.5 304.6L874.3 305.9L875.1 306.3L875.8 305.6L876.6 306.5L877.3 306.4L878.1 306.9L879.0 315.4L879.9 315.0L880.8 313.4L881.7 306.8L882.6 300.9L883.5 297.8L884.4 300.3L885.2 301.8L886.1 303.4L887.0 303.0L887.9 307.3L888.8 309.3L889.7 312.7L890.6 318.3L891.4 319.4L892.2 318.6L893.0 319.7L893.8 319.6L894.6 321.3L895.4 320.4L896.2 323.0L897.0 323.5L897.9 323.9L898.7 327.5L899.6 324.1L900.4 326.1L901.3 327.2L902.1 324.5L902.9 326.2L903.7 323.1L904.5 324.2L905.3 323.2L906.1 324.4L906.9 319.4L907.7 323.2L908.6 324.3L909.4 320.6L910.2 317.6L911.0 319.1L911.8 316.9L912.6 319.5L913.4 318.4L914.2 316.3L915.0 320.2L915.8 317.1L916.6 319.3L917.5 316.5L918.3 316.2L919.1 314.8L919.9 316.7L920.7 315.8L921.5 314.5L922.3 318.0L922.9 312.2L923.6 312.1L924.3 314.6L925.0 316.5L925.8 317.4L926.5 320.2L927.3 322.7L928.1 320.4L928.9 319.8L929.7 320.4L930.5 323.5L931.2 324.5L932.0 322.5L932.8 321.9L933.6 321.9L934.4 325.0L935.1 322.9L935.9 324.9L936.7 325.1L937.4 328.4L938.2 323.8L939.0 325.4L939.7 326.6L940.5 329.7L941.3 326.9L942.1 328.6L942.9 325.7L943.7 323.6L944.5 324.7L945.3 327.3L946.0 324.4L946.8 323.1L947.6 324.0L948.4 323.8L949.2 326.1L949.9 326.7L950.7 328.4L951.4 328.6L952.2 332.0L953.0 327.0L953.8 330.2L954.6 323.3L955.4 327.9L956.2 325.2L957.0 324.8L957.8 323.8L958.7 324.5L959.5 322.7L960.3 323.4L961.1 321.4L961.9 322.2L962.6 323.9L963.4 320.8L964.1 320.4L964.9 318.5L965.6 319.6L966.4 318.7L967.1 318.4L967.9 319.2L968.7 324.0L969.5 319.1L970.3 320.4L971.0 321.4L971.8 323.6L972.6 323.9L973.4 325.3L974.2 325.5L975.0 325.4L975.8 324.0L976.6 324.9L977.3 327.5L978.1 328.0L978.9 326.2L979.7 327.8L980.5 324.6L981.3 322.9L982.0 320.9L982.8 322.8L983.5 322.9L984.3 319.0L985.1 318.1L985.9 318.8L986.7 318.1L987.5 315.8L988.3 320.7L989.1 320.3L989.9 322.2L990.7 320.6L991.6 320.6L992.4 324.7L993.2 324.8L994.0 323.6L994.8 320.7L995.6 321.2L996.4 321.0L997.2 322.3L998.0 321.7L998.9 321.4L999.7 322.6L1000.5 319.3L1001.3 318.6L1002.1 321.0L1002.9 321.5L1003.7 321.0L1004.5 323.6L1005.3 320.3L1006.1 320.3L1007.0 320.5L1007.8 319.5L1008.6 322.0L1009.4 321.3L1010.2 323.0L1011.0 318.1L1011.8 319.0L1012.7 320.7L1013.6 317.9L1014.5 315.2L1015.2 316.6L1016.0 317.9L1016.7 316.3L1017.5 319.6L1018.2 319.4L1019.0 319.0L1019.8 318.7L1020.6 320.6L1021.4 318.8L1022.2 318.0L1023.1 316.9L1023.9 317.9L1024.7 318.8L1025.5 317.2L1026.4 317.7L1027.2 320.1L1028.0 317.2L1028.8 319.3L1029.7 318.8L1030.5 316.7L1031.4 323.5L1032.2 322.8L1033.0 321.4L1033.8 322.8L1034.6 322.6L1035.4 323.3L1036.2 323.2L1037.0 325.3L1037.8 324.8L1038.6 326.0L1039.4 326.5L1040.2 324.0L1041.0 326.0L1041.8 326.6L1042.6 324.3L1043.4 328.3L1044.2 327.3L1045.1 327.1L1045.9 328.1L1046.7 326.6L1047.5 328.7L1048.3 329.4L1049.1 329.8L1049.9 328.1L1050.7 327.7L1051.5 326.9L1052.3 323.8L1053.2 326.4L1054.0 326.3L1054.8 327.6L1055.6 326.4L1056.4 326.2L1057.2 327.4L1058.0 325.4L1058.8 325.1L1059.6 322.0L1060.5 322.4L1061.3 321.0L1062.1 322.9L1062.9 320.7L1063.7 319.6L1064.5 319.4L1065.3 318.4L1066.1 320.3L1066.8 320.0L1067.5 318.3L1068.3 316.9L1069.0 318.6L1069.8 316.8L1070.6 317.7L1071.3 315.8L1072.1 317.6L1072.9 318.7L1073.7 316.8L1074.5 318.1L1075.2 321.2L1076.0 318.7L1076.8 322.0L1077.6 321.3L1078.4 321.0L1079.2 320.4L1080.0 320.7L1080.8 323.0L1081.6 318.8L1082.4 321.0L1083.1 321.8L1084.0 320.9L1084.8 319.8L1085.6 319.2L1086.4 319.5L1087.2 320.7L1088.0 318.8L1088.8 318.1L1089.6 317.3L1090.4 319.5L1091.3 316.0L1092.1 317.9L1092.9 317.4L1093.7 317.0L1094.5 318.7L1095.3 319.6L1096.1 318.0L1096.9 319.5L1097.7 318.1L1098.5 318.0L1099.4 316.9L1100.2 317.2L1101.0 320.8L1101.8 318.3L1102.6 315.3L1103.4 318.3L1104.2 317.8L1105.0 315.9L1105.8 317.9L1106.7 316.6L1107.5 313.2L1108.3 315.5L1109.1 315.5L1109.9 316.9L1110.7 316.0L1111.5 316.4L1112.3 315.9L1113.1 316.5L1113.9 316.5L1114.7 318.3L1115.4 317.1L1116.2 318.3L1117.0 317.9L1117.9 320.5L1118.7 315.8L1119.6 316.3L1120.4 313.2L1121.2 313.9L1122.1 315.4L1122.9 312.5" fill="none" stroke="#101010" stroke-width="1.15" stroke-linejoin="round" />
<path d="M668.6 377.8L669.3 377.1L670.1 379.8L670.8 379.7L671.6 377.6L672.4 377.1L673.1 379.5L673.9 378.4L674.6 378.8L675.4 378.6L676.1 379.8L676.9 379.9L677.6 375.5L678.4 380.6L679.1 378.7L679.9 382.5L680.6 380.8L681.4 379.5L682.1 380.2L682.9 378.7L683.6 380.3L684.4 379.2L685.1 378.7L685.9 380.5L686.6 375.9L687.4 379.7L688.1 378.9L688.9 381.7L689.7 379.9L690.4 380.4L691.2 379.7L691.9 379.3L692.7 380.8L693.4 381.2L694.1 379.2L694.9 382.4L695.6 381.8L696.4 379.4L697.1 379.6L697.9 380.2L698.6 377.0L699.4 379.4L700.1 378.3L700.8 380.1L701.6 380.6L702.3 379.5L703.1 379.9L703.8 379.4L704.6 379.3L705.3 379.0L706.0 381.4L706.8 379.1L707.5 377.8L708.3 377.4L709.0 379.5L709.8 378.0L710.5 375.6L711.2 376.2L712.0 377.5L712.7 376.5L713.4 377.9L714.2 377.4L714.9 378.2L715.6 377.6L716.4 377.0L717.1 377.0L717.8 377.5L718.6 377.2L719.3 376.6L720.0 376.2L720.8 374.5L721.5 375.8L722.2 377.3L723.0 376.4L723.7 376.3L724.5 377.9L725.2 376.3L726.0 377.3L726.7 376.5L727.5 375.8L728.2 376.7L729.0 378.6L729.7 376.8L730.5 377.4L731.2 377.8L732.0 377.7L732.7 377.1L733.5 377.4L734.2 377.0L735.0 376.5L735.7 378.3L736.5 375.3L737.2 379.8L738.0 378.5L738.7 382.0L739.5 376.5L740.2 378.9L741.0 378.4L741.7 378.2L742.4 377.2L743.2 376.9L743.9 380.7L744.7 376.8L745.4 380.6L746.2 379.9L746.9 377.9L747.6 379.2L748.4 381.1L749.1 381.0L749.9 378.8L750.6 379.3L751.4 379.7L752.1 378.9L752.8 380.2L753.6 379.2L754.3 380.2L755.1 380.2L755.8 381.9L756.6 381.0L757.3 380.4L758.0 379.8L758.8 380.5L759.5 377.4L760.3 381.7L761.0 379.5L761.8 378.2L762.5 379.8L763.2 380.5L764.0 384.1L764.7 380.6L765.5 379.0L766.2 378.9L767.0 381.3L767.7 379.4L768.4 379.3L769.2 378.5L769.9 379.7L770.7 378.5L771.4 378.4L772.2 380.8L772.9 378.2L773.6 378.5L774.4 378.2L775.1 380.0L775.9 380.1L776.6 378.8L777.4 378.9L778.1 378.9L778.8 378.4L779.6 377.1L780.3 377.0L781.1 377.2L781.8 377.2L782.6 378.1L783.4 381.8L784.1 380.3L784.9 377.9L785.6 378.6L786.4 378.8L787.2 377.9L787.9 379.5L788.7 378.3L789.5 379.0L790.2 381.0L791.0 380.4L791.8 379.4L792.5 379.3L793.2 382.0L793.9 379.7L794.7 378.2L795.4 377.9L796.1 378.0L796.8 374.9L797.5 374.7L798.2 373.6L798.9 375.3L799.7 374.5L800.4 376.6L801.1 375.9L801.9 379.4L802.6 375.3L803.4 375.6L804.1 375.1L804.9 376.2L805.6 376.2L806.3 376.1L807.1 375.7L807.8 376.0L808.6 375.5L809.3 376.3L810.1 375.9L810.8 377.7L811.5 376.5L812.3 377.8L813.0 378.6L813.8 376.9L814.5 378.5L815.3 378.1L816.0 377.3L816.7 375.9L817.5 379.2L818.2 379.3L819.0 378.5L819.8 379.8L820.5 382.9L821.3 383.2L822.1 382.9L822.8 383.4L823.5 382.3L824.2 380.4L824.8 377.0L825.5 374.6L826.3 376.6L827.1 377.1L827.8 377.2L828.6 378.8L829.4 380.8L830.2 382.8L831.0 383.5L831.8 384.4L832.5 383.1L833.3 384.4L834.0 386.5L834.8 383.4L835.5 381.3L836.3 383.2L837.0 383.0L837.8 384.5L838.5 383.8L839.3 383.8L840.0 383.5L840.8 387.6L841.5 384.2L842.3 383.6L843.0 384.5L843.8 384.5L844.5 385.9L845.3 384.8L846.0 385.8L846.7 385.1L847.4 385.5L848.2 381.9L848.9 383.3L849.6 383.3L850.3 380.7L851.0 382.7L851.7 381.5L852.4 379.7L853.1 380.8L853.9 380.0L854.6 375.3L855.4 379.4L856.1 379.2L856.9 380.6L857.6 380.2L858.3 381.6L859.1 378.2L859.8 378.8L860.6 377.8L861.3 380.0L862.1 379.2L862.8 381.3L863.6 381.6L864.4 381.8L865.1 382.5L865.9 383.4L866.6 383.0L867.4 385.5L868.1 386.6L868.9 383.8L869.6 384.6L870.4 384.1L871.1 384.0L871.8 382.5L872.6 384.8L873.3 382.8L874.0 383.3L874.8 384.1L875.5 383.9L876.2 383.8L877.0 382.4L877.7 380.6L878.4 382.3L879.2 381.1L879.9 382.5L880.7 381.7L881.4 383.5L882.2 382.7L883.0 384.9L883.7 387.2L884.5 386.5L885.2 387.3L886.0 384.3L886.7 385.6L887.5 383.3L888.2 386.8L888.9 382.7L889.7 385.4L890.4 383.4L891.1 382.8L891.9 381.8L892.6 381.8L893.3 382.2L894.1 383.4L894.8 380.6L895.5 380.5L896.3 377.7L897.0 379.3L897.8 375.2L898.5 378.6L899.3 376.1L900.0 379.2L900.8 378.9L901.5 379.2L902.3 380.9L903.0 377.4L903.8 378.1L904.6 379.4L905.3 380.0L906.1 379.7L906.8 380.0L907.6 378.8L908.3 379.0L909.1 378.1L909.8 379.4L910.6 380.0L911.3 381.0L912.1 378.4L912.9 378.0L913.6 378.6L914.4 377.6L915.1 379.6L915.9 379.7L916.6 379.2L917.4 379.7L918.1 378.6L918.9 378.8L919.6 378.3L920.4 379.7L921.2 378.8L921.9 378.8L922.7 379.2L923.4 379.9L924.1 378.1L924.9 379.9L925.6 378.5L926.4 380.1L927.1 379.2L927.8 377.3L928.6 378.1L929.3 377.3L930.0 375.7L930.8 376.7L931.5 378.0L932.3 377.6L933.0 377.1L933.7 376.6L934.5 375.7L935.2 376.7L935.9 375.2L936.7 376.1L937.4 375.7L938.2 375.9L938.9 375.1L939.6 376.4L940.4 375.8L941.1 377.0L941.8 375.4L942.6 376.4L943.3 374.9L944.1 375.9L944.8 372.6L945.6 373.0L946.3 375.8L947.1 374.9L947.8 372.4L948.6 376.2L949.3 375.7L950.1 376.4L950.8 376.6L951.6 377.3L952.3 374.3L953.1 375.8L953.8 377.7L954.6 377.5L955.3 376.5L956.1 377.5L956.8 377.7L957.6 377.2L958.3 377.8L959.1 376.6L959.8 376.5L960.5 377.6L961.3 377.1L962.0 376.9L962.8 377.4L963.5 375.8L964.2 377.4L965.0 378.3L965.7 378.7L966.4 378.9L967.2 378.9L967.9 379.4L968.7 379.3L969.4 379.7L970.1 378.5L970.9 380.8L971.6 380.5L972.3 379.5L973.1 380.5L973.8 380.0L974.6 380.7L975.3 381.7L976.0 383.3L976.8 382.0L977.5 380.6L978.2 379.4L979.0 383.7L979.7 382.0L980.5 383.6L981.2 380.1L982.0 381.1L982.7 381.4L983.5 383.2L984.2 381.0L985.0 383.2L985.7 384.5L986.5 380.5L987.2 380.5L988.0 382.6L988.7 379.9L989.5 380.7L990.2 381.0L991.0 379.3L991.7 381.0L992.5 381.3L993.2 380.8L994.0 379.5L994.7 380.3L995.5 379.9L996.2 379.6L997.0 377.9L997.7 379.7L998.4 378.8L999.2 376.4L999.9 378.2L1000.7 378.9L1001.4 376.9L1002.2 378.6L1002.9 379.4L1003.6 378.4L1004.4 378.5L1005.1 378.4L1005.9 377.7L1006.6 377.9L1007.4 374.4L1008.1 376.8L1008.8 376.9L1009.6 375.6L1010.3 373.5L1011.1 376.0L1011.8 375.7L1012.7 370.2L1013.6 369.5L1014.5 372.0L1015.4 378.2L1016.1 377.8L1016.9 379.4L1017.6 379.6L1018.4 378.5L1019.1 379.1L1019.9 378.9L1020.6 378.8L1021.4 377.5L1022.1 377.2L1022.9 380.1L1023.6 381.4L1024.4 381.1L1025.1 377.2L1025.9 377.5L1026.7 377.4L1027.4 379.4L1028.2 375.8L1028.9 378.1L1029.7 377.5L1030.4 378.7L1031.1 380.2L1031.9 378.2L1032.6 378.3L1033.4 378.4L1034.1 377.7L1034.9 380.0L1035.6 376.7L1036.3 376.9L1037.1 379.3L1037.8 379.7L1038.6 377.4L1039.3 378.5L1040.1 378.1L1040.8 376.9L1041.5 380.8L1042.3 377.6L1043.0 380.1L1043.8 378.5L1044.5 379.2L1045.3 380.5L1046.0 378.7L1046.7 378.5L1047.5 379.5L1048.2 379.6L1049.0 380.8L1049.7 377.4L1050.5 379.9L1051.2 379.5L1051.9 380.5L1052.7 381.4L1053.4 378.4L1054.2 378.8L1054.9 381.3L1055.7 379.9L1056.4 378.3L1057.1 379.6L1057.9 380.1L1058.6 379.9L1059.4 380.0L1060.1 380.1L1060.9 378.2L1061.6 378.8L1062.3 381.6L1063.1 381.3L1063.8 379.5L1064.6 380.5L1065.3 380.1L1066.1 379.2L1066.8 380.3L1067.6 377.9L1068.4 380.5L1069.1 379.1L1069.9 377.1L1070.7 378.5L1071.4 377.5L1072.2 375.2L1073.0 376.2L1073.7 376.3L1074.5 373.9L1075.3 375.2L1076.0 374.9L1076.8 375.5L1077.5 373.2L1078.3 376.1L1079.1 378.1L1079.8 375.5L1080.6 377.5L1081.4 378.4L1082.1 377.8L1082.9 379.9L1083.7 380.7L1084.4 379.4L1085.2 378.5L1086.0 379.1L1086.7 378.8L1087.5 379.8L1088.2 380.4L1089.0 381.8L1089.8 381.2L1090.5 381.7L1091.3 383.5L1092.1 383.7L1092.8 382.0L1093.6 382.4L1094.3 383.8L1095.1 383.5L1095.8 380.2L1096.6 380.6L1097.3 384.9L1098.1 381.1L1098.8 382.2L1099.6 382.8L1100.3 379.9L1101.1 379.8L1101.8 382.7L1102.6 382.1L1103.4 381.6L1104.1 380.6L1104.9 379.6L1105.6 380.3L1106.4 382.6L1107.1 382.2L1107.9 379.5L1108.6 380.3L1109.4 379.5L1110.1 381.2L1110.9 380.8L1111.6 381.7L1112.4 379.4L1113.1 379.0L1113.9 379.4L1114.6 380.8L1115.4 380.2L1116.1 381.0L1116.9 379.4L1117.6 379.1L1118.4 379.0L1119.2 380.6L1119.9 378.6L1120.7 380.3L1121.4 380.2L1122.2 377.4L1122.9 380.5" fill="none" stroke="#0808ff" stroke-width="1.0" stroke-linejoin="round" />
<path d="M668.6 376.1L669.3 375.4L670.1 381.8L670.9 379.6L671.6 378.5L672.4 376.6L673.1 382.3L673.9 380.0L674.7 379.8L675.4 374.5L676.2 378.0L676.9 377.6L677.7 377.6L678.4 380.6L679.2 376.8L680.0 374.9L680.7 376.3L681.5 380.9L682.2 376.0L683.0 377.0L683.7 378.6L684.5 377.2L685.2 377.6L686.0 375.3L686.7 376.4L687.5 379.5L688.2 374.8L688.9 380.2L689.7 374.6L690.4 377.0L691.2 376.3L691.9 377.3L692.7 376.7L693.4 378.2L694.1 376.6L694.9 375.5L695.6 373.1L696.4 374.8L697.1 372.9L697.9 373.4L698.6 380.9L699.4 378.6L700.1 379.6L700.8 378.9L701.6 381.9L702.3 376.7L703.1 374.8L703.9 374.3L704.6 373.7L705.4 376.0L706.2 374.8L706.9 372.7L707.8 371.3L708.7 368.4L709.4 360.5L710.0 369.9L710.7 374.3L711.4 380.4L712.1 377.7L712.9 379.6L713.6 376.7L714.3 371.2L715.1 380.5L715.8 380.5L716.5 376.7L717.3 379.2L718.0 382.7L718.8 381.1L719.5 378.5L720.2 378.2L721.0 376.3L721.7 377.4L722.4 379.6L723.2 383.8L723.9 375.2L724.6 377.8L725.4 379.8L726.1 382.2L726.9 375.4L727.6 378.5L728.3 378.2L729.1 379.4L729.8 379.4L730.6 379.0L731.3 383.0L732.0 374.8L732.8 379.7L733.5 379.6L734.3 384.0L735.0 379.7L735.8 379.8L736.5 382.8L737.2 379.7L738.0 384.7L738.7 383.1L739.4 385.2L740.2 376.7L740.9 377.3L741.6 380.7L742.4 383.1L743.1 381.1L743.9 382.9L744.6 380.6L745.3 381.3L746.1 382.2L746.8 376.1L747.5 379.8L748.3 384.6L749.0 379.6L749.7 379.7L750.5 378.7L751.3 378.3L752.0 382.2L752.8 376.1L753.5 381.1L754.3 381.2L755.1 384.8L755.8 382.8L756.6 380.5L757.4 383.1L758.1 384.1L758.9 383.9L759.7 384.6L760.4 386.0L761.1 385.9L761.9 383.7L762.6 386.0L763.3 386.9L764.0 385.9L764.7 387.5L765.4 384.8L766.1 386.6L766.8 384.3L767.6 389.0L768.3 386.1L769.0 389.8L769.7 390.3L770.4 391.1L771.1 390.0L771.8 390.6L772.5 386.8L773.3 392.2L774.0 393.9L774.7 388.2L775.4 392.3L776.1 385.6L776.8 387.5L777.5 386.4L778.3 390.3L779.0 386.8L779.7 387.5L780.4 386.7L781.1 382.4L781.8 382.7L782.6 383.4L783.3 383.2L784.1 381.3L784.8 384.2L785.5 386.8L786.3 384.7L787.0 383.9L787.8 383.0L788.5 384.0L789.3 382.5L790.0 384.8L790.7 387.0L791.5 383.0L792.2 384.4L793.0 384.8L793.7 381.8L794.5 388.5L795.2 384.8L795.9 383.6L796.7 388.2L797.4 387.0L798.2 390.6L798.9 392.0L799.7 386.8L800.4 383.6L801.1 385.7L801.9 385.8L802.6 389.7L803.4 382.6L804.1 385.4L804.9 384.1L805.6 384.1L806.3 386.4L807.1 381.3L807.8 382.5L808.6 380.0L809.3 379.6L810.1 383.0L810.8 382.0L811.5 381.1L812.3 383.4L813.0 382.6L813.8 384.3L814.5 386.9L815.3 384.5L816.0 389.1L816.7 384.9L817.5 388.1L818.2 387.8L819.0 384.8L819.7 389.8L820.5 387.5L821.2 389.0L821.9 386.8L822.7 388.5L823.4 387.6L824.2 386.7L824.9 387.4L825.7 388.9L826.4 388.6L827.1 387.5L827.8 393.2L828.5 393.1L829.3 394.9L830.0 399.3L830.7 397.7L831.5 393.7L832.3 392.5L833.0 392.4L833.8 393.0L834.6 388.3L835.3 385.1L836.1 382.8L836.8 387.3L837.5 386.5L838.3 382.6L839.0 387.8L839.8 384.5L840.5 381.7L841.3 381.2L842.0 382.5L842.7 383.4L843.5 383.4L844.2 384.7L845.0 379.6L845.7 380.5L846.5 383.2L847.2 379.1L847.9 379.5L848.7 385.5L849.4 379.1L850.2 383.7L850.9 378.2L851.7 381.2L852.4 381.4L853.1 378.5L853.9 380.2L854.6 376.9L855.4 381.0L856.1 381.1L856.9 378.6L857.6 375.4L858.3 376.8L859.1 374.7L859.8 380.3L860.6 376.7L861.3 377.4L862.1 379.0L862.8 377.0L863.6 384.1L864.3 375.5L865.0 376.8L865.8 381.1L866.5 381.4L867.3 379.8L868.0 379.9L868.8 380.1L869.5 378.4L870.2 379.6L871.0 378.8L871.7 380.2L872.5 380.7L873.2 380.6L874.0 383.0L874.7 376.8L875.4 382.8L876.2 377.7L876.9 375.5L877.7 375.7L878.4 374.3L879.2 375.6L879.9 378.8L880.6 374.5L881.4 376.9L882.1 384.9L882.9 378.9L883.6 376.5L884.4 377.2L885.1 377.1L885.9 377.2L886.6 387.3L887.3 379.8L888.1 379.9L888.8 379.8L889.6 380.0L890.3 375.8L891.1 382.7L891.8 374.8L892.5 376.2L893.3 374.1L894.0 375.4L894.8 379.6L895.5 377.0L896.3 377.8L897.0 380.0L897.8 378.9L898.6 378.2L899.4 376.8L900.1 380.6L900.9 373.7L901.7 376.1L902.5 377.4L903.3 374.8L904.0 375.2L904.8 374.3L905.6 374.4L906.3 377.5L907.1 375.4L907.8 375.7L908.6 378.0L909.3 377.0L910.1 378.4L910.8 376.7L911.6 373.3L912.3 376.8L913.1 375.1L913.8 373.3L914.6 374.4L915.3 374.3L916.1 374.1L916.8 375.8L917.6 373.3L918.3 377.0L919.1 373.6L919.8 370.2L920.6 374.3L921.3 379.5L922.0 369.0L922.8 374.4L923.5 378.3L924.2 377.8L925.0 371.9L925.7 376.2L926.4 372.6L927.2 376.4L927.9 373.9L928.6 376.0L929.4 377.3L930.1 369.0L930.8 377.2L931.6 379.8L932.3 378.2L933.1 378.2L933.9 375.3L934.6 380.6L935.4 382.1L936.2 377.0L936.9 382.8L937.7 379.6L938.5 379.1L939.2 379.4L940.0 380.3L940.7 381.6L941.5 377.3L942.3 380.8L943.0 380.7L943.8 376.1L944.6 378.8L945.3 384.3L946.1 383.0L946.9 383.4L947.6 384.4L948.4 380.2L949.2 381.9L949.9 385.5L950.7 385.9L951.4 384.4L952.2 383.4L953.0 380.3L953.7 386.8L954.5 379.0L955.3 385.3L956.0 382.1L956.8 377.0L957.6 380.1L958.3 381.8L959.1 381.6L959.8 383.0L960.6 382.1L961.3 387.3L962.1 377.9L962.8 377.3L963.6 383.1L964.3 380.1L965.1 376.9L965.8 381.0L966.6 382.0L967.3 380.1L968.1 380.0L968.8 382.8L969.6 385.5L970.3 380.0L971.1 378.1L971.8 377.7L972.6 379.3L973.3 380.5L974.1 376.6L974.8 383.8L975.5 384.0L976.2 385.4L977.0 387.7L977.7 384.8L978.4 385.3L979.2 389.4L979.9 390.9L980.6 388.6L981.4 388.8L982.2 386.7L983.0 387.4L983.7 384.9L984.5 385.9L985.3 384.9L986.1 383.3L986.9 381.2L987.6 379.8L988.4 385.4L989.1 385.2L989.9 378.4L990.7 384.5L991.4 381.0L992.2 386.8L993.0 388.1L993.7 388.4L994.5 389.9L995.3 392.4L996.0 390.7L996.8 394.6L997.6 392.3L998.4 384.4L999.3 375.2L1000.2 351.6L1001.1 364.2L1002.0 373.3L1002.8 372.8L1003.5 375.8L1004.3 375.5L1005.0 376.4L1005.8 374.4L1006.5 379.3L1007.3 372.2L1008.0 379.1L1008.8 380.5L1009.6 375.0L1010.3 376.2L1011.1 376.8L1011.8 381.5L1012.5 387.8L1013.2 400.0L1014.0 408.7L1014.9 396.9L1015.7 393.5L1016.5 388.8L1017.2 388.0L1018.0 386.1L1018.7 385.8L1019.4 382.0L1020.2 389.5L1020.9 385.4L1021.7 382.0L1022.4 384.8L1023.1 384.1L1023.9 385.1L1024.6 383.6L1025.3 383.1L1026.1 384.8L1026.8 382.3L1027.5 383.7L1028.2 382.1L1028.9 385.9L1029.7 382.7L1030.4 388.8L1031.1 388.7L1031.9 385.1L1032.6 393.2L1033.4 391.7L1034.1 398.8L1034.9 394.0L1035.7 387.5L1036.5 377.5L1037.3 374.0L1037.9 369.4L1038.6 363.8L1039.5 371.1L1040.4 376.3L1041.1 380.6L1041.8 378.6L1042.6 381.0L1043.3 379.2L1044.0 382.2L1044.8 382.5L1045.5 387.0L1046.2 379.5L1047.0 380.4L1047.7 384.0L1048.4 386.1L1049.2 382.4L1049.9 383.3L1050.6 383.3L1051.4 383.0L1052.1 380.9L1052.8 384.6L1053.6 379.7L1054.3 383.4L1055.0 381.8L1055.8 384.9L1056.5 384.2L1057.2 381.4L1058.0 381.5L1058.7 380.5L1059.4 375.0L1060.2 382.1L1060.9 377.5L1061.6 379.7L1062.4 377.5L1063.1 379.2L1063.8 379.2L1064.6 374.8L1065.3 374.3L1066.1 364.7L1066.9 379.1L1067.6 376.5L1068.4 379.4L1069.2 376.9L1070.0 377.7L1070.7 377.4L1071.5 376.2L1072.3 374.8L1073.0 377.4L1073.8 376.5L1074.6 379.2L1075.3 369.2L1076.0 368.0L1076.9 372.0L1077.8 378.4L1078.6 379.7L1079.3 378.0L1080.1 376.9L1080.9 378.7L1081.6 383.4L1082.4 382.0L1083.1 385.9L1083.9 381.2L1084.7 379.2L1085.4 383.5L1086.2 383.4L1087.0 383.6L1087.7 386.6L1088.5 383.7L1089.2 387.3L1090.0 389.1L1090.7 383.7L1091.5 389.2L1092.2 389.5L1093.0 388.7L1093.7 390.2L1094.4 390.0L1095.2 391.9L1095.9 392.9L1096.7 392.1L1097.4 394.7L1098.2 389.1L1098.9 393.5L1099.6 395.0L1100.4 391.9L1101.1 392.1L1101.9 388.2L1102.6 389.3L1103.4 400.6L1104.1 390.4L1104.8 388.1L1105.6 390.4L1106.3 387.3L1107.1 392.3L1107.8 385.7L1108.6 385.5L1109.3 387.7L1110.0 388.0L1110.8 385.8L1111.5 387.5L1112.3 383.2L1113.0 384.8L1113.8 382.8L1114.5 381.6L1115.2 383.9L1116.0 382.5L1116.8 382.4L1117.5 379.6L1118.3 380.3L1119.1 385.8L1119.8 384.2L1120.6 380.2L1121.4 385.0L1122.1 383.6L1122.9 384.0" fill="none" stroke="#10f010" stroke-width="1.0" stroke-linejoin="round" />
<path d="M668.6 380.0L669.4 379.9L670.1 380.8L670.9 381.0L671.6 375.5L672.4 381.9L673.2 380.8L673.9 379.3L674.8 382.4L675.5 388.3L676.3 374.5L677.0 377.8L677.8 378.2L678.5 386.6L679.3 377.9L680.0 373.9L680.8 378.7L681.5 375.9L682.2 379.6L683.0 378.5L683.7 377.2L684.5 374.0L685.2 380.6L686.0 374.3L686.7 377.4L687.5 378.9L688.2 374.5L688.9 375.1L689.7 373.0L690.4 377.6L691.2 369.4L691.9 373.9L692.7 371.2L693.4 373.3L694.1 374.6L694.9 379.6L695.6 375.6L696.4 375.5L697.1 371.7L697.9 378.0L698.6 383.6L699.4 377.2L700.1 377.7L700.8 379.3L701.6 377.2L702.3 376.6L703.1 382.2L703.8 380.6L704.6 381.0L705.3 377.6L706.0 384.9L706.8 375.8L707.5 376.9L708.3 382.3L709.0 378.7L709.8 383.2L710.5 383.6L711.2 376.4L712.0 378.5L712.7 381.6L713.5 379.8L714.2 378.7L715.0 378.0L715.7 389.9L716.4 379.0L717.2 370.5L717.9 379.5L718.7 378.5L719.4 382.3L720.2 380.0L720.9 375.5L721.6 380.1L722.4 381.0L723.1 378.1L723.9 388.5L724.6 381.6L725.4 382.0L726.1 381.4L726.8 377.9L727.6 382.4L728.3 383.3L729.1 381.3L729.8 382.2L730.6 382.8L731.3 379.9L732.0 384.9L732.8 384.1L733.5 384.8L734.3 385.9L735.0 380.1L735.8 384.1L736.5 382.3L737.2 385.5L738.0 381.7L738.7 385.8L739.5 384.4L740.2 384.1L741.0 387.8L741.7 383.4L742.4 385.2L743.2 388.9L743.9 386.6L744.7 385.2L745.4 383.4L746.2 382.1L746.9 387.0L747.6 392.9L748.3 387.1L749.0 388.4L749.7 390.0L750.4 385.4L751.2 386.6L751.9 392.0L752.6 397.9L753.3 390.7L754.0 391.7L754.7 395.3L755.4 389.8L756.1 388.2L756.9 387.2L757.6 387.4L758.3 391.1L759.0 389.7L759.7 388.7L760.4 386.8L761.1 384.5L761.9 386.0L762.6 386.8L763.3 385.3L764.0 382.6L764.7 384.6L765.4 387.9L766.1 388.1L766.8 382.8L767.6 380.9L768.3 382.9L769.0 377.0L769.7 373.1L770.4 372.7L771.1 375.2L771.8 369.6L772.5 366.1L773.1 366.8L773.8 363.4L774.6 350.6L775.3 369.7L776.1 379.4L776.9 376.4L777.7 373.8L778.4 375.0L779.2 372.2L780.0 372.1L780.8 373.5L781.5 371.5L782.3 373.1L783.1 370.8L783.8 375.5L784.6 370.8L785.4 373.6L786.1 372.3L786.8 371.0L787.5 374.2L788.2 372.4L789.0 373.4L789.7 372.3L790.4 369.8L791.1 377.8L791.8 371.8L792.5 375.6L793.2 374.8L793.9 378.6L794.7 368.8L795.4 373.9L796.1 376.1L796.8 372.6L797.5 369.8L798.2 373.0L798.9 374.3L799.7 373.0L800.4 373.1L801.1 372.5L801.9 374.7L802.6 374.9L803.4 374.9L804.1 371.9L804.9 372.6L805.6 369.3L806.3 377.7L807.1 373.2L807.8 374.0L808.6 369.9L809.3 370.9L810.1 368.5L810.9 371.5L811.6 375.4L812.4 371.8L813.2 370.4L813.9 364.3L814.6 370.3L815.3 369.4L816.1 365.9L816.8 368.4L817.5 367.4L818.2 364.5L818.9 366.6L819.6 361.6L820.3 362.6L821.1 364.7L821.8 367.3L822.6 364.4L823.3 363.7L824.1 365.7L824.9 368.3L825.6 361.7L826.4 364.9L827.1 362.2L827.7 359.4L828.4 355.5L829.1 347.0L829.7 344.2L830.3 346.8L831.0 354.5L831.8 374.1L832.4 368.9L833.1 364.5L833.8 357.9L834.4 350.1L835.2 357.5L835.9 352.4L836.7 354.7L837.4 363.9L838.1 358.5L838.9 359.9L839.6 363.3L840.4 354.7L841.1 358.6L841.9 351.6L842.6 350.2L843.3 353.8L844.0 355.0L844.7 357.9L845.3 358.3L846.0 363.7L846.7 357.2L847.4 359.4L848.2 362.1L848.9 366.9L849.6 357.5L850.3 362.2L851.0 362.7L851.7 360.7L852.4 362.5L853.1 363.1L853.9 362.2L854.6 363.5L855.4 361.7L856.1 364.3L856.9 364.4L857.6 361.1L858.3 365.6L859.1 365.7L859.8 361.3L860.6 363.9L861.3 361.3L862.1 365.5L862.8 369.7L863.6 364.9L864.4 366.9L865.1 367.7L865.9 351.2L866.6 362.1L867.4 362.2L868.1 363.2L868.8 362.7L869.6 366.0L870.3 363.9L871.0 367.7L871.7 366.3L872.4 372.6L873.1 370.2L873.8 373.2L874.5 376.7L875.3 370.7L876.1 371.3L876.8 369.1L877.6 373.3L878.4 366.1L879.1 365.9L879.9 360.6L880.6 369.2L881.4 367.4L882.1 364.9L882.9 373.8L883.6 371.6L884.4 368.9L885.1 372.6L885.8 373.6L886.6 365.4L887.3 374.5L888.1 370.0L888.8 371.7L889.6 373.9L890.3 374.8L891.0 366.2L891.8 368.4L892.5 369.0L893.3 371.6L894.0 368.2L894.8 372.5L895.5 372.3L896.3 371.5L897.0 374.6L897.8 374.3L898.6 372.9L899.4 372.1L900.1 372.7L900.9 368.6L901.7 368.6L902.5 369.4L903.3 369.7L904.0 370.9L904.8 367.2L905.6 367.2L906.3 366.0L907.1 367.5L907.8 364.3L908.5 362.9L909.3 363.7L910.0 368.3L910.8 360.2L911.5 365.8L912.3 363.3L913.0 362.4L913.7 366.4L914.5 359.5L915.3 360.4L916.0 363.9L916.8 369.1L917.6 368.0L918.3 364.7L919.1 369.4L919.8 370.2L920.6 367.1L921.3 364.7L922.0 370.3L922.8 366.4L923.5 372.9L924.2 373.2L925.0 371.2L925.7 368.3L926.4 371.8L927.2 368.6L927.9 369.3L928.6 369.6L929.4 369.2L930.1 371.3L930.8 371.6L931.6 369.2L932.3 371.9L933.1 374.4L933.9 372.3L934.6 371.2L935.4 374.0L936.2 374.7L936.9 372.6L937.7 373.9L938.5 371.0L939.2 370.4L940.0 375.5L940.7 371.9L941.5 374.6L942.3 374.5L943.0 371.7L943.8 376.1L944.5 378.3L945.3 384.1L946.0 385.4L946.7 390.4L947.6 377.3L948.5 364.3L949.2 358.3L949.9 352.2L950.7 350.4L951.4 341.5L952.1 338.2L952.8 344.8L953.4 354.2L954.1 363.8L954.8 371.6L955.5 370.4L956.2 364.0L956.9 365.4L957.6 356.1L958.3 360.2L959.2 347.1L960.1 338.2L960.8 344.4L961.5 343.8L962.2 339.6L963.0 338.4L963.7 345.1L964.3 351.2L965.0 353.1L965.7 360.0L966.4 363.9L967.1 367.0L967.9 366.5L968.7 370.4L969.5 365.6L970.3 365.3L971.0 370.5L971.8 372.9L972.6 369.8L973.3 373.9L974.0 373.8L974.7 367.5L975.4 362.8L976.2 363.0L976.9 367.1L977.6 360.6L978.3 359.9L979.0 355.3L979.7 356.4L980.4 356.5L981.2 354.8L981.9 352.4L982.6 354.7L983.3 353.5L984.0 348.2L984.6 350.6L985.3 345.9L986.0 349.0L986.6 360.8L987.3 363.0L988.0 370.6L988.6 374.3L989.4 375.0L990.2 371.1L990.9 367.7L991.7 365.2L992.5 362.1L993.2 365.9L994.0 358.3L994.7 363.3L995.4 366.9L996.1 372.3L996.8 382.1L997.6 382.5L998.3 381.7L999.1 379.0L999.8 380.1L1000.6 381.2L1001.4 379.6L1002.1 379.6L1002.9 375.3L1003.6 379.4L1004.4 370.9L1005.1 376.2L1005.9 373.5L1006.6 378.8L1007.4 370.9L1008.1 371.0L1008.8 370.7L1009.6 370.8L1010.3 371.0L1011.1 369.9L1011.8 370.0L1012.7 383.8L1013.6 401.1L1014.3 392.6L1015.0 390.3L1015.7 379.9L1016.5 377.4L1017.2 361.3L1017.9 363.9L1018.6 367.7L1019.3 368.7L1020.0 363.9L1020.7 364.9L1021.5 364.6L1022.2 368.0L1022.9 364.8L1023.6 362.3L1024.3 362.6L1025.1 362.3L1025.8 367.2L1026.6 367.6L1027.4 372.6L1028.1 370.7L1028.9 375.4L1029.7 374.9L1030.4 371.0L1031.1 372.7L1031.9 366.8L1032.6 362.7L1033.4 361.2L1034.1 357.2L1034.9 361.0L1035.6 368.7L1036.3 375.6L1037.1 376.5L1037.8 383.6L1038.6 391.7L1039.3 388.9L1040.0 378.4L1040.7 379.0L1041.4 379.4L1042.1 370.0L1042.9 372.2L1043.6 371.5L1044.4 370.6L1045.1 371.7L1045.9 369.1L1046.6 370.3L1047.3 373.8L1048.1 373.8L1048.8 373.0L1049.6 374.6L1050.3 370.9L1051.1 371.2L1051.8 374.6L1052.6 368.1L1053.3 373.7L1054.1 375.6L1054.9 375.3L1055.6 373.2L1056.4 372.3L1057.2 375.6L1057.9 374.6L1058.7 375.8L1059.5 376.2L1060.2 375.5L1061.0 380.6L1061.8 377.0L1062.5 377.6L1063.3 375.6L1064.0 379.4L1064.8 380.9L1065.6 379.9L1066.3 379.9L1067.1 380.6L1067.9 379.3L1068.6 383.1L1069.4 382.5L1070.2 384.2L1070.9 382.9L1071.7 383.4L1072.4 377.6L1073.2 385.2L1073.9 383.4L1074.6 381.8L1075.3 381.1L1076.0 381.5L1076.7 375.4L1077.4 383.2L1078.2 375.6L1078.9 375.3L1079.6 375.1L1080.3 374.1L1081.1 380.7L1081.8 366.7L1082.6 376.1L1083.3 375.2L1084.0 374.6L1084.8 373.0L1085.5 369.2L1086.3 372.9L1087.0 370.3L1087.8 372.0L1088.5 369.4L1089.2 367.2L1090.0 370.5L1090.7 365.9L1091.5 368.3L1092.2 366.8L1093.0 369.2L1093.7 373.1L1094.4 372.6L1095.2 370.5L1095.9 370.3L1096.7 371.5L1097.4 370.2L1098.2 369.7L1099.0 364.7L1099.8 366.8L1100.5 365.7L1101.3 360.9L1102.1 364.4L1102.9 361.2L1103.7 364.6L1104.4 364.8L1105.2 366.7L1106.0 366.9L1106.8 365.1L1107.6 367.8L1108.3 373.0L1109.1 368.5L1109.9 372.1L1110.7 373.2L1111.4 375.1L1112.2 371.9L1113.0 371.2L1113.7 368.3L1114.5 369.3L1115.2 367.5L1116.0 365.1L1116.8 366.1L1117.5 373.1L1118.3 367.9L1119.1 366.9L1119.8 373.1L1120.6 372.3L1121.4 371.8L1122.1 376.2L1122.9 373.3" fill="none" stroke="#ff0808" stroke-width="1.0" stroke-linejoin="round" />
<path d="M668.6 447.2L669.3 447.7L670.1 447.1L670.8 447.9L671.6 448.8L672.4 448.6L673.1 448.8L673.9 447.9L674.6 447.7L675.4 446.8L676.1 446.3L676.9 448.8L677.6 447.4L678.4 447.0L679.1 446.2L679.9 448.6L680.6 447.7L681.4 446.3L682.1 446.4L682.9 446.5L683.6 447.2L684.4 448.0L685.1 448.5L685.9 448.0L686.6 445.2L687.4 448.0L688.1 448.6L688.9 446.3L689.7 448.1L690.4 447.3L691.2 449.6L691.9 447.7L692.7 448.6L693.4 449.1L694.1 447.0L694.9 443.1L695.6 445.8L696.3 445.7L697.1 447.8L697.8 447.1L698.5 447.7L699.3 447.2L700.0 448.2L700.7 447.4L701.5 447.4L702.2 446.4L702.9 446.9L703.7 447.8L704.4 445.5L705.1 445.6L705.9 445.6L706.6 444.1L707.3 444.6L708.0 446.7L708.7 443.2L709.4 445.8L710.0 446.3L710.7 447.3L711.4 448.1L712.1 449.7L712.9 451.4L713.6 448.5L714.3 449.5L715.1 451.5L715.8 448.4L716.5 448.7L717.3 450.4L718.0 449.5L718.8 448.9L719.5 449.5L720.2 450.2L721.0 450.0L721.7 449.5L722.4 450.1L723.2 447.6L723.9 450.2L724.6 448.3L725.4 448.2L726.1 448.3L726.9 450.1L727.6 449.0L728.3 448.5L729.1 449.1L729.8 447.0L730.6 448.3L731.3 450.8L732.0 447.8L732.8 447.3L733.5 449.3L734.3 447.3L735.0 447.8L735.8 449.9L736.5 449.9L737.2 449.9L738.0 449.4L738.7 448.3L739.5 450.6L740.2 448.5L741.0 449.2L741.7 450.0L742.4 450.8L743.2 449.7L743.9 448.7L744.7 449.8L745.4 447.1L746.2 449.1L746.9 449.2L747.6 450.6L748.4 449.5L749.1 447.8L749.9 449.9L750.6 450.1L751.4 448.9L752.1 448.7L752.8 451.1L753.6 450.6L754.3 449.5L755.1 450.3L755.8 449.6L756.6 450.4L757.3 450.1L758.0 449.9L758.8 453.4L759.5 450.1L760.3 450.3L761.0 448.4L761.8 450.0L762.5 450.7L763.2 450.2L764.0 448.9L764.8 454.9L765.5 451.7L766.3 448.9L767.0 450.6L767.8 451.1L768.6 450.7L769.3 451.7L770.1 451.0L770.9 451.9L771.6 452.7L772.4 452.2L773.2 452.9L773.9 452.6L774.7 453.8L775.4 453.0L776.1 452.2L776.8 452.3L777.5 452.6L778.3 451.4L779.0 452.6L779.7 452.5L780.4 451.5L781.1 451.4L781.8 451.3L782.6 450.9L783.3 450.5L784.1 450.6L784.8 449.7L785.5 450.5L786.3 449.1L787.0 450.6L787.8 450.2L788.5 450.8L789.3 449.4L790.0 448.1L790.7 449.9L791.5 450.4L792.2 449.3L793.0 447.6L793.7 449.4L794.5 450.0L795.2 449.1L795.9 447.5L796.7 451.5L797.4 448.6L798.2 447.4L798.9 451.0L799.7 449.0L800.3 454.4L801.0 451.3L801.7 452.9L802.3 456.7L803.0 453.5L803.7 451.9L804.3 449.6L805.0 449.5L805.7 448.0L806.5 449.4L807.2 448.1L807.9 447.1L808.7 449.9L809.4 449.0L810.1 448.5L810.9 449.4L811.6 451.7L812.3 449.2L813.1 449.0L813.8 450.0L814.5 449.7L815.3 451.3L816.0 450.2L816.8 450.0L817.5 452.4L818.2 450.9L819.0 450.4L819.7 451.9L820.5 450.5L821.2 448.6L821.9 450.4L822.7 450.1L823.4 448.5L824.2 451.1L824.9 450.0L825.7 450.4L826.4 449.9L827.1 450.2L827.9 450.4L828.6 451.1L829.4 452.4L830.1 449.3L830.9 449.4L831.6 447.8L832.3 449.9L833.1 448.6L833.8 450.4L834.6 449.5L835.3 449.9L836.1 448.2L836.8 450.9L837.5 449.8L838.3 448.3L839.0 449.2L839.8 450.6L840.5 449.0L841.3 448.4L842.0 450.1L842.7 449.0L843.5 451.6L844.2 446.9L845.0 449.2L845.7 448.5L846.5 447.7L847.2 449.8L847.9 448.8L848.7 449.1L849.4 446.4L850.2 449.6L850.9 449.9L851.7 449.2L852.4 447.8L853.1 446.7L853.9 447.1L854.7 447.3L855.4 448.4L856.2 451.7L856.9 448.7L857.7 448.7L858.4 448.5L859.2 448.5L860.0 447.4L860.7 447.6L861.5 447.8L862.2 447.1L863.0 447.5L863.7 446.9L864.5 446.9L865.2 447.3L866.0 449.1L866.8 447.4L867.5 448.0L868.3 446.6L869.0 447.0L869.8 447.8L870.5 447.7L871.3 449.6L872.1 447.9L872.8 446.1L873.6 446.5L874.3 448.5L875.1 448.0L875.8 447.4L876.6 447.0L877.4 447.7L878.1 446.8L878.9 447.0L879.6 449.0L880.4 448.0L881.1 447.6L881.9 449.1L882.6 447.6L883.4 447.1L884.2 448.1L884.9 447.2L885.7 447.0L886.4 448.3L887.2 446.8L887.9 447.1L888.7 448.6L889.5 446.4L890.2 447.2L891.0 447.4L891.7 446.0L892.5 448.1L893.2 447.1L894.0 448.7L894.7 446.6L895.5 449.1L896.3 450.1L897.0 447.1L897.8 449.0L898.5 447.4L899.3 447.1L900.1 448.6L900.8 447.0L901.6 446.8L902.3 447.6L903.1 447.4L903.9 447.5L904.6 447.1L905.4 448.1L906.2 445.5L906.9 447.8L907.7 445.6L908.4 447.1L909.2 446.5L910.0 447.8L910.7 446.9L911.5 446.4L912.2 447.3L913.0 446.2L913.8 445.8L914.5 444.0L915.3 446.8L916.1 447.4L916.8 448.7L917.6 446.1L918.3 447.7L919.1 445.3L919.8 446.6L920.6 447.9L921.3 447.9L922.0 446.7L922.8 445.6L923.5 444.8L924.3 447.5L925.0 446.7L925.7 447.6L926.5 446.0L927.2 447.5L928.0 446.3L928.7 446.4L929.4 447.8L930.2 446.4L930.9 446.9L931.6 447.3L932.4 445.4L933.1 446.7L933.9 445.2L934.6 447.5L935.3 448.2L936.1 447.3L936.8 447.3L937.5 445.8L938.3 445.7L939.0 448.5L939.8 449.1L940.5 446.7L941.2 447.8L942.0 448.3L942.7 448.7L943.5 448.8L944.2 447.8L945.0 448.2L945.7 447.1L946.4 449.0L947.2 446.3L947.9 447.5L948.7 447.9L949.4 446.9L950.2 448.0L950.9 447.0L951.6 446.2L952.4 445.3L953.1 448.6L953.9 447.9L954.6 447.8L955.4 449.6L956.1 446.0L956.8 448.4L957.6 448.8L958.3 446.5L959.1 447.7L959.8 449.4L960.5 446.6L961.3 447.1L962.0 447.8L962.8 447.4L963.5 446.9L964.2 447.6L965.0 448.0L965.7 449.9L966.4 449.1L967.2 447.7L967.9 449.6L968.7 447.5L969.4 447.4L970.1 446.4L970.9 447.8L971.6 448.4L972.3 448.1L973.1 447.9L973.8 448.4L974.6 446.9L975.3 447.9L976.0 449.5L976.8 448.4L977.5 448.7L978.2 448.1L979.0 448.7L979.7 450.0L980.5 448.4L981.2 451.2L982.0 450.1L982.7 447.0L983.4 447.9L984.2 448.0L984.9 448.4L985.7 448.3L986.4 448.6L987.2 447.7L987.9 447.8L988.6 448.6L989.4 448.2L990.1 449.7L990.9 447.2L991.6 448.9L992.4 446.9L993.1 447.4L993.8 447.2L994.6 449.3L995.3 450.0L996.1 446.5L996.8 448.8L997.6 446.4L998.3 446.3L999.0 448.4L999.7 444.9L1000.4 446.2L1001.1 443.9L1001.8 443.7L1002.5 444.3L1003.3 445.8L1004.0 446.2L1004.7 448.0L1005.5 448.9L1006.2 447.8L1007.0 449.1L1007.8 448.7L1008.6 451.8L1009.3 450.5L1010.1 450.1L1010.9 450.7L1011.6 451.9L1012.4 450.5L1013.2 450.5L1014.0 450.1L1014.7 451.9L1015.5 451.2L1016.2 451.1L1017.0 450.6L1017.8 452.2L1018.5 453.1L1019.3 451.9L1020.0 452.1L1020.8 450.6L1021.5 453.3L1022.3 452.1L1023.1 453.0L1023.8 450.4L1024.6 450.6L1025.3 450.0L1026.1 451.0L1026.8 451.0L1027.6 450.7L1028.3 449.4L1029.0 449.5L1029.8 449.9L1030.5 450.0L1031.2 449.2L1032.0 448.4L1032.7 447.3L1033.4 447.6L1034.2 446.9L1034.9 448.2L1035.6 446.5L1036.4 446.4L1037.1 447.1L1037.8 446.6L1038.6 446.5L1039.3 447.9L1040.1 448.0L1040.8 446.5L1041.5 445.9L1042.3 448.6L1043.0 445.9L1043.8 447.5L1044.5 447.2L1045.3 448.3L1046.0 447.2L1046.7 448.2L1047.5 448.1L1048.2 449.3L1049.0 448.5L1049.7 445.0L1050.5 447.1L1051.2 447.9L1051.9 447.1L1052.7 447.1L1053.4 449.2L1054.2 448.4L1054.9 449.7L1055.7 449.7L1056.4 450.0L1057.1 449.3L1057.9 446.6L1058.6 448.7L1059.4 446.8L1060.1 447.8L1060.9 449.7L1061.6 448.8L1062.3 449.5L1063.1 448.9L1063.8 448.6L1064.6 449.2L1065.3 449.2L1066.1 448.4L1066.8 449.2L1067.6 448.1L1068.4 449.8L1069.1 447.6L1069.9 446.9L1070.7 445.8L1071.4 448.9L1072.2 448.7L1073.0 447.8L1073.7 445.6L1074.5 447.1L1075.3 447.2L1076.0 448.0L1076.7 446.5L1077.4 446.2L1078.2 447.0L1078.9 447.3L1079.6 450.4L1080.3 449.8L1081.0 450.8L1081.7 450.6L1082.4 450.7L1083.1 452.1L1083.9 451.6L1084.6 452.4L1085.4 449.4L1086.1 450.3L1086.9 450.3L1087.6 450.6L1088.3 449.8L1089.1 449.7L1089.8 452.1L1090.6 452.7L1091.3 450.4L1092.1 450.8L1092.8 451.0L1093.6 453.0L1094.3 449.8L1095.0 452.1L1095.8 449.2L1096.5 448.7L1097.3 449.1L1098.0 448.3L1098.8 449.7L1099.5 450.3L1100.2 446.8L1101.0 450.3L1101.7 451.1L1102.5 450.1L1103.2 449.7L1104.0 449.6L1104.7 448.9L1105.5 449.6L1106.2 449.5L1107.0 449.5L1107.7 448.8L1108.5 448.8L1109.2 450.2L1110.0 449.0L1110.7 448.2L1111.5 449.3L1112.2 447.3L1113.0 449.3L1113.7 448.5L1114.5 449.0L1115.2 448.7L1116.0 448.0L1116.8 447.4L1117.5 447.4L1118.3 446.3L1119.1 449.5L1119.8 448.8L1120.6 448.0L1121.4 449.0L1122.1 447.3L1122.9 445.8" fill="none" stroke="#303030" stroke-width="0.9" stroke-linejoin="round" />
<path d="M668.6 445.8L669.3 447.8L670.1 448.2L670.8 448.8L671.6 449.2L672.4 447.8L673.1 447.9L673.9 448.3L674.6 445.9L675.4 446.4L676.1 446.8L676.9 447.7L677.6 446.9L678.4 446.1L679.1 446.2L679.9 445.9L680.6 446.9L681.4 449.6L682.1 448.4L682.9 448.0L683.6 446.1L684.4 448.6L685.1 448.2L685.9 449.0L686.6 448.8L687.4 447.1L688.1 448.6L688.9 447.0L689.7 447.4L690.4 448.2L691.2 446.6L691.9 445.5L692.7 447.4L693.4 448.1L694.1 447.2L694.9 445.7L695.6 446.4L696.3 446.4L697.1 446.8L697.8 446.1L698.5 448.4L699.3 446.7L700.0 448.8L700.7 447.7L701.5 446.9L702.2 448.0L702.9 449.8L703.7 447.1L704.4 444.7L705.1 446.8L705.9 447.5L706.6 447.1L707.3 446.5L708.0 442.9L708.7 442.6L709.4 444.7L710.0 444.5L710.7 448.5L711.4 446.8L712.1 447.0L712.9 448.1L713.6 448.7L714.3 448.0L715.1 448.3L715.8 449.2L716.5 449.0L717.3 449.1L718.0 449.6L718.8 448.0L719.5 447.3L720.2 448.4L721.0 447.3L721.7 449.0L722.4 449.2L723.2 449.4L723.9 449.5L724.6 448.2L725.4 448.1L726.1 448.2L726.9 450.3L727.6 449.5L728.3 446.7L729.1 448.6L729.8 449.2L730.6 450.9L731.3 452.3L732.0 449.8L732.8 448.2L733.5 449.8L734.3 451.4L735.0 449.2L735.8 448.1L736.5 449.5L737.2 448.0L738.0 449.2L738.7 447.6L739.5 450.6L740.2 450.4L741.0 449.1L741.7 448.6L742.4 451.6L743.2 450.2L743.9 448.7L744.7 448.5L745.4 449.0L746.2 450.2L746.9 451.3L747.6 450.6L748.4 447.8L749.1 449.0L749.9 448.8L750.6 448.9L751.4 449.0L752.1 450.2L752.8 449.3L753.6 448.0L754.3 450.3L755.1 450.9L755.8 450.9L756.6 451.2L757.3 448.9L758.0 448.8L758.8 449.6L759.5 449.7L760.3 451.3L761.0 451.2L761.8 450.3L762.5 450.0L763.2 451.0L764.0 450.8L764.8 451.2L765.5 448.7L766.3 452.2L767.0 454.2L767.8 450.9L768.6 450.0L769.3 450.4L770.1 449.9L770.9 450.1L771.6 452.5L772.4 450.7L773.2 450.9L773.9 450.9L774.7 452.3L775.4 450.8L776.1 450.4L776.8 447.8L777.5 451.2L778.3 450.1L779.0 450.2L779.7 451.4L780.4 450.6L781.1 448.9L781.8 450.7L782.6 450.0L783.3 450.0L784.1 450.7L784.8 449.9L785.5 449.4L786.3 449.9L787.0 449.3L787.8 450.9L788.5 449.3L789.3 450.8L790.0 450.0L790.7 449.2L791.5 451.2L792.2 447.7L793.0 448.5L793.7 449.9L794.5 447.1L795.2 451.2L795.9 449.7L796.7 448.3L797.4 449.4L798.2 448.7L798.9 449.9L799.7 449.8L800.4 449.7L801.1 449.5L801.9 450.7L802.6 450.3L803.4 449.4L804.1 450.2L804.9 450.6L805.6 451.2L806.3 449.2L807.1 450.7L807.8 450.8L808.6 450.7L809.3 450.4L810.1 450.1L810.8 450.6L811.5 450.5L812.3 450.6L813.0 449.8L813.8 452.9L814.5 450.4L815.3 450.8L816.0 449.0L816.7 451.4L817.5 452.4L818.2 452.4L819.0 451.4L819.7 451.9L820.4 451.9L821.2 451.5L821.9 451.0L822.6 452.3L823.4 451.5L824.1 450.7L824.8 452.9L825.6 453.6L826.3 452.8L827.0 458.0L827.8 454.9L828.5 452.3L829.2 452.2L830.0 454.3L830.7 450.3L831.5 452.5L832.3 452.5L833.0 451.8L833.8 450.1L834.6 452.4L835.3 451.9L836.1 450.3L836.8 449.6L837.5 452.7L838.3 448.9L839.0 449.2L839.8 450.4L840.5 451.2L841.3 448.8L842.0 449.6L842.7 449.3L843.5 450.6L844.2 450.1L845.0 448.8L845.7 451.3L846.5 450.9L847.2 448.5L847.9 447.6L848.7 447.4L849.4 447.1L850.2 447.0L850.9 448.4L851.7 448.3L852.4 449.1L853.1 450.6L853.9 447.2L854.7 447.2L855.4 449.3L856.2 448.2L856.9 448.4L857.7 448.6L858.4 447.8L859.2 452.6L860.0 447.3L860.7 449.0L861.5 448.0L862.2 448.6L863.0 448.8L863.7 447.1L864.5 447.7L865.2 447.7L866.0 448.3L866.8 448.5L867.5 450.2L868.3 450.6L869.0 448.7L869.8 451.5L870.5 447.7L871.3 449.1L872.1 448.2L872.8 446.8L873.6 448.1L874.3 447.8L875.1 448.0L875.8 448.5L876.6 449.6L877.4 449.1L878.1 449.0L878.9 446.0L879.6 449.3L880.4 444.6L881.1 446.4L881.9 447.8L882.6 447.9L883.4 447.6L884.2 447.4L884.9 449.8L885.7 448.5L886.4 447.8L887.2 449.3L887.9 448.4L888.7 448.4L889.5 446.6L890.2 447.8L891.0 446.2L891.7 447.0L892.5 446.7L893.2 449.0L894.0 448.5L894.7 447.3L895.5 446.8L896.3 448.3L897.0 446.8L897.8 447.3L898.5 447.8L899.3 447.3L900.1 447.8L900.8 447.9L901.6 449.1L902.3 447.4L903.1 446.3L903.9 446.4L904.6 445.6L905.4 447.4L906.2 446.2L906.9 446.3L907.7 445.7L908.4 446.7L909.2 447.4L910.0 447.3L910.7 448.1L911.5 447.2L912.2 446.5L913.0 447.4L913.8 445.9L914.5 445.4L915.3 444.6L916.1 444.8L916.8 445.8L917.6 444.9L918.3 445.2L919.1 446.6L919.8 446.6L920.6 445.6L921.3 447.4L922.0 445.1L922.8 447.3L923.5 445.9L924.3 445.6L925.0 445.0L925.7 445.8L926.5 445.4L927.2 446.2L928.0 447.6L928.7 446.8L929.4 446.9L930.2 447.2L930.9 448.0L931.6 446.3L932.4 446.7L933.1 446.8L933.9 446.9L934.6 447.6L935.3 447.3L936.1 445.8L936.8 447.8L937.5 447.6L938.3 446.7L939.0 447.8L939.8 448.6L940.5 447.3L941.2 447.2L942.0 448.1L942.7 448.9L943.5 449.1L944.2 447.2L945.0 448.6L945.7 447.8L946.4 447.0L947.2 450.7L947.9 447.4L948.7 443.6L949.4 449.5L950.2 449.8L950.9 448.8L951.6 456.3L952.4 448.6L953.1 450.4L953.9 445.3L954.6 448.4L955.4 449.4L956.1 447.4L956.8 449.7L957.6 448.2L958.3 449.4L959.1 447.6L959.8 449.5L960.5 449.3L961.3 447.6L962.0 448.1L962.8 449.5L963.5 449.4L964.2 447.8L965.0 449.9L965.7 445.1L966.4 449.8L967.2 449.3L967.9 448.2L968.7 449.4L969.4 449.9L970.1 449.5L970.9 447.9L971.6 448.3L972.3 449.5L973.1 450.8L973.8 444.6L974.6 446.8L975.3 449.6L976.0 448.4L976.8 450.7L977.5 451.4L978.2 449.2L979.0 450.0L979.7 449.8L980.3 449.8L981.0 454.4L981.7 452.3L982.5 448.9L983.3 448.9L984.0 446.7L984.8 447.3L985.5 449.2L986.3 449.1L987.0 448.0L987.8 447.0L988.5 447.5L989.3 449.9L990.0 448.9L990.8 449.0L991.5 448.3L992.3 452.2L993.1 449.3L993.8 447.6L994.6 448.2L995.3 449.1L996.1 451.6L996.8 449.1L997.6 449.3L998.2 446.2L998.9 444.1L999.6 439.6L1000.2 436.5L1001.1 444.3L1002.0 446.8L1002.8 446.8L1003.5 449.4L1004.3 447.3L1005.0 448.8L1005.8 447.8L1006.5 448.9L1007.3 449.7L1008.0 448.1L1008.8 450.7L1009.6 450.0L1010.3 448.8L1011.1 449.6L1011.8 452.6L1012.5 454.1L1013.2 458.0L1014.0 458.6L1014.9 455.5L1015.7 453.7L1016.5 453.6L1017.2 453.1L1018.0 452.5L1018.7 452.1L1019.4 451.4L1020.2 450.9L1020.9 449.7L1021.7 451.8L1022.4 450.8L1023.1 452.2L1023.9 451.9L1024.6 451.2L1025.3 449.6L1026.1 452.2L1026.8 451.5L1027.5 450.0L1028.3 452.0L1029.0 452.3L1029.7 453.0L1030.5 449.9L1031.2 450.6L1031.9 452.4L1032.7 452.5L1033.4 452.5L1034.1 451.9L1034.9 451.9L1035.6 449.9L1036.3 446.0L1037.1 444.2L1037.8 443.0L1038.6 442.0L1039.5 443.2L1040.4 448.5L1041.1 446.6L1041.9 445.3L1042.6 446.5L1043.4 446.3L1044.1 447.5L1044.9 446.9L1045.6 449.2L1046.4 448.0L1047.2 447.4L1047.9 449.9L1048.7 448.8L1049.4 448.3L1050.2 446.7L1050.9 446.4L1051.7 450.1L1052.5 446.0L1053.2 449.6L1054.0 448.0L1054.7 446.3L1055.5 446.4L1056.2 448.1L1057.0 447.8L1057.8 450.0L1058.5 447.3L1059.3 447.4L1060.0 450.0L1060.8 450.6L1061.5 446.9L1062.3 448.4L1063.0 450.7L1063.8 449.8L1064.6 447.6L1065.3 448.5L1066.1 447.6L1066.9 447.8L1067.6 447.7L1068.4 447.2L1069.2 445.5L1070.0 447.5L1070.7 448.1L1071.5 447.4L1072.3 449.4L1073.0 446.2L1073.8 446.3L1074.6 446.1L1075.3 443.3L1076.0 443.5L1076.9 443.3L1077.8 450.4L1078.6 446.8L1079.3 448.3L1080.1 448.7L1080.9 448.7L1081.6 448.9L1082.4 448.4L1083.1 451.0L1083.9 448.2L1084.7 451.0L1085.4 450.9L1086.2 449.2L1087.0 450.4L1087.7 449.5L1088.5 448.9L1089.2 451.1L1090.0 451.0L1090.7 450.7L1091.5 451.8L1092.2 451.2L1093.0 450.9L1093.7 450.8L1094.4 453.4L1095.2 452.9L1095.9 451.9L1096.7 450.9L1097.4 449.8L1098.2 451.2L1098.9 451.6L1099.6 450.8L1100.4 452.2L1101.1 452.7L1101.9 450.6L1102.6 452.5L1103.4 451.0L1104.1 452.7L1104.8 450.9L1105.6 449.9L1106.3 452.9L1107.1 450.7L1107.8 450.7L1108.6 450.6L1109.3 450.7L1110.0 450.9L1110.8 449.9L1111.5 449.4L1112.3 452.0L1113.0 449.0L1113.8 449.0L1114.5 447.8L1115.2 449.1L1116.0 448.2L1116.8 450.8L1117.5 447.1L1118.3 449.9L1119.1 449.6L1119.8 450.1L1120.6 449.1L1121.4 450.0L1122.1 451.1L1122.9 447.3" fill="none" stroke="#10e810" stroke-width="1.0" stroke-linejoin="round" />
<path d="M675.4 528.8L676.1 534.9L676.9 544.3L677.6 530.4L678.4 538.1L679.2 538.6L679.9 540.0L680.7 525.1L681.5 532.0L682.2 527.6L683.0 541.2L683.7 542.3L684.5 545.5L685.2 541.8L686.0 551.5L686.7 526.6L687.5 541.8L688.2 543.0L688.9 538.8L689.7 546.8L690.4 544.8L691.2 543.1L691.9 551.7L692.7 537.6L693.4 546.8L694.2 544.0L695.0 549.8L695.7 547.9L696.5 531.4L697.2 546.3L698.0 545.0L698.8 538.7L699.5 527.9L700.3 550.7L701.1 524.1L701.8 536.5L702.6 529.4L703.4 544.6L704.1 535.2L704.9 519.2L705.7 539.5L706.4 543.4L707.2 542.7L707.9 542.7L708.7 528.9L709.4 531.6L710.1 534.4L710.9 509.0L711.6 533.8L712.3 536.7L712.9 486.0L713.6 533.5L714.3 506.4L715.0 537.7L715.7 541.9L716.5 538.9L717.3 547.4L718.1 547.9L718.9 545.9L719.6 547.3L720.4 541.9L721.2 530.2L722.0 549.0L722.7 546.7L723.5 533.0L724.3 532.2L725.0 520.5L725.8 539.7L726.5 525.9L727.3 534.5L728.0 546.4L728.7 535.7L729.4 549.1L730.1 540.7L730.8 547.2L731.6 546.7L732.3 529.2L733.0 535.5L733.8 543.4L734.5 543.5L735.2 548.6L736.0 537.4L736.7 541.9L737.5 548.7L738.2 550.9L738.9 545.1L739.7 545.9L740.4 539.7L741.1 549.0L741.9 548.5L742.6 542.3L743.3 544.0L744.1 538.0L744.8 536.2L745.5 547.9L746.3 551.7L747.0 543.1L747.7 546.8L748.5 541.4L749.2 552.1L749.9 543.1L750.7 541.7L751.4 545.2L752.1 538.1L752.9 540.9L753.6 539.8L754.3 529.8L755.1 530.4L755.8 532.4L756.6 540.7L757.4 543.4L758.1 542.2L758.9 544.9L759.7 549.4L760.4 545.0L761.1 541.2L761.9 546.8L762.6 548.2L763.3 537.1L764.0 544.3L764.7 546.7L765.4 538.2L766.1 544.8L766.8 528.7L767.6 535.9L768.3 528.0L769.0 507.8L769.7 505.4L770.4 524.7L771.1 543.3L771.8 525.5L772.5 531.8L773.1 495.7L773.8 486.0L774.7 514.2L775.6 523.2L776.3 533.2L777.1 536.8L777.8 544.5L778.6 536.3L779.4 545.0L780.1 548.8L780.9 544.1L781.6 533.1L782.4 546.2L783.1 551.4L783.9 539.1L784.6 544.6L785.4 541.0L786.2 544.4L786.9 533.9L787.7 509.8L788.4 535.9L789.2 513.1L790.0 514.7L790.7 530.1L791.5 512.3L792.3 501.7L793.0 527.1L793.8 486.0L794.6 529.7L795.3 486.0L796.1 499.8L796.8 509.7L797.5 528.3L798.2 530.1L798.9 543.0L799.7 522.0L800.4 523.5L801.1 510.4L801.8 496.8L802.5 514.0L803.2 522.8L803.9 496.9L804.6 519.7L805.4 522.4L806.1 537.4L806.8 509.9L807.6 536.8L808.3 501.3L809.1 542.5L809.8 542.5L810.6 541.8L811.4 547.6L812.1 550.6L812.8 549.9L813.6 548.4L814.3 544.5L815.0 533.3L815.7 533.9L816.4 535.0L817.1 527.3L817.8 547.8L818.6 538.2L819.3 536.5L820.0 539.4L820.8 521.7L821.6 534.5L822.3 537.7L823.1 509.5L823.9 532.5L824.6 528.6L825.3 541.3L826.0 516.8L826.8 533.1L827.5 519.0L828.2 510.4L828.9 535.4L829.6 544.0L830.3 546.4L831.0 528.8L831.8 544.5L832.5 540.0L833.2 543.1L833.9 553.5L834.6 544.0L835.3 542.9L836.1 540.9L836.8 540.8L837.6 534.6L838.4 541.7L839.1 522.6L839.9 534.1L840.7 525.5L841.4 497.1L842.2 526.3L843.0 540.5L843.7 529.8L844.5 545.6L845.3 536.7L846.0 525.3L846.7 546.5L847.4 542.3L848.2 546.3L848.9 540.8L849.6 540.0L850.3 541.3L851.0 544.2L851.7 550.4L852.4 547.3L853.1 545.3L853.9 537.1L854.6 550.5L855.4 533.3L856.2 545.7L856.9 548.9L857.7 526.6L858.4 537.5L859.2 545.3L859.9 537.1L860.7 533.5L861.4 546.6L862.2 523.8L862.9 543.2L863.7 528.5L864.4 540.7L865.2 546.1L865.9 540.3L866.7 539.2L867.4 532.8L868.1 545.1L868.8 540.6L869.6 526.8L870.3 533.4L871.0 533.7L871.7 520.2L872.4 538.9L873.1 486.0L873.8 532.5L874.5 517.6L875.3 526.5L876.1 509.1L876.8 533.0L877.6 537.8L878.4 529.9L879.1 527.9L879.9 537.4L880.6 510.2L881.4 531.5L882.1 524.9L882.9 527.3L883.6 531.3L884.4 542.1L885.1 526.4L885.8 544.3L886.6 542.0L887.3 532.8L888.1 537.5L888.8 548.3L889.6 544.8L890.3 546.9L891.0 531.6L891.8 542.5L892.5 538.8L893.3 542.6L894.0 540.6L894.8 528.5L895.5 542.1L896.3 534.0L897.0 539.1L897.7 538.9L898.4 545.3L899.1 527.6L899.8 548.0L900.6 547.1L901.3 544.0L902.0 542.1L902.7 547.0L903.4 550.3L904.1 547.0L904.8 549.0L905.6 547.9L906.4 533.4L907.1 551.2L907.9 543.7L908.7 540.6L909.4 544.6L910.2 543.8L910.9 532.2L911.7 541.8L912.5 548.4L913.2 541.7L914.0 535.5L914.8 539.7L915.5 538.7L916.4 529.7L917.3 535.6L918.0 529.0L918.7 524.9L919.3 540.9L920.0 547.4L920.7 529.2L921.4 539.7L922.2 546.6L922.9 549.2L923.6 543.9L924.4 543.5L925.1 542.5L925.8 543.9L926.6 548.0L927.3 546.1L928.0 547.4L928.9 541.9L929.8 539.7L930.7 523.1L931.6 545.5L932.3 524.6L933.1 539.3L933.8 547.4L934.6 548.1L935.3 545.2L936.0 545.1L936.8 544.1L937.5 552.1L938.3 549.4L939.0 547.1L939.8 545.0L940.5 545.6L941.3 545.9L942.0 540.8L942.8 542.6L943.6 512.8L944.3 520.3L945.1 520.4L945.8 528.9L946.7 518.6L947.4 508.4L948.2 512.8L948.9 486.0L949.6 486.0L950.3 504.9L951.0 537.8L951.8 520.5L952.5 538.2L953.3 537.9L954.0 520.6L954.8 549.6L955.5 548.9L956.3 545.7L957.1 534.6L957.8 541.6L958.6 547.9L959.3 532.8L960.1 530.2L960.8 524.9L961.5 539.3L962.2 535.5L963.0 548.2L963.7 544.1L964.4 544.6L965.2 550.6L965.9 550.8L966.6 545.6L967.4 551.5L968.1 551.8L968.9 549.7L969.6 548.1L970.4 546.9L971.1 551.0L971.8 547.9L972.6 551.1L973.3 551.0L974.0 528.2L974.7 547.7L975.4 549.2L976.2 539.5L976.9 544.7L977.6 533.4L978.4 550.1L979.1 544.9L979.9 526.4L980.6 533.8L981.4 542.2L982.1 515.3L982.8 521.4L983.6 536.3L984.3 518.6L985.1 527.1L985.8 544.1L986.5 543.0L987.2 539.9L987.9 548.1L988.6 550.4L989.4 547.6L990.1 541.5L990.8 543.7L991.5 547.9L992.2 551.3L992.9 535.8L993.6 542.1L994.3 532.7L995.1 539.3L995.8 541.2L996.5 534.9L997.2 541.2L998.0 539.2L998.7 541.1L999.4 547.0L1000.2 518.4L1000.9 516.3L1001.6 535.8L1002.3 533.5L1003.1 486.0L1003.8 524.0L1004.5 537.2L1005.1 545.1L1005.8 524.6L1006.5 533.7L1007.3 547.7L1008.0 539.2L1008.8 546.4L1009.6 541.6L1010.4 526.4L1011.2 537.7L1011.9 538.3L1012.7 540.8L1013.6 517.9L1014.5 531.2L1015.4 541.9L1016.3 509.3L1017.1 546.6L1017.8 548.7L1018.6 545.3L1019.4 548.3L1020.1 547.4L1020.9 546.2L1021.7 549.6L1022.5 550.9L1023.2 549.4L1024.0 544.7L1024.8 549.0L1025.6 542.7L1026.3 549.2L1027.1 551.3L1027.9 546.8L1028.6 546.4L1029.4 545.3L1030.2 540.7L1030.9 525.5L1031.7 521.4L1032.5 523.8L1033.2 521.0L1034.1 508.7L1035.0 502.1L1035.7 504.9L1036.3 522.0L1037.0 486.0L1037.7 487.3L1038.5 494.0L1039.2 548.3L1040.0 530.8L1040.7 540.5L1041.5 552.5L1042.2 537.6L1043.0 551.5L1043.7 548.0L1044.5 545.9L1045.2 541.8L1046.0 548.5L1046.7 549.8L1047.5 552.2L1048.2 548.1L1048.9 543.5L1049.6 550.1L1050.3 532.9L1051.1 552.2L1051.8 545.0L1052.5 543.4L1053.2 539.1L1053.9 536.2L1054.6 527.8L1055.4 542.7L1056.1 547.4L1056.9 546.4L1057.7 543.0L1058.4 546.4L1059.2 544.5L1060.0 544.6L1060.7 544.6L1061.5 540.4L1062.3 544.5L1063.0 551.1L1063.8 550.3L1064.6 550.3L1065.3 550.4L1066.1 545.9L1066.8 544.8L1067.6 546.5L1068.3 538.3L1069.1 549.4L1069.8 545.2L1070.6 537.1L1071.4 543.8L1072.1 546.1L1072.9 546.2L1073.6 533.3L1074.4 531.5L1075.1 513.6L1076.0 515.4L1076.7 537.8L1077.4 543.0L1078.2 546.4L1078.9 544.7L1079.6 520.1L1080.3 539.4L1081.0 541.1L1081.7 535.9L1082.4 530.6L1083.1 542.0L1084.0 544.2L1084.9 545.8L1085.7 537.6L1086.5 547.1L1087.2 543.7L1088.0 542.5L1088.8 551.1L1089.5 541.4L1090.3 548.2L1091.0 544.5L1091.8 549.7L1092.6 534.6L1093.3 538.6L1094.1 545.0L1094.9 526.0L1095.6 543.3L1096.4 520.8L1097.2 537.1L1097.9 499.1L1098.7 543.2L1099.5 528.3L1100.2 543.7L1101.0 545.5L1101.9 544.1L1102.8 544.6L1103.5 550.0L1104.2 545.2L1105.0 536.5L1105.7 541.4L1106.5 548.1L1107.2 527.5L1108.0 549.9L1108.7 528.1L1109.5 543.0L1110.2 546.3L1110.9 540.5L1111.7 539.6L1112.4 527.7L1113.2 531.2L1114.0 538.9L1114.7 524.3L1115.5 536.3L1116.3 541.3L1117.0 542.3L1117.8 541.5L1118.5 532.2L1119.2 539.3L1120.0 530.9L1120.7 547.1L1121.4 541.0L1122.2 539.6L1122.9 542.3" fill="none" stroke="#181818" stroke-width="1.1" stroke-linejoin="round" />
<path d="M675.4 608.5L676.0 607.3L676.6 600.6L677.2 606.0L677.8 607.9L678.3 602.0L678.9 605.2L679.5 605.2L680.1 610.4L680.7 605.1L681.3 606.7L681.9 603.7L682.5 605.8L683.1 603.4L683.7 604.7L684.3 603.9L684.9 600.6L685.5 610.5L686.1 602.7L686.7 598.5L687.3 600.6L687.9 601.2L688.5 594.2L689.1 608.0L689.7 595.8L690.3 602.7L690.9 602.6L691.5 602.1L692.1 600.1L692.7 609.0L693.3 609.8L693.9 602.2L694.4 593.9L695.0 603.2L695.6 599.2L696.2 602.9L696.8 603.6L697.4 602.2L698.0 599.8L698.6 601.4L699.2 605.7L699.8 606.3L700.4 599.1L701.0 602.0L701.6 614.9L702.2 606.3L702.8 607.4L703.4 610.5L704.0 606.9L704.6 600.3L705.1 606.6L705.7 605.2L706.3 604.8L706.9 600.8L707.5 605.9L708.1 596.3L708.7 593.6L709.3 587.2L709.9 597.0L710.5 582.2L711.1 560.9L711.7 574.2L712.3 565.3L712.9 573.5L713.5 576.1L714.1 574.3L714.7 580.8L715.3 583.4L715.8 587.3L716.5 587.9L717.1 589.8L717.7 586.2L718.3 583.7L718.9 585.1L719.5 584.1L720.1 584.4L720.7 583.8L721.4 583.8L722.0 579.1L722.6 583.9L723.2 582.4L723.8 581.8L724.4 582.1L725.0 580.3L725.7 574.0L726.3 587.5L727.0 583.9L727.7 586.9L728.3 588.0L728.9 589.9L729.5 588.7L730.1 598.6L730.7 592.8L731.3 594.7L731.9 597.7L732.5 595.4L733.1 602.3L733.7 598.4L734.3 604.7L734.9 600.6L735.5 599.3L736.1 599.1L736.6 592.8L737.2 601.3L737.8 598.8L738.4 593.5L739.0 589.5L739.6 589.7L740.2 588.3L740.8 584.0L741.4 587.8L742.0 588.7L742.6 590.1L743.2 586.5L743.8 586.3L744.4 583.2L745.0 587.4L745.6 587.9L746.2 592.5L746.8 594.9L747.3 594.1L747.9 586.9L748.5 593.3L749.1 592.8L749.7 593.0L750.3 594.6L750.9 596.1L751.5 594.7L752.1 588.1L752.7 593.7L753.3 597.2L753.9 595.7L754.5 601.1L755.1 597.7L755.7 599.5L756.3 599.1L756.9 604.3L757.5 605.0L758.0 604.6L758.6 607.3L759.2 603.8L759.8 601.8L760.4 599.4L761.0 604.3L761.6 607.9L762.2 606.0L762.8 602.2L763.4 607.9L764.0 611.5L764.6 605.5L765.2 615.4L765.8 605.4L766.4 614.2L767.0 607.3L767.6 604.7L768.2 611.0L768.7 612.0L769.3 612.2L769.9 614.1L770.5 613.6L771.1 613.7L771.8 617.6L772.5 624.8L773.1 623.1L773.8 628.4L774.5 618.8L775.1 609.9L775.8 602.9L776.5 592.3L777.1 591.4L777.7 594.8L778.3 586.8L778.8 588.6L779.4 589.6L780.0 586.6L780.6 588.8L781.2 581.9L781.8 580.8L782.4 576.3L783.0 579.7L783.6 595.5L784.2 593.3L784.8 594.3L785.4 594.5L786.0 597.6L786.6 602.5L787.2 591.0L787.8 599.7L788.4 604.8L789.0 601.9L789.5 599.5L790.1 602.2L790.7 601.0L791.3 597.3L791.9 599.8L792.5 593.2L793.1 590.9L793.7 591.8L794.3 584.0L795.2 567.2L795.9 572.9L796.5 576.1L797.2 573.9L797.9 582.8L798.5 585.0L799.1 587.3L799.7 588.8L800.2 592.8L800.8 590.6L801.4 591.0L802.0 596.8L802.6 594.1L803.2 604.4L803.8 604.6L804.4 600.7L805.0 597.9L805.6 601.3L806.2 600.5L806.8 607.6L807.4 595.6L808.0 597.6L808.6 602.8L809.2 598.9L809.8 609.4L810.4 603.3L810.9 596.7L811.5 601.4L812.1 596.9L812.7 599.8L813.3 601.8L813.9 596.4L814.5 607.2L815.1 604.1L815.7 611.0L816.3 603.6L816.9 598.7L817.5 606.4L818.1 601.6L818.7 603.3L819.3 594.7L819.9 597.9L820.5 603.2L821.1 600.7L821.6 602.4L822.2 598.9L822.8 598.4L823.4 601.4L824.0 598.9L824.6 600.4L825.2 601.8L825.8 603.0L826.4 600.1L827.0 606.7L827.6 596.1L828.2 596.9L828.8 597.2L829.4 600.4L830.0 590.0L830.6 605.6L831.2 600.0L831.8 604.4L832.3 599.6L832.9 602.7L833.5 606.3L834.1 598.4L834.7 596.1L835.3 600.5L835.9 601.5L836.5 601.1L837.1 602.1L837.7 601.8L838.3 601.7L838.9 603.5L839.5 605.7L840.1 603.5L840.7 604.8L841.3 612.7L841.9 605.5L842.4 609.0L843.0 605.6L843.6 605.1L844.2 604.3L844.8 606.1L845.4 604.7L846.0 607.1L846.6 612.8L847.2 603.1L847.8 605.9L848.4 607.8L849.0 599.6L849.6 605.7L850.2 601.2L850.8 604.1L851.4 606.9L852.0 605.3L852.6 599.4L853.1 599.4L853.7 604.8L854.3 596.9L854.9 596.9L855.5 602.0L856.1 602.9L856.7 604.6L857.3 595.0L857.9 601.6L858.5 603.0L859.1 602.6L859.7 600.8L860.3 599.4L860.9 600.0L861.5 605.7L862.1 595.1L862.7 606.2L863.3 604.0L863.8 601.6L864.4 607.3L865.0 606.6L865.6 603.7L866.2 602.0L866.8 606.6L867.4 601.9L868.0 605.1L868.6 604.3L869.2 595.0L869.8 600.7L870.4 601.1L871.0 600.8L871.6 602.4L872.2 601.5L872.8 600.1L873.4 598.8L874.0 605.2L874.6 595.2L875.2 601.5L875.8 599.4L876.4 610.7L877.0 597.5L877.6 595.7L878.2 595.8L878.9 605.4L879.5 601.1L880.1 601.0L880.7 600.5L881.3 600.1L881.9 603.3L882.5 597.3L883.1 595.2L883.7 602.5L884.3 596.7L884.9 606.3L885.5 600.5L886.1 604.0L886.7 602.2L887.3 601.8L887.9 605.4L888.5 601.9L889.1 603.5L889.7 608.2L890.4 599.1L891.0 597.0L891.6 599.6L892.2 603.1L892.8 603.4L893.4 598.5L894.0 603.0L894.6 597.0L895.2 597.7L895.8 603.7L896.4 601.8L897.0 594.6L897.6 601.2L898.2 603.3L898.8 602.1L899.4 598.7L900.0 601.3L900.6 597.5L901.2 594.6L901.8 596.0L902.4 598.0L903.0 601.7L903.6 596.5L904.2 599.4L904.8 595.6L905.4 600.0L906.0 598.6L906.6 599.4L907.2 598.0L907.8 600.3L908.4 599.1L909.0 599.1L909.6 598.3L910.2 601.7L910.8 604.7L911.4 598.0L912.0 597.9L912.6 606.4L913.2 596.2L913.7 601.6L914.3 596.8L914.9 599.3L915.5 591.3L916.1 607.3L916.7 596.2L917.3 602.1L917.9 598.4L918.5 595.7L919.1 603.6L919.7 610.6L920.3 599.9L920.9 593.0L921.5 599.7L922.1 601.9L922.7 604.3L923.3 598.2L923.9 604.1L924.4 598.3L925.0 597.1L925.6 598.7L926.2 604.4L926.8 596.4L927.4 601.4L928.0 599.7L928.6 600.6L929.2 600.6L929.8 605.0L930.4 598.0L931.0 600.1L931.6 604.0L932.2 598.0L932.8 604.3L933.4 598.5L934.0 599.1L934.6 600.0L935.1 600.8L935.7 600.9L936.3 598.3L936.9 597.2L937.5 600.4L938.1 598.7L938.7 604.6L939.3 602.6L939.9 599.2L940.5 601.3L941.1 607.1L941.7 603.5L942.3 603.7L942.9 600.1L943.5 605.3L944.1 600.2L944.7 603.5L945.3 602.4L945.8 605.1L946.4 602.1L947.0 605.7L947.6 612.5L948.2 603.0L948.8 611.9L949.4 613.2L950.0 605.2L950.6 600.3L951.2 604.7L951.8 610.3L952.4 606.2L953.0 604.6L953.6 615.1L954.2 608.8L954.8 610.0L955.4 608.3L955.9 607.9L956.5 591.4L957.1 607.3L957.7 603.5L958.3 607.4L958.9 607.9L959.5 608.8L960.1 602.9L960.7 610.0L961.3 612.9L961.9 613.4L962.5 617.2L963.1 605.1L963.7 605.7L964.3 607.3L964.9 602.1L965.5 606.0L966.1 602.6L966.6 602.7L967.2 597.7L967.8 603.3L968.4 602.1L969.0 601.4L969.6 593.3L970.2 594.6L970.8 594.6L971.4 601.0L972.0 588.9L972.6 594.5L973.2 586.5L973.8 588.5L974.4 572.5L975.0 579.3L975.6 589.8L976.2 586.1L976.8 591.7L977.3 588.3L977.9 590.9L978.5 594.1L979.1 587.7L979.7 590.5L980.3 592.4L980.9 601.2L981.5 597.8L982.1 590.8L982.7 595.7L983.3 593.6L983.9 588.7L984.5 587.5L985.1 590.7L985.7 594.7L986.3 587.2L986.9 575.7L987.5 584.4L988.0 586.0L988.6 586.5L989.2 580.8L989.8 586.5L990.4 584.6L991.0 584.3L991.6 584.6L992.2 585.6L992.8 585.5L993.4 588.0L994.0 584.6L994.6 584.2L995.2 582.1L995.8 583.7L996.4 589.9L997.0 586.3L997.6 580.2L998.2 580.5L998.7 587.5L999.3 584.9L999.9 596.9L1000.5 597.9L1001.1 599.9L1001.7 602.5L1002.3 607.9L1002.9 611.8L1003.5 613.8L1004.1 607.3L1004.7 609.2L1005.3 607.0L1005.9 604.1L1006.5 601.0L1007.1 606.3L1007.7 601.4L1008.3 595.1L1008.8 596.1L1009.4 600.0L1010.0 598.2L1010.6 603.2L1011.2 598.5L1011.8 599.3L1012.5 588.2L1013.2 578.5L1013.9 576.8L1014.5 561.7L1015.2 576.6L1015.8 582.0L1016.5 587.1L1017.2 591.5L1017.8 590.8L1018.4 592.8L1019.0 590.6L1019.5 595.5L1020.1 600.0L1020.7 590.4L1021.3 595.9L1021.9 592.9L1022.5 595.1L1023.1 594.1L1023.7 590.3L1024.3 592.2L1024.9 601.0L1025.5 597.7L1026.1 596.8L1026.7 596.6L1027.3 593.8L1027.9 594.1L1028.5 592.3L1029.1 592.2L1029.7 599.5L1030.2 587.4L1030.8 585.6L1031.4 590.8L1032.0 571.8L1032.6 573.2L1033.2 578.6L1033.8 579.2L1034.4 579.7L1035.0 572.4L1035.6 568.0L1036.3 572.3L1036.9 559.7L1037.6 561.7L1038.2 562.1L1038.7 569.5L1039.3 585.0L1039.8 588.2L1040.4 601.9L1040.9 605.3L1041.5 599.1L1042.1 606.0L1042.7 595.3L1043.3 596.7L1043.9 603.4L1044.5 611.3L1045.1 599.5L1045.7 608.4L1046.3 598.5L1046.9 599.0L1047.5 607.9L1048.1 603.2L1048.7 612.5L1049.3 604.3L1049.9 610.9L1050.5 605.5L1051.1 608.7L1051.6 609.2L1052.2 603.7L1052.8 608.5L1053.4 601.7L1054.0 615.2L1054.6 612.2L1055.2 607.8L1055.8 605.3L1056.4 611.3L1057.0 605.3L1057.6 605.3L1058.2 601.7L1058.8 612.7L1059.4 606.1L1060.0 605.2L1060.6 602.3L1061.2 596.7L1061.8 599.8L1062.3 601.4L1062.9 603.7L1063.5 597.9L1064.1 600.3L1064.7 601.4L1065.3 594.0L1065.9 595.0L1066.5 599.2L1067.1 598.9L1067.7 593.7L1068.3 597.4L1068.9 601.7L1069.5 599.4L1070.1 599.3L1070.7 596.9L1071.3 599.4L1071.9 601.7L1072.4 594.1L1073.0 598.7L1073.6 598.4L1074.2 601.1L1074.8 594.7L1075.4 597.9L1076.0 592.9L1076.6 594.9L1077.2 594.1L1077.8 597.3L1078.4 598.8L1079.0 597.5L1079.6 598.1L1080.2 593.5L1080.8 597.3L1081.4 598.9L1082.0 598.1L1082.6 596.1L1083.1 596.1L1083.7 598.2L1084.3 588.6L1084.9 593.8L1085.5 587.8L1086.1 594.1L1086.7 598.9L1087.3 591.5L1087.9 591.8L1088.5 589.4L1089.1 590.7L1089.7 593.1L1090.3 589.3L1090.9 592.1L1091.5 591.9L1092.1 587.0L1092.7 585.7L1093.3 593.4L1093.8 594.9L1094.4 591.0L1095.0 588.5L1095.6 592.7L1096.2 583.7L1096.8 590.4L1097.4 584.5L1098.0 586.8L1098.6 585.5L1099.2 583.8L1099.8 585.2L1100.4 579.4L1101.0 584.4L1101.6 587.0L1102.3 594.0L1102.9 593.4L1103.5 593.1L1104.2 600.2L1104.8 599.9L1105.4 606.8L1106.1 603.3L1106.7 604.8L1107.3 596.8L1107.9 601.2L1108.6 595.0L1109.2 594.9L1109.8 589.0L1110.4 586.6L1111.1 581.4L1111.7 584.4L1112.3 586.7L1112.9 587.1L1113.5 583.3L1114.1 578.2L1114.7 579.5L1115.2 584.0L1115.8 576.1L1116.4 573.7L1117.0 580.9L1117.6 582.2L1118.2 576.9L1118.8 585.2L1119.4 592.6L1120.0 586.4L1120.6 589.5L1121.1 594.7L1121.7 595.5L1122.3 596.7L1122.9 597.5" fill="none" stroke="#0808ff" stroke-width="1.0" stroke-linejoin="round" />
<path d="M675.4 584.7L676.0 586.9L676.6 585.2L677.2 583.8L677.8 586.6L678.3 585.8L678.9 586.1L679.5 588.8L680.1 588.7L680.7 592.1L681.3 586.0L681.9 586.8L682.5 593.5L683.1 588.5L683.7 598.2L684.3 593.3L684.9 594.5L685.5 587.6L686.1 591.0L686.7 593.3L687.3 590.0L687.9 594.0L688.5 597.2L689.1 592.6L689.7 592.7L690.3 592.8L690.9 594.0L691.5 592.7L692.1 590.1L692.7 589.4L693.3 587.0L693.9 590.8L694.4 589.2L695.0 592.5L695.6 592.5L696.2 591.8L696.8 589.6L697.4 597.9L698.0 581.8L698.6 592.3L699.2 588.2L699.8 589.2L700.4 589.8L701.0 592.0L701.6 591.5L702.2 592.2L702.8 591.5L703.4 593.4L704.0 590.3L704.6 590.4L705.1 597.7L705.7 590.9L706.3 597.5L706.9 589.4L707.5 586.3L708.1 591.7L708.7 592.3L709.3 593.4L709.9 590.3L710.5 591.2L711.1 598.4L711.7 595.3L712.3 603.8L712.9 592.5L713.5 587.0L714.1 596.3L714.7 593.6L715.3 593.2L715.8 593.4L716.4 594.8L717.0 593.1L717.6 587.5L718.2 594.4L718.8 593.3L719.4 591.9L720.0 592.2L720.6 592.3L721.2 597.2L721.8 596.1L722.4 595.5L723.0 593.3L723.6 595.5L724.2 590.7L724.8 597.6L725.4 597.5L725.9 596.5L726.5 590.4L727.1 600.8L727.7 593.8L728.3 597.3L728.9 597.2L729.5 595.8L730.1 601.1L730.7 600.4L731.3 592.2L731.9 599.4L732.5 595.5L733.1 590.9L733.7 595.0L734.3 593.1L734.9 595.8L735.5 599.6L736.1 592.5L736.6 598.1L737.2 593.6L737.8 597.4L738.4 590.0L739.0 593.7L739.6 595.3L740.2 594.1L740.8 589.6L741.4 594.5L742.0 592.5L742.6 591.2L743.2 598.2L743.8 589.0L744.4 599.5L745.0 586.3L745.6 590.2L746.2 596.0L746.8 589.9L747.3 593.7L747.9 591.4L748.5 593.2L749.1 594.2L749.7 596.4L750.3 592.4L750.9 599.7L751.5 595.2L752.1 592.8L752.7 594.9L753.3 599.0L753.9 592.8L754.5 596.4L755.1 593.0L755.7 594.7L756.3 591.5L756.9 591.8L757.5 594.5L758.0 598.3L758.6 597.2L759.2 596.4L759.8 594.9L760.4 598.8L761.0 595.0L761.6 597.9L762.2 598.8L762.8 598.9L763.4 597.8L764.0 597.2L764.6 597.1L765.2 601.0L765.8 599.8L766.4 598.9L767.0 599.0L767.6 602.9L768.2 598.7L768.7 599.4L769.3 596.7L769.9 599.6L770.5 604.2L771.1 598.2L771.7 598.3L772.3 598.1L772.9 601.0L773.5 609.7L774.1 598.1L774.7 597.8L775.3 601.2L775.9 597.5L776.5 599.2L777.1 596.2L777.7 591.7L778.3 593.9L778.8 592.2L779.4 593.6L780.0 590.3L780.6 590.3L781.2 588.3L781.8 587.9L782.4 592.2L783.0 587.8L783.6 594.9L784.2 584.8L784.8 586.9L785.4 591.3L786.0 587.5L786.6 590.4L787.2 585.6L787.8 584.9L788.4 583.0L789.0 587.4L789.5 576.5L790.1 579.0L790.7 577.8L791.4 587.1L792.0 584.1L792.6 587.6L793.3 587.1L793.9 597.7L794.6 591.3L795.2 587.5L796.1 605.4L796.7 601.3L797.3 598.0L797.9 596.8L798.5 591.8L799.1 590.0L799.7 589.5L800.2 579.7L800.8 583.5L801.4 585.2L802.0 578.2L802.6 585.8L803.2 578.4L803.8 586.3L804.4 586.3L805.0 583.3L805.6 589.2L806.2 581.3L806.8 581.3L807.4 587.4L808.0 583.4L808.6 586.5L809.2 584.5L809.8 585.7L810.4 585.4L810.9 589.0L811.5 586.6L812.1 588.0L812.7 581.5L813.3 579.8L813.9 584.2L814.5 585.6L815.1 579.2L815.7 577.7L816.3 584.7L816.9 586.2L817.5 583.6L818.1 583.3L818.7 587.6L819.3 579.6L819.9 584.1L820.5 580.6L821.2 587.3L821.8 584.4L822.4 585.9L823.0 582.7L823.6 586.5L824.2 586.8L824.8 585.3L825.5 579.7L826.1 585.1L826.7 583.3L827.3 584.3L827.9 592.2L828.5 599.2L829.1 605.2L829.7 599.6L830.3 591.5L830.9 578.0L831.5 592.2L832.1 585.0L832.7 584.8L833.3 590.9L833.9 581.4L834.5 589.8L835.1 586.8L835.7 581.6L836.3 585.3L837.0 580.9L837.6 583.7L838.2 579.6L838.8 584.0L839.4 577.5L840.0 588.1L840.6 579.6L841.2 579.3L841.8 587.4L842.4 579.7L843.0 580.5L843.6 584.0L844.2 584.4L844.8 581.4L845.4 587.4L846.0 577.7L846.6 582.6L847.2 581.2L847.8 583.0L848.4 586.7L849.0 587.3L849.6 589.6L850.2 592.0L850.8 585.2L851.4 587.0L852.0 583.3L852.6 583.0L853.1 583.1L853.7 593.5L854.3 588.4L854.9 587.9L855.5 579.3L856.1 581.8L856.7 582.8L857.3 588.5L857.9 584.8L858.5 580.7L859.1 582.1L859.7 584.6L860.3 587.8L860.9 585.0L861.5 588.7L862.1 578.1L862.7 585.8L863.3 584.9L863.8 580.2L864.4 585.2L865.0 587.8L865.6 580.8L866.2 586.6L866.8 582.4L867.4 585.6L868.0 582.2L868.6 579.0L869.2 581.6L869.8 578.5L870.4 583.6L871.0 577.5L871.6 580.3L872.2 575.4L872.8 577.6L873.4 580.1L874.0 571.8L874.5 575.0L875.1 576.7L875.7 575.1L876.3 573.9L876.9 571.6L877.5 585.4L878.1 583.7L878.7 582.8L879.3 576.9L879.9 584.4L880.5 583.0L881.1 585.3L881.7 588.1L882.3 593.3L882.9 582.7L883.5 598.4L884.4 604.9L884.9 608.5L885.5 595.1L886.1 588.9L886.7 585.7L887.3 587.7L887.9 588.4L888.6 587.5L889.2 587.7L889.8 584.4L890.4 596.8L891.0 582.6L891.6 584.1L892.2 586.8L892.8 581.8L893.4 590.7L894.0 586.8L894.6 584.2L895.2 587.8L895.8 578.4L896.4 587.0L897.0 585.0L897.7 582.8L898.3 579.6L898.9 579.8L899.5 579.2L900.1 580.4L900.7 585.8L901.3 585.3L901.9 580.5L902.5 583.1L903.0 582.9L903.6 583.3L904.2 579.2L904.8 583.8L905.4 583.7L906.0 601.2L906.6 585.3L907.2 583.0L907.8 586.3L908.4 583.9L909.0 582.9L909.6 580.5L910.2 585.6L910.8 583.4L911.4 584.0L912.0 580.0L912.6 582.5L913.2 574.5L913.7 576.8L914.3 572.4L914.9 575.6L915.5 578.9L916.1 571.5L916.7 574.7L917.3 571.7L917.9 570.9L918.5 579.4L919.1 574.7L919.7 580.7L920.3 583.5L920.9 586.3L921.5 597.1L922.1 583.8L922.7 589.0L923.2 588.5L923.8 591.2L924.4 585.4L924.9 594.1L925.5 593.5L926.1 598.6L926.7 596.2L927.2 598.7L927.8 601.2L928.4 602.5L929.1 620.5L929.8 623.7L930.4 609.9L931.0 607.1L931.6 598.3L932.2 600.3L932.8 598.2L933.4 597.8L934.0 598.2L934.6 593.9L935.1 593.8L935.7 593.7L936.3 593.9L936.9 591.4L937.5 592.8L938.1 588.6L938.7 585.9L939.3 589.1L939.9 593.1L940.5 586.5L941.1 590.9L941.7 591.9L942.3 584.4L942.9 585.0L943.5 580.3L944.1 583.4L944.7 576.7L945.3 575.6L945.8 579.7L946.4 577.4L947.0 581.2L947.6 573.1L948.2 575.2L948.8 574.5L949.4 592.4L950.0 572.0L950.6 572.5L951.2 582.6L951.8 583.3L952.4 577.7L953.0 582.5L953.6 583.6L954.2 585.0L954.8 590.6L955.4 590.2L955.9 592.8L956.5 590.0L957.1 587.3L957.7 588.5L958.3 585.2L958.9 590.1L959.5 590.1L960.1 588.8L960.7 585.8L961.3 592.4L961.9 594.6L962.5 592.4L963.1 591.4L963.7 591.5L964.3 591.4L964.9 610.0L965.5 594.4L966.1 591.9L966.6 589.5L967.2 586.5L967.8 594.2L968.4 587.6L969.0 589.0L969.6 592.9L970.2 590.9L970.8 593.9L971.4 593.4L972.0 588.8L972.6 595.6L973.2 592.2L973.8 595.7L974.4 589.6L975.0 593.5L975.6 604.3L976.2 605.1L976.8 596.5L977.3 593.3L977.9 597.5L978.5 595.9L979.1 595.6L979.7 594.2L980.3 592.7L980.9 589.8L981.5 588.7L982.1 592.7L982.7 597.5L983.3 595.7L983.9 591.6L984.5 602.4L985.1 594.8L985.7 595.8L986.3 589.7L986.9 597.5L987.5 599.2L988.0 594.3L988.6 592.5L989.2 596.3L989.8 591.9L990.4 602.8L991.0 593.4L991.6 597.8L992.2 594.5L992.8 594.3L993.4 599.3L994.0 599.6L994.6 601.9L995.2 598.8L995.8 600.7L996.4 597.7L997.0 604.5L997.6 599.8L998.2 595.5L998.7 599.3L999.3 606.0L999.9 593.1L1000.5 593.2L1001.1 592.4L1001.7 594.6L1002.3 600.6L1002.9 598.1L1003.5 598.6L1004.1 604.4L1004.7 598.7L1005.3 600.8L1005.9 605.6L1006.5 609.1L1007.1 603.1L1007.7 604.5L1008.3 604.5L1008.8 602.3L1009.4 609.0L1010.0 608.4L1010.6 616.9L1011.2 609.8L1011.8 613.4L1012.4 604.5L1013.0 607.8L1013.6 610.2L1014.2 612.1L1014.8 607.8L1015.4 606.5L1016.0 609.3L1016.6 605.4L1017.2 603.3L1017.8 602.0L1018.4 606.0L1019.0 600.3L1019.5 600.2L1020.1 602.7L1020.7 592.4L1021.3 595.1L1021.9 597.3L1022.5 598.4L1023.1 597.8L1023.7 592.2L1024.3 596.2L1024.9 596.5L1025.5 590.9L1026.1 594.1L1026.7 590.3L1027.3 593.0L1027.9 593.0L1028.5 591.3L1029.1 589.5L1029.7 590.4L1030.2 591.3L1030.8 590.7L1031.4 589.6L1032.0 589.2L1032.6 586.8L1033.2 586.3L1033.8 590.1L1034.4 588.0L1035.0 584.1L1035.6 587.2L1036.3 595.4L1036.9 587.8L1037.6 578.0L1038.2 587.0L1038.8 579.4L1039.3 584.0L1039.9 583.7L1040.5 588.2L1041.0 586.4L1041.6 601.5L1042.1 597.2L1042.7 588.7L1043.3 590.0L1043.9 594.6L1044.5 600.1L1045.1 592.8L1045.7 592.9L1046.3 597.7L1046.9 590.3L1047.5 593.2L1048.1 592.9L1048.7 592.5L1049.3 592.4L1049.9 592.4L1050.5 591.0L1051.1 587.4L1051.6 597.5L1052.2 595.8L1052.8 594.5L1053.4 592.9L1054.0 595.4L1054.6 596.1L1055.2 593.9L1055.8 592.6L1056.4 594.5L1057.0 601.0L1057.6 594.1L1058.2 594.4L1058.8 595.8L1059.4 591.4L1060.0 593.9L1060.6 595.9L1061.2 593.8L1061.8 595.0L1062.3 595.8L1062.9 592.7L1063.5 598.1L1064.1 593.4L1064.7 591.0L1065.3 593.3L1065.9 596.7L1066.5 594.7L1067.1 596.2L1067.7 592.1L1068.3 587.5L1068.9 590.9L1069.5 593.0L1070.1 584.8L1070.7 596.4L1071.3 591.8L1071.9 595.5L1072.4 596.2L1073.0 601.6L1073.6 593.0L1074.2 594.9L1074.8 593.0L1075.4 599.3L1076.0 590.4L1076.6 595.7L1077.2 598.8L1077.8 602.9L1078.4 590.5L1079.0 590.3L1079.6 591.1L1080.2 593.0L1080.8 591.4L1081.4 592.2L1082.0 596.1L1082.6 599.4L1083.1 596.2L1083.7 602.0L1084.3 603.9L1084.9 595.4L1085.5 597.2L1086.1 596.0L1086.7 598.4L1087.3 594.0L1087.9 593.5L1088.5 597.1L1089.1 597.6L1089.7 595.7L1090.3 595.7L1090.9 593.6L1091.5 596.9L1092.1 599.1L1092.7 594.0L1093.3 594.7L1093.8 593.3L1094.4 589.6L1095.0 589.2L1095.6 593.6L1096.2 590.9L1096.8 598.1L1097.4 593.3L1098.0 594.2L1098.6 594.5L1099.2 590.6L1099.8 590.3L1100.4 595.2L1101.0 593.6L1101.6 592.4L1102.2 586.0L1102.8 589.2L1103.4 589.3L1103.9 594.4L1104.5 592.9L1105.1 596.4L1105.7 594.4L1106.3 594.4L1106.9 591.1L1107.5 592.6L1108.1 594.7L1108.7 590.3L1109.3 591.3L1109.9 583.5L1110.5 589.5L1111.1 597.0L1111.7 590.5L1112.2 594.3L1112.8 591.3L1113.4 588.1L1114.0 592.5L1114.6 591.3L1115.2 595.2L1115.8 591.2L1116.4 595.8L1117.0 590.6L1117.6 596.1L1118.2 591.9L1118.8 591.2L1119.4 590.4L1119.9 594.5L1120.5 599.3L1121.1 589.7L1121.7 591.4L1122.3 591.3L1122.9 592.4" fill="none" stroke="#10f010" stroke-width="1.0" stroke-linejoin="round" />
<path d="M675.4 586.9L676.0 589.8L676.6 592.4L677.2 588.9L677.8 590.3L678.3 591.9L678.9 590.4L679.5 594.5L680.1 591.9L680.7 591.6L681.3 593.7L681.9 587.4L682.5 590.0L683.1 589.9L683.7 588.2L684.3 590.9L684.9 590.1L685.5 592.8L686.1 592.0L686.7 587.3L687.3 591.0L687.9 597.8L688.5 592.8L689.1 590.1L689.7 592.1L690.3 585.4L690.9 594.2L691.5 594.4L692.1 594.9L692.7 593.9L693.3 591.6L693.9 594.3L694.4 587.9L695.0 592.4L695.6 589.5L696.2 590.3L696.8 592.6L697.4 595.9L698.0 592.7L698.6 596.2L699.2 592.7L699.8 593.0L700.4 594.1L701.0 597.6L701.6 590.5L702.2 593.5L702.8 596.4L703.4 595.0L704.0 591.9L704.6 598.8L705.1 591.9L705.7 596.2L706.3 595.6L706.9 591.6L707.5 596.5L708.1 590.0L708.7 588.8L709.3 591.3L709.9 589.9L710.5 588.8L711.1 593.1L711.7 589.2L712.3 595.9L712.9 588.3L713.5 594.3L714.1 592.1L714.7 595.3L715.3 592.5L715.8 599.6L716.4 593.5L717.0 595.8L717.6 600.1L718.2 599.4L718.8 596.6L719.4 601.8L720.0 588.7L720.6 597.6L721.2 602.1L721.8 599.7L722.4 599.3L723.0 603.2L723.6 594.6L724.2 596.2L724.8 601.1L725.4 602.3L725.9 601.8L726.5 600.4L727.1 599.8L727.7 599.6L728.3 598.7L728.9 603.2L729.5 602.8L730.1 602.2L730.7 604.6L731.3 600.5L731.9 600.1L732.5 598.1L733.1 600.4L733.7 603.1L734.3 604.9L734.9 599.1L735.5 594.9L736.1 599.1L736.6 601.7L737.2 600.4L737.8 602.6L738.4 603.0L739.0 598.5L739.6 599.5L740.2 599.0L740.8 599.5L741.4 602.1L742.0 599.7L742.6 600.9L743.2 599.4L743.8 600.6L744.4 595.3L745.0 597.1L745.6 598.0L746.2 596.1L746.8 594.9L747.3 597.7L747.9 603.2L748.5 599.8L749.1 601.7L749.7 600.0L750.3 596.6L750.9 596.6L751.5 598.5L752.1 600.8L752.7 596.7L753.3 592.7L753.9 601.5L754.5 596.2L755.1 600.3L755.7 599.3L756.3 601.7L756.9 598.5L757.5 602.0L758.0 600.4L758.6 598.4L759.2 598.3L759.8 600.4L760.4 596.9L761.0 601.2L761.6 599.6L762.2 594.1L762.8 595.6L763.4 595.5L764.0 597.9L764.6 595.3L765.2 596.4L765.8 597.1L766.4 600.3L767.0 602.2L767.6 595.2L768.2 593.0L768.7 590.6L769.3 593.1L769.9 592.7L770.5 592.2L771.1 591.3L771.7 592.8L772.3 593.2L772.9 591.4L773.5 591.9L774.1 593.7L774.7 591.4L775.3 592.5L775.9 590.5L776.5 601.6L777.1 596.5L777.7 597.1L778.3 601.9L778.8 598.7L779.4 603.3L780.0 601.2L780.6 599.7L781.2 598.5L781.8 595.0L782.4 593.5L783.0 592.6L783.6 591.2L784.2 590.6L784.8 591.6L785.4 597.0L786.0 589.7L786.6 591.2L787.2 588.7L787.8 591.2L788.4 594.1L789.0 587.3L789.5 592.7L790.1 587.1L790.7 587.0L791.3 589.5L791.9 591.0L792.5 593.3L793.1 595.8L793.7 600.7L794.3 599.2L794.9 604.3L795.5 606.2L796.1 606.4L796.7 599.2L797.3 598.1L797.9 594.7L798.5 582.3L799.1 581.9L799.7 579.3L800.2 579.4L800.8 578.0L801.4 575.0L802.0 574.8L802.6 575.0L803.2 577.3L803.8 573.7L804.4 577.2L805.0 574.9L805.6 577.8L806.2 584.3L806.8 580.2L807.4 575.8L808.0 583.1L808.6 581.4L809.2 578.6L809.8 590.3L810.4 587.2L810.9 587.5L811.5 584.9L812.1 589.3L812.7 587.4L813.3 584.3L813.9 588.8L814.5 582.2L815.1 586.2L815.7 583.4L816.3 584.2L816.9 583.4L817.5 579.6L818.1 583.4L818.7 582.5L819.3 586.5L819.9 586.3L820.5 591.5L821.1 586.7L821.6 587.3L822.2 590.0L822.8 587.4L823.4 587.4L824.0 590.6L824.6 597.3L825.2 589.5L825.8 591.8L826.4 590.8L827.0 593.1L827.6 590.3L828.2 588.9L828.8 591.9L829.4 590.9L830.0 591.8L830.6 589.7L831.2 586.7L831.8 592.2L832.3 589.5L832.9 591.9L833.5 597.0L834.1 593.2L834.7 589.3L835.3 589.1L835.9 587.4L836.5 593.8L837.1 597.5L837.7 596.0L838.3 590.3L838.9 593.0L839.5 589.1L840.1 592.7L840.7 590.0L841.3 599.6L841.9 597.5L842.4 589.1L843.0 591.0L843.6 591.7L844.2 596.8L844.8 591.5L845.4 589.4L846.0 592.0L846.6 596.0L847.2 592.4L847.8 588.2L848.4 594.5L849.0 596.1L849.6 595.6L850.2 595.6L850.8 592.4L851.4 595.1L852.0 594.9L852.6 589.8L853.1 592.2L853.7 594.2L854.3 592.5L854.9 597.3L855.5 588.9L856.1 594.2L856.7 589.8L857.3 592.4L857.9 590.5L858.5 593.0L859.1 592.1L859.7 596.7L860.3 593.7L860.9 594.9L861.5 594.8L862.1 597.2L862.7 595.2L863.3 593.8L863.8 595.7L864.4 593.7L865.0 592.0L865.6 592.8L866.2 595.1L866.8 594.1L867.4 593.3L868.0 593.7L868.6 595.8L869.2 599.2L869.8 595.6L870.4 595.8L871.0 593.7L871.6 593.3L872.2 592.6L872.8 595.4L873.4 591.1L874.0 598.8L874.5 598.0L875.1 593.7L875.7 604.3L876.3 598.8L876.9 601.7L877.5 596.0L878.1 598.7L878.7 599.3L879.3 599.7L879.9 596.3L880.5 597.4L881.1 605.4L881.7 603.8L882.3 601.8L882.9 598.9L883.5 604.9L884.1 598.8L884.7 598.0L885.2 596.2L885.8 597.8L886.4 593.8L887.0 593.6L887.6 590.6L888.2 589.9L888.8 586.3L889.4 586.3L890.0 588.1L890.6 588.7L891.2 586.8L891.7 593.4L892.3 596.6L892.9 588.4L893.5 592.8L894.1 592.7L894.7 589.4L895.3 596.2L895.8 596.3L896.4 595.5L897.0 599.0L897.6 595.6L898.2 599.5L898.8 594.5L899.4 595.4L900.0 593.2L900.6 595.6L901.2 597.8L901.8 598.6L902.4 597.6L903.0 589.4L903.6 595.0L904.2 599.0L904.8 592.5L905.4 593.0L906.0 608.0L906.6 597.4L907.2 599.0L907.8 597.2L908.4 597.7L909.0 594.7L909.6 590.8L910.2 600.2L910.8 599.0L911.4 601.8L912.0 598.0L912.6 597.1L913.2 598.9L913.7 598.5L914.3 603.6L914.9 599.7L915.5 598.1L916.1 603.1L916.7 596.9L917.3 603.0L917.9 600.5L918.5 605.5L919.1 600.9L919.7 603.2L920.3 601.6L920.9 600.8L921.5 601.0L922.1 597.7L922.7 601.1L923.3 602.0L923.9 602.0L924.4 596.9L925.0 602.8L925.6 599.7L926.2 595.0L926.8 595.8L927.4 591.8L928.0 594.6L928.6 593.3L929.2 584.6L929.8 596.9L930.4 590.9L931.0 594.5L931.6 593.8L932.2 590.9L932.8 587.6L933.4 593.6L934.0 593.3L934.6 589.8L935.1 593.1L935.7 588.1L936.3 589.6L936.9 587.9L937.5 588.1L938.1 593.8L938.7 586.5L939.3 589.3L939.9 584.9L940.5 590.4L941.1 584.5L941.7 586.0L942.3 587.0L942.9 588.6L943.5 590.1L944.1 588.7L944.7 582.3L945.3 567.6L945.8 588.2L946.4 586.9L947.0 585.9L947.6 588.7L948.2 582.8L948.8 590.5L949.4 586.2L950.0 589.9L950.6 587.7L951.2 590.4L951.8 589.8L952.4 585.1L953.0 592.5L953.6 598.4L954.2 588.8L954.8 593.8L955.4 591.5L955.9 597.5L956.5 596.6L957.1 588.5L957.7 594.6L958.3 594.5L958.9 599.2L959.5 592.4L960.1 595.9L960.7 598.3L961.3 592.8L961.9 593.0L962.5 595.0L963.1 595.3L963.7 593.1L964.3 593.4L964.9 594.9L965.5 598.1L966.1 593.8L966.6 594.2L967.2 595.4L967.8 597.7L968.4 595.8L969.0 591.6L969.6 598.8L970.2 597.3L970.8 593.5L971.4 595.4L972.0 596.0L972.6 593.7L973.2 594.6L973.8 596.1L974.4 598.2L975.0 591.6L975.6 594.5L976.2 596.3L976.8 590.3L977.3 600.5L977.9 596.1L978.5 601.9L979.1 606.7L979.7 598.6L980.3 597.5L980.9 603.1L981.5 602.0L982.1 604.6L982.7 603.4L983.3 602.0L983.9 599.9L984.5 600.3L985.1 598.2L985.7 600.6L986.3 596.3L986.9 601.6L987.5 600.3L988.0 600.2L988.6 595.5L989.2 595.5L989.8 599.0L990.4 593.4L991.0 598.2L991.6 592.4L992.2 594.2L992.8 590.7L993.4 592.2L994.0 591.7L994.6 592.9L995.2 600.3L995.9 598.4L996.5 600.6L997.1 604.4L997.7 606.7L998.4 606.9L999.0 607.3L999.6 607.3L1000.2 609.2L1000.8 612.0L1001.5 610.2L1002.1 607.6L1002.7 611.1L1003.3 604.0L1003.9 602.5L1004.6 600.4L1005.2 597.0L1005.8 598.4L1006.4 597.0L1007.0 597.7L1007.6 594.5L1008.3 593.7L1008.8 588.6L1009.4 589.7L1010.0 584.1L1010.6 581.9L1011.2 586.3L1011.8 582.6L1012.4 581.5L1013.0 577.2L1013.6 579.5L1014.2 578.0L1014.8 579.8L1015.4 579.2L1016.0 587.6L1016.6 587.7L1017.2 586.1L1017.8 590.3L1018.4 586.5L1019.0 589.8L1019.5 596.0L1020.1 593.5L1020.7 590.7L1021.3 586.8L1021.9 597.3L1022.5 592.1L1023.1 597.4L1023.7 589.2L1024.3 592.8L1024.9 596.1L1025.5 591.7L1026.1 595.7L1026.7 596.3L1027.3 593.8L1027.9 594.8L1028.5 593.2L1029.1 593.4L1029.7 597.4L1030.2 594.1L1030.8 599.8L1031.4 597.8L1032.0 596.6L1032.6 601.8L1033.2 600.3L1033.8 598.4L1034.4 603.7L1035.0 603.1L1035.6 598.8L1036.2 603.3L1036.8 603.5L1037.4 604.8L1038.0 608.9L1038.6 609.5L1039.2 606.8L1039.8 603.4L1040.4 604.3L1040.9 603.4L1041.5 600.3L1042.1 605.7L1042.7 603.0L1043.3 598.2L1043.9 597.4L1044.5 605.0L1045.1 602.0L1045.7 599.0L1046.3 591.4L1046.9 592.1L1047.5 594.9L1048.1 597.5L1048.7 596.8L1049.3 595.7L1049.9 594.0L1050.5 597.1L1051.1 595.0L1051.6 601.8L1052.2 601.0L1052.8 595.0L1053.4 595.6L1054.0 602.2L1054.6 596.9L1055.2 601.6L1055.8 601.1L1056.4 601.0L1057.0 604.1L1057.6 596.8L1058.2 601.2L1058.8 602.3L1059.4 598.5L1060.0 608.4L1060.6 595.5L1061.2 599.1L1061.8 598.3L1062.3 591.9L1062.9 597.5L1063.5 597.0L1064.1 599.5L1064.7 595.6L1065.3 599.2L1065.9 597.5L1066.5 601.3L1067.1 599.7L1067.7 597.3L1068.3 599.4L1068.9 599.7L1069.5 602.9L1070.1 601.6L1070.7 600.8L1071.3 605.1L1071.9 607.4L1072.4 605.3L1073.0 617.3L1073.6 608.8L1074.2 607.0L1074.8 608.4L1075.4 609.6L1076.0 609.9L1076.6 609.8L1077.2 607.4L1077.8 607.5L1078.4 606.1L1079.0 604.1L1079.6 600.5L1080.2 603.4L1080.8 600.1L1081.4 599.9L1082.0 597.2L1082.6 600.7L1083.1 598.4L1083.7 594.9L1084.3 600.1L1084.9 594.7L1085.5 595.5L1086.1 594.4L1086.7 592.9L1087.3 596.6L1087.9 594.8L1088.5 599.0L1089.1 600.2L1089.7 591.6L1090.3 597.6L1090.9 589.7L1091.5 590.9L1092.1 599.5L1092.7 596.2L1093.3 596.1L1093.8 589.4L1094.4 595.1L1095.0 596.6L1095.6 593.7L1096.2 599.2L1096.8 587.6L1097.4 595.5L1098.0 591.0L1098.6 592.3L1099.2 592.2L1099.8 590.5L1100.4 591.0L1101.0 592.6L1101.6 587.8L1102.2 589.6L1102.8 594.1L1103.4 600.0L1104.0 596.5L1104.5 592.7L1105.1 598.8L1105.7 596.5L1106.3 596.9L1106.9 592.9L1107.5 592.1L1108.1 599.3L1108.7 595.2L1109.3 593.8L1109.9 598.3L1110.5 594.7L1111.1 599.2L1111.7 599.5L1112.3 599.6L1112.9 601.8L1113.5 602.8L1114.1 602.7L1114.7 601.3L1115.2 602.5L1115.8 601.3L1116.4 603.7L1117.0 599.8L1117.6 602.1L1118.2 604.3L1118.8 601.3L1119.4 601.8L1120.0 603.2L1120.6 601.7L1121.1 602.3L1121.7 599.0L1122.3 599.0L1122.9 604.5" fill="none" stroke="#ff0808" stroke-width="1.0" stroke-linejoin="round" />
<path d="M675.4 672.0L676.0 673.9L676.6 672.7L677.2 679.7L677.8 672.3L678.4 665.2L679.0 669.4L679.6 665.8L680.2 668.5L680.8 667.6L681.4 671.1L682.0 667.4L682.6 665.7L683.2 667.3L683.7 666.1L684.3 664.1L684.9 667.3L685.5 662.4L686.1 661.1L686.7 663.3L687.3 657.2L687.9 659.0L688.5 666.5L689.1 659.5L689.7 664.7L690.3 664.1L690.9 661.7L691.5 660.7L692.1 665.2L692.7 657.8L693.3 667.7L693.9 665.9L694.4 669.4L695.0 660.1L695.6 663.0L696.2 660.9L696.8 659.8L697.4 663.1L698.0 658.6L698.6 661.6L699.2 660.4L699.8 660.7L700.4 662.2L701.0 660.9L701.6 658.1L702.2 665.2L702.8 666.4L703.4 661.8L704.0 666.1L704.6 663.7L705.1 664.9L705.7 668.2L706.3 668.5L706.9 678.9L707.5 669.6L708.1 669.3L708.7 667.1L709.3 670.7L709.9 672.4L710.5 667.4L711.1 671.3L711.7 664.7L712.3 663.0L712.9 664.6L713.5 659.6L714.1 661.0L714.7 657.9L715.3 661.1L715.8 659.6L716.4 659.2L717.0 655.8L717.6 660.0L718.2 656.2L718.8 659.3L719.4 653.4L720.0 663.8L720.6 656.5L721.2 652.7L721.8 656.7L722.4 649.0L723.0 654.3L723.6 652.5L724.2 653.4L724.8 650.1L725.4 657.6L725.9 659.3L726.5 659.1L727.1 662.0L727.7 666.8L728.3 666.0L728.9 671.3L729.5 675.5L730.1 668.5L730.7 670.1L731.3 668.4L731.9 667.2L732.5 670.7L733.1 672.1L733.7 665.9L734.3 667.0L734.9 665.1L735.5 666.4L736.1 663.9L736.6 665.6L737.2 667.3L737.8 667.8L738.4 667.7L739.0 670.1L739.6 665.9L740.2 666.6L740.8 668.7L741.4 667.8L742.0 666.7L742.6 674.4L743.2 669.5L743.8 676.8L744.4 673.0L745.0 676.0L745.6 671.3L746.2 671.4L746.8 671.1L747.3 675.3L747.9 665.1L748.5 675.0L749.1 668.8L749.7 668.4L750.3 666.9L750.9 666.4L751.5 670.6L752.1 660.4L752.7 664.5L753.3 659.7L753.9 662.6L754.5 661.0L755.1 661.0L755.7 659.2L756.3 668.1L756.9 663.6L757.5 660.6L758.0 660.8L758.6 657.6L759.2 660.0L759.8 662.7L760.4 660.1L761.0 656.4L761.6 659.2L762.2 657.0L762.8 657.9L763.5 654.5L764.1 655.0L764.8 659.1L765.4 661.5L766.0 659.5L766.7 657.4L767.3 648.5L767.9 637.9L768.4 635.6L769.0 642.3L769.6 651.9L770.2 661.4L770.8 657.5L771.5 658.8L772.1 658.0L772.7 657.1L773.3 663.2L773.9 666.2L774.5 662.9L775.1 657.1L775.7 661.8L776.3 662.8L776.9 663.6L777.6 660.7L778.2 663.0L778.8 655.1L779.4 666.7L780.0 653.1L780.6 662.4L781.2 662.9L781.8 657.9L782.4 656.7L783.0 661.3L783.6 661.2L784.2 662.9L784.8 665.8L785.4 653.7L786.0 664.3L786.6 666.2L787.2 660.1L787.8 662.3L788.4 661.4L789.0 661.3L789.5 662.3L790.1 659.2L790.7 661.9L791.3 659.9L791.9 660.0L792.5 657.7L793.1 658.0L793.7 666.5L794.3 663.2L794.9 661.2L795.5 661.5L796.1 667.9L796.7 670.1L797.3 677.1L797.9 681.5L798.5 680.4L799.1 676.9L799.7 674.8L800.2 670.0L800.8 668.1L801.4 668.6L802.0 665.0L802.6 667.1L803.2 661.2L803.8 661.0L804.4 660.2L805.0 660.3L805.6 650.1L806.2 641.9L806.8 645.7L807.5 646.0L808.1 655.7L808.8 659.1L809.5 663.2L810.1 660.5L810.6 667.3L811.2 661.5L811.8 660.7L812.4 665.6L813.0 668.4L813.6 663.4L814.2 667.1L814.8 663.7L815.4 667.0L816.0 665.8L816.6 672.1L817.2 671.4L817.8 669.9L818.4 669.5L819.0 672.0L819.6 677.2L820.2 672.6L820.8 672.8L821.4 668.8L822.0 671.5L822.7 663.8L823.3 672.3L823.9 663.9L824.5 665.7L825.2 665.5L825.8 664.6L826.4 664.4L827.1 657.5L827.8 642.6L828.5 642.0L829.1 634.7L829.7 650.6L830.3 649.9L830.9 662.0L831.5 670.1L832.1 660.0L832.7 666.3L833.3 660.2L833.9 667.4L834.5 662.9L835.1 679.2L835.7 667.1L836.3 666.4L836.9 664.5L837.5 662.1L838.2 666.2L838.8 666.8L839.4 664.9L840.0 666.1L840.6 665.4L841.2 665.5L841.8 659.0L842.4 658.1L843.0 667.0L843.6 663.1L844.2 661.9L844.8 667.0L845.5 667.5L846.1 668.6L846.7 663.1L847.3 663.4L847.9 668.0L848.5 668.5L849.2 664.8L849.8 662.9L850.4 666.8L851.0 661.1L851.6 667.8L852.3 680.0L852.9 671.2L853.4 667.1L854.0 668.6L854.7 665.2L855.3 661.6L856.0 667.5L856.6 665.8L857.2 663.9L857.9 662.4L858.5 659.5L859.4 680.1L860.0 674.1L860.6 664.2L861.2 665.4L861.8 667.7L862.4 660.7L863.0 662.0L863.6 659.8L864.1 658.5L864.7 664.8L865.3 661.3L865.9 660.9L866.5 661.4L867.1 660.3L867.7 660.9L868.3 665.4L868.9 667.8L869.5 658.6L870.1 659.2L870.7 666.1L871.3 655.9L871.9 661.4L872.5 656.0L873.2 650.5L873.9 644.4L874.5 636.2L875.2 648.3L875.9 649.4L876.6 662.0L877.2 665.9L877.8 665.0L878.4 663.8L879.0 663.9L879.6 663.5L880.2 662.8L880.8 660.4L881.4 657.5L882.0 658.7L882.6 654.8L883.2 649.2L883.8 641.0L884.4 634.7L884.9 641.6L885.5 654.5L886.1 660.8L886.7 663.8L887.3 658.7L887.9 657.1L888.6 665.7L889.2 664.7L889.8 662.2L890.4 663.9L891.0 668.5L891.6 664.6L892.2 668.0L892.8 667.5L893.4 668.4L894.0 669.2L894.6 668.8L895.2 668.1L895.8 668.2L896.4 673.4L897.0 668.4L897.7 678.2L898.4 673.9L899.0 670.0L899.7 662.5L900.4 660.9L901.0 662.6L901.6 660.3L902.2 659.3L902.8 659.5L903.4 658.0L904.0 658.7L904.6 656.8L905.2 658.4L905.8 655.1L906.4 649.2L907.0 660.7L907.6 660.9L908.3 660.7L908.9 661.5L909.5 656.7L910.1 658.2L910.7 660.6L911.3 656.6L911.9 662.0L912.5 659.7L913.1 660.0L913.7 660.2L914.3 662.0L914.9 657.3L915.5 658.6L916.1 655.3L916.7 644.1L917.3 639.7L918.0 649.6L918.7 651.7L919.3 660.0L920.0 668.4L920.6 667.4L921.2 660.3L921.8 665.6L922.5 663.9L923.1 662.1L923.7 659.8L924.3 662.3L924.9 665.5L925.5 662.7L926.2 662.6L926.8 659.0L927.4 662.5L928.0 661.0L928.6 652.5L929.2 653.0L929.8 644.1L930.3 648.6L930.9 655.1L931.4 657.9L931.9 661.7L932.5 661.6L933.1 670.4L933.7 669.0L934.3 661.7L934.9 665.5L935.5 665.8L936.1 661.7L936.7 664.6L937.3 672.8L937.9 665.6L938.4 662.8L939.0 664.2L939.6 666.6L940.2 662.3L940.8 665.0L941.4 663.9L942.0 657.5L942.6 660.8L943.2 664.9L943.8 663.8L944.4 663.7L945.0 660.3L945.5 659.5L946.1 648.9L946.7 647.4L947.3 652.4L947.9 662.9L948.5 666.8L949.1 671.7L949.7 676.3L950.3 682.1L950.9 686.2L951.6 699.4L952.1 676.0L952.7 672.2L953.3 670.4L953.9 663.4L954.5 659.9L955.1 668.8L955.7 661.2L956.3 652.2L956.9 666.7L957.5 663.2L958.1 663.2L958.7 658.1L959.3 665.8L959.9 665.3L960.5 668.1L961.1 661.2L961.7 660.4L962.3 665.1L962.9 664.1L963.5 665.6L964.1 667.5L964.7 662.4L965.3 656.6L965.9 667.1L966.6 667.7L967.2 663.1L967.8 664.7L968.4 667.6L969.0 662.4L969.6 668.8L970.2 668.5L970.8 663.4L971.4 659.3L972.0 664.7L972.6 664.8L973.2 661.6L973.8 663.5L974.4 664.9L975.0 669.0L975.6 666.6L976.2 662.6L976.8 664.6L977.3 662.5L977.9 660.2L978.5 669.0L979.1 667.0L979.7 663.2L980.3 665.9L980.9 664.6L981.5 666.5L982.1 665.3L982.7 663.5L983.3 668.1L983.9 676.8L984.5 680.5L985.1 685.0L985.6 677.9L986.1 676.4L986.7 672.3L987.2 662.7L987.8 665.3L988.4 664.3L989.0 665.8L989.6 667.9L990.2 670.4L990.8 667.1L991.4 670.6L991.9 667.7L992.5 668.5L993.1 670.2L993.7 664.9L994.3 664.5L994.9 669.9L995.5 666.8L996.1 646.2L996.7 670.6L997.3 677.1L997.9 668.6L998.4 666.3L999.0 675.2L999.6 682.5L1000.2 690.9L1000.9 682.8L1001.6 675.5L1002.2 676.6L1002.9 671.8L1003.5 671.5L1004.1 670.9L1004.7 666.7L1005.3 669.7L1005.9 670.4L1006.5 668.9L1007.1 669.7L1007.7 663.6L1008.3 666.2L1008.8 664.0L1009.4 665.5L1010.0 663.0L1010.6 662.1L1011.2 660.4L1011.8 660.0L1012.4 653.8L1012.9 646.0L1013.6 705.6L1014.2 694.6L1014.8 680.2L1015.4 669.3L1016.0 669.6L1016.6 665.4L1017.2 665.5L1017.8 666.5L1018.4 665.6L1019.0 664.4L1019.5 664.8L1020.1 668.3L1020.7 662.1L1021.3 662.8L1021.9 668.1L1022.5 665.9L1023.1 668.7L1023.7 665.4L1024.3 662.7L1024.9 669.2L1025.5 666.9L1026.1 667.2L1026.7 661.8L1027.3 668.7L1027.9 668.7L1028.5 671.0L1029.1 667.1L1029.7 667.2L1030.3 665.1L1030.9 669.4L1031.6 675.9L1032.2 675.1L1032.8 669.9L1033.5 677.5L1034.1 686.5L1034.7 670.8L1035.3 656.3L1035.9 638.6L1036.5 647.2L1037.1 640.4L1037.7 636.8L1038.3 643.5L1038.8 643.8L1039.4 654.4L1040.0 661.8L1040.6 666.6L1041.2 661.7L1041.8 662.8L1042.4 665.3L1043.0 665.1L1043.6 660.8L1044.2 664.5L1044.8 662.0L1045.4 663.9L1046.0 663.1L1046.6 660.9L1047.2 660.1L1047.9 669.4L1048.5 667.0L1049.1 660.9L1049.7 664.7L1050.3 661.9L1050.9 662.1L1051.5 661.7L1052.1 661.4L1052.7 662.3L1053.3 659.9L1053.9 664.0L1054.5 664.5L1055.1 660.7L1055.7 664.5L1056.3 657.4L1056.9 662.5L1057.5 659.4L1058.1 660.8L1058.7 663.5L1059.3 664.2L1059.9 663.7L1060.5 658.7L1061.1 662.0L1061.8 656.7L1062.3 653.2L1062.9 654.8L1063.5 653.4L1064.2 656.3L1064.9 657.8L1065.5 667.1L1066.2 664.1L1066.8 670.5L1067.4 667.5L1068.1 668.5L1068.7 670.9L1069.3 670.5L1069.9 672.4L1070.5 667.1L1071.1 673.6L1071.8 672.0L1072.4 669.6L1073.0 671.0L1073.6 671.0L1074.2 671.6L1074.8 678.1L1075.4 672.0L1076.0 678.6L1076.7 675.8L1077.4 675.9L1078.0 666.9L1078.7 663.6L1079.3 661.8L1079.9 661.7L1080.5 669.1L1081.1 666.4L1081.7 659.8L1082.3 664.2L1082.9 662.0L1083.4 657.5L1084.0 667.8L1084.6 663.5L1085.2 665.2L1085.8 662.9L1086.4 665.6L1087.0 663.4L1087.6 660.7L1088.2 663.6L1088.8 664.2L1089.4 663.1L1090.0 675.7L1090.6 664.3L1091.2 666.6L1091.8 660.3L1092.4 668.3L1093.0 663.4L1093.6 663.6L1094.1 663.5L1094.7 670.2L1095.3 665.4L1095.9 662.3L1096.5 666.7L1097.1 667.6L1097.7 661.4L1098.3 664.8L1098.9 671.3L1099.5 666.9L1100.1 661.6L1100.7 663.4L1101.3 662.3L1101.9 661.3L1102.5 668.0L1103.1 678.8L1103.7 684.0L1104.2 681.5L1104.8 674.9L1105.4 664.2L1106.0 664.2L1106.6 662.7L1107.2 664.9L1107.8 663.6L1108.4 666.3L1109.0 665.3L1109.6 665.2L1110.2 669.9L1110.8 674.4L1111.4 664.0L1112.0 665.5L1112.6 666.4L1113.2 664.7L1113.8 666.4L1114.4 667.6L1115.0 666.7L1115.7 667.1L1116.3 663.8L1116.9 666.4L1117.5 663.4L1118.1 666.5L1118.7 661.7L1119.3 664.5L1119.9 665.9L1120.5 661.8L1121.1 665.9L1121.7 667.7L1122.3 666.7L1122.9 667.6" fill="none" stroke="#181818" stroke-width="1.0" stroke-linejoin="round" />
<rect x="668.3" y="42.0" width="454.5" height="664.6" fill="none" stroke="#000" stroke-width="1.4"/>
<line x1="668.3" y1="115.5" x2="1122.8" y2="115.5" stroke="#000" stroke-width="1.5" />
<line x1="668.3" y1="189.3" x2="1122.8" y2="189.3" stroke="#000" stroke-width="1.5" />
<line x1="668.3" y1="263.3" x2="1122.8" y2="263.3" stroke="#000" stroke-width="1.5" />
<line x1="668.3" y1="337.2" x2="1122.8" y2="337.2" stroke="#000" stroke-width="1.5" />
<line x1="668.3" y1="411.1" x2="1122.8" y2="411.1" stroke="#000" stroke-width="1.5" />
<line x1="668.3" y1="485.0" x2="1122.8" y2="485.0" stroke="#000" stroke-width="1.5" />
<line x1="668.3" y1="558.7" x2="1122.8" y2="558.7" stroke="#000" stroke-width="1.5" />
<line x1="668.3" y1="632.6" x2="1122.8" y2="632.6" stroke="#000" stroke-width="1.5" />
<path d="M685.0 42.0v4.6M685.0 115.5v-4.6M703.2 42.0v4.6M703.2 115.5v-4.6M721.5 42.0v11.0M721.5 115.5v-11.0M739.8 42.0v4.6M739.8 115.5v-4.6M758.0 42.0v4.6M758.0 115.5v-4.6M776.3 42.0v4.6M776.3 115.5v-4.6M794.5 42.0v4.6M794.5 115.5v-4.6M812.8 42.0v11.0M812.8 115.5v-11.0M831.1 42.0v4.6M831.1 115.5v-4.6M849.3 42.0v4.6M849.3 115.5v-4.6M867.6 42.0v4.6M867.6 115.5v-4.6M885.8 42.0v4.6M885.8 115.5v-4.6M904.1 42.0v11.0M904.1 115.5v-11.0M922.4 42.0v4.6M922.4 115.5v-4.6M940.6 42.0v4.6M940.6 115.5v-4.6M958.9 42.0v4.6M958.9 115.5v-4.6M977.1 42.0v4.6M977.1 115.5v-4.6M995.4 42.0v11.0M995.4 115.5v-11.0M1013.7 42.0v4.6M1013.7 115.5v-4.6M1031.9 42.0v4.6M1031.9 115.5v-4.6M1050.2 42.0v4.6M1050.2 115.5v-4.6M1068.4 42.0v4.6M1068.4 115.5v-4.6M1086.7 42.0v11.0M1086.7 115.5v-11.0M1105.0 42.0v4.6M1105.0 115.5v-4.6" stroke="#242424" stroke-width="1.1" fill="none"/>
<path d="M685.0 115.5v4.6M685.0 189.3v-4.6M703.2 115.5v4.6M703.2 189.3v-4.6M721.5 115.5v11.0M721.5 189.3v-11.0M739.8 115.5v4.6M739.8 189.3v-4.6M758.0 115.5v4.6M758.0 189.3v-4.6M776.3 115.5v4.6M776.3 189.3v-4.6M794.5 115.5v4.6M794.5 189.3v-4.6M812.8 115.5v11.0M812.8 189.3v-11.0M831.1 115.5v4.6M831.1 189.3v-4.6M849.3 115.5v4.6M849.3 189.3v-4.6M867.6 115.5v4.6M867.6 189.3v-4.6M885.8 115.5v4.6M885.8 189.3v-4.6M904.1 115.5v11.0M904.1 189.3v-11.0M922.4 115.5v4.6M922.4 189.3v-4.6M940.6 115.5v4.6M940.6 189.3v-4.6M958.9 115.5v4.6M958.9 189.3v-4.6M977.1 115.5v4.6M977.1 189.3v-4.6M995.4 115.5v11.0M995.4 189.3v-11.0M1013.7 115.5v4.6M1013.7 189.3v-4.6M1031.9 115.5v4.6M1031.9 189.3v-4.6M1050.2 115.5v4.6M1050.2 189.3v-4.6M1068.4 115.5v4.6M1068.4 189.3v-4.6M1086.7 115.5v11.0M1086.7 189.3v-11.0M1105.0 115.5v4.6M1105.0 189.3v-4.6" stroke="#242424" stroke-width="1.1" fill="none"/>
<path d="M685.0 189.3v4.6M685.0 263.3v-4.6M703.2 189.3v4.6M703.2 263.3v-4.6M721.5 189.3v11.0M721.5 263.3v-11.0M739.8 189.3v4.6M739.8 263.3v-4.6M758.0 189.3v4.6M758.0 263.3v-4.6M776.3 189.3v4.6M776.3 263.3v-4.6M794.5 189.3v4.6M794.5 263.3v-4.6M812.8 189.3v11.0M812.8 263.3v-11.0M831.1 189.3v4.6M831.1 263.3v-4.6M849.3 189.3v4.6M849.3 263.3v-4.6M867.6 189.3v4.6M867.6 263.3v-4.6M885.8 189.3v4.6M885.8 263.3v-4.6M904.1 189.3v11.0M904.1 263.3v-11.0M922.4 189.3v4.6M922.4 263.3v-4.6M940.6 189.3v4.6M940.6 263.3v-4.6M958.9 189.3v4.6M958.9 263.3v-4.6M977.1 189.3v4.6M977.1 263.3v-4.6M995.4 189.3v11.0M995.4 263.3v-11.0M1013.7 189.3v4.6M1013.7 263.3v-4.6M1031.9 189.3v4.6M1031.9 263.3v-4.6M1050.2 189.3v4.6M1050.2 263.3v-4.6M1068.4 189.3v4.6M1068.4 263.3v-4.6M1086.7 189.3v11.0M1086.7 263.3v-11.0M1105.0 189.3v4.6M1105.0 263.3v-4.6" stroke="#242424" stroke-width="1.1" fill="none"/>
<path d="M685.0 263.3v4.6M685.0 337.2v-4.6M703.2 263.3v4.6M703.2 337.2v-4.6M721.5 263.3v11.0M721.5 337.2v-11.0M739.8 263.3v4.6M739.8 337.2v-4.6M758.0 263.3v4.6M758.0 337.2v-4.6M776.3 263.3v4.6M776.3 337.2v-4.6M794.5 263.3v4.6M794.5 337.2v-4.6M812.8 263.3v11.0M812.8 337.2v-11.0M831.1 263.3v4.6M831.1 337.2v-4.6M849.3 263.3v4.6M849.3 337.2v-4.6M867.6 263.3v4.6M867.6 337.2v-4.6M885.8 263.3v4.6M885.8 337.2v-4.6M904.1 263.3v11.0M904.1 337.2v-11.0M922.4 263.3v4.6M922.4 337.2v-4.6M940.6 263.3v4.6M940.6 337.2v-4.6M958.9 263.3v4.6M958.9 337.2v-4.6M977.1 263.3v4.6M977.1 337.2v-4.6M995.4 263.3v11.0M995.4 337.2v-11.0M1013.7 263.3v4.6M1013.7 337.2v-4.6M1031.9 263.3v4.6M1031.9 337.2v-4.6M1050.2 263.3v4.6M1050.2 337.2v-4.6M1068.4 263.3v4.6M1068.4 337.2v-4.6M1086.7 263.3v11.0M1086.7 337.2v-11.0M1105.0 263.3v4.6M1105.0 337.2v-4.6" stroke="#242424" stroke-width="1.1" fill="none"/>
<path d="M685.0 337.2v4.6M685.0 411.1v-4.6M703.2 337.2v4.6M703.2 411.1v-4.6M721.5 337.2v11.0M721.5 411.1v-11.0M739.8 337.2v4.6M739.8 411.1v-4.6M758.0 337.2v4.6M758.0 411.1v-4.6M776.3 337.2v4.6M776.3 411.1v-4.6M794.5 337.2v4.6M794.5 411.1v-4.6M812.8 337.2v11.0M812.8 411.1v-11.0M831.1 337.2v4.6M831.1 411.1v-4.6M849.3 337.2v4.6M849.3 411.1v-4.6M867.6 337.2v4.6M867.6 411.1v-4.6M885.8 337.2v4.6M885.8 411.1v-4.6M904.1 337.2v11.0M904.1 411.1v-11.0M922.4 337.2v4.6M922.4 411.1v-4.6M940.6 337.2v4.6M940.6 411.1v-4.6M958.9 337.2v4.6M958.9 411.1v-4.6M977.1 337.2v4.6M977.1 411.1v-4.6M995.4 337.2v11.0M995.4 411.1v-11.0M1013.7 337.2v4.6M1013.7 411.1v-4.6M1031.9 337.2v4.6M1031.9 411.1v-4.6M1050.2 337.2v4.6M1050.2 411.1v-4.6M1068.4 337.2v4.6M1068.4 411.1v-4.6M1086.7 337.2v11.0M1086.7 411.1v-11.0M1105.0 337.2v4.6M1105.0 411.1v-4.6" stroke="#242424" stroke-width="1.1" fill="none"/>
<path d="M685.0 411.1v4.6M685.0 485.0v-4.6M703.2 411.1v4.6M703.2 485.0v-4.6M721.5 411.1v11.0M721.5 485.0v-11.0M739.8 411.1v4.6M739.8 485.0v-4.6M758.0 411.1v4.6M758.0 485.0v-4.6M776.3 411.1v4.6M776.3 485.0v-4.6M794.5 411.1v4.6M794.5 485.0v-4.6M812.8 411.1v11.0M812.8 485.0v-11.0M831.1 411.1v4.6M831.1 485.0v-4.6M849.3 411.1v4.6M849.3 485.0v-4.6M867.6 411.1v4.6M867.6 485.0v-4.6M885.8 411.1v4.6M885.8 485.0v-4.6M904.1 411.1v11.0M904.1 485.0v-11.0M922.4 411.1v4.6M922.4 485.0v-4.6M940.6 411.1v4.6M940.6 485.0v-4.6M958.9 411.1v4.6M958.9 485.0v-4.6M977.1 411.1v4.6M977.1 485.0v-4.6M995.4 411.1v11.0M995.4 485.0v-11.0M1013.7 411.1v4.6M1013.7 485.0v-4.6M1031.9 411.1v4.6M1031.9 485.0v-4.6M1050.2 411.1v4.6M1050.2 485.0v-4.6M1068.4 411.1v4.6M1068.4 485.0v-4.6M1086.7 411.1v11.0M1086.7 485.0v-11.0M1105.0 411.1v4.6M1105.0 485.0v-4.6" stroke="#242424" stroke-width="1.1" fill="none"/>
<path d="M685.0 485.0v4.6M685.0 558.7v-4.6M703.2 485.0v4.6M703.2 558.7v-4.6M721.5 485.0v11.0M721.5 558.7v-11.0M739.8 485.0v4.6M739.8 558.7v-4.6M758.0 485.0v4.6M758.0 558.7v-4.6M776.3 485.0v4.6M776.3 558.7v-4.6M794.5 485.0v4.6M794.5 558.7v-4.6M812.8 485.0v11.0M812.8 558.7v-11.0M831.1 485.0v4.6M831.1 558.7v-4.6M849.3 485.0v4.6M849.3 558.7v-4.6M867.6 485.0v4.6M867.6 558.7v-4.6M885.8 485.0v4.6M885.8 558.7v-4.6M904.1 485.0v11.0M904.1 558.7v-11.0M922.4 485.0v4.6M922.4 558.7v-4.6M940.6 485.0v4.6M940.6 558.7v-4.6M958.9 485.0v4.6M958.9 558.7v-4.6M977.1 485.0v4.6M977.1 558.7v-4.6M995.4 485.0v11.0M995.4 558.7v-11.0M1013.7 485.0v4.6M1013.7 558.7v-4.6M1031.9 485.0v4.6M1031.9 558.7v-4.6M1050.2 485.0v4.6M1050.2 558.7v-4.6M1068.4 485.0v4.6M1068.4 558.7v-4.6M1086.7 485.0v11.0M1086.7 558.7v-11.0M1105.0 485.0v4.6M1105.0 558.7v-4.6" stroke="#242424" stroke-width="1.1" fill="none"/>
<path d="M685.0 558.7v4.6M685.0 632.6v-4.6M703.2 558.7v4.6M703.2 632.6v-4.6M721.5 558.7v11.0M721.5 632.6v-11.0M739.8 558.7v4.6M739.8 632.6v-4.6M758.0 558.7v4.6M758.0 632.6v-4.6M776.3 558.7v4.6M776.3 632.6v-4.6M794.5 558.7v4.6M794.5 632.6v-4.6M812.8 558.7v11.0M812.8 632.6v-11.0M831.1 558.7v4.6M831.1 632.6v-4.6M849.3 558.7v4.6M849.3 632.6v-4.6M867.6 558.7v4.6M867.6 632.6v-4.6M885.8 558.7v4.6M885.8 632.6v-4.6M904.1 558.7v11.0M904.1 632.6v-11.0M922.4 558.7v4.6M922.4 632.6v-4.6M940.6 558.7v4.6M940.6 632.6v-4.6M958.9 558.7v4.6M958.9 632.6v-4.6M977.1 558.7v4.6M977.1 632.6v-4.6M995.4 558.7v11.0M995.4 632.6v-11.0M1013.7 558.7v4.6M1013.7 632.6v-4.6M1031.9 558.7v4.6M1031.9 632.6v-4.6M1050.2 558.7v4.6M1050.2 632.6v-4.6M1068.4 558.7v4.6M1068.4 632.6v-4.6M1086.7 558.7v11.0M1086.7 632.6v-11.0M1105.0 558.7v4.6M1105.0 632.6v-4.6" stroke="#242424" stroke-width="1.1" fill="none"/>
<path d="M685.0 632.6v4.6M685.0 706.6v-4.6M703.2 632.6v4.6M703.2 706.6v-4.6M721.5 632.6v11.0M721.5 706.6v-11.0M739.8 632.6v4.6M739.8 706.6v-4.6M758.0 632.6v4.6M758.0 706.6v-4.6M776.3 632.6v4.6M776.3 706.6v-4.6M794.5 632.6v4.6M794.5 706.6v-4.6M812.8 632.6v11.0M812.8 706.6v-11.0M831.1 632.6v4.6M831.1 706.6v-4.6M849.3 632.6v4.6M849.3 706.6v-4.6M867.6 632.6v4.6M867.6 706.6v-4.6M885.8 632.6v4.6M885.8 706.6v-4.6M904.1 632.6v11.0M904.1 706.6v-11.0M922.4 632.6v4.6M922.4 706.6v-4.6M940.6 632.6v4.6M940.6 706.6v-4.6M958.9 632.6v4.6M958.9 706.6v-4.6M977.1 632.6v4.6M977.1 706.6v-4.6M995.4 632.6v11.0M995.4 706.6v-11.0M1013.7 632.6v4.6M1013.7 706.6v-4.6M1031.9 632.6v4.6M1031.9 706.6v-4.6M1050.2 632.6v4.6M1050.2 706.6v-4.6M1068.4 632.6v4.6M1068.4 706.6v-4.6M1086.7 632.6v11.0M1086.7 706.6v-11.0M1105.0 632.6v4.6M1105.0 706.6v-4.6" stroke="#242424" stroke-width="1.1" fill="none"/>
<path d="M668.3 105.8h6.0M1122.8 105.8h-6.0M668.3 81.7h6.0M1122.8 81.7h-6.0M668.3 57.6h6.0M1122.8 57.6h-6.0M668.3 111.8h2.8M1122.8 111.8h-2.8M668.3 99.8h2.8M1122.8 99.8h-2.8M668.3 93.8h2.8M1122.8 93.8h-2.8M668.3 87.7h2.8M1122.8 87.7h-2.8M668.3 75.7h2.8M1122.8 75.7h-2.8M668.3 69.7h2.8M1122.8 69.7h-2.8M668.3 63.6h2.8M1122.8 63.6h-2.8M668.3 51.6h2.8M1122.8 51.6h-2.8M668.3 45.5h2.8M1122.8 45.5h-2.8" stroke="#242424" stroke-width="1.1" fill="none"/>
<path d="M668.3 168.1h6.0M1122.8 168.1h-6.0M668.3 147.0h6.0M1122.8 147.0h-6.0M668.3 126.0h6.0M1122.8 126.0h-6.0M668.3 182.8h2.8M1122.8 182.8h-2.8M668.3 179.1h2.8M1122.8 179.1h-2.8M668.3 176.5h2.8M1122.8 176.5h-2.8M668.3 174.4h2.8M1122.8 174.4h-2.8M668.3 172.8h2.8M1122.8 172.8h-2.8M668.3 171.4h2.8M1122.8 171.4h-2.8M668.3 170.1h2.8M1122.8 170.1h-2.8M668.3 169.1h2.8M1122.8 169.1h-2.8M668.3 161.8h2.8M1122.8 161.8h-2.8M668.3 158.1h2.8M1122.8 158.1h-2.8M668.3 155.4h2.8M1122.8 155.4h-2.8M668.3 153.4h2.8M1122.8 153.4h-2.8M668.3 151.7h2.8M1122.8 151.7h-2.8M668.3 150.3h2.8M1122.8 150.3h-2.8M668.3 149.1h2.8M1122.8 149.1h-2.8M668.3 148.0h2.8M1122.8 148.0h-2.8M668.3 140.7h2.8M1122.8 140.7h-2.8M668.3 137.0h2.8M1122.8 137.0h-2.8M668.3 134.4h2.8M1122.8 134.4h-2.8M668.3 132.3h2.8M1122.8 132.3h-2.8M668.3 130.7h2.8M1122.8 130.7h-2.8M668.3 129.3h2.8M1122.8 129.3h-2.8M668.3 128.0h2.8M1122.8 128.0h-2.8M668.3 127.0h2.8M1122.8 127.0h-2.8M668.3 119.7h2.8M1122.8 119.7h-2.8" stroke="#242424" stroke-width="1.1" fill="none"/>
<path d="M668.3 260.7h6.0M1122.8 260.7h-6.0M668.3 242.4h6.0M1122.8 242.4h-6.0M668.3 224.0h6.0M1122.8 224.0h-6.0M668.3 205.6h6.0M1122.8 205.6h-6.0M668.3 251.5h2.8M1122.8 251.5h-2.8M668.3 233.2h2.8M1122.8 233.2h-2.8M668.3 214.8h2.8M1122.8 214.8h-2.8M668.3 196.5h2.8M1122.8 196.5h-2.8" stroke="#242424" stroke-width="1.1" fill="none"/>
<path d="M668.3 265.7h2.8M1122.8 265.7h-2.8M668.3 281.2h2.8M1122.8 281.2h-2.8M668.3 302.1h2.8M1122.8 302.1h-2.8" stroke="#242424" stroke-width="1.1" fill="none"/>
<path d="M668.3 401.7h6.0M1122.8 401.7h-6.0M668.3 390.1h6.0M1122.8 390.1h-6.0M668.3 378.5h6.0M1122.8 378.5h-6.0M668.3 366.9h6.0M1122.8 366.9h-6.0M668.3 355.3h6.0M1122.8 355.3h-6.0M668.3 343.7h6.0M1122.8 343.7h-6.0M668.3 407.5h2.8M1122.8 407.5h-2.8M668.3 395.9h2.8M1122.8 395.9h-2.8M668.3 384.3h2.8M1122.8 384.3h-2.8M668.3 372.7h2.8M1122.8 372.7h-2.8M668.3 361.1h2.8M1122.8 361.1h-2.8M668.3 349.5h2.8M1122.8 349.5h-2.8M668.3 337.9h2.8M1122.8 337.9h-2.8" stroke="#242424" stroke-width="1.1" fill="none"/>
<path d="M668.3 472.7h6.0M1122.8 472.7h-6.0M668.3 447.7h6.0M1122.8 447.7h-6.0M668.3 422.7h6.0M1122.8 422.7h-6.0M668.3 460.2h2.8M1122.8 460.2h-2.8M668.3 435.2h2.8M1122.8 435.2h-2.8" stroke="#242424" stroke-width="1.1" fill="none"/>
<path d="M668.3 536.3h6.0M1122.8 536.3h-6.0M668.3 513.2h6.0M1122.8 513.2h-6.0M668.3 490.1h6.0M1122.8 490.1h-6.0M668.3 547.9h2.8M1122.8 547.9h-2.8M668.3 524.8h2.8M1122.8 524.8h-2.8M668.3 501.6h2.8M1122.8 501.6h-2.8" stroke="#242424" stroke-width="1.1" fill="none"/>
<path d="M668.3 631.4h6.0M1122.8 631.4h-6.0M668.3 619.7h6.0M1122.8 619.7h-6.0M668.3 608.0h6.0M1122.8 608.0h-6.0M668.3 596.3h6.0M1122.8 596.3h-6.0M668.3 584.6h6.0M1122.8 584.6h-6.0M668.3 572.9h6.0M1122.8 572.9h-6.0M668.3 561.2h6.0M1122.8 561.2h-6.0M668.3 625.5h2.8M1122.8 625.5h-2.8M668.3 613.8h2.8M1122.8 613.8h-2.8M668.3 602.1h2.8M1122.8 602.1h-2.8M668.3 590.4h2.8M1122.8 590.4h-2.8M668.3 578.8h2.8M1122.8 578.8h-2.8M668.3 567.0h2.8M1122.8 567.0h-2.8" stroke="#242424" stroke-width="1.1" fill="none"/>
<path d="M668.3 700.2h6.0M1122.8 700.2h-6.0M668.3 683.1h6.0M1122.8 683.1h-6.0M668.3 666.0h6.0M1122.8 666.0h-6.0M668.3 648.9h6.0M1122.8 648.9h-6.0M668.3 691.7h2.8M1122.8 691.7h-2.8M668.3 674.6h2.8M1122.8 674.6h-2.8M668.3 657.4h2.8M1122.8 657.4h-2.8M668.3 640.3h2.8M1122.8 640.3h-2.8" stroke="#242424" stroke-width="1.1" fill="none"/>
<text x="627.3" y="12.0" font-size="11" text-anchor="start" fill="#000" font-weight="normal" >Plot layout GP 19/10/2018</text>
<text x="895.0" y="35.0" font-size="17.6" text-anchor="middle" fill="#000" font-weight="normal" >MMS2</text>
<text x="1072.0" y="24.0" font-size="18.0" text-anchor="middle" fill="#9c0404" font-weight="bold" >20160221_213054</text>
<text x="665.8" y="61.8" font-size="11.0" text-anchor="end" fill="#000" font-weight="normal" >20</text>
<text x="665.8" y="85.9" font-size="11.0" text-anchor="end" fill="#000" font-weight="normal" >0</text>
<text x="665.8" y="110.0" font-size="11.0" text-anchor="end" fill="#000" font-weight="normal" >-20</text>
<text x="665.8" y="209.8" font-size="11.0" text-anchor="end" fill="#000" font-weight="normal" >200</text>
<text x="665.8" y="228.2" font-size="11.0" text-anchor="end" fill="#000" font-weight="normal" >0</text>
<text x="665.8" y="246.6" font-size="11.0" text-anchor="end" fill="#000" font-weight="normal" >-200</text>
<text x="665.8" y="264.9" font-size="11.0" text-anchor="end" fill="#000" font-weight="normal" >-400</text>
<text x="665.8" y="347.9" font-size="11.0" text-anchor="end" fill="#000" font-weight="normal" >6</text>
<text x="665.8" y="359.5" font-size="11.0" text-anchor="end" fill="#000" font-weight="normal" >4</text>
<text x="665.8" y="371.1" font-size="11.0" text-anchor="end" fill="#000" font-weight="normal" >2</text>
<text x="665.8" y="382.7" font-size="11.0" text-anchor="end" fill="#000" font-weight="normal" >0</text>
<text x="665.8" y="394.3" font-size="11.0" text-anchor="end" fill="#000" font-weight="normal" >-2</text>
<text x="665.8" y="405.9" font-size="11.0" text-anchor="end" fill="#000" font-weight="normal" >-4</text>
<text x="665.8" y="494.3" font-size="11.0" text-anchor="end" fill="#000" font-weight="normal" >0.6</text>
<text x="665.8" y="517.4" font-size="11.0" text-anchor="end" fill="#000" font-weight="normal" >0.4</text>
<text x="665.8" y="540.5" font-size="11.0" text-anchor="end" fill="#000" font-weight="normal" >0.2</text>
<text x="665.8" y="653.1" font-size="11.0" text-anchor="end" fill="#000" font-weight="normal" >0.2</text>
<text x="665.8" y="670.2" font-size="11.0" text-anchor="end" fill="#000" font-weight="normal" >0.0</text>
<text x="665.8" y="687.3" font-size="11.0" text-anchor="end" fill="#000" font-weight="normal" >-0.2</text>
<text x="665.8" y="704.4" font-size="11.0" text-anchor="end" fill="#000" font-weight="normal" >-0.4</text>
<text x="1126.0" y="130.6" font-size="11.0" text-anchor="start" fill="#000" font-weight="normal" >10<tspan dy="-4.6" font-size="8.6">4</tspan><tspan dy="4.6" font-size="1">&#8203;</tspan></text>
<text x="1126.0" y="151.6" font-size="11.0" text-anchor="start" fill="#000" font-weight="normal" >10<tspan dy="-4.6" font-size="8.6">3</tspan><tspan dy="4.6" font-size="1">&#8203;</tspan></text>
<text x="1126.0" y="172.6" font-size="11.0" text-anchor="start" fill="#000" font-weight="normal" >10<tspan dy="-4.6" font-size="8.6">2</tspan><tspan dy="4.6" font-size="1">&#8203;</tspan></text>
<text x="1126.0" y="193.8" font-size="11.0" text-anchor="start" fill="#000" font-weight="normal" >10<tspan dy="-4.6" font-size="8.6">1</tspan><tspan dy="4.6" font-size="1">&#8203;</tspan></text>
<text x="1126.0" y="426.9" font-size="11.0" text-anchor="start" fill="#000" font-weight="normal" >10</text>
<text x="1126.0" y="451.9" font-size="11.0" text-anchor="start" fill="#000" font-weight="normal" >0</text>
<text x="1126.0" y="476.9" font-size="11.0" text-anchor="start" fill="#000" font-weight="normal" >-10</text>
<text x="1126.0" y="565.4" font-size="11.0" text-anchor="start" fill="#000" font-weight="normal" >0.6</text>
<text x="1126.0" y="577.1" font-size="11.0" text-anchor="start" fill="#000" font-weight="normal" >0.4</text>
<text x="1126.0" y="588.8" font-size="11.0" text-anchor="start" fill="#000" font-weight="normal" >0.2</text>
<text x="1126.0" y="600.5" font-size="11.0" text-anchor="start" fill="#000" font-weight="normal" >0.0</text>
<text x="1126.0" y="612.2" font-size="11.0" text-anchor="start" fill="#000" font-weight="normal" >-0.2</text>
<text x="1126.0" y="623.9" font-size="11.0" text-anchor="start" fill="#000" font-weight="normal" >-0.4</text>
<text x="1126.0" y="635.6" font-size="11.0" text-anchor="start" fill="#000" font-weight="normal" >-0.6</text>
<text x="0.0" y="0.0" font-size="11" text-anchor="middle" fill="#000" font-weight="normal" transform="translate(640.5 79.5) rotate(-90)" >B<tspan dy="3.2" font-size="8.8">LMN</tspan><tspan dy="-3.2" font-size="1">&#8203;</tspan> [nT]</text>
<text x="0.0" y="0.0" font-size="11" text-anchor="middle" fill="#000" font-weight="normal" transform="translate(639.0 228.0) rotate(-90)" >V<tspan dy="3.2" font-size="8.8">e LMN</tspan><tspan dy="-3.2" font-size="1">&#8203;</tspan> [km/s]</text>
<text x="0.0" y="0.0" font-size="11" text-anchor="middle" fill="#000" font-weight="normal" transform="translate(641.0 375.0) rotate(-90)" >E<tspan dy="3.2" font-size="8.8">LMN</tspan><tspan dy="-3.2" font-size="1">&#8203;</tspan>&#160; [mV m<tspan dy="-4.5" font-size="8.5">-1</tspan><tspan dy="4.5" font-size="1">&#8203;</tspan>]</text>
<text x="0.0" y="0.0" font-size="11" text-anchor="middle" fill="#000" font-weight="normal" transform="translate(644.5 521.5) rotate(-90)" >|J| [&#956;A m<tspan dy="-4.5" font-size="8.5">-2</tspan><tspan dy="4.5" font-size="1">&#8203;</tspan>]</text>
<text x="0.0" y="0.0" font-size="11" text-anchor="middle" fill="#000" font-weight="normal" transform="translate(641.0 670.0) rotate(-90)" >J*E' [nW m<tspan dy="-4.5" font-size="8.5">-3</tspan><tspan dy="4.5" font-size="1">&#8203;</tspan>]</text>
<text x="0.0" y="0.0" font-size="11" text-anchor="middle" fill="#000" font-weight="normal" transform="translate(1155.5 153.0) rotate(-90)" >Energy (eV)</text>
<text x="0.0" y="0.0" font-size="11" text-anchor="middle" fill="#000" font-weight="normal" transform="translate(1159.5 300.0) rotate(-90)" >T<tspan dy="3.2" font-size="8.8">e</tspan><tspan dy="-3.2" font-size="1">&#8203;</tspan> [eV]</text>
<text x="0.0" y="0.0" font-size="11" text-anchor="middle" fill="#000" font-weight="normal" transform="translate(1155.0 448.0) rotate(-90)" >E<tspan dy="3.2" font-size="8.8">M</tspan><tspan dy="-3.2" font-size="1">&#8203;</tspan> [mW m<tspan dy="-4.5" font-size="8.5">-2</tspan><tspan dy="4.5" font-size="1">&#8203;</tspan>]</text>
<text x="0.0" y="0.0" font-size="11" text-anchor="middle" fill="#000" font-weight="normal" transform="translate(1161.5 596.0) rotate(-90)" >J [&#956;A m<tspan dy="-4.5" font-size="8.5">-2</tspan><tspan dy="4.5" font-size="1">&#8203;</tspan>]</text>
<text x="721.5" y="723.5" font-size="11.0" text-anchor="middle" fill="#000" font-weight="normal" >21:31:00</text>
<text x="721.5" y="745.8" font-size="11.0" text-anchor="middle" fill="#000" font-weight="normal" >2.9</text>
<text x="721.5" y="763.7" font-size="11.0" text-anchor="middle" fill="#000" font-weight="normal" >-11.6</text>
<text x="721.5" y="780.5" font-size="11.0" text-anchor="middle" fill="#000" font-weight="normal" >-1.19</text>
<text x="812.8" y="723.5" font-size="11.0" text-anchor="middle" fill="#000" font-weight="normal" >21:31:10</text>
<text x="812.8" y="745.8" font-size="11.0" text-anchor="middle" fill="#000" font-weight="normal" >2.9</text>
<text x="812.8" y="763.7" font-size="11.0" text-anchor="middle" fill="#000" font-weight="normal" >-11.6</text>
<text x="812.8" y="780.5" font-size="11.0" text-anchor="middle" fill="#000" font-weight="normal" >-1.19</text>
<text x="904.1" y="723.5" font-size="11.0" text-anchor="middle" fill="#000" font-weight="normal" >21:31:20</text>
<text x="904.1" y="745.8" font-size="11.0" text-anchor="middle" fill="#000" font-weight="normal" >2.9</text>
<text x="904.1" y="763.7" font-size="11.0" text-anchor="middle" fill="#000" font-weight="normal" >-11.6</text>
<text x="904.1" y="780.5" font-size="11.0" text-anchor="middle" fill="#000" font-weight="normal" >-1.19</text>
<text x="995.4" y="723.5" font-size="11.0" text-anchor="middle" fill="#000" font-weight="normal" >21:31:30</text>
<text x="995.4" y="745.8" font-size="11.0" text-anchor="middle" fill="#000" font-weight="normal" >2.9</text>
<text x="995.4" y="763.7" font-size="11.0" text-anchor="middle" fill="#000" font-weight="normal" >-11.6</text>
<text x="995.4" y="780.5" font-size="11.0" text-anchor="middle" fill="#000" font-weight="normal" >-1.19</text>
<text x="1086.7" y="723.5" font-size="11.0" text-anchor="middle" fill="#000" font-weight="normal" >21:31:40</text>
<text x="1086.7" y="745.8" font-size="11.0" text-anchor="middle" fill="#000" font-weight="normal" >2.9</text>
<text x="1086.7" y="763.7" font-size="11.0" text-anchor="middle" fill="#000" font-weight="normal" >-11.6</text>
<text x="1086.7" y="780.5" font-size="11.0" text-anchor="middle" fill="#000" font-weight="normal" >-1.19</text>
<text x="650.5" y="745.8" font-size="11.0" text-anchor="middle" fill="#000" font-weight="normal" >X</text>
<text x="1136.0" y="745.8" font-size="11.0" text-anchor="start" fill="#000" font-weight="normal" >Re</text>
<text x="650.5" y="763.7" font-size="11.0" text-anchor="middle" fill="#000" font-weight="normal" >Y</text>
<text x="1136.0" y="763.7" font-size="11.0" text-anchor="start" fill="#000" font-weight="normal" >Re</text>
<text x="650.5" y="780.5" font-size="11.0" text-anchor="middle" fill="#000" font-weight="normal" >Z</text>
<text x="1136.0" y="780.5" font-size="11.0" text-anchor="start" fill="#000" font-weight="normal" >Re</text>
<text x="1022.3" y="836.3" font-size="11.95" text-anchor="start" fill="#000" font-weight="normal" >paschmann 25-Oct-2018 15:19</text>
<line x1="674.0" y1="54.0" x2="692.0" y2="54.0" stroke="#3030ff" stroke-width="1.0" />
<text x="693.2" y="57.2" font-size="9.5" text-anchor="start" fill="#3030ff" font-weight="normal" >B<tspan dy="3" font-size="7">L</tspan><tspan dy="-3" font-size="1">&#8203;</tspan></text>
<line x1="674.0" y1="79.5" x2="692.0" y2="79.5" stroke="#30e030" stroke-width="1.0" />
<text x="693.2" y="82.7" font-size="9.5" text-anchor="start" fill="#30e030" font-weight="normal" >B<tspan dy="3" font-size="7">M</tspan><tspan dy="-3" font-size="1">&#8203;</tspan></text>
<line x1="674.0" y1="104.5" x2="692.0" y2="104.5" stroke="#ff3030" stroke-width="1.0" />
<text x="693.2" y="107.7" font-size="9.5" text-anchor="start" fill="#ff3030" font-weight="normal" >B<tspan dy="3" font-size="7">N</tspan><tspan dy="-3" font-size="1">&#8203;</tspan></text>
<line x1="674.0" y1="198.0" x2="692.0" y2="198.0" stroke="#3030ff" stroke-width="1.0" />
<text x="693.2" y="201.2" font-size="9.5" text-anchor="start" fill="#3030ff" font-weight="normal" >V<tspan dy="3" font-size="7">L</tspan><tspan dy="-3" font-size="1">&#8203;</tspan></text>
<line x1="674.0" y1="213.5" x2="692.0" y2="213.5" stroke="#30e030" stroke-width="1.0" />
<text x="693.2" y="216.7" font-size="9.5" text-anchor="start" fill="#30e030" font-weight="normal" >V<tspan dy="3" font-size="7">M</tspan><tspan dy="-3" font-size="1">&#8203;</tspan></text>
<line x1="674.0" y1="229.5" x2="692.0" y2="229.5" stroke="#ff3030" stroke-width="1.0" />
<text x="693.2" y="232.7" font-size="9.5" text-anchor="start" fill="#ff3030" font-weight="normal" >V<tspan dy="3" font-size="7">N</tspan><tspan dy="-3" font-size="1">&#8203;</tspan></text>
<line x1="674.0" y1="271.5" x2="692.0" y2="271.5" stroke="#ff3030" stroke-width="1.0" />
<text x="693.2" y="274.7" font-size="10" text-anchor="start" fill="#ff3030" font-weight="normal" >T<tspan dy="3" font-size="7">||</tspan><tspan dy="-3" font-size="1">&#8203;</tspan></text>
<line x1="674.0" y1="286.0" x2="692.0" y2="286.0" stroke="#303030" stroke-width="1.0" />
<text x="693.2" y="289.2" font-size="10" text-anchor="start" fill="#303030" font-weight="normal" >T<tspan dy="3" font-size="7">&#8869;</tspan><tspan dy="-3" font-size="1">&#8203;</tspan></text>
<line x1="674.0" y1="342.5" x2="693.0" y2="342.5" stroke="#3030ff" stroke-width="1.0" />
<text x="694.2" y="345.7" font-size="9.5" text-anchor="start" fill="#3030ff" font-weight="normal" >E<tspan dy="2.5" font-size="6.5">L</tspan><tspan dy="-2.5" font-size="1">&#8203;</tspan></text>
<line x1="674.0" y1="352.5" x2="693.0" y2="352.5" stroke="#30e030" stroke-width="1.0" />
<text x="694.2" y="355.7" font-size="9.5" text-anchor="start" fill="#30e030" font-weight="normal" >E<tspan dy="2.5" font-size="6.5">M</tspan><tspan dy="-2.5" font-size="1">&#8203;</tspan></text>
<line x1="674.0" y1="362.5" x2="693.0" y2="362.5" stroke="#ff3030" stroke-width="1.0" />
<text x="694.2" y="365.7" font-size="9.5" text-anchor="start" fill="#ff3030" font-weight="normal" >E<tspan dy="2.5" font-size="6.5">N</tspan><tspan dy="-2.5" font-size="1">&#8203;</tspan></text>
<line x1="674.0" y1="417.5" x2="692.0" y2="417.5" stroke="#303030" stroke-width="1.0" />
<text x="693.2" y="420.7" font-size="8.5" text-anchor="start" fill="#303030" font-weight="normal" >-(VexB)<tspan dy="2" font-size="6">M</tspan><tspan dy="-2" font-size="1">&#8203;</tspan></text>
<line x1="674.0" y1="428.0" x2="692.0" y2="428.0" stroke="#30e030" stroke-width="1.0" />
<text x="693.2" y="431.2" font-size="9" text-anchor="start" fill="#30e030" font-weight="normal" >E<tspan dy="2" font-size="6">M</tspan><tspan dy="-2" font-size="1">&#8203;</tspan></text>
<line x1="674.0" y1="500.0" x2="692.0" y2="500.0" stroke="#404040" stroke-width="1.0" />
<text x="692.8" y="502.9" font-size="9" text-anchor="start" fill="#404040" font-weight="normal" >|J|</text>
<line x1="674.0" y1="563.0" x2="692.0" y2="563.0" stroke="#ff00ff" stroke-width="1.3" stroke-dasharray="1.2 1" />
<text x="692.8" y="565.9" font-size="8.5" text-anchor="start" fill="#ff00ff" font-weight="normal" >t&#160;&#160;maxJ</text>
<line x1="674.0" y1="570.5" x2="692.0" y2="570.5" stroke="#3030ff" stroke-width="1.0" />
<text x="693.2" y="573.7" font-size="9" text-anchor="start" fill="#3030ff" font-weight="normal" >J<tspan dy="2" font-size="6">L</tspan><tspan dy="-2" font-size="1">&#8203;</tspan></text>
<line x1="674.0" y1="578.5" x2="692.0" y2="578.5" stroke="#30e030" stroke-width="1.0" />
<text x="693.2" y="581.7" font-size="9" text-anchor="start" fill="#30e030" font-weight="normal" >J<tspan dy="2" font-size="6">M</tspan><tspan dy="-2" font-size="1">&#8203;</tspan></text>
<line x1="674.0" y1="586.0" x2="692.0" y2="586.0" stroke="#ff3030" stroke-width="1.0" />
<text x="693.2" y="589.2" font-size="9" text-anchor="start" fill="#ff3030" font-weight="normal" >J<tspan dy="2" font-size="6">N</tspan><tspan dy="-2" font-size="1">&#8203;</tspan></text>
<line x1="674.0" y1="647.5" x2="692.0" y2="647.5" stroke="#303030" stroke-width="1.0" />
<text x="692.8" y="650.4" font-size="8.5" text-anchor="start" fill="#303030" font-weight="normal" >&#160;J*E'</text>
</svg>
<pre>:
 Event ID         : 20160221<span class="u">_</span>213054
 FlagStr          : ot,udef,nmon,bf,s,compl,keep
 GSEpos [Re]      : [ 2.89, -11.57, -1.19 ]
                  :
 LMN coords       :
    L             : [ -0.829, -0.542,  0.138 ]
    M             : [  0.260, -0.156,  0.953 ]
    N             : [  0.495, -0.826, -0.270 ]
                  :
  Times           : (as indicated by red, green lines in plots)
    t<span class="u">_</span>0           : 21:31:19  (red dotted line)
    t<span class="u">_</span>MVAB1       : 21:31:04  (leftmost green line)
    t<span class="u">_</span>MVAB2       : 21:31:33  (rightmost green line)
                  :
|Bmin|, |Vmax|    :
    Bmin          : 15.27 [nT]  at 21:31:36
    Vmax<span class="u">_</span>tht      : 111.14 [km/s]  at 21:31:27
    Vmax<span class="u">_</span>tburst   : 111.14 [km/s]  at 21:31:13
                  :
 Normals          :
    N MVAB        : [  0.360, -0.856,  0.371 ]   (L2/L1 = 1.68)
    N MVAB0       : [  0.268, -0.862, -0.431 ]   (L3/L2 = 6.19)
    N MFR         : [ -0.186,  0.817,  0.546 ]   (L2/L1 = 1.65)
                  :
 Durations [s]    : (between red, resp green lines)
    T<span class="u">_</span>CS          : 14.52
    T<span class="u">_</span>MFR/HT      : 29.04
                  :
 Velocity [km/s]  : (based on FPI ion data)
    VnMFR         : -26.4
    VHT.Nmvab     : 40.9  (HTcc = 0.950)
    VHT.Nmvab0    : 34.6
                  :
 CS thickness [km]: (D=T<span class="u">_</span>CS * Vs from above)
    D1=TCS*Vnmfr  : 383
    D2=TCS*VHTn   : 594
    D3=TCS*VHTn0  : 502
                  :
 Currents [uA/m2] :
    Jave<span class="u">_</span>CS       : 0.127
    Jmax<span class="u">_</span>THT      : 0.644  at 21:31:07
    Jmax<span class="u">_</span>brst     : 0.644  at 21:31:07
                  :
 HPCA mom [1/cm3] :   Min   -  Max    (  Ave   )  within full brst int
    H+            :  11.911 - 16.018  ( 15.626 )
    He+           :   0.000 -  0.001  (  0.001 )
    He++          :   0.099 -  0.123  (  0.123 )
    O+            :   0.000 -  0.002  (  0.000 )
                  :
 SEH date         : 2019-11-29 09:49:13
                  :
</pre>
</body></html>
